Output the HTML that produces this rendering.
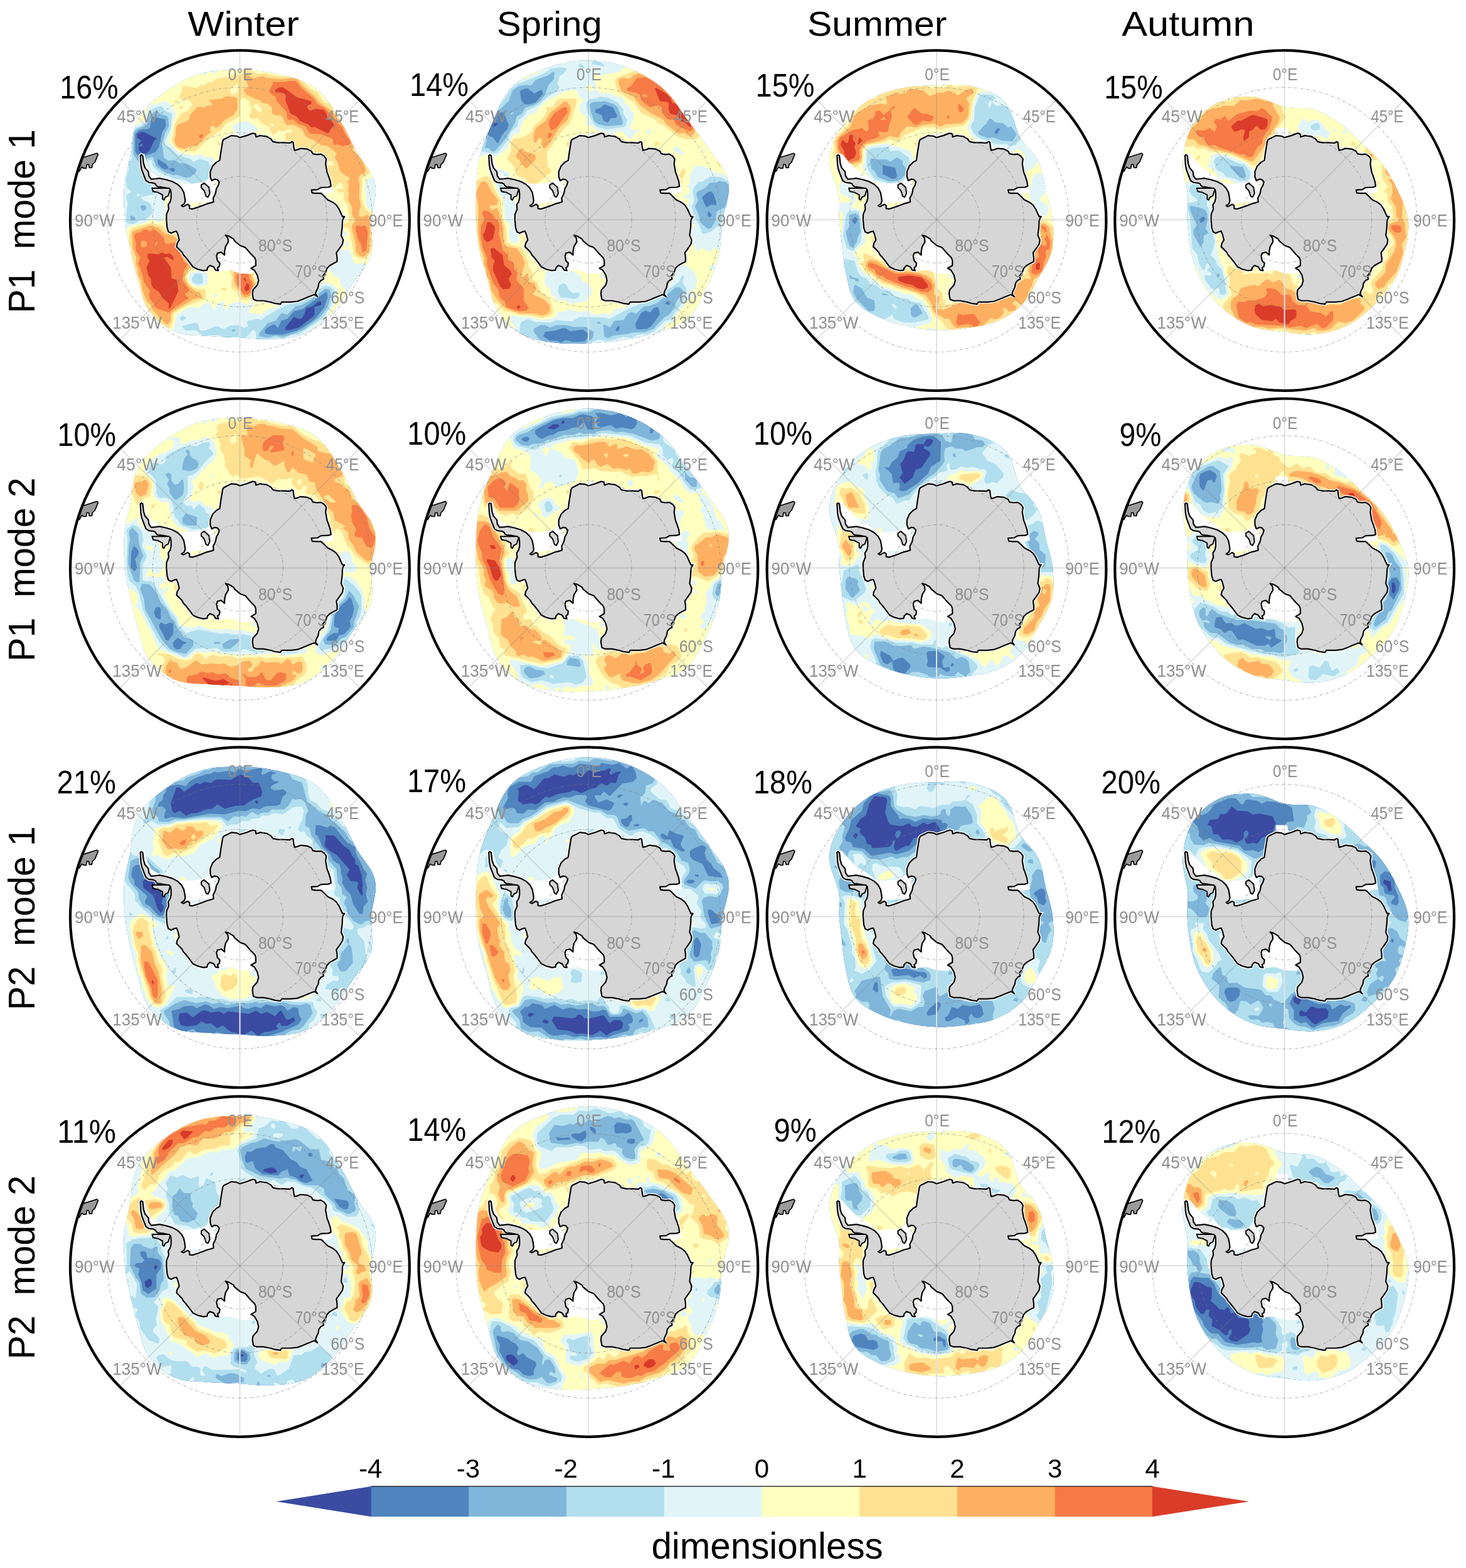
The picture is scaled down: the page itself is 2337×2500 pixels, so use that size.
<!DOCTYPE html><html><head><meta charset="utf-8"><title>Seasonal modes</title><style>html,body{margin:0;padding:0;background:#fff;}body{width:2337px;height:2500px;overflow:hidden;}svg{display:block;}text{font-family:"Liberation Sans",Arial,sans-serif;}</style></head><body>
<svg xmlns="http://www.w3.org/2000/svg" width="2337" height="2500" viewBox="0 0 2337 2500">
<rect width="2337" height="2500" fill="#fff"/>
<defs>
<path id="land" d="M-157.2,-103.5 -154.9,-102.2 -153.4,-89.4 -151.2,-82.7 -145.9,-76.6 -145.1,-69.8 -141.4,-64.6 -133.8,-65.3 -127.8,-66.1 -117.2,-63.8 -107.5,-60.8 -99.2,-56.3 -93.1,-50.3 -89.4,-43.5 -87.9,-35.9 -87.1,-29.9 -88.6,-25.4 -93.1,-22.4 -90.1,-20.9 -83.3,-24.6 -80.3,-22.4 -80.3,-17.8 -75.8,-17.1 -68.3,-19.4 -60,-22.4 -52.4,-25.4 -46.4,-26.9 -41.9,-28.4 -42.6,-34.4 -38.9,-41.9 -37.4,-49.5 -34.4,-54.8 -32.9,-60 -35.9,-63.8 -40.4,-64.6 -44.9,-62.3 -47.2,-68.3 -47.2,-76.6 -43.4,-85.7 -37.4,-91.7 -32.1,-94.7 -30.6,-106 -29.1,-115.2 -27.4,-125.6 -25.7,-128.1 -17,-132.4 -13.6,-134.2 -5,-133.3 0,-131 10.8,-134.2 20.5,-137.9 24.8,-136.9 25.8,-132 32.3,-134.2 43.1,-132.6 49.5,-128.8 52.7,-124.5 60.3,-122.9 70,-122.9 79.7,-122.3 82.9,-124.5 85,-123.4 86.1,-114.8 87.2,-110.5 91.5,-111.6 96.9,-113.7 107.6,-112.6 114.1,-109.4 116.3,-105.1 122.7,-104 129.2,-104.6 134.6,-101.3 137.8,-96.5 136.7,-89 138.9,-76 141,-70.7 144.2,-61 145.3,-53.4 141,-51.8 129.2,-51.3 123.8,-48 114.1,-47.5 115.2,-42.7 120.6,-42.1 129.2,-42.1 133.5,-38.4 139.9,-31.9 148.5,-27.6 153.9,-23.3 158.2,-16.8 161.5,-9.3 163.6,-5 166.8,-5 164.7,-1.7 163.6,1.5 163.1,12.3 161.5,24.8 164.7,32.3 163.6,38.8 159.3,45.2 153.9,52.7 155,60.3 155,66.7 150.7,68.9 143.2,73.2 138.9,77.5 136.7,84 132.4,89.3 133.5,94.7 129.2,96.9 125.9,101.2 124.9,107.6 121.6,114.1 120.6,118.4 123.8,122.7 118.4,119.5 107.6,123.8 100.1,127 91.5,130.2 80.7,131.3 66.7,131.3 64.6,134.6 56,133.5 48.4,131.3 37.7,129.2 26.9,129.2 21.5,127 20,118 20.8,112 27.6,104.5 29.8,97 27.6,88 23,80.4 17.8,77.4 25.3,72.9 25.3,65.4 23.8,60.8 17,54 8.7,44.3 0.4,41.2 -8.6,33.7 -10.1,30.7 -17.7,26.2 -22.9,24.7 -19.2,29.2 -18.4,35.2 -22.9,42.8 -24.4,50.3 -24.4,56.3 -29.7,51.8 -35.7,53.3 -37.2,57.8 -35.7,65.4 -32,69.1 -32.7,74.4 -35.7,76.7 -34.2,81.2 -38.8,80.4 -41.8,75.2 -47.8,72.9 -51.6,76.7 -52.3,80.4 -58.3,81.2 -67.4,78.9 -74.9,75.2 -81,66.9 -87,59.3 -90,56.3 -92.4,51.7 -97.7,46.3 -101,43.1 -99.9,37.7 -96.7,32.3 -98.8,23.7 -101,18.3 -105.3,19.4 -109.6,21.5 -113.9,19.4 -116,12.9 -117.1,0 -117,-8.4 -113.5,-17 -114.2,-23.9 -111.2,-28.4 -109.7,-34.4 -109.7,-42 -110.5,-48 -115.7,-50.3 -123.3,-51.8 -130.1,-52.5 -133.1,-54 -134.6,-57 -137.6,-58.5 -145.1,-59.3 -149.7,-62.3 -152.7,-69.8 -156.4,-79.6 -157.9,-87.2 -158.7,-102.2Z"/>
<path id="isl" d="M-139.9,-50.3 -112.7,-50.3 -111.2,-48 -114.2,-38.2 -118.8,-35.9 -121,-31.4 -123.3,-32.9 -123.3,-39.7 -130.8,-43.5 -138.3,-45ZM-61.5,-55.5 -57,-58.5 -49.4,-51.8 -47.9,-41.9 -50.9,-35.9 -53.9,-37.4 -57,-46.5 -61.5,-51Z"/>
<path id="shelf" d="M-152.7,-106 -147.4,-87.2 -141.4,-75.9 -132.3,-69.8 -117.2,-66.1 -102.2,-59.3 -87.1,-57 -72,-57.8 -60.7,-59.3 -53.2,-63.1 -47.9,-68.3 -46.4,-75.9 -40,-60 -40,-30 -90,-25 -140,-60 -156,-100ZM-34,82 -15,80.5 0.4,85.7 18.5,86.5 24,80 25,60 0,40 -23,25 -24,55 -37,58 -34,80ZM112,-49 125,-51 141,-53 147,-54 149,-44 135,-41 116,-42Z"/>
<clipPath id="dom0"><path d="M0,-239 4.2,-238.9 8.3,-238.8 12.5,-238.7 16.7,-238.4 20.8,-238.2 25,-237.8 29.2,-237.4 33.3,-237 37.4,-236.4 41.6,-235.8 45.7,-235.2 49.8,-234.5 53.9,-233.6 58,-232.8 62.1,-231.8 66.2,-230.8 70.3,-229.9 74.4,-228.9 78.4,-227.8 82.5,-226.7 86.6,-225.6 90.6,-224.4 94.7,-223 98.6,-221.6 102.6,-220 106.4,-218.2 110.2,-216.3 113.9,-214.3 117.5,-212 121,-209.6 124.3,-206.9 127.5,-204.1 130.6,-201 133.4,-197.8 136.2,-194.5 138.9,-191.1 141.4,-187.6 143.8,-184.1 146.1,-180.5 148.4,-176.8 150.6,-173.2 152.7,-169.6 154.9,-166.1 157,-162.5 159.1,-159.1 161.2,-155.7 163.2,-152.2 165.2,-148.7 167.1,-145.2 168.9,-141.7 170.7,-138.2 172.4,-134.7 174.2,-131.2 175.9,-127.8 177.5,-124.3 179.2,-120.9 180.9,-117.5 182.7,-114.1 184.4,-110.8 186.2,-107.5 188.1,-104.3 190.1,-101.1 192.3,-98 194.5,-94.9 196.8,-91.8 199.1,-88.7 201.4,-85.5 203.7,-82.3 205.9,-79 208,-75.7 209.9,-72.3 211.6,-68.8 213.2,-65.2 214.4,-61.5 215.4,-57.7 216,-53.9 216.4,-50 216.4,-46 216.2,-42 215.9,-38.1 215.3,-34.1 214.6,-30.2 213.8,-26.3 213,-22.4 212.1,-18.6 211.3,-14.8 210.5,-11 209.9,-7.3 209.3,-3.7 209,0 208.9,3.6 208.9,7.3 209,11 209.3,14.6 209.6,18.3 209.9,22.1 210.3,25.8 210.6,29.6 210.8,33.4 210.9,37.2 210.9,41 210.6,44.8 210.2,48.5 209.6,52.3 208.6,55.9 207.4,59.5 206,63 204.4,66.4 202.6,69.7 200.6,73 198.5,76.2 196.3,79.3 194.1,82.4 191.8,85.4 189.5,88.4 187.2,91.3 184.9,94.2 182.6,97.1 180.5,100 178.4,103 176.4,106 174.4,109 172.5,112 170.5,115 168.6,118.1 166.6,121.1 164.7,124.1 162.7,127.1 160.6,130.1 158.5,133 156.4,136 154.2,138.8 151.9,141.6 149.5,144.4 147.1,147.1 144.6,149.7 142,152.3 139.5,154.9 136.9,157.5 134.3,160 131.6,162.5 128.9,164.9 126.1,167.3 123.2,169.6 120.3,171.7 117.3,173.8 114.2,175.8 111,177.7 107.8,179.4 104.5,181 101.1,182.4 97.7,183.7 94.2,184.8 90.6,185.7 87,186.6 83.4,187.3 79.7,187.9 76.1,188.4 72.5,188.8 68.8,189.1 65.2,189.4 61.6,189.7 58.1,189.9 54.5,190.1 51,190.3 47.5,190.5 44,190.5 40.5,190.5 37,190.5 33.6,190.4 30.1,190.2 26.7,190 23.3,189.7 19.9,189.5 16.6,189.2 13.2,188.9 9.9,188.7 6.6,188.4 3.3,188.2 0,188 -3.3,187.8 -6.6,187.7 -9.8,187.6 -13.1,187.4 -16.4,187.3 -19.7,187.2 -23,187 -26.3,186.9 -29.6,186.7 -32.9,186.6 -36.2,186.4 -39.6,186.2 -42.9,186 -46.3,185.7 -49.7,185.5 -53.1,185.2 -56.6,185 -60.1,184.9 -63.6,184.8 -67.2,184.6 -70.8,184.5 -74.4,184.3 -78.1,184 -81.8,183.6 -85.4,183.1 -89,182.5 -92.6,181.8 -96.2,180.8 -99.6,179.7 -103,178.4 -106.3,176.9 -109.6,175.3 -112.7,173.6 -115.9,171.8 -118.9,169.9 -121.9,167.8 -124.9,165.7 -127.7,163.4 -130.4,161.1 -133.1,158.6 -135.7,156.1 -138.2,153.4 -140.5,150.7 -142.8,147.9 -145,145 -147,141.9 -148.8,138.8 -150.5,135.5 -152,132.1 -153.3,128.7 -154.6,125.2 -155.7,121.6 -156.7,118.1 -157.6,114.5 -158.5,111 -159.4,107.5 -160.2,104 -161,100.6 -161.9,97.3 -162.8,94 -163.8,90.8 -164.7,87.6 -165.6,84.4 -166.4,81.2 -167.3,78 -168.1,74.9 -169,71.7 -169.8,68.6 -170.5,65.5 -171.3,62.3 -172,59.2 -172.8,56.1 -173.5,53 -174.2,49.9 -174.8,46.8 -175.5,43.8 -176.1,40.7 -176.8,37.6 -177.4,34.5 -178,31.4 -178.6,28.3 -179.2,25.2 -179.8,22.1 -180.3,19 -180.9,15.8 -181.4,12.7 -181.8,9.5 -182.3,6.4 -182.6,3.2 -183,0 -183.3,-3.2 -183.6,-6.4 -183.9,-9.6 -184.2,-12.9 -184.4,-16.1 -184.6,-19.4 -184.8,-22.7 -184.9,-26 -185,-29.3 -185,-32.6 -185,-36 -185,-39.3 -184.9,-42.7 -184.7,-46.1 -184.5,-49.4 -184.2,-52.8 -183.8,-56.2 -183.3,-59.6 -182.8,-62.9 -182.2,-66.3 -181.5,-69.7 -180.9,-73.1 -180.1,-76.5 -179.4,-79.9 -178.6,-83.3 -177.9,-86.8 -177.1,-90.2 -176.4,-93.8 -175.6,-97.4 -174.9,-101 -174.3,-104.7 -173.7,-108.6 -173.2,-112.5 -172.7,-116.5 -172.2,-120.6 -171.7,-124.7 -171.1,-128.9 -170.4,-133.1 -169.6,-137.3 -168.6,-141.5 -167.5,-145.6 -166.3,-149.7 -164.8,-153.7 -163.1,-157.5 -161.2,-161.2 -159.1,-164.8 -156.9,-168.2 -154.4,-171.5 -151.9,-174.7 -149.2,-177.8 -146.4,-180.8 -143.5,-183.7 -140.5,-186.5 -137.5,-189.2 -134.3,-191.9 -131.2,-194.5 -127.9,-197 -124.6,-199.5 -121.3,-201.9 -118,-204.4 -114.6,-206.8 -111.2,-209.1 -107.7,-211.4 -104.2,-213.7 -100.6,-215.8 -97,-217.9 -93.4,-219.9 -89.6,-221.9 -85.9,-223.7 -82.1,-225.5 -78.2,-227.2 -74.3,-228.7 -70.4,-230.2 -66.4,-231.5 -62.4,-232.8 -58.3,-233.9 -54.2,-234.9 -50.1,-235.7 -46,-236.5 -41.8,-237.1 -37.6,-237.6 -33.5,-238 -29.3,-238.4 -25.1,-238.6 -20.9,-238.8 -16.7,-238.9 -12.5,-239 -8.3,-239 -4.2,-239Z"/></clipPath>
<mask id="gm0" maskUnits="userSpaceOnUse" x="-280" y="-280" width="560" height="560"><rect x="-280" y="-280" width="560" height="560" fill="#fff"/><path d="M0,-239 4.2,-238.9 8.3,-238.8 12.5,-238.7 16.7,-238.4 20.8,-238.2 25,-237.8 29.2,-237.4 33.3,-237 37.4,-236.4 41.6,-235.8 45.7,-235.2 49.8,-234.5 53.9,-233.6 58,-232.8 62.1,-231.8 66.2,-230.8 70.3,-229.9 74.4,-228.9 78.4,-227.8 82.5,-226.7 86.6,-225.6 90.6,-224.4 94.7,-223 98.6,-221.6 102.6,-220 106.4,-218.2 110.2,-216.3 113.9,-214.3 117.5,-212 121,-209.6 124.3,-206.9 127.5,-204.1 130.6,-201 133.4,-197.8 136.2,-194.5 138.9,-191.1 141.4,-187.6 143.8,-184.1 146.1,-180.5 148.4,-176.8 150.6,-173.2 152.7,-169.6 154.9,-166.1 157,-162.5 159.1,-159.1 161.2,-155.7 163.2,-152.2 165.2,-148.7 167.1,-145.2 168.9,-141.7 170.7,-138.2 172.4,-134.7 174.2,-131.2 175.9,-127.8 177.5,-124.3 179.2,-120.9 180.9,-117.5 182.7,-114.1 184.4,-110.8 186.2,-107.5 188.1,-104.3 190.1,-101.1 192.3,-98 194.5,-94.9 196.8,-91.8 199.1,-88.7 201.4,-85.5 203.7,-82.3 205.9,-79 208,-75.7 209.9,-72.3 211.6,-68.8 213.2,-65.2 214.4,-61.5 215.4,-57.7 216,-53.9 216.4,-50 216.4,-46 216.2,-42 215.9,-38.1 215.3,-34.1 214.6,-30.2 213.8,-26.3 213,-22.4 212.1,-18.6 211.3,-14.8 210.5,-11 209.9,-7.3 209.3,-3.7 209,0 208.9,3.6 208.9,7.3 209,11 209.3,14.6 209.6,18.3 209.9,22.1 210.3,25.8 210.6,29.6 210.8,33.4 210.9,37.2 210.9,41 210.6,44.8 210.2,48.5 209.6,52.3 208.6,55.9 207.4,59.5 206,63 204.4,66.4 202.6,69.7 200.6,73 198.5,76.2 196.3,79.3 194.1,82.4 191.8,85.4 189.5,88.4 187.2,91.3 184.9,94.2 182.6,97.1 180.5,100 178.4,103 176.4,106 174.4,109 172.5,112 170.5,115 168.6,118.1 166.6,121.1 164.7,124.1 162.7,127.1 160.6,130.1 158.5,133 156.4,136 154.2,138.8 151.9,141.6 149.5,144.4 147.1,147.1 144.6,149.7 142,152.3 139.5,154.9 136.9,157.5 134.3,160 131.6,162.5 128.9,164.9 126.1,167.3 123.2,169.6 120.3,171.7 117.3,173.8 114.2,175.8 111,177.7 107.8,179.4 104.5,181 101.1,182.4 97.7,183.7 94.2,184.8 90.6,185.7 87,186.6 83.4,187.3 79.7,187.9 76.1,188.4 72.5,188.8 68.8,189.1 65.2,189.4 61.6,189.7 58.1,189.9 54.5,190.1 51,190.3 47.5,190.5 44,190.5 40.5,190.5 37,190.5 33.6,190.4 30.1,190.2 26.7,190 23.3,189.7 19.9,189.5 16.6,189.2 13.2,188.9 9.9,188.7 6.6,188.4 3.3,188.2 0,188 -3.3,187.8 -6.6,187.7 -9.8,187.6 -13.1,187.4 -16.4,187.3 -19.7,187.2 -23,187 -26.3,186.9 -29.6,186.7 -32.9,186.6 -36.2,186.4 -39.6,186.2 -42.9,186 -46.3,185.7 -49.7,185.5 -53.1,185.2 -56.6,185 -60.1,184.9 -63.6,184.8 -67.2,184.6 -70.8,184.5 -74.4,184.3 -78.1,184 -81.8,183.6 -85.4,183.1 -89,182.5 -92.6,181.8 -96.2,180.8 -99.6,179.7 -103,178.4 -106.3,176.9 -109.6,175.3 -112.7,173.6 -115.9,171.8 -118.9,169.9 -121.9,167.8 -124.9,165.7 -127.7,163.4 -130.4,161.1 -133.1,158.6 -135.7,156.1 -138.2,153.4 -140.5,150.7 -142.8,147.9 -145,145 -147,141.9 -148.8,138.8 -150.5,135.5 -152,132.1 -153.3,128.7 -154.6,125.2 -155.7,121.6 -156.7,118.1 -157.6,114.5 -158.5,111 -159.4,107.5 -160.2,104 -161,100.6 -161.9,97.3 -162.8,94 -163.8,90.8 -164.7,87.6 -165.6,84.4 -166.4,81.2 -167.3,78 -168.1,74.9 -169,71.7 -169.8,68.6 -170.5,65.5 -171.3,62.3 -172,59.2 -172.8,56.1 -173.5,53 -174.2,49.9 -174.8,46.8 -175.5,43.8 -176.1,40.7 -176.8,37.6 -177.4,34.5 -178,31.4 -178.6,28.3 -179.2,25.2 -179.8,22.1 -180.3,19 -180.9,15.8 -181.4,12.7 -181.8,9.5 -182.3,6.4 -182.6,3.2 -183,0 -183.3,-3.2 -183.6,-6.4 -183.9,-9.6 -184.2,-12.9 -184.4,-16.1 -184.6,-19.4 -184.8,-22.7 -184.9,-26 -185,-29.3 -185,-32.6 -185,-36 -185,-39.3 -184.9,-42.7 -184.7,-46.1 -184.5,-49.4 -184.2,-52.8 -183.8,-56.2 -183.3,-59.6 -182.8,-62.9 -182.2,-66.3 -181.5,-69.7 -180.9,-73.1 -180.1,-76.5 -179.4,-79.9 -178.6,-83.3 -177.9,-86.8 -177.1,-90.2 -176.4,-93.8 -175.6,-97.4 -174.9,-101 -174.3,-104.7 -173.7,-108.6 -173.2,-112.5 -172.7,-116.5 -172.2,-120.6 -171.7,-124.7 -171.1,-128.9 -170.4,-133.1 -169.6,-137.3 -168.6,-141.5 -167.5,-145.6 -166.3,-149.7 -164.8,-153.7 -163.1,-157.5 -161.2,-161.2 -159.1,-164.8 -156.9,-168.2 -154.4,-171.5 -151.9,-174.7 -149.2,-177.8 -146.4,-180.8 -143.5,-183.7 -140.5,-186.5 -137.5,-189.2 -134.3,-191.9 -131.2,-194.5 -127.9,-197 -124.6,-199.5 -121.3,-201.9 -118,-204.4 -114.6,-206.8 -111.2,-209.1 -107.7,-211.4 -104.2,-213.7 -100.6,-215.8 -97,-217.9 -93.4,-219.9 -89.6,-221.9 -85.9,-223.7 -82.1,-225.5 -78.2,-227.2 -74.3,-228.7 -70.4,-230.2 -66.4,-231.5 -62.4,-232.8 -58.3,-233.9 -54.2,-234.9 -50.1,-235.7 -46,-236.5 -41.8,-237.1 -37.6,-237.6 -33.5,-238 -29.3,-238.4 -25.1,-238.6 -20.9,-238.8 -16.7,-238.9 -12.5,-239 -8.3,-239 -4.2,-239Z" fill="#000"/><use href="#land" fill="#fff"/><use href="#shelf" fill="#fff"/></mask>
<clipPath id="dom1"><path d="M0,-254 4.4,-253.9 8.9,-253.7 13.3,-253.4 17.7,-253 22.1,-252.4 26.5,-251.8 30.8,-251.1 35.2,-250.2 39.5,-249.3 43.8,-248.2 48,-247.1 52.2,-245.8 56.4,-244.5 60.6,-243 64.7,-241.5 68.8,-239.9 72.8,-238.1 76.8,-236.3 80.7,-234.4 84.6,-232.4 88.4,-230.3 92.2,-228.2 95.9,-225.9 99.5,-223.6 103.1,-221.1 106.6,-218.6 110.1,-216.1 113.5,-213.4 116.8,-210.7 120,-207.8 123.1,-204.9 126.1,-201.9 129,-198.7 131.8,-195.5 134.5,-192.1 137.1,-188.8 139.7,-185.3 142.1,-181.9 144.5,-178.4 146.8,-175 149.2,-171.6 151.4,-168.2 153.7,-164.9 156.1,-161.6 158.4,-158.4 160.8,-155.2 163.1,-152.1 165.5,-149 167.9,-145.9 170.2,-142.8 172.6,-139.8 175,-136.7 177.3,-133.6 179.6,-130.5 181.9,-127.4 184.2,-124.3 186.5,-121.1 188.7,-117.9 191,-114.7 193.1,-111.5 195.3,-108.3 197.6,-105.1 200,-101.9 202.4,-98.7 204.8,-95.5 207.1,-92.2 209.5,-88.9 211.8,-85.6 213.9,-82.1 216,-78.6 217.9,-75 219.6,-71.3 221,-67.6 222.2,-63.7 223.1,-59.8 223.7,-55.8 224,-51.7 223.9,-47.6 223.6,-43.5 223.1,-39.3 222.4,-35.2 221.5,-31.1 220.5,-27.1 219.5,-23.1 218.4,-19.1 217.4,-15.2 216.4,-11.3 215.4,-7.5 214.6,-3.7 214,0 213.5,3.7 213.1,7.4 212.7,11.1 212.4,14.9 212.2,18.6 211.9,22.3 211.6,26 211.3,29.7 211,33.4 210.7,37.1 210.3,40.9 209.8,44.6 209.2,48.3 208.5,52 207.7,55.6 206.8,59.3 205.8,62.9 204.7,66.5 203.6,70.1 202.5,73.7 201.2,77.2 199.9,80.8 198.6,84.3 197.2,87.8 195.8,91.3 194.3,94.8 192.7,98.2 191.2,101.7 189.6,105.1 187.9,108.5 186.3,111.9 184.7,115.4 183.1,118.9 181.4,122.4 179.8,125.9 178,129.4 176.3,132.8 174.4,136.2 172.4,139.6 170.3,142.9 168.1,146.1 165.7,149.2 163.2,152.2 160.5,155 157.7,157.7 154.7,160.2 151.5,162.4 148.2,164.5 144.7,166.5 141.2,168.3 137.6,169.9 133.9,171.4 130.3,172.8 126.5,174.2 122.8,175.4 119.1,176.6 115.4,177.7 111.7,178.8 108.1,179.9 104.5,181 100.9,182.1 97.4,183.1 93.8,184.1 90.2,185 86.7,185.9 83.1,186.7 79.6,187.4 76,188.1 72.5,188.8 68.9,189.4 65.4,190 61.9,190.6 58.4,191.2 55,191.7 51.5,192.2 48,192.7 44.6,193.2 41.2,193.6 37.7,194.1 34.3,194.4 30.9,194.8 27.4,195.2 24,195.5 20.6,195.8 17.2,196 13.7,196.3 10.3,196.5 6.9,196.7 3.4,196.9 0,197 -3.4,197.1 -6.9,197.3 -10.3,197.4 -13.8,197.5 -17.3,197.6 -20.8,197.6 -24.3,197.7 -27.8,197.7 -31.3,197.6 -34.8,197.5 -38.4,197.4 -41.9,197.1 -45.4,196.9 -49,196.5 -52.5,196.1 -56.1,195.6 -59.7,195.2 -63.3,194.7 -66.9,194.2 -70.5,193.6 -74.1,193 -77.7,192.3 -81.3,191.5 -84.9,190.7 -88.5,189.7 -92,188.6 -95.5,187.3 -98.9,186 -102.2,184.4 -105.5,182.7 -108.7,180.9 -111.8,178.9 -114.9,176.9 -117.8,174.7 -120.7,172.4 -123.6,170.1 -126.3,167.6 -129,165.1 -131.5,162.4 -134,159.7 -136.4,156.9 -138.7,154 -140.9,151.1 -143,148 -145,145 -146.8,141.8 -148.5,138.5 -150,135 -151.3,131.6 -152.6,128 -153.7,124.4 -154.6,120.8 -155.5,117.2 -156.4,113.6 -157.2,110 -157.9,106.5 -158.7,103 -159.4,99.6 -160.2,96.3 -161.1,93 -162,89.8 -162.9,86.6 -163.8,83.5 -164.8,80.4 -165.7,77.3 -166.7,74.2 -167.6,71.1 -168.5,68.1 -169.4,65 -170.2,62 -171,58.9 -171.8,55.8 -172.6,52.8 -173.2,49.7 -173.9,46.6 -174.4,43.5 -175,40.4 -175.4,37.3 -175.9,34.2 -176.3,31.1 -176.7,28 -177.1,24.9 -177.4,21.8 -177.7,18.7 -177.9,15.6 -178.2,12.5 -178.4,9.4 -178.6,6.2 -178.8,3.1 -179,0 -179.2,-3.1 -179.3,-6.3 -179.4,-9.4 -179.4,-12.5 -179.5,-15.7 -179.5,-18.9 -179.5,-22 -179.4,-25.2 -179.4,-28.4 -179.3,-31.6 -179.2,-34.8 -179.1,-38.1 -179,-41.3 -178.8,-44.6 -178.7,-47.9 -178.5,-51.2 -178.4,-54.5 -178.2,-57.9 -178,-61.3 -177.8,-64.7 -177.6,-68.2 -177.4,-71.7 -177.1,-75.2 -176.7,-78.7 -176.3,-82.2 -175.8,-85.8 -175.3,-89.3 -174.7,-92.9 -174,-96.4 -173.2,-100 -172.3,-103.6 -171.4,-107.1 -170.3,-110.6 -169.2,-114.1 -168,-117.7 -166.8,-121.2 -165.5,-124.7 -164.1,-128.2 -162.7,-131.8 -161.3,-135.3 -159.8,-138.9 -158.2,-142.5 -156.7,-146.1 -155.1,-149.7 -153.4,-153.4 -151.8,-157.2 -150.2,-161.1 -148.6,-165 -147,-169.1 -145.3,-173.1 -143.5,-177.2 -141.7,-181.3 -139.7,-185.4 -137.6,-189.4 -135.4,-193.4 -133.1,-197.3 -130.6,-201 -127.9,-204.7 -125,-208.1 -122,-211.3 -118.8,-214.3 -115.5,-217.2 -112,-219.9 -108.5,-222.4 -104.8,-224.7 -101,-227 -97.2,-229 -93.3,-231 -89.4,-232.9 -85.4,-234.6 -81.4,-236.3 -77.3,-237.9 -73.2,-239.5 -69.1,-241 -65,-242.4 -60.8,-243.9 -56.6,-245.2 -52.4,-246.5 -48.1,-247.6 -43.9,-248.7 -39.6,-249.7 -35.2,-250.6 -30.9,-251.4 -26.5,-252.1 -22.1,-252.7 -17.7,-253.2 -13.3,-253.6 -8.9,-253.8 -4.4,-254Z"/></clipPath>
<mask id="gm1" maskUnits="userSpaceOnUse" x="-280" y="-280" width="560" height="560"><rect x="-280" y="-280" width="560" height="560" fill="#fff"/><path d="M0,-254 4.4,-253.9 8.9,-253.7 13.3,-253.4 17.7,-253 22.1,-252.4 26.5,-251.8 30.8,-251.1 35.2,-250.2 39.5,-249.3 43.8,-248.2 48,-247.1 52.2,-245.8 56.4,-244.5 60.6,-243 64.7,-241.5 68.8,-239.9 72.8,-238.1 76.8,-236.3 80.7,-234.4 84.6,-232.4 88.4,-230.3 92.2,-228.2 95.9,-225.9 99.5,-223.6 103.1,-221.1 106.6,-218.6 110.1,-216.1 113.5,-213.4 116.8,-210.7 120,-207.8 123.1,-204.9 126.1,-201.9 129,-198.7 131.8,-195.5 134.5,-192.1 137.1,-188.8 139.7,-185.3 142.1,-181.9 144.5,-178.4 146.8,-175 149.2,-171.6 151.4,-168.2 153.7,-164.9 156.1,-161.6 158.4,-158.4 160.8,-155.2 163.1,-152.1 165.5,-149 167.9,-145.9 170.2,-142.8 172.6,-139.8 175,-136.7 177.3,-133.6 179.6,-130.5 181.9,-127.4 184.2,-124.3 186.5,-121.1 188.7,-117.9 191,-114.7 193.1,-111.5 195.3,-108.3 197.6,-105.1 200,-101.9 202.4,-98.7 204.8,-95.5 207.1,-92.2 209.5,-88.9 211.8,-85.6 213.9,-82.1 216,-78.6 217.9,-75 219.6,-71.3 221,-67.6 222.2,-63.7 223.1,-59.8 223.7,-55.8 224,-51.7 223.9,-47.6 223.6,-43.5 223.1,-39.3 222.4,-35.2 221.5,-31.1 220.5,-27.1 219.5,-23.1 218.4,-19.1 217.4,-15.2 216.4,-11.3 215.4,-7.5 214.6,-3.7 214,0 213.5,3.7 213.1,7.4 212.7,11.1 212.4,14.9 212.2,18.6 211.9,22.3 211.6,26 211.3,29.7 211,33.4 210.7,37.1 210.3,40.9 209.8,44.6 209.2,48.3 208.5,52 207.7,55.6 206.8,59.3 205.8,62.9 204.7,66.5 203.6,70.1 202.5,73.7 201.2,77.2 199.9,80.8 198.6,84.3 197.2,87.8 195.8,91.3 194.3,94.8 192.7,98.2 191.2,101.7 189.6,105.1 187.9,108.5 186.3,111.9 184.7,115.4 183.1,118.9 181.4,122.4 179.8,125.9 178,129.4 176.3,132.8 174.4,136.2 172.4,139.6 170.3,142.9 168.1,146.1 165.7,149.2 163.2,152.2 160.5,155 157.7,157.7 154.7,160.2 151.5,162.4 148.2,164.5 144.7,166.5 141.2,168.3 137.6,169.9 133.9,171.4 130.3,172.8 126.5,174.2 122.8,175.4 119.1,176.6 115.4,177.7 111.7,178.8 108.1,179.9 104.5,181 100.9,182.1 97.4,183.1 93.8,184.1 90.2,185 86.7,185.9 83.1,186.7 79.6,187.4 76,188.1 72.5,188.8 68.9,189.4 65.4,190 61.9,190.6 58.4,191.2 55,191.7 51.5,192.2 48,192.7 44.6,193.2 41.2,193.6 37.7,194.1 34.3,194.4 30.9,194.8 27.4,195.2 24,195.5 20.6,195.8 17.2,196 13.7,196.3 10.3,196.5 6.9,196.7 3.4,196.9 0,197 -3.4,197.1 -6.9,197.3 -10.3,197.4 -13.8,197.5 -17.3,197.6 -20.8,197.6 -24.3,197.7 -27.8,197.7 -31.3,197.6 -34.8,197.5 -38.4,197.4 -41.9,197.1 -45.4,196.9 -49,196.5 -52.5,196.1 -56.1,195.6 -59.7,195.2 -63.3,194.7 -66.9,194.2 -70.5,193.6 -74.1,193 -77.7,192.3 -81.3,191.5 -84.9,190.7 -88.5,189.7 -92,188.6 -95.5,187.3 -98.9,186 -102.2,184.4 -105.5,182.7 -108.7,180.9 -111.8,178.9 -114.9,176.9 -117.8,174.7 -120.7,172.4 -123.6,170.1 -126.3,167.6 -129,165.1 -131.5,162.4 -134,159.7 -136.4,156.9 -138.7,154 -140.9,151.1 -143,148 -145,145 -146.8,141.8 -148.5,138.5 -150,135 -151.3,131.6 -152.6,128 -153.7,124.4 -154.6,120.8 -155.5,117.2 -156.4,113.6 -157.2,110 -157.9,106.5 -158.7,103 -159.4,99.6 -160.2,96.3 -161.1,93 -162,89.8 -162.9,86.6 -163.8,83.5 -164.8,80.4 -165.7,77.3 -166.7,74.2 -167.6,71.1 -168.5,68.1 -169.4,65 -170.2,62 -171,58.9 -171.8,55.8 -172.6,52.8 -173.2,49.7 -173.9,46.6 -174.4,43.5 -175,40.4 -175.4,37.3 -175.9,34.2 -176.3,31.1 -176.7,28 -177.1,24.9 -177.4,21.8 -177.7,18.7 -177.9,15.6 -178.2,12.5 -178.4,9.4 -178.6,6.2 -178.8,3.1 -179,0 -179.2,-3.1 -179.3,-6.3 -179.4,-9.4 -179.4,-12.5 -179.5,-15.7 -179.5,-18.9 -179.5,-22 -179.4,-25.2 -179.4,-28.4 -179.3,-31.6 -179.2,-34.8 -179.1,-38.1 -179,-41.3 -178.8,-44.6 -178.7,-47.9 -178.5,-51.2 -178.4,-54.5 -178.2,-57.9 -178,-61.3 -177.8,-64.7 -177.6,-68.2 -177.4,-71.7 -177.1,-75.2 -176.7,-78.7 -176.3,-82.2 -175.8,-85.8 -175.3,-89.3 -174.7,-92.9 -174,-96.4 -173.2,-100 -172.3,-103.6 -171.4,-107.1 -170.3,-110.6 -169.2,-114.1 -168,-117.7 -166.8,-121.2 -165.5,-124.7 -164.1,-128.2 -162.7,-131.8 -161.3,-135.3 -159.8,-138.9 -158.2,-142.5 -156.7,-146.1 -155.1,-149.7 -153.4,-153.4 -151.8,-157.2 -150.2,-161.1 -148.6,-165 -147,-169.1 -145.3,-173.1 -143.5,-177.2 -141.7,-181.3 -139.7,-185.4 -137.6,-189.4 -135.4,-193.4 -133.1,-197.3 -130.6,-201 -127.9,-204.7 -125,-208.1 -122,-211.3 -118.8,-214.3 -115.5,-217.2 -112,-219.9 -108.5,-222.4 -104.8,-224.7 -101,-227 -97.2,-229 -93.3,-231 -89.4,-232.9 -85.4,-234.6 -81.4,-236.3 -77.3,-237.9 -73.2,-239.5 -69.1,-241 -65,-242.4 -60.8,-243.9 -56.6,-245.2 -52.4,-246.5 -48.1,-247.6 -43.9,-248.7 -39.6,-249.7 -35.2,-250.6 -30.9,-251.4 -26.5,-252.1 -22.1,-252.7 -17.7,-253.2 -13.3,-253.6 -8.9,-253.8 -4.4,-254Z" fill="#000"/><use href="#land" fill="#fff"/><use href="#shelf" fill="#fff"/></mask>
<clipPath id="dom2"><path d="M0,-214 3.7,-214.1 7.5,-214.3 11.2,-214.5 15,-214.7 18.8,-214.8 22.6,-215 26.4,-215.1 30.2,-215.2 34.1,-215.1 37.9,-215 41.8,-214.8 45.6,-214.4 49.4,-214 53.2,-213.3 56.9,-212.5 60.7,-211.6 64.4,-210.6 68.1,-209.6 71.8,-208.5 75.5,-207.4 79.1,-206.1 82.7,-204.7 86.2,-203.2 89.7,-201.5 93.1,-199.7 96.4,-197.7 99.6,-195.6 102.7,-193.2 105.7,-190.7 108.5,-187.9 111.1,-184.9 113.5,-181.6 115.6,-178 117.5,-174.2 119.2,-170.3 120.8,-166.3 122.2,-162.2 123.5,-158.1 124.7,-154 125.8,-150 127,-146.1 128.1,-142.3 129.4,-138.7 130.7,-135.4 132.2,-132.2 133.9,-129.3 135.7,-126.5 137.6,-123.9 139.6,-121.4 141.7,-118.9 143.9,-116.5 146.1,-114.2 148.3,-111.8 150.5,-109.4 152.7,-106.9 154.8,-104.4 156.8,-101.8 158.7,-99.2 160.4,-96.4 161.9,-93.5 163.3,-90.5 164.5,-87.5 165.6,-84.4 166.6,-81.2 167.4,-78.1 168.2,-74.9 168.9,-71.7 169.6,-68.5 170.2,-65.3 170.7,-62.1 171.3,-59 171.9,-55.9 172.5,-52.7 173.2,-49.7 173.9,-46.6 174.6,-43.5 175.5,-40.5 176.3,-37.5 177.2,-34.4 178,-31.4 178.9,-28.3 179.8,-25.3 180.6,-22.2 181.4,-19.1 182.2,-15.9 182.9,-12.8 183.6,-9.6 184.1,-6.4 184.6,-3.2 185,0 185.3,3.2 185.6,6.5 185.9,9.7 186.1,13 186.3,16.3 186.4,19.6 186.4,22.9 186.4,26.2 186.3,29.5 186.1,32.8 185.8,36.1 185.4,39.4 184.9,42.7 184.3,45.9 183.5,49.2 182.7,52.4 181.6,55.5 180.5,58.6 179.2,61.7 177.9,64.7 176.4,67.7 174.9,70.7 173.4,73.6 171.8,76.5 170.1,79.3 168.5,82.2 166.8,85 165.2,87.8 163.5,90.7 161.9,93.5 160.4,96.4 158.9,99.3 157.4,102.2 155.9,105.1 154.3,108.1 152.8,111 151.2,113.9 149.6,116.9 147.9,119.7 146.1,122.6 144.2,125.4 142.3,128.1 140.2,130.8 138,133.3 135.8,135.8 133.4,138.1 130.9,140.4 128.4,142.6 125.8,144.7 123.1,146.7 120.4,148.7 117.6,150.5 114.8,152.3 111.9,154 109,155.7 106.1,157.2 103.1,158.7 100.1,160.2 97,161.5 94,162.8 90.9,164 87.8,165.1 84.6,166.1 81.5,167 78.2,167.8 75,168.5 71.8,169.2 68.6,169.8 65.4,170.3 62.2,170.8 59,171.2 55.8,171.7 52.6,172.1 49.5,172.5 46.3,172.9 43.2,173.3 40.1,173.7 37,174.1 33.9,174.4 30.8,174.7 27.7,175 24.6,175.3 21.6,175.5 18.5,175.7 15.4,175.9 12.3,176 9.2,176.1 6.1,176.1 3.1,176.1 0,176 -3.1,175.9 -6.1,175.7 -9.2,175.5 -12.3,175.3 -15.3,175 -18.4,174.6 -21.4,174.3 -24.4,173.9 -27.5,173.4 -30.5,172.9 -33.5,172.4 -36.5,171.9 -39.5,171.3 -42.5,170.7 -45.6,170 -48.6,169.3 -51.6,168.6 -54.6,167.9 -57.6,167.2 -60.6,166.4 -63.6,165.6 -66.6,164.7 -69.5,163.8 -72.5,162.9 -75.5,161.9 -78.4,160.8 -81.4,159.7 -84.3,158.5 -87.1,157.2 -90,155.9 -92.8,154.5 -95.7,153.2 -98.6,151.8 -101.4,150.4 -104.3,148.9 -107.1,147.4 -109.9,145.8 -112.6,144.1 -115.3,142.4 -117.9,140.5 -120.4,138.6 -122.9,136.5 -125.2,134.2 -127.4,131.9 -129.4,129.4 -131.3,126.8 -132.9,124 -134.5,121.1 -135.8,118.1 -137,115 -138.1,111.8 -139.1,108.7 -140,105.5 -140.7,102.2 -141.4,99 -142.1,95.8 -142.7,92.7 -143.3,89.6 -144,86.5 -144.6,83.5 -145.3,80.5 -145.9,77.6 -146.4,74.6 -146.9,71.7 -147.4,68.7 -147.8,65.8 -148.2,62.9 -148.5,60 -148.9,57.1 -149.2,54.3 -149.5,51.5 -149.8,48.7 -150.1,45.9 -150.4,43.1 -150.7,40.4 -151,37.6 -151.3,34.9 -151.6,32.2 -152,29.5 -152.3,26.9 -152.6,24.2 -152.9,21.5 -153.2,18.8 -153.5,16.1 -153.8,13.5 -154.1,10.8 -154.3,8.1 -154.6,5.4 -154.8,2.7 -155,0 -155.2,-2.7 -155.2,-5.4 -155.2,-8.1 -155.2,-10.9 -155.1,-13.6 -155,-16.3 -154.9,-19 -154.9,-21.8 -154.9,-24.5 -154.9,-27.3 -155,-30.1 -155.2,-33 -155.5,-35.9 -155.9,-38.9 -156.5,-41.9 -157.2,-45.1 -158.2,-48.4 -159.3,-51.8 -160.6,-55.3 -161.9,-58.9 -163.3,-62.7 -164.7,-66.5 -166,-70.5 -167.3,-74.5 -168.4,-78.5 -169.3,-82.6 -170,-86.6 -170.5,-90.7 -170.7,-94.6 -170.6,-98.5 -170.2,-102.3 -169.7,-106 -168.9,-109.7 -168,-113.3 -166.9,-116.9 -165.7,-120.4 -164.4,-123.8 -162.9,-127.3 -161.3,-130.6 -159.6,-133.9 -157.8,-137.2 -155.9,-140.4 -154,-143.6 -152,-146.8 -149.9,-149.9 -147.8,-153 -145.5,-156.1 -143.2,-159.1 -140.8,-162 -138.4,-164.9 -135.8,-167.7 -133.2,-170.5 -130.5,-173.1 -127.7,-175.7 -124.8,-178.3 -121.9,-180.7 -118.9,-183.1 -115.8,-185.4 -112.7,-187.6 -109.5,-189.7 -106.2,-191.7 -102.9,-193.5 -99.5,-195.3 -96.1,-197 -92.6,-198.5 -89,-200 -85.5,-201.3 -81.9,-202.6 -78.2,-203.8 -74.6,-204.9 -70.9,-206 -67.2,-207 -63.6,-207.9 -59.9,-208.8 -56.2,-209.6 -52.5,-210.4 -48.7,-211 -45,-211.6 -41.2,-212.1 -37.5,-212.5 -33.7,-212.8 -29.9,-213 -26.2,-213.3 -22.4,-213.4 -18.7,-213.6 -14.9,-213.7 -11.2,-213.7 -7.5,-213.8 -3.7,-213.9Z"/></clipPath>
<mask id="gm2" maskUnits="userSpaceOnUse" x="-280" y="-280" width="560" height="560"><rect x="-280" y="-280" width="560" height="560" fill="#fff"/><path d="M0,-214 3.7,-214.1 7.5,-214.3 11.2,-214.5 15,-214.7 18.8,-214.8 22.6,-215 26.4,-215.1 30.2,-215.2 34.1,-215.1 37.9,-215 41.8,-214.8 45.6,-214.4 49.4,-214 53.2,-213.3 56.9,-212.5 60.7,-211.6 64.4,-210.6 68.1,-209.6 71.8,-208.5 75.5,-207.4 79.1,-206.1 82.7,-204.7 86.2,-203.2 89.7,-201.5 93.1,-199.7 96.4,-197.7 99.6,-195.6 102.7,-193.2 105.7,-190.7 108.5,-187.9 111.1,-184.9 113.5,-181.6 115.6,-178 117.5,-174.2 119.2,-170.3 120.8,-166.3 122.2,-162.2 123.5,-158.1 124.7,-154 125.8,-150 127,-146.1 128.1,-142.3 129.4,-138.7 130.7,-135.4 132.2,-132.2 133.9,-129.3 135.7,-126.5 137.6,-123.9 139.6,-121.4 141.7,-118.9 143.9,-116.5 146.1,-114.2 148.3,-111.8 150.5,-109.4 152.7,-106.9 154.8,-104.4 156.8,-101.8 158.7,-99.2 160.4,-96.4 161.9,-93.5 163.3,-90.5 164.5,-87.5 165.6,-84.4 166.6,-81.2 167.4,-78.1 168.2,-74.9 168.9,-71.7 169.6,-68.5 170.2,-65.3 170.7,-62.1 171.3,-59 171.9,-55.9 172.5,-52.7 173.2,-49.7 173.9,-46.6 174.6,-43.5 175.5,-40.5 176.3,-37.5 177.2,-34.4 178,-31.4 178.9,-28.3 179.8,-25.3 180.6,-22.2 181.4,-19.1 182.2,-15.9 182.9,-12.8 183.6,-9.6 184.1,-6.4 184.6,-3.2 185,0 185.3,3.2 185.6,6.5 185.9,9.7 186.1,13 186.3,16.3 186.4,19.6 186.4,22.9 186.4,26.2 186.3,29.5 186.1,32.8 185.8,36.1 185.4,39.4 184.9,42.7 184.3,45.9 183.5,49.2 182.7,52.4 181.6,55.5 180.5,58.6 179.2,61.7 177.9,64.7 176.4,67.7 174.9,70.7 173.4,73.6 171.8,76.5 170.1,79.3 168.5,82.2 166.8,85 165.2,87.8 163.5,90.7 161.9,93.5 160.4,96.4 158.9,99.3 157.4,102.2 155.9,105.1 154.3,108.1 152.8,111 151.2,113.9 149.6,116.9 147.9,119.7 146.1,122.6 144.2,125.4 142.3,128.1 140.2,130.8 138,133.3 135.8,135.8 133.4,138.1 130.9,140.4 128.4,142.6 125.8,144.7 123.1,146.7 120.4,148.7 117.6,150.5 114.8,152.3 111.9,154 109,155.7 106.1,157.2 103.1,158.7 100.1,160.2 97,161.5 94,162.8 90.9,164 87.8,165.1 84.6,166.1 81.5,167 78.2,167.8 75,168.5 71.8,169.2 68.6,169.8 65.4,170.3 62.2,170.8 59,171.2 55.8,171.7 52.6,172.1 49.5,172.5 46.3,172.9 43.2,173.3 40.1,173.7 37,174.1 33.9,174.4 30.8,174.7 27.7,175 24.6,175.3 21.6,175.5 18.5,175.7 15.4,175.9 12.3,176 9.2,176.1 6.1,176.1 3.1,176.1 0,176 -3.1,175.9 -6.1,175.7 -9.2,175.5 -12.3,175.3 -15.3,175 -18.4,174.6 -21.4,174.3 -24.4,173.9 -27.5,173.4 -30.5,172.9 -33.5,172.4 -36.5,171.9 -39.5,171.3 -42.5,170.7 -45.6,170 -48.6,169.3 -51.6,168.6 -54.6,167.9 -57.6,167.2 -60.6,166.4 -63.6,165.6 -66.6,164.7 -69.5,163.8 -72.5,162.9 -75.5,161.9 -78.4,160.8 -81.4,159.7 -84.3,158.5 -87.1,157.2 -90,155.9 -92.8,154.5 -95.7,153.2 -98.6,151.8 -101.4,150.4 -104.3,148.9 -107.1,147.4 -109.9,145.8 -112.6,144.1 -115.3,142.4 -117.9,140.5 -120.4,138.6 -122.9,136.5 -125.2,134.2 -127.4,131.9 -129.4,129.4 -131.3,126.8 -132.9,124 -134.5,121.1 -135.8,118.1 -137,115 -138.1,111.8 -139.1,108.7 -140,105.5 -140.7,102.2 -141.4,99 -142.1,95.8 -142.7,92.7 -143.3,89.6 -144,86.5 -144.6,83.5 -145.3,80.5 -145.9,77.6 -146.4,74.6 -146.9,71.7 -147.4,68.7 -147.8,65.8 -148.2,62.9 -148.5,60 -148.9,57.1 -149.2,54.3 -149.5,51.5 -149.8,48.7 -150.1,45.9 -150.4,43.1 -150.7,40.4 -151,37.6 -151.3,34.9 -151.6,32.2 -152,29.5 -152.3,26.9 -152.6,24.2 -152.9,21.5 -153.2,18.8 -153.5,16.1 -153.8,13.5 -154.1,10.8 -154.3,8.1 -154.6,5.4 -154.8,2.7 -155,0 -155.2,-2.7 -155.2,-5.4 -155.2,-8.1 -155.2,-10.9 -155.1,-13.6 -155,-16.3 -154.9,-19 -154.9,-21.8 -154.9,-24.5 -154.9,-27.3 -155,-30.1 -155.2,-33 -155.5,-35.9 -155.9,-38.9 -156.5,-41.9 -157.2,-45.1 -158.2,-48.4 -159.3,-51.8 -160.6,-55.3 -161.9,-58.9 -163.3,-62.7 -164.7,-66.5 -166,-70.5 -167.3,-74.5 -168.4,-78.5 -169.3,-82.6 -170,-86.6 -170.5,-90.7 -170.7,-94.6 -170.6,-98.5 -170.2,-102.3 -169.7,-106 -168.9,-109.7 -168,-113.3 -166.9,-116.9 -165.7,-120.4 -164.4,-123.8 -162.9,-127.3 -161.3,-130.6 -159.6,-133.9 -157.8,-137.2 -155.9,-140.4 -154,-143.6 -152,-146.8 -149.9,-149.9 -147.8,-153 -145.5,-156.1 -143.2,-159.1 -140.8,-162 -138.4,-164.9 -135.8,-167.7 -133.2,-170.5 -130.5,-173.1 -127.7,-175.7 -124.8,-178.3 -121.9,-180.7 -118.9,-183.1 -115.8,-185.4 -112.7,-187.6 -109.5,-189.7 -106.2,-191.7 -102.9,-193.5 -99.5,-195.3 -96.1,-197 -92.6,-198.5 -89,-200 -85.5,-201.3 -81.9,-202.6 -78.2,-203.8 -74.6,-204.9 -70.9,-206 -67.2,-207 -63.6,-207.9 -59.9,-208.8 -56.2,-209.6 -52.5,-210.4 -48.7,-211 -45,-211.6 -41.2,-212.1 -37.5,-212.5 -33.7,-212.8 -29.9,-213 -26.2,-213.3 -22.4,-213.4 -18.7,-213.6 -14.9,-213.7 -11.2,-213.7 -7.5,-213.8 -3.7,-213.9Z" fill="#000"/><use href="#land" fill="#fff"/><use href="#shelf" fill="#fff"/></mask>
<clipPath id="dom3"><path d="M0,-180 3.1,-179.4 6.2,-179 9.4,-178.7 12.5,-178.5 15.6,-178.4 18.7,-178.4 21.9,-178.3 25.1,-178.3 28.2,-178.3 31.4,-178.2 34.6,-178 37.8,-177.7 40.9,-177.2 44,-176.6 47.1,-175.8 50.1,-174.8 53.1,-173.7 56.1,-172.6 59,-171.3 61.8,-169.9 64.7,-168.5 67.5,-167 70.2,-165.4 72.9,-163.8 75.6,-162.1 78.2,-160.4 80.8,-158.6 83.4,-156.9 86,-155.1 88.5,-153.3 91,-151.4 93.4,-149.5 95.8,-147.6 98.2,-145.6 100.5,-143.5 102.8,-141.5 105,-139.4 107.2,-137.2 109.4,-135.1 111.6,-133 113.7,-130.8 115.9,-128.7 118,-126.5 120.2,-124.4 122.3,-122.3 124.5,-120.3 126.7,-118.2 129,-116.1 131.2,-114.1 133.5,-112 135.7,-109.9 138,-107.8 140.2,-105.7 142.4,-103.5 144.6,-101.3 146.8,-99 148.9,-96.7 151,-94.4 153,-92 155,-89.5 156.9,-87 158.8,-84.4 160.6,-81.8 162.4,-79.2 164.1,-76.5 165.8,-73.8 167.5,-71.1 169.1,-68.3 170.7,-65.5 172.3,-62.7 173.8,-59.8 175.3,-57 176.8,-54 178.2,-51.1 179.7,-48.1 181.1,-45.2 182.5,-42.1 184,-39.1 185.4,-36 186.9,-32.9 188.2,-29.8 189.6,-26.6 190.9,-23.4 192.1,-20.2 193.2,-16.9 194.2,-13.6 195.1,-10.2 195.9,-6.8 196.5,-3.4 197,0 197.3,3.4 197.5,6.9 197.6,10.4 197.5,13.8 197.3,17.3 197,20.7 196.6,24.1 196.1,27.6 195.6,31 195,34.4 194.3,37.8 193.6,41.1 192.8,44.5 192,47.9 191.3,51.2 190.4,54.6 189.6,58 188.7,61.3 187.8,64.7 186.8,68 185.8,71.3 184.7,74.6 183.5,77.9 182.3,81.1 181,84.4 179.6,87.6 178.1,90.8 176.6,93.9 174.9,97 173.2,100 171.4,103 169.5,105.9 167.5,108.8 165.4,111.6 163.3,114.3 161,117 158.8,119.7 156.5,122.2 154.1,124.8 151.7,127.3 149.3,129.8 146.8,132.2 144.3,134.6 141.8,137 139.3,139.3 136.8,141.6 134.2,143.9 131.7,146.2 129.1,148.5 126.5,150.7 123.8,152.9 121.1,155 118.4,157.1 115.6,159.2 112.8,161.1 110,163 107,164.8 104.1,166.6 101.1,168.2 98,169.7 94.9,171.2 91.7,172.5 88.5,173.8 85.3,174.9 82.1,176 78.8,177 75.5,177.9 72.2,178.8 68.9,179.5 65.6,180.2 62.3,180.8 58.9,181.4 55.6,181.8 52.3,182.2 48.9,182.6 45.6,182.8 42.2,182.9 38.9,183 35.6,182.9 32.2,182.7 28.9,182.5 25.6,182.2 22.3,181.9 19.1,181.5 15.8,181.1 12.6,180.7 9.4,180.2 6.3,179.8 3.1,179.4 0,179 -3.1,178.7 -6.2,178.3 -9.3,178 -12.4,177.7 -15.5,177.4 -18.6,177.1 -21.7,176.8 -24.8,176.4 -27.9,176 -30.9,175.5 -34,175 -37.1,174.4 -40.1,173.6 -43.1,172.8 -46.1,171.9 -49,170.9 -51.9,169.9 -54.8,168.7 -57.7,167.5 -60.5,166.3 -63.3,165 -66.1,163.6 -68.8,162.2 -71.5,160.7 -74.2,159.1 -76.8,157.5 -79.4,155.9 -82,154.2 -84.5,152.5 -87,150.7 -89.4,148.9 -91.8,147 -94.2,145 -96.5,143 -98.7,141 -100.9,138.9 -103.1,136.8 -105.2,134.7 -107.3,132.5 -109.3,130.3 -111.3,128 -113.2,125.8 -115.1,123.5 -117,121.1 -118.8,118.8 -120.6,116.4 -122.3,114 -124,111.6 -125.6,109.2 -127.2,106.7 -128.7,104.2 -130.2,101.7 -131.6,99.2 -133,96.6 -134.3,94.1 -135.6,91.5 -136.9,88.9 -138.1,86.3 -139.2,83.6 -140.3,81 -141.3,78.3 -142.3,75.7 -143.2,73 -144,70.3 -144.8,67.5 -145.6,64.8 -146.3,62.1 -146.9,59.4 -147.5,56.6 -148.1,53.9 -148.7,51.2 -149.2,48.5 -149.7,45.8 -150.2,43.1 -150.7,40.4 -151.1,37.7 -151.6,35 -152,32.3 -152.4,29.6 -152.7,26.9 -153,24.2 -153.3,21.6 -153.6,18.9 -153.9,16.2 -154.1,13.5 -154.3,10.8 -154.5,8.1 -154.7,5.4 -154.9,2.7 -155,0 -155.1,-2.7 -155.1,-5.4 -155.1,-8.1 -155,-10.8 -154.8,-13.5 -154.7,-16.3 -154.5,-19 -154.3,-21.7 -154.2,-24.4 -154.1,-27.2 -154,-29.9 -154.1,-32.7 -154.1,-35.6 -154.3,-38.5 -154.5,-41.4 -154.9,-44.4 -155.4,-47.5 -156,-50.7 -156.7,-54 -157.5,-57.3 -158.2,-60.7 -158.9,-64.2 -159.7,-67.8 -160.3,-71.4 -160.9,-75 -161.4,-78.7 -161.8,-82.4 -162,-86.1 -162.1,-89.8 -161.9,-93.5 -161.7,-97.2 -161.4,-100.8 -161,-104.6 -160.5,-108.3 -160,-112 -159.3,-115.8 -158.6,-119.5 -157.7,-123.2 -156.7,-126.9 -155.5,-130.5 -154.3,-134.1 -152.9,-137.6 -151.3,-141.1 -149.6,-144.5 -147.8,-147.8 -145.8,-151 -143.7,-154.1 -141.5,-157.2 -139.2,-160.2 -136.8,-163.1 -134.3,-165.9 -131.7,-168.6 -129,-171.2 -126.2,-173.7 -123.3,-176.1 -120.3,-178.3 -117.2,-180.5 -114.1,-182.5 -110.8,-184.4 -107.5,-186.2 -104.1,-187.8 -100.6,-189.3 -97.1,-190.6 -93.5,-191.8 -89.9,-192.8 -86.2,-193.7 -82.5,-194.4 -78.8,-195.1 -75.1,-195.5 -71.3,-195.9 -67.5,-196.2 -63.8,-196.3 -60,-196.3 -56.3,-196.2 -52.5,-196.1 -48.8,-195.7 -45.1,-195.2 -41.3,-194.4 -37.6,-193.4 -33.9,-192.3 -30.3,-191 -26.7,-189.7 -23.1,-188.3 -19.6,-186.9 -16.2,-185.5 -12.9,-184.2 -9.6,-182.9 -6.3,-181.8 -3.2,-180.8Z"/></clipPath>
<mask id="gm3" maskUnits="userSpaceOnUse" x="-280" y="-280" width="560" height="560"><rect x="-280" y="-280" width="560" height="560" fill="#fff"/><path d="M0,-180 3.1,-179.4 6.2,-179 9.4,-178.7 12.5,-178.5 15.6,-178.4 18.7,-178.4 21.9,-178.3 25.1,-178.3 28.2,-178.3 31.4,-178.2 34.6,-178 37.8,-177.7 40.9,-177.2 44,-176.6 47.1,-175.8 50.1,-174.8 53.1,-173.7 56.1,-172.6 59,-171.3 61.8,-169.9 64.7,-168.5 67.5,-167 70.2,-165.4 72.9,-163.8 75.6,-162.1 78.2,-160.4 80.8,-158.6 83.4,-156.9 86,-155.1 88.5,-153.3 91,-151.4 93.4,-149.5 95.8,-147.6 98.2,-145.6 100.5,-143.5 102.8,-141.5 105,-139.4 107.2,-137.2 109.4,-135.1 111.6,-133 113.7,-130.8 115.9,-128.7 118,-126.5 120.2,-124.4 122.3,-122.3 124.5,-120.3 126.7,-118.2 129,-116.1 131.2,-114.1 133.5,-112 135.7,-109.9 138,-107.8 140.2,-105.7 142.4,-103.5 144.6,-101.3 146.8,-99 148.9,-96.7 151,-94.4 153,-92 155,-89.5 156.9,-87 158.8,-84.4 160.6,-81.8 162.4,-79.2 164.1,-76.5 165.8,-73.8 167.5,-71.1 169.1,-68.3 170.7,-65.5 172.3,-62.7 173.8,-59.8 175.3,-57 176.8,-54 178.2,-51.1 179.7,-48.1 181.1,-45.2 182.5,-42.1 184,-39.1 185.4,-36 186.9,-32.9 188.2,-29.8 189.6,-26.6 190.9,-23.4 192.1,-20.2 193.2,-16.9 194.2,-13.6 195.1,-10.2 195.9,-6.8 196.5,-3.4 197,0 197.3,3.4 197.5,6.9 197.6,10.4 197.5,13.8 197.3,17.3 197,20.7 196.6,24.1 196.1,27.6 195.6,31 195,34.4 194.3,37.8 193.6,41.1 192.8,44.5 192,47.9 191.3,51.2 190.4,54.6 189.6,58 188.7,61.3 187.8,64.7 186.8,68 185.8,71.3 184.7,74.6 183.5,77.9 182.3,81.1 181,84.4 179.6,87.6 178.1,90.8 176.6,93.9 174.9,97 173.2,100 171.4,103 169.5,105.9 167.5,108.8 165.4,111.6 163.3,114.3 161,117 158.8,119.7 156.5,122.2 154.1,124.8 151.7,127.3 149.3,129.8 146.8,132.2 144.3,134.6 141.8,137 139.3,139.3 136.8,141.6 134.2,143.9 131.7,146.2 129.1,148.5 126.5,150.7 123.8,152.9 121.1,155 118.4,157.1 115.6,159.2 112.8,161.1 110,163 107,164.8 104.1,166.6 101.1,168.2 98,169.7 94.9,171.2 91.7,172.5 88.5,173.8 85.3,174.9 82.1,176 78.8,177 75.5,177.9 72.2,178.8 68.9,179.5 65.6,180.2 62.3,180.8 58.9,181.4 55.6,181.8 52.3,182.2 48.9,182.6 45.6,182.8 42.2,182.9 38.9,183 35.6,182.9 32.2,182.7 28.9,182.5 25.6,182.2 22.3,181.9 19.1,181.5 15.8,181.1 12.6,180.7 9.4,180.2 6.3,179.8 3.1,179.4 0,179 -3.1,178.7 -6.2,178.3 -9.3,178 -12.4,177.7 -15.5,177.4 -18.6,177.1 -21.7,176.8 -24.8,176.4 -27.9,176 -30.9,175.5 -34,175 -37.1,174.4 -40.1,173.6 -43.1,172.8 -46.1,171.9 -49,170.9 -51.9,169.9 -54.8,168.7 -57.7,167.5 -60.5,166.3 -63.3,165 -66.1,163.6 -68.8,162.2 -71.5,160.7 -74.2,159.1 -76.8,157.5 -79.4,155.9 -82,154.2 -84.5,152.5 -87,150.7 -89.4,148.9 -91.8,147 -94.2,145 -96.5,143 -98.7,141 -100.9,138.9 -103.1,136.8 -105.2,134.7 -107.3,132.5 -109.3,130.3 -111.3,128 -113.2,125.8 -115.1,123.5 -117,121.1 -118.8,118.8 -120.6,116.4 -122.3,114 -124,111.6 -125.6,109.2 -127.2,106.7 -128.7,104.2 -130.2,101.7 -131.6,99.2 -133,96.6 -134.3,94.1 -135.6,91.5 -136.9,88.9 -138.1,86.3 -139.2,83.6 -140.3,81 -141.3,78.3 -142.3,75.7 -143.2,73 -144,70.3 -144.8,67.5 -145.6,64.8 -146.3,62.1 -146.9,59.4 -147.5,56.6 -148.1,53.9 -148.7,51.2 -149.2,48.5 -149.7,45.8 -150.2,43.1 -150.7,40.4 -151.1,37.7 -151.6,35 -152,32.3 -152.4,29.6 -152.7,26.9 -153,24.2 -153.3,21.6 -153.6,18.9 -153.9,16.2 -154.1,13.5 -154.3,10.8 -154.5,8.1 -154.7,5.4 -154.9,2.7 -155,0 -155.1,-2.7 -155.1,-5.4 -155.1,-8.1 -155,-10.8 -154.8,-13.5 -154.7,-16.3 -154.5,-19 -154.3,-21.7 -154.2,-24.4 -154.1,-27.2 -154,-29.9 -154.1,-32.7 -154.1,-35.6 -154.3,-38.5 -154.5,-41.4 -154.9,-44.4 -155.4,-47.5 -156,-50.7 -156.7,-54 -157.5,-57.3 -158.2,-60.7 -158.9,-64.2 -159.7,-67.8 -160.3,-71.4 -160.9,-75 -161.4,-78.7 -161.8,-82.4 -162,-86.1 -162.1,-89.8 -161.9,-93.5 -161.7,-97.2 -161.4,-100.8 -161,-104.6 -160.5,-108.3 -160,-112 -159.3,-115.8 -158.6,-119.5 -157.7,-123.2 -156.7,-126.9 -155.5,-130.5 -154.3,-134.1 -152.9,-137.6 -151.3,-141.1 -149.6,-144.5 -147.8,-147.8 -145.8,-151 -143.7,-154.1 -141.5,-157.2 -139.2,-160.2 -136.8,-163.1 -134.3,-165.9 -131.7,-168.6 -129,-171.2 -126.2,-173.7 -123.3,-176.1 -120.3,-178.3 -117.2,-180.5 -114.1,-182.5 -110.8,-184.4 -107.5,-186.2 -104.1,-187.8 -100.6,-189.3 -97.1,-190.6 -93.5,-191.8 -89.9,-192.8 -86.2,-193.7 -82.5,-194.4 -78.8,-195.1 -75.1,-195.5 -71.3,-195.9 -67.5,-196.2 -63.8,-196.3 -60,-196.3 -56.3,-196.2 -52.5,-196.1 -48.8,-195.7 -45.1,-195.2 -41.3,-194.4 -37.6,-193.4 -33.9,-192.3 -30.3,-191 -26.7,-189.7 -23.1,-188.3 -19.6,-186.9 -16.2,-185.5 -12.9,-184.2 -9.6,-182.9 -6.3,-181.8 -3.2,-180.8Z" fill="#000"/><use href="#land" fill="#fff"/><use href="#shelf" fill="#fff"/></mask>
</defs>
<g transform="translate(382.4,350.3)">
<g clip-path="url(#dom0)">
<rect x="-276" y="-276" width="552" height="552" fill="#3a4ba1"/>
<path fill="#4f84be" d="M-276 -276l552 0 0 552-552 0zM-161 -139l-3 3 0 5 7 5-4 5 0 10 4 5 6 1 6-4 9-18 4-2-22-11zM124 131l-8 7-10 3-3 10-4 6-5 1-8-3-2 3-11 13 0 5 6 0 15-4 22-17 3-4 0-12 11-3-1-6zM-160 -119l4-2 2 2-5 3z"/>
<path fill="#80b6da" d="M-276 -276l552 0 0 552-552 0zM-139 -164l-2 4-3 15-17 2-6 7 0 27 3 5 8 4 22-8 5-8 5-23 6-10-1-11zM-111 -82l-2 1 4 4 3 1 3-3-3-4zM136 116l-37 27-13 3-10 12-10 3-5 11-2 0-1-3-4-2-10 5-4 4 0 5 6 2 23 0 22-6 11-6 17-12 15-18 6-17-1-8zM-131 -97l0 8 7 7 5 2 5-1 0-3-4-5z"/>
<path fill="#b2dfee" d="M-276 -276l552 0 0 552-552 0zM-174 -7l-1 3 1 5 7 0 0-5zM-136 -172l-7 6-6 15-16 7-4 5-1 28 1 8 10 14 5 0 5-8 8-3 3 1 4 13 13 10 15 5 7 0 13 4 7-1 8-6 2-5-1-2-16-9-10 0-8-5-10 1-7-5-3-22 5-18 6-10-1-12-2-4-12-4-3-4zM-11 175l-2 1 2 3 5-3zM136 110l-25 19-12 7-10 2-13 13-10-2-9 12-13 4-13 16 0 5 13 2 12-3 13 2 22-7 13-6 25-20 10-13 7-20-3-10zM-159 -21l3 6 2 1 4-2 1-3-2-4-5 0z"/>
<path fill="#e1f5f8" d="M-276 -276l552 0 0 552-552 0zM-134 -179l-6 3-5 5-6 17-15 8-5 7-2 35 1 8-7 3 2 12-5 17 2 13 7 7-8 5 0 3 2 10-2 17 0 13 2 2 10 1 10-6 8 0 12-12-3-13-4-4-8-3-4-5 23-5 1-3-6-7-4-15 3-10-6-15 3-5 4 2 1 8 10 10 25 11 14 1 14 7 22-4 14-13-11-19-13-4-10 5-5-5-20-6-13-13-7-2-1-6 10-22 2-23-12-5-2-5-4-2zM136 105l-37 22-33 13-25 14-7 6-5-2-16 3-2 3 2 5-2 2-5 1-10-4-12 1-8 5-5 0-5-4-5 0-15 6-7 1-3-1-3-10-4-2-20 5-1 2 6 6 15-1 12 9 25-1 15 5 8-2 20 2 12-14 5 4 0 10 5 4 28-5 10 3 12-7 13-1 37-25 10-14 8-18 3-10-1-3-5-5zM-91 153l-5 3 2 5 5-1 4-4zM-71 86l-6 8 1 5 10 5 7-3 0-10-2-5zM-164 -41l3-1 2 3-5 2z"/>
<path fill="#ffffc0" d="M-276 -276l63 0 2 3 5 2 1-5 66 0 3 3 5 0 5 5 3-8 8 0 1 6 3 0 5-6 159 0 8 5 7-5 18 0 8 3 5-3 120 0 1 5 4 2 7-4 3-3 42 0 0 68-5 2-2 2 0 3 7 5 0 38-4 2-3 5 2 5 5 4 0 107-2 1 2 2 0 280-4 6 4 4 0 18-224 0-8-4-8 4-117 0 3-5-3-4-3 4 1 5-93 0-1-2-7-3-5 5-39 0-3-2-3 2-16 0 1-2-5-3-2 1-1 4-19 0 0-59 5 1 6-4-1-3-10-5 0-57 5 3 2-3-7-5 0-92 5-1 2-2-5-8 8-10-3-2-7 2 0-150 7-7-5-8 3-5-2-5-3-1 0-40 11 1 0-2-11-6 0-59 5-2 0-3-5-1zM-251 -140l-3 4 0 3 9-3 0-3zM-246 -243l-3 4 3 4 5-6zM-229 -111l-2 2-1 8 1 3 2 1 3-2 2-7-2-5zM-221 221l-4 5 1 3 5 0 5-8-5-2zM-216 103l-3 1 0 3 5 1 5-2zM-211 -107l-4 11 1 3 4-1 4-10-3-4zM-201 -155l-4 4-1 5 6-5 1-3zM-176 -259l-1 10 3 2 8 0 3-4-2-8zM-154 -264l-4 3 4 3 2-3zM-151 -239l-5 5-5 1 10 4 4-7-2-3zM-124 -258l0 7-3 5 3 7 3-1 1-4-3-7 1-3zM-119 -189l-25 7-6 11-2 12-17 10-5 10-3 33-8 12 4 13-8 10-6 5 0 2 8 5 2 5-1 8-3 7 3 6 2 17-2 19-4 8 0 3 4 3 12-7 23-5 10-5 12 4 6-3 6-20-4-5 4-10-4-20 5-6 5-2 12 5 8-2 10 13 10-5 10 2 15-10 8-2 4-15-4-8-3-12-3-4-12 0-8-5-10 3-22-5-9-7-8-10-1-2 4-10 4-22 4-11-9-15zM-66 -250l1 9 7 10 4 1 2-6-3-8 1-6zM-46 -241l-1 2 2 5 6 1 3-6-3-2zM-31 -101l0 8 5-1 4-5-4-4zM-6 -266l-4 5 6 2 2-2zM-1 -156l-11 7 8 19 8 1 15-11 12-4-20-14-7 3zM34 -34l-2 3 2 3 7 1 3-2zM49 -79l-5 3 0 2 2 4 3 1 3-7zM66 -27l0 6 3 1 1-4-1-3zM76 -84l-5 5 3 6 4-8 0-3zM86 -57l1 3 7 4 1-1-4-7zM89 -241l2 5 9 5-1-5zM109 11l-3 3 3 6 7 1 4-2-6-8zM119 -271l-5 2 0 3 12 9 3-1 2-8-2-7zM134 99l-5 5-12 5-6 5-15 5-20 12-10 3-7 6-15 2-10 10-10-3-9 0-1-3 9-12 0-3-2-1-3 1-2 5-15-4-10 0-9 4 0 5-3 3-6-5 3-8-2-1-10 4-5 10-8-13-10 4-7 7-8-3-5 0-22 13-6 29 1 1 5-4 2 1 5 9 10-4 8-1 12 8 2 3-1 5-11 5-1 2 6 4 8-7 16 3 5-12 4-3 12 3 13-3 17 3 13-3 7 5 15 2 18-7 4 3 1 5-7 2 0 3 4 6 3 0 2-10 10-9 8-4 10 1 7-5 8-2 6-7 4 6 2-2 1-9 2-3 10-1 4-4 0-7 13-20 6-20-2-5-9-6zM149 -229l-13 5-1 3 4 3 5-5 5 0 2-6zM159 46l-3 0-2 5 0 15-9 8-3 5 7 10 10 5 2 12 10 9 14-9 9-19 2-1 8 1 2-6-7-12-13 2-4-2-8-23-8 3zM164 21l-1 3 2 2 6 0 0-4-2-3zM171 -252l-2 4 7 14 5 2-2-9 2-8-5-3zM199 -269l-3 5 3 4 6-6-1-5zM206 -66l-3 2-4 13 3 15-1 12 3 5 12 9 5 0 3-1-4-18 3-7-7-13 7-7 0-5-9-7zM219 -110l-3 4 2 2-5 5 3 2 5-9 0-3zM226 -259l0 5 16 0-1-3zM251 -219l3 6 5 2 1-5-1-4zM264 111l-4 3 1 4 3 0 1-4zM-266 231l-2 3 0 2 4 5 3-5-3-5zM-269 129l-3 2 1 6 5-1 6-5-4-3zM-271 -79l0 2 5 1 5 7 2-1 2-4-1-2zM-249 -39l-2 3 5 2 0-4zM-231 153l-2 3 2 3 6 0 3-3-7-5zM-206 -82l-2 1 0 2 4 5 3-6zM-186 175l-2 1 2 3 5-3zM-176 113l-3 3 3 9zM-174 147l-2 2 2 3 6-3zM-151 165l-3 2 0 6 4-4zM-141 211l-5 3 0 2 5 2 6-4zM-126 235l-2 4 4 0 1-3zM-84 -34l-7 2-5 5-6 3 3 12 10 0 1-12 4-3 8-2zM-66 43l-1 3 6 4-1-6zM-39 118l-4 3 0 3 8-3-1-2zM-9 -35l-1 4 1 2 6 0 3-2-4-4zM1 56l0 5 3 0 2-5-2-2zM9 -91l-2 2 4 4 3-4 0-2zM26 -14l-3 3 1 3 3-1zM119 91l-2 3 1 2 3 1 6-3 0-3-3-2zM124 55l0 5 2 1 3-2 0-3zM-66 266l0 5 3 0 3-2-1-3zM-46 233l-1 3 3 3 6-3 0-2-3-2zM-29 243l-2 6 2 5 0 7 3 2 2 0-1-19-1-3zM31 213l-1 6 4 1 1-6zM149 263l0 4 5 2 7-2 1-3-1-2-7 3zM151 -211l-4 2-1 8 5 5 4-3 0-10 0-2zM171 122l-2 2 2 2 4 0zM181 162l-2 2 1 2 4 2 2-2 0-2zM189 107l-2 2 2 2 5 2 1-2-1-4zM206 211l3 7 1-7-1-2zM171 35l-3 4 3 6 3-6zM234 -186l-4 5 4 3 3-3-1-4zM239 -169l-3 3 0 7 13 2 2-1-7-6-1-5zM256 1l0 3 3 1 2-1 0-3zM-264 48l3 15 9 1-4 7 1 3 6 2 7-2-4-19zM-249 -22l-1 3 5 8 1 10 4-10zM-201 126l-3 5 5 2 2-4-1-3zM-176 190l-4 4 1 2 8-2 2-3zM-139 247l-2 2 5 7 5 2 2-2 0-9zM-81 24l-4 10 1 3 3-1 4-7-2-5zM-64 81l-14 3-3 5 0 7 2 5 10 6 9-1 10-5-2-15-7-6zM26 34l-2 2 0 5 5 5 3-7zM171 198l-2 1-2 5 4 2 4-2 0-3zM181 243l-2 2-1 4 1 3 2 2 5-5zM229 103l-9 6-1 2 2 8-4 7 12 8 8-8-9-5-4-5 2-6 8-4 1-2zM231 36l-1 3 3 5 3 15 4-5-4-10 1-5-2-3zM241 -87l-4 3 2 5 2 0 2-5zM249 -94l-3 5 8 2 1-2-1-2zM-249 193l-2 6 5 1 7 5 8-1 2-3-5-4-10-4zM-199 247l-1 2 0 2 4 1 1-3zM229 141l-1 5 3 1 2-3-2-3zM-244 232l-2 2 1 2 4 3 1-5zM231 185l-2 3-1 8 3 3 2 0 2-10zM-55 194l6-1 1 3-6 1z"/>
<path fill="#fee292" d="M-159 -276l10 0-7 5-3-1zM34 -276l12 0-2 7 7 5 0 3-15 1-1-1 4-8-4-2zM-35 -266l4-2 2 1 0 5-2 2-3-1zM77 -266l7 0-3 3-3-1zM-95 -264l4-1 5 3 3 11-2 2-6 2-3-1zM-255 -259l3 0 0 3-2 5-2 1-2-4zM268 -256l8-2 0 7-7 1-3-4zM-25 -251l4 0-3 5-3-3zM-5 -251l4-1 2 3-2 2zM29 -251l7 0 5 5-2 2-7 0zM-139 -246l3 2 0 4-3 1zM154 -244l5 0 6 3 4 10-1 2-4 2-3-3-8-9zM7 -241l4-1 5 1 5 5 8 4 12-2 8 3 20 3 10-2 12 1 23 21 10 5 11 17 4 0 5-3 2 2 14 23 7 8 7 14 5 4 9 2 3 18 10 21 13 6 3 5-8 5-2 7-11 7-1 3-1 30 5 15 11 10 3 10-2 23 2 12-4 15-8 11-10 0-9-6-7-37-4-6-7 0-4-2 4-5 7-1 3-6-2-23-7-7 1-13-7 1-6-6 11 0 1-2-1-5-5-4-8 9-7-1-4-4-2-10-4-3-7 0-1-2 3-5-8-12-12-3-5-7-13-6-7-12-11-5-1-15 2-3 8 0 1-2-1-3-6 0-5 3-10-1-5 6-5 0-5-12-12-6-5-8-8 2-4-1-2-5 4-10-5-14-10-4-3 3-1 7 1 18-10 7-12 5-8 10-21 15-21 20-23-1-10-6-5-13 3-7 2-17 10-16 12-5 6-10-5-7-10 0-5-3-1-2 5-10 1-8 22 4 8-5 5 1 6-5 6-1 5-4 18-4 5 1 7-6 6 2 2 3 2-2zM24 -184l-3 3 1 2 9 8 3-1 1-4-3-5-3-3zM51 -154l-2 3 0 2 5 0 1-2zM144 -94l-3 1-2 4 2 3 8-1 1-2-1-2zM-6 -216l-10 10 2 5 3 2 8-5 0-10-1-2zM131 -239l3 0 3 5-4 0-3-2zM-145 -226l4-2 4 9-2 9-8-9zM215 -219l6-1 1 4-3 2zM-250 -216l5 0 4 9 5 1 2 2 5 18-5 6-7 1-1-2 4-18-5-7-7-5zM-146 -206l7-2 3 4-5 4-5-3zM-104 -191l5 0-2 5-3-1zM167 -189l5 0 1 5-4 1-3-3zM215 -184l4-1 0 1 0 5-3 4-4-1zM-207 -181l6 0 0 5-5 2-3-5zM-97 -181l7 0-1 3-5 1zM-270 -176l4-1 4 1 0 2-7 2zM-276 -166l2-2 3 2-1 12-1 3-3 0zM-236 -166l2 0 0 5-4 0-1-3zM178 -166l4 2-1 3-2 2-3-2zM192 -159l5 0-1 7-5 0-3-2 0-2zM225 -149l4-1 2 1 0 6-6-3zM245 -149l11 7 1 3-6 7-7 2-4-1 5-8zM221 -129l7 3-2 2-5 1-2-3zM-35 -124l11 3 3 2-2 3-11-2-2-3zM270 -121l4 0 1 2-4 7-3-4zM-8 -116l4-2 3 4-5 7-5-2zM-272 -111l7 0-3 2-6 0zM-244 -109l3-2 2 2-2 4zM-4 -86l3 0 6 5-1 7-5-1zM-242 -81l3-2 2 2-2 7-3-2zM85 -79l6-2 3 5-3 3-5 0-2-3zM-226 -76l5 1 2 1-1 3-4 2-4-2zM36 -74l3 2 2 6-2 1-5-4zM9 -69l5 0 1 3-6 1zM-24 -61l5 0 0 5-5-1-1-2zM238 -61l6-2 2 2 1 5-3 3-5 0zM23 -41l3 2-1 8-4 3-2-2 0-4zM-234 -39l7 0-4 5-4-2zM71 -34l3-2 5 4 0 6-3-1zM233 -31l3-2 3 1 5 8 0 10-3 2zM-4 -24l6 3-3 4-6-2-1-2zM81 -11l5-1 2 3-7 4-2-1zM272 -11l4-1 0 13-4-5zM-232 -9l6 0 3 5-3 2-4-2zM57 -9l9-1 3 1 1 5-4 4-5 2-3-3zM-212 -1l3 0 4 7-4 7-2 0-4-4zM142 -1l4-1 2 3-4 2-3-2zM-88 1l5 0 7 8-5 1-8-1-2-3zM-146 6l5-1 17 4 8 7 15 6 5 4 9 18 11 1 2 9 8 10 5 4 5-1 3 2-13 10-10 0-5 2-4 10 3 10 6 6 7 3 14 1 1 10-1 5-31 12-18 10-2 4 0 9-3 8-5 5-8-3-19-22-10-3 1-7-6-4-3-6 1-8-3-13-9-12 1-12-2-10 0-8-4-7 2-8-4-17 1-15 5-6zM246 11l3-2 3 7zM-49 24l3-2 5 4 2 8-9-3zM-238 29l7 0 2 2-9 8 1 7-4 3-7-5zM-9 29l8-2 6 7 1 4-5 0-7-3-3-4zM55 36l1-2 4 2-1 6zM272 44l4-1 0 8-5 0-4-2 1-3zM23 56l3 0 3 3 0 5-3 3-5-1-1-2zM-29 64l6 2-2 5-4 0-2-2zM-276 71l0-1 2 0 2 4-4 3zM250 74l6 2 5 8-7 5-5-8zM-11 76l7-2 13 3 5-2 7 4 2 2-1 10 8 13 3 15-2 2-22 7-5 0-6-4-2-8-10-7 1-18-3-10 1-2zM47 91l5 0-1 5-5 0zM197 96l4-2 2 2-2 7-4-2zM-269 101l5 0 5 8-7 1-5-1-2-3zM69 101l2 0 1 3-5 12-13 0 0-3zM-233 109l4 0 5 2 2 5-2 4-2 1-8-7zM-29 109l4 0 4 2-3 3-6-3zM246 114l3-2 3 2-3 3-3-1zM202 116l4-2 5 5-1 2-7 8-2 6-2-1-2-3 4-5-1-7zM-209 141l5-1 2 4-2 3-5 0zM260 154l9 1 4 4-2 2-13 0-1-5zM165 164l9 8 0 6-10-1-3-2 0-4zM-174 166l3-2 5 6 3 1-1 13-5 0-3-3 3-7zM-266 171l2-2 5 1 3 6-3 1zM190 174l5 0 1 2-1 3-4 1-2-1zM-240 186l1-2 3 1 4 4-4 2zM160 189l4-1 1 3-4 5-2 1-2-3zM-216 196l5 1-3 5-4-1zM132 196l7-1 7 9-5 3-10 0-1-3zM-272 199l3-2 5 2-5 1zM-26 206l5 0 3 3-3 7-5-4zM164 214l2-2 4 2 2 5-1 2-5 0zM-60 219l5 2-1 5-8 0-1-2zM-184 221l3-2 8 5-1 6-2 2-5-2zM-100 226l14 8 4 7-2 2-5 1-7-9-8-3 0-3zM1 226l3 2 0 6 4 5-2 3-4-3zM-249 246l0-2 3 2 0 6-3-1zM-181 246l8 0 4 3 0 2-10 5-4 0-2-5zM126 246l4 3-1 3-6-3zM258 256l3-1 1 4-3 5-3 0zM-111 261l7 5-1 5-4 3-7-2-2 4-5 0 0-7zM23 264l6 1 0 4-15 7-2-7 4-4zM-17 269l3-2 3 9-7 0zM230 269l2 0 1 7-7 0zM256 274l5-1 3 3-9 0z"/>
<path fill="#fdb062" d="M9 -231l4 0 8 6 15-4 8 3 22 2 18-2 7 1 9 11 21 19 7 9 18 12 12 15 6 5 7 15 11 10 2 8-5 10 15 12 7 20-2 5-8 3-2 7 2 8-1 20 3 15-3 7 0 8 4 2 10-4 2 3 1 6 1 18-2 30-7 10-8-1-6-7 0-10-7-30 6-10-5-8 0-12-7-15 2-5-2-10 2-7-3-5 5-5-13-8-4-5-3-12-5-8 3-5 0-2-13-11-12-2-13-9-5-1-7-5-5-10-13-7-12 0-8-15-12-1-3-4 0-8-7-6-8-1-5-5-5-1-17-8-3-9 5 0 2-5-5-12zM-23 -196l4-1 13 2 2 3 0 16-7 10-13 7-10 11-5 1-5-3-2 1-2 5 2 5-5 3-18 19-7-1-13 5-11-3-5-10 3-10 0-10 2-5 19-8 1-7 11-13 5-1 8 1 5-3 5 0 2-2-5-7 20-2zM-143 9l14 4 8 8 15 5 7 5 10 17 8 6 14 20-2 2-7-2-5 4-5 6-2 10 7 12 10 8 7 2 4 8-14 3-32 19-4 5 0 10-4 6-5-1-20-22-3-8-6-5-7-17-3-18-4-7-1-10-3-8 1-10-6-15-1-27zM-7 81l8-1 15 1 3 11 6 12 1 10-3 5-14 5-5-1-13-22-1-15z"/>
<path fill="#f67b46" d="M78 -221l11 0 10 12 18 15 7 10 10 5 15 15 5 8 10 9 4 11 8 10 0 6-12 3-8-3-5 1-2-2 0-5-2-3-16-7-17-1-4-2-5-10-11-3-10-8-5 1-3-1-2-12-15-17-2-7-8-5-2-5 7-14 12 1zM-64 -136l5 0 1 2-3 4-4-1zM197 9l4 2 3 8-2 27-1 3-5 4-3-14-5-8-4-17 2-5 8 2zM-153 16l6 0 3 3 5-3 4 0 14 12 1 8 3 3 16-3 8 23 4 8 6 4-6 10-3 15 11 15 0 3-7 5 6 5 0 2-9 5-23 17-17-6-5-3-1-5-7-8-1-7 1-6-9-14-2-10-7-20 3-8-7-12 0-13-3-10 3-4 7-2zM-134 35l-1 4 1 3 3-6zM-154 33l-4 3 0 5 2 3 7-1 1-7zM0 84l14 2 1 8 5 7 1 13-10 6-5-1-10-15-2-15z"/>
<path fill="#da3c2a" d="M63 -211l6 0 22 16 23 6 0 5-5 1-2 4 4 5 3 0 7-3 13 2 4 6 2 8 7 2 3 8-1 2-5 5-1 5-4 1-20-10-5 1-5-5-13-5-5-7-10-5-8-20 0-10-4-3-13-2 0-3zM-146 54l17 1 5-3 5 3 8-1 5 5 0 6-10-6-5 2 11 15 1 17 8 3 1 3 2 15-13 27-3 0 1-7-11-10-5-9-9-6-3-5-1-10-4-5-3-13 5-10-4-7zM6 94l0-2 3 2 1 5-1 1zM11 101l3 1 1 4 0 5-4 3-2 0-2-5z"/>
</g>
<use href="#shelf" fill="#fff"/>
<use href="#land" fill="#fff" stroke="#fff" stroke-width="5"/>
<line x1="0" y1="80" x2="0" y2="268" stroke="#fff" stroke-width="2"/>
<use href="#land" fill="#d6d6d6"/>
<!--grid-->
<use href="#land" fill="none" stroke="#000" stroke-width="2.2" stroke-linejoin="round"/>
<use href="#isl" fill="#d6d6d6" stroke="#000" stroke-width="2" stroke-linejoin="round"/>
<g fill="none" stroke="#808080"><circle r="69" stroke-width="1.2" stroke-opacity="0.55" stroke-dasharray="4 2.5 1 2.5"/><circle r="139" stroke-width="1.2" stroke-opacity="0.55" stroke-dasharray="4 2.5 1 2.5"/><circle r="211" stroke-width="1.2" stroke-opacity="0.55" stroke-dasharray="4 2.5 1 2.5"/><line x1="0" y1="0" x2="0" y2="-270" stroke-width="1.8" stroke-opacity="0.26"/><line x1="0" y1="0" x2="190.9" y2="-190.9" stroke-width="1.8" stroke-opacity="0.26"/><line x1="0" y1="0" x2="270" y2="0" stroke-width="1.8" stroke-opacity="0.26"/><line x1="0" y1="0" x2="190.9" y2="190.9" stroke-width="1.8" stroke-opacity="0.26"/><line x1="0" y1="0" x2="0" y2="270" stroke-width="1.8" stroke-opacity="0.26"/><line x1="0" y1="0" x2="-190.9" y2="190.9" stroke-width="1.8" stroke-opacity="0.26"/><line x1="0" y1="0" x2="-270" y2="0" stroke-width="1.8" stroke-opacity="0.26"/><line x1="0" y1="0" x2="-190.9" y2="-190.9" stroke-width="1.8" stroke-opacity="0.26"/></g>
<g fill="#8f8f8f"><text x="-18.8" y="-222.0" font-size="28" textLength="39.6" lengthAdjust="spacingAndGlyphs">0°E</text><text x="-196.1" y="-155.3" font-size="28" textLength="65.1" lengthAdjust="spacingAndGlyphs">45°W</text><text x="137.7" y="-155.3" font-size="28" textLength="52.0" lengthAdjust="spacingAndGlyphs">45°E</text><text x="-263.4" y="10.5" font-size="28" textLength="63.6" lengthAdjust="spacingAndGlyphs">90°W</text><text x="205.3" y="10.3" font-size="28" textLength="54.4" lengthAdjust="spacingAndGlyphs">90°E</text><text x="29.3" y="51.2" font-size="28" textLength="54.4" lengthAdjust="spacingAndGlyphs">80°S</text><text x="87.8" y="92.1" font-size="28" textLength="51.2" lengthAdjust="spacingAndGlyphs">70°S</text><text x="144.9" y="134.1" font-size="28" textLength="54.0" lengthAdjust="spacingAndGlyphs">60°S</text><text x="-203.1" y="173.6" font-size="28" textLength="78.4" lengthAdjust="spacingAndGlyphs">135°W</text><text x="130.2" y="173.9" font-size="28" textLength="68.0" lengthAdjust="spacingAndGlyphs">135°E</text></g>
<path d="M-249.4,-99.3 -227.8,-106.1 -226,-104 -231,-92 -235,-88 -236,-83 -240,-83 -241,-88 -244,-88 -245,-82 -249,-82 -252,-84 -256,-77 -258,-80 -254,-92 -251,-98Z" fill="#9a9a9a" stroke="#000" stroke-width="1.7" stroke-linejoin="round"/>
<ellipse cx="0" cy="1.3" rx="270.4" ry="271.3" fill="none" stroke="#000" stroke-width="4.2"/>
</g>
<g transform="translate(937.9,350.3)">
<g clip-path="url(#dom1)">
<rect x="-276" y="-276" width="552" height="552" fill="#3a4ba1"/>
<path fill="#4f84be" d="M-276 -276l552 0 0 552-552 0zM-149 -154l-3 3 1 3 6-3 0-3z"/>
<path fill="#80b6da" d="M-276 -276l552 0 0 552-552 0zM-139 -171l-5 2-12 15-5 15 2 5 7 3 5 7 3 2 7-14 8-8 2-7-8-20zM-101 -209l-7 3-1 2 2 13 5 7 8 0 10-3 12-14-2-5-2-1-10 6-10-8zM-41 173l-13 4-15 2-3 7 11 7 10 0 7 3 8-4 12 3 18-1 6-8-1-5-8-6-20 3-7-5zM26 -184l-7 6-7 2-1 5 10 4 3 9 7 3 5-7 8 0 2-4-7-13zM46 171l-3 5 3 2 3-2 1-5-1-2zM104 141l-5 7-8-3-7 4-9 17 1 8 5 1 13-1 7-5 13-18-2-10-3-2zM124 131l-2 3 7 2 1-2-1-4zM191 -44l-10 8 5 13 3 3 7-4 8 1 0-6-5-13-3-3zM191 -14l-1 8 4 2 2-2 0-3z"/>
<path fill="#b2dfee" d="M-276 -276l552 0 0 552-552 0zM-59 -234l-5 4-20 7-7 9-8-1-12 2-10 7-6 17-19 18-14 17-5 18 3 10-3 12 6 0 5 5 5 0 17-20 15-25 3-11 8-4 5-9 17-6 7-5 8-10 5-15 9-10 1-10-2-2zM26 -189l-20 2-4 3 2 13 6 15 6 4 13 3 25-2 1-5-8-23-6-5zM139 108l-28 24-15 6-7 0-13 12-7-3-5 2-8 11-14 1-8 11-8-5-2 1 1 18 6 3 8-4 25-3 7-2 20-1 13-5 17-18 8-5 8-10 3-10 11-15 0-3-5-5zM209 -62l-5 3-10 0-7 8-14 7-1 3 3 10-5 10 7 15 0 7 4 6 10 8 5-2 7-12 1-12 2-3 11-5 10-17-4-20-4-4zM-76 168l-11 6 0 5 9 12 17 6 17 3 8-2 30 0 11-7 3-5 0-7-12-8-20 0-12-3-15 0-10 4-8-4zM14 163l1 3 5 0-1-3zM-124 -171l5 0 0 2-5 1z"/>
<path fill="#e1f5f8" d="M-276 -276l552 0 0 552-552 0zM-61 -241l-5 5-14 7-34 13-10 8-21 32-19 22-5 15-3 25 2 5 19 4 7-2 15-19 5-13 11-10 2-10 7-5 5-9 20-10 13-12 18-11 2-5-3-5 3-13 7-4 5-8-10-2zM-14 -249l-2 3 0 2 10 3-2-5zM11 -254l-5 3 0 3 20 4-3-5zM149 89l-4 10-16 11-8 3-12 10-43 18-32 17-8-2-40-1-12 7-25-2-10 4-25-1-8-4-5 0-9 5-2 17 4 4 20 5 20 9 20 4 10-2 30 0 22-10 15 3 25-7 13 2 10-6 15 0 12-6 15-15 10-3 23-33 3-15-7-12 3-8-2-2zM194 -69l-13 9-5-1-2 2-6 8-2 7 3 13-4 10 3 15 10 17 3 10 3 2 12-4 8-7 5-1 5-15 7-7 11-28-4-17-4-5-13-7zM-136 -71l-7 15 2 10 5 5 2 0 2-3 4-15-3-12-3-2zM-39 101l-7 3-3 10 5 10 15 1 5 2 8-3 3-5-2-3-9 1-8-6-3-7zM14 -194l-13 2-5 8 3 13 10 19 7 5 13 3 30-4 3-11-6-10 0-7-10-11-15-8-12-1z"/>
<path fill="#ffffc0" d="M-276 -276l63 0 2 3 5 2 1-5 66 0 3 3 5 0 5 5 3-8 8 0 1 6 3 0 5-6 159 0 8 5 7-5 18 0 8 3 5-3 120 0 1 5 4 2 7-4 3-3 42 0 0 68-5 2-2 2 0 3 7 5 0 38-4 2-3 5 2 5 5 4 0 107-2 1 2 2 0 280-4 6 4 4 0 18-224 0-8-4-8 4-117 0 3-5-3-4-3 4 1 5-93 0-1-2-7-3-5 5-39 0-3-2-3 2-16 0 1-2-5-3-2 1-1 4-19 0 0-59 5 1 6-4-1-3-10-5 0-57 5 3 2-3-7-5 0-92 5-1 2-2-5-8 8-10-3-2-7 2 0-150 7-7-5-8 3-5-2-5-3-1 0-40 11 1 0-2-11-6 0-59 5-2 0-3-5-1zM-251 -140l-3 4 0 3 9-3 0-3zM-246 -243l-3 4 3 4 5-6zM-229 -111l-2 2-1 8 1 3 2 1 3-2 2-7-2-5zM-221 221l-4 5 1 3 5 0 5-8-5-2zM-216 103l-3 1 0 3 5 1 5-2zM-211 -107l-4 11 1 3 4-1 4-10-3-4zM-201 -155l-4 4-1 5 6-5 1-3zM-194 -66l0 3 7-1-2-2zM-176 -259l-1 10 3 2 8 0 3-4-2-8zM-154 -264l-4 3 4 3 2-3zM-151 -239l-5 5-5 1 10 4 4-7-2-3zM-124 -258l0 7-3 5 3 7 3-1 1-4-3-7 1-3zM-6 -267l-8 8-10 7-7 0-10 4-13-4-12 1-3 8-12 10-10 2-6 5-24 7-7 8-4 10-13 10-4 15-10 11-10 6-4 30-5 13 2 17 12-4 13 3 7-2 15-12 8-20 2-2 8-2 2-3 4-15 6-5 3-5 5-3 7 0 6-10 9-9 28-15 12-3 10-1 5 11 7 5-7 8 0 4 1 8 10 7 0 13 2 1 7 1 8 7 7 1 18 6 2-4 13-2 8 10 4 2 4-2 4-8 8-2-1-3-7 2-8-4 1-5 4-5 2-15-7-4 0-6-8-5-3-8-5-2-6 0-10-6-13 0-8-4 0-5-4-20 2-5 5 6 5 2 3-3 27-5 6-8-3-10-25 1-8-5-15-1zM99 -146l-7 5 2 5 2 0 2-3 2-5zM109 11l-3 3 3 6 7 1 4-2-6-8zM119 -271l-5 2 0 3 12 9 3-1 2-8-2-7zM149 -229l-13 5-1 3 4 3 5-5 5 0 2-6zM171 -252l-2 4 7 14 5 2-2-9 2-8-5-3zM184 -114l-4 3 6 1 1-1zM199 -269l-3 5 3 4 6-6-1-5zM219 -110l-3 4 2 2-5 5 3 2 5-9 0-3zM226 -259l0 5 16 0-1-3zM251 -219l3 6 5 2 1-5-1-4zM264 111l-4 3 1 4 3 0 1-4zM-266 231l-2 3 0 2 4 5 3-5-3-5zM-269 129l-3 2 1 6 5-1 6-5-4-3zM-271 -79l0 2 5 1 5 7 2-1 2-4-1-2zM-249 -39l-2 3 5 2 0-4zM-231 153l-2 3 2 3 6 0 3-3-7-5zM-206 -82l-2 1 0 2 4 5 3-6zM-176 113l-3 3 3 9zM-174 147l-2 2 2 3 6-3zM-156 -95l-3 4 2 2 7 0-1-6zM-144 -81l-2 5-2 20 4 12 9 13 2 30 8 10-2 12 3 13 2 2 6 1 5-3-1-10 5-13-3-5-6-3-1-4 1-3 7 0 1-7-6-11-4-4 0-8-5-7-1-10 3-10-4-5-2-10zM-84 -34l-7 2-5 5-7 3 4 13 10-1 1-12 4-3 8-2zM-66 43l-2 3 7 4-1-6zM-44 66l-7 8-10 2-7 8-2 15 1 5 8 7 2 8 10 10 13 0 7 5 23-3 11-12 0-10-7-8-7-3-5-9-22-15-5-9zM-31 -101l0 7 5 0 4-5-4-4zM-9 -35l-1 4 1 2 6 0 3-2-4-4zM4 -139l-6 3-2 5 8 1 7-9zM21 87l-2 3 0 3 9-2-2-3zM26 -14l-3 3 1 3 3-1zM34 -34l-2 3 2 3 7 1 3-2zM49 -79l-5 3 0 2 2 4 3 1 3-7zM66 -27l0 6 3 1 1-4-1-3zM76 -84l-5 5 3 6 4-8 0-3zM86 -57l1 3 7 4 1-1-4-7zM119 91l-2 3 1 2 3 1 6-3 1-3-2-2zM124 55l0 5 2 1 3-2 0-3zM139 -117l-4 3 1 3 10 7 6 0 1-2-11-10zM151 -211l-4 2-1 5 2 5 3 2 3-2 1-10 0-2zM169 -85l-8 14 2 10-6 7 4 5 1 5-3 4-7 1-1 3 2 2 6 0 2 3-3 10 4 10-7 5 14 15-1 5-6 5-1 5 6 7 1 10 6 10 7-6 10 6 5 0 5-7 8 5 0 8 2-2 2-6-2-15 9-8-3-7 1-5 6-8 2-7 5-5 1-23 5-12-4-10-2-10-2-4-8-2-5-5-17-5-8-6-15-3zM234 -186l-4 5 4 3 3-3-1-4zM239 -169l-3 3 0 7 13 2 2-1-7-6-1-5zM256 1l0 3 3 1 2-1 0-3zM-264 48l3 15 9 1-4 7 1 3 6 2 7-2-4-19zM-249 -22l-1 3 5 8 1 10 4-10zM-201 126l-3 5 5 2 2-4-1-3zM-186 175l-2 1 2 3 5-3zM-176 190l-4 4 1 2 8-2 2-3zM-151 165l-3 2 0 6 4-4zM-141 211l-5 3 0 2 5 2 6-4zM-126 235l-2 4 4 0 1-3zM-81 24l-7 12 2 7 4-4 5-10-2-5zM1 56l0 5 3 0 2-5-2-2zM9 -91l-2 2 4 4 3-4 0-2zM26 34l-2 2 0 5 5 5 3-7zM146 73l-8 8-1 13-8 10-33 16-20 12-10 3-7 5-15 2-10 9-8-2-12 3-10-3-5-4-13 2-17-4-10 4-7-1-3 8-10 4-13 2-20-5-17 0-10-3-2 2-1 7 6 10-1 8 8 13 7-1 8 4 5 0 5 6 7 2 10 7 8-4 17 3 8-4 27 0 23-7 30 1 15-8 5 5-1 3-6 2 0 3 4 6 3 0 2-9 13-13 5-1 10 1 15-6 7-7 3 5 3-4 0-7 4-4 10-1 3-3 0-7 25-31 2-2 5 6 4-1-4-5-7-3-1-4 1-3 7 0 1-2-1-5 3-8-5-12-3-4-12-8zM181 162l-2 2 1 2 4 2 2-2 0-2zM191 107l-1 4 4 2 1-2 0-2zM199 69l-5 6-1 4 8 2 0 4 3 1 2-2-1-3-3-2-1-7zM206 211l3 7 1-7-1-2zM229 103l-9 6-1 2 2 8-4 7 12 8 8-8-9-5-4-5 2-6 8-4 1-2zM231 36l-1 3 3 5 3 15 4-5-4-10 1-5-2-3zM241 -87l-4 3 2 5 2 0 2-5zM249 -94l-3 5 8 2 1-2-1-2zM-249 193l-2 6 5 1 7 5 8-1 2-3-5-4-10-4zM-199 247l-1 2 0 2 4 1 1-3zM-139 247l-2 2 5 7 5 2 2-2 0-9zM-66 266l0 5 3 0 3-2-1-3zM-46 233l-1 3 3 3 6-3 0-2-3-2zM-29 243l-2 6 2 5 0 7 3 2 2 0-1-19-1-3zM31 213l-1 6 4 1 1-6zM149 263l0 4 5 2 7-2 1-3-1-2-7 3zM171 198l-2 1-2 5 4 2 4-2 0-3zM181 243l-2 2-1 4 1 3 2 2 5-5zM229 141l-1 5 3 1 2-3-2-3zM-244 232l-2 2 1 2 4 3 1-5zM231 185l-2 3-1 8 3 3 2 0 2-10zM-1 -214l5-1 4 4 1 5-8 2-3-5z"/>
<path fill="#fee292" d="M-159 -276l10 0-7 5-3-1zM34 -276l12 0-2 7 7 5 0 3-15 0 3-8-4-2zM-35 -266l4-2 3 4-3 4-3-1zM77 -266l7 0-3 3-3-1zM-95 -264l4-1 5 3 3 11-2 2-6 2-3-1zM-255 -259l3 0 0 3-2 5-2 1-2-4zM268 -256l8-2 0 7-7 1-3-4zM-139 -246l3 2 0 4-3 1zM154 -244l5 0 6 3 4 10-1 2-4 2-3-3-8-9zM79 -239l35 13 6 7 9 5 5 9 20 16 5 10 14 20 4 25-3 4-5 2-13 0-15-5-22-18-5-1-10-9-20-9-10-16-27-18-5-17 2-5zM131 -239l3 0 3 5-4 0-3-2zM-145 -226l4-2 4 9-2 8-8-8zM215 -219l6-1 1 4-3 2zM-250 -216l5 0 4 9 5 1 2 2 5 18-5 6-7 1-1-2 4-18-5-7-7-5zM-146 -206l7-2 1 4-2 3-4 0-2-3zM-50 -191l6-2 23 0 2 1 1 3-11 35-11 10-26 37 1 23 4 2 2 6-21 17-11 4-6-4-4-7-14-5-4-15-10-10 0-3 6-10-1-13 5-7 13-2 15-8 5-12 7-4 10-12 3-7-2-5 2-1 5 1 5-1zM167 -189l5 0 1 5-4 1-3-3zM215 -184l4-1 0 1 0 5-3 4-4-1zM-207 -181l6 0 0 5-5 2-3-5zM-270 -176l4-1 4 1 0 2-7 2zM-276 -166l2-2 3 2-1 12-1 3-3 0zM-236 -166l2 0 0 5-4 0-1-3zM178 -166l3 1 1 4-6 2-1-2zM192 -159l5 0-1 7-5 0-3-2 0-2zM225 -149l4-1 2 1 0 6-6-3zM245 -149l11 7 1 3-6 7-7 2-4-1 5-8zM221 -129l7 3-2 2-5 1-2-3zM-35 -124l11 3 3 2-2 3-11-2-2-3zM108 -124l4 0 2 3-2 2-6 1-1-3zM270 -121l4 0 1 2-4 7-3-4zM-8 -116l4-2 3 4-5 7-5-2zM-272 -111l7 0-3 2-6 0zM-244 -109l3-2 2 2-2 4zM136 -101l4 2-6 4-1-4zM113 -99l6-1 2 1-5 4-3-1zM205 -91l1-2 5 1 5 3 1 3-3 2-5 0zM-186 -86l2-1 4 3-1 5-7-2zM-4 -86l3 0 6 5-1 7-5-1zM-242 -81l3-2 2 2-2 7-3-2zM151 -81l3 0 1 5-6 12-5-7zM85 -79l6-2 3 5-3 3-5 0-2-3zM-226 -76l5 1 2 1-1 3-4 2-4-2zM36 -74l3 2 2 6-2 1-5-4zM-166 -69l5 0 5 3 6 17 11 18 0 20 8 25 1 22 6 4 17 4 11 22 1 10 6 8 0 10 7 5 7 17 9 5 8 13 2 15-6 5-12 3-17-4-20-1-13-5-10-1-10-12-12-3-1-2 2-5-6-19-8-7-1-4 0-8-3-7 2-13-4-7 2-8-6-15 1-10-5-30 1-5-2-4-6-3 1-5-5-5 3-2 5 4 3-12-2-10 2-8 7-10zM9 -69l5 0 1 3-6 1zM-25 -61l6 0 0 5-5-1-1-2zM148 -61l1-3 2 3-4 5-3 0zM238 -61l6-2 2 2 1 5-6 3-3-3zM23 -41l3 2-1 8-4 3-2-2 0-4zM-234 -39l7 0-4 5-4-2zM71 -34l3-2 5 4 0 6-3-1zM237 -29l2-1 2 2 3 7 0 7-3 1zM-4 -24l6 3-3 4-6-2-1-2zM81 -11l5-1 2 3-7 4-2-1zM272 -11l4-1 0 13-4-5zM-232 -9l6 0 3 5-3 2-4-2zM57 -9l9-1 3 1 1 5-4 4-5 2-3-3zM-212 -1l3 0 4 7-4 7-2 0-4-4zM142 -1l4-1 2 3-4 2-3-2zM-88 1l5 0 7 8-5 1-8-1-2-3zM246 11l3-2 3 7zM-49 24l3-2 5 4 2 8-9-3zM-238 29l7 0 2 2-9 8 1 7-4 3-7-5zM-104 29l3-2 4 4 2 5-1 6-7-3zM-9 29l8-2 6 7 1 4-5 0-7-3-3-4zM55 36l1-2 4 2-1 6zM272 44l4-1 0 8-5 0-4-2 1-3zM23 56l3 0 3 3 0 5-3 3-5-1-1-2zM-29 64l6 2 0 3-2 2-6-2zM-276 71l0-1 2 0 2 4-4 3zM250 74l6 2 5 8-7 5-5-8zM47 91l5 0-1 5-5 0zM197 96l4-2 2 2-2 7-4-2zM-269 101l5 0 5 8-7 1-5-1-2-3zM69 101l2 0 1 3-5 12-13 0 0-3zM-233 109l4 0 5 2 2 5-2 4-2 1-8-7zM24 109l2-2 3 1 4 11-2 1-10-3-1-3zM246 114l3-2 3 2-3 3-3-1zM202 116l4-2 5 5-1 2-7 8-2 6-2-1-2-3 4-5-1-7zM-209 141l5-1 2 4-2 3-5 0zM260 154l9 1 4 4-2 2-13 0-1-5zM165 164l9 8 0 6-10-1-3-2 0-4zM-174 166l3-2 5 6 3 1-1 13-5 0-3-3 3-7zM-266 171l2-2 5 1 3 6-3 1zM190 174l5 0 1 2-1 3-4 1-2-1zM-240 186l1-2 3 1 4 4-4 2zM160 189l4-1 1 3-4 5-2 1-2-3zM-216 196l5 1-3 5-4-1zM132 196l7-1 7 9-5 3-10 0-1-3zM-272 199l3-2 5 2-5 1zM-26 211l5-1 1 4-4 1zM164 214l2-2 4 2 2 5-1 2-5 0zM-60 219l5 2-1 5-8 0-1-2zM-184 221l3-2 8 5-1 6-2 2-5-2zM-100 226l14 8 4 7-2 2-5 1-7-9-8-3 0-3zM1 226l3 2 0 6 4 5-2 3-4-3zM-249 246l0-2 3 2 0 6-3-1zM-181 246l8 0 4 3 0 2-10 5-4 0-2-5zM126 246l4 3-1 3-6-3zM258 256l3-1 1 4-3 5-3 0zM-111 261l7 5-1 5-4 3-7-2-2 4-5 0 0-7zM23 264l6 1 0 4-15 7-2-7 4-4zM-17 269l3-2 3 9-7 0zM230 269l2 0 1 7-7 0zM256 274l5-1 3 3-9 0z"/>
<path fill="#fdb062" d="M73 -231l6-2 12 2 15 7 20 14 7 9 13 11 23 34 2 12-3 8-7 3-9-6-6 2-4-2-16-12-7-9-18-9-17-12-12-15-20-10-4-13 1-5 5-2 12 1zM-41 -186l2-2 5 0 6 9 0 5-5 15-13 12-11 18-9 13-5 3-4-8 1-9-5 0-5 8-3-2-1-7 4-15 15-11 9-14zM-107 -114l3 0 0 4 20 7 0 7-15 15-8-8-2-5-7-7 5-10zM-169 -61l5 0 2 2 7 13 11 15-2 8-10 0-2 2 4 6 8-4 2 3 9 30-1 10 2 15 5 4 15 3 7 10 6 13-6 22 4 0 4-5 3 0 1 10 1 3 8 2 3 8-1 4-5 6 18 8 9 9 1 9-5 6-8 2-10-3-27-1-20-7-13-13-10-15-4-18-5-7 0-10-4-8 1-10-6-17-4-25 1-38-4-25 7-15z"/>
<path fill="#f67b46" d="M77 -226l14-1 18 8 17 14 20 19 10 15 11 17 1 8-2 4-5 1-17-8-4-2-4-8-10-1-2-3-7-8 0-8-3-2-5-1-10 3-14-10-3-10-3-2-17-5-1-3 8-5zM89 -200l-3 1 1 3 4 1 3-1-1-3zM-40 -179l4-1 2 2 1 7-18 25-8 4-4-9 1-8 9-12zM-62 -139l3 0 1 5-6 5-1-5zM-168 -14l7 0 8 5 4 7 5 3 3 10-2 10 7 28 8 7 0 8 7 3 2 3 1 9 5 5-2 12 12 13 0 20 8 12-4 4-12 1-20-7-2-8-8-7-3-13-8-10-10-30 1-10-7-15-4-22 1-15 5-10-3-8z"/>
<path fill="#da3c2a" d="M106 -209l3-1 15 9 7 7 3 8 10 2 10 14 4 11 5 5 1 6-3 0-7-7-8-2-3-9-13-3-2-7 0-10-4-2-10-1zM-161 4l5 0 7 7 0 5-3 15-9 5-5-4-2-8 3-5zM-156 46l5-1 14 11 3 17 8 6 4 7-5 8 4 10-3 6-10 1-5-5-11-25 0-7 3-8-5-5zM-111 136l3 3-1 2-2 1-3-1 0-2z"/>
</g>
<use href="#shelf" fill="#fff"/>
<use href="#land" fill="#fff" stroke="#fff" stroke-width="5"/>
<line x1="0" y1="80" x2="0" y2="268" stroke="#fff" stroke-width="2"/>
<use href="#land" fill="#d6d6d6"/>
<!--grid-->
<use href="#land" fill="none" stroke="#000" stroke-width="2.2" stroke-linejoin="round"/>
<use href="#isl" fill="#d6d6d6" stroke="#000" stroke-width="2" stroke-linejoin="round"/>
<g fill="none" stroke="#808080"><circle r="69" stroke-width="1.2" stroke-opacity="0.55" stroke-dasharray="4 2.5 1 2.5"/><circle r="139" stroke-width="1.2" stroke-opacity="0.55" stroke-dasharray="4 2.5 1 2.5"/><circle r="211" stroke-width="1.2" stroke-opacity="0.55" stroke-dasharray="4 2.5 1 2.5"/><line x1="0" y1="0" x2="0" y2="-270" stroke-width="1.8" stroke-opacity="0.26"/><line x1="0" y1="0" x2="190.9" y2="-190.9" stroke-width="1.8" stroke-opacity="0.26"/><line x1="0" y1="0" x2="270" y2="0" stroke-width="1.8" stroke-opacity="0.26"/><line x1="0" y1="0" x2="190.9" y2="190.9" stroke-width="1.8" stroke-opacity="0.26"/><line x1="0" y1="0" x2="0" y2="270" stroke-width="1.8" stroke-opacity="0.26"/><line x1="0" y1="0" x2="-190.9" y2="190.9" stroke-width="1.8" stroke-opacity="0.26"/><line x1="0" y1="0" x2="-270" y2="0" stroke-width="1.8" stroke-opacity="0.26"/><line x1="0" y1="0" x2="-190.9" y2="-190.9" stroke-width="1.8" stroke-opacity="0.26"/></g>
<g fill="#8f8f8f"><text x="-18.8" y="-222.0" font-size="28" textLength="39.6" lengthAdjust="spacingAndGlyphs">0°E</text><text x="-196.1" y="-155.3" font-size="28" textLength="65.1" lengthAdjust="spacingAndGlyphs">45°W</text><text x="137.7" y="-155.3" font-size="28" textLength="52.0" lengthAdjust="spacingAndGlyphs">45°E</text><text x="-263.4" y="10.5" font-size="28" textLength="63.6" lengthAdjust="spacingAndGlyphs">90°W</text><text x="205.3" y="10.3" font-size="28" textLength="54.4" lengthAdjust="spacingAndGlyphs">90°E</text><text x="29.3" y="51.2" font-size="28" textLength="54.4" lengthAdjust="spacingAndGlyphs">80°S</text><text x="87.8" y="92.1" font-size="28" textLength="51.2" lengthAdjust="spacingAndGlyphs">70°S</text><text x="144.9" y="134.1" font-size="28" textLength="54.0" lengthAdjust="spacingAndGlyphs">60°S</text><text x="-203.1" y="173.6" font-size="28" textLength="78.4" lengthAdjust="spacingAndGlyphs">135°W</text><text x="130.2" y="173.9" font-size="28" textLength="68.0" lengthAdjust="spacingAndGlyphs">135°E</text></g>
<path d="M-249.4,-99.3 -227.8,-106.1 -226,-104 -231,-92 -235,-88 -236,-83 -240,-83 -241,-88 -244,-88 -245,-82 -249,-82 -252,-84 -256,-77 -258,-80 -254,-92 -251,-98Z" fill="#9a9a9a" stroke="#000" stroke-width="1.7" stroke-linejoin="round"/>
<ellipse cx="0" cy="1.3" rx="270.4" ry="271.3" fill="none" stroke="#000" stroke-width="4.2"/>
</g>
<g transform="translate(1493,350.3)">
<g clip-path="url(#dom2)">
<rect x="-276" y="-276" width="552" height="552" fill="#3a4ba1"/>
<path fill="#4f84be" d="M-276 -276l552 0 0 552-552 0z"/>
<path fill="#80b6da" d="M-276 -276l552 0 0 552-552 0zM-131 -4l-4 5 4 6 2-1 3-7-3-3zM-86 -87l0 14 15 8 6-1 2-3-3-14zM96 -145l-4 6 4 3 5-8-2-2z"/>
<path fill="#b2dfee" d="M-276 -276l552 0 0 552-552 0zM-136 -9l-3 3 0 17-5 7 0 6 5 17 5 4 7-9 1-7 5-10-3-25-5-4zM-104 -98l-2 4 2 13 5 3 5 10 18 7 7 0 12-3 9-10 1-5-7-10 0-5-7-4-3-1-10 7-5-4-17 0zM-36 136l-5 5 0 10 2 4 5 1 12-7-7-11-2-2zM84 -161l-4 7-14 14 1 4 14 6 10-1 13 5 17 1 7-11-9-13-5 2-8-7-12-1-7-6zM-139 87l1 7 7 1 2 3 4 1 1-3-1-2-9-2zM-86 117l-2 2 2 1 9 1-2-2zM-131 105l-2 11 7 12 18 18 8 0 2-5-1-12-12-5-8-14-10-6z"/>
<path fill="#e1f5f8" d="M-276 -276l552 0 0 552-552 0zM-136 -14l-5 2-3 3-5 35 6 20 9 4 13-14 3-25-6-23-5-3zM-79 -116l-24 2-7 3-2 20 3 12 10 14 23 7 22-1 16-15-5-12-1-13-17-12-13 2-1-5zM69 -199l-8 20-1 20-6 10 5 11 7 7 20 8 13 3 12-1 5 4 10-2 9-10 0-5-21-45-8-4-10 2-6-5-1-3 5-5-5-5-15-1zM-146 62l-3 7 11 47 7 13 9 7 6 10 22 10 10 2 5-1 8-6 4 8 15 5 18 0 21-5 0-5-13-21-15-3-5-4-15-2-7-3-6-7-15-3-7-7-10-1-5-9-8-3-5-5-7-20zM85 -189l3 0 0 3-4 9-2-7zM-72 136l3-2 6 5-3 3z"/>
<path fill="#ffffc0" d="M-276 -276l63 0 2 3 5 2 1-5 66 0 3 3 5 0 5 5 3-8 8 0 1 6 3 0 5-6 159 0 8 5 7-5 18 0 8 3 5-3 120 0 1 5 4 2 7-4 3-3 42 0 0 68-5 2-2 2 0 3 7 5 0 38-4 2-3 5 2 5 5 4 0 107-2 1 2 2 0 280-4 6 4 4 0 18-224 0-8-4-8 4-117 0 3-5-3-4-3 4 1 5-93 0-1-2-7-3-5 5-39 0-3-2-3 2-16 0 1-2-5-3-2 1-1 4-19 0 0-59 5 1 6-4-1-3-10-5 0-57 5 3 2-3-7-5 0-92 5-1 2-2-5-8 8-10-3-2-7 2 0-150 7-7-5-8 3-5-2-5-3-1 0-40 11 1 0-2-11-6 0-59 5-2 0-3-5-1zM-251 -140l-3 4 0 3 9-3 0-3zM-246 -243l-3 4 3 4 5-6zM-229 -111l-2 2-1 8 1 3 2 1 3-2 2-7-2-5zM-221 221l-4 5 1 3 5 0 5-8-5-2zM-216 103l-3 1 0 3 5 1 5-2zM-211 -107l-4 11 1 3 4-1 4-10-3-4zM-201 -155l-4 4-1 5 6-5 1-3zM-194 -66l-1 2 4 2 8-2-6-3zM-176 -259l-1 10 3 2 8 0 3-4-2-8zM-154 -264l-4 3 4 3 2-3zM-151 -239l-5 5-5 1 10 4 4-7-2-3zM-134 -75l-1 1 1 4 3 0 2-4zM-124 -258l0 7-3 5 3 7 3-1 1-4-3-7 1-3zM-101 -209l-16 3 8 1 8 4 4-5zM-79 -122l-32 6-3 5-1 20-4 7 15 23 13 2 10 10 10-5 10 5 10-6 15-13 2-8-2-8 1-7-6-18-18-7-10-1zM-66 -250l1 9 9 12 2-1 2-6-3-8 1-6zM-46 -241l-1 2 2 5 6 1 3-6-3-2zM-31 -102l-2 6 2 3 8-3 1-3-2-2-5-2zM-6 -266l-4 5 6 2 2-2zM-1 -137l-3 6 5 1 5-1 3-5-5-2zM21 87l-2 3 0 3 9-2-2-3zM26 -14l-3 3 1 3 3-1zM34 -34l-2 3 2 3 7 1 3-2zM49 -79l-5 3 0 2 2 4 3 1 3-7zM66 -231l-2 2 1 3 6 0 0-5-2-2zM89 -241l0 3 7 10 3 2 2-2 2-3-2-3zM119 -271l-5 2 0 3 12 9 3-1 2-8-2-7zM149 -229l-13 5-1 3 4 3 5-5 5 0 2-6zM171 -252l-2 4 7 14 5 2-2-9 2-8-5-3zM184 -114l-4 3 6 1 1-1zM191 -12l-1 6 4 2 2-1 0-4zM194 -38l-1 4 3 2 0-6zM199 -269l-3 5 3 4 6-6-1-5zM206 211l3 7 1-7-1-2zM219 -110l-3 4 2 2-5 5 3 2 5-9 0-3zM226 -259l0 5 16 0-1-3zM251 -219l3 6 5 2 1-5-1-4zM264 111l-4 3 1 4 3 0 1-4zM-266 231l-2 3 0 2 4 5 3-5-3-5zM-269 129l-3 2 1 6 5-1 6-5-4-3zM-271 -79l0 2 5 1 5 7 2-1 2-4-1-2zM-249 -39l-2 3 5 2 0-4zM-231 153l-2 3 2 3 6 0 3-3-7-5zM-206 -82l-2 1 0 2 4 5 3-6zM-184 6l-6 8 4 3 7-6-2-6zM-176 -8l-2 2 1 7 8 5 3-2 0-7zM-151 -154l-4 3 1 2 7-2 0-3zM-84 -34l-7 2-5 5-6 3 3 12 10 0 1-12 4-3 8-2zM-66 43l-2 3 7 4-1-6zM-9 -35l-1 4 1 2 6 0 3-2-4-4zM1 56l0 5 3 0 2-5-2-2zM9 -91l-2 2 4 4 3-4 0-2zM26 34l-2 2 0 5 5 5 3-7zM69 -204l-5 5-6 18-2 20-7 12 1 5 7 13 9 6 13 3 5 5 20 4 10 7 5-1 7-5 5 0 8 6 3 7-7 13 2 7 7 3 5-5 7-3 3-5 7-5-1-2-7-3-3-7-9-7-6-8 3-8-7-16 0-14-9-5-7-17-10-5-9-13-12-6zM99 -222l-1 6 3 3 3-6-3-4zM151 -211l-4 2-1 8 5 5 4-3 0-10 0-2zM174 -152l0 10 5 0 1-2-1-5zM181 162l-2 2 1 2 4 2 2-2 0-2zM191 107l-1 4 4 2 1-2 0-2zM199 69l-5 6-1 4 8 2 0 4 3 1 2-2-1-3-3-2-1-7zM211 -67l-2 1 0 2 5 3 5 7 2-2 2-3-2-2zM234 -186l-4 5 4 3 3-3-1-4zM239 -169l-3 3 0 7 13 2 2-1-7-6-1-5zM256 1l0 3 3 1 2-1 0-3zM-264 48l3 15 9 1-4 7 1 3 6 2 7-2-4-19zM-249 -22l-1 3 5 8 1 10 4-10zM-201 126l-3 5 5 2 2-4-1-3zM-186 175l-2 1 2 3 5-3zM-149 -64l-6 8 1 12 3 4 14 6 1 3-3 4-10-1-10 4 1 8 8 5 1 5-2 7 0 17-7 21 2 5 6 2 1 5-5 5-1 10 6 20 2 25 13 20 9 8-2 7 1 3 22 7 10 7 10 0 13 5 10-2 15 3 7 5 28-9 4-4 0-5-9-19-7-8-9-3-7-7-10 0-27-10-10-2-8-7-8-4-4-6-9-4-9-12-2-13-6-5 8-11 11-9-1-17 3-8-5-7-5-19-15-6 8-10-3-8 1-15 2-7-6-5-5 4zM-81 24l-7 12 2 7 4-4 5-10-2-5zM29 185l-2 6 1 3 3 0 2-3-2-5zM66 -27l0 6 3 1 1-4-1-3zM76 -84l-5 5 3 6 4-8 0-3zM86 -57l1 3 7 4 1-1-4-7zM109 11l-3 3 3 6 7 1 4-2-6-8zM124 55l0 5 2 1 3-2 0-3zM159 -74l-7 8 0 7-5 15 3 13 6 4 0 6 9 10 1 5 5 2 4-2 4-10-3-8-11-7 2-5 6-5 0-8 4-17-13-9zM181 243l-2 2-1 4 1 3 2 2 5-5zM211 23l0 4 6-1-3-4zM219 -20l-3 6 3 4 3-1-1-7zM229 103l-9 6-1 2 2 8-4 7 12 8 8-8-9-5-4-5 2-6 8-4 1-2zM231 36l-1 3 3 5 3 15 4-5-4-10 1-5-2-3zM241 -87l-4 3 2 5 2 0 2-5zM249 -94l-3 5 8 2 1-2-1-2zM-249 193l-2 6 5 1 7 5 8-1 2-3-5-4-10-4zM-199 247l-1 2 0 2 4 1 1-3zM-176 113l-3 3 3 9zM-174 147l-2 2 2 3 6-3zM-151 165l-3 2 0 6 4-4zM-141 211l-5 3 0 2 5 2 6-4zM-126 235l-2 4 4 0 1-3zM-59 196l-5 4-10 4-1 2 6 4 8-7 15 4 2-2 2-6-2-3-7 3zM-29 243l-2 6 2 5 0 7 3 2 2 0-1-19-1-3zM-14 173l0 3 3 4 10-4 0 8 7 2 0-8-12-5zM31 213l-1 6 4 1 1-6zM59 201l-2 3 2 3 2 3 3 0 1-9zM119 91l-2 3 2 1 5-1 1-3zM131 155l-2 6 3 3 4-1 2-4zM149 263l0 4 5 2 7-2 1-3-1-2-7 3zM171 122l-1 2 1 2 4 0zM229 141l-1 5 3 1 2-3-2-3zM-244 232l-2 2 1 2 4 3 1-5zM-176 190l-4 4 1 2 8-2 2-3zM-139 247l-2 2 5 7 5 2 2-2 0-9zM-66 266l0 5 3 0 3-2-1-3zM-46 233l-1 3 3 3 6-3 0-2-3-2zM171 198l-2 1-2 5 4 2 4-2 0-3zM231 185l-2 3-1 8 3 3 2 0 2-10z"/>
<path fill="#fee292" d="M-159 -276l10 0-7 5-3-1zM34 -276l12 0-2 7 7 5 0 3-15 1-1-1 4-8-4-2zM-35 -266l4-2 2 1 0 5-2 2-3-1zM77 -266l7 0-3 3-3-1zM-95 -264l4-1 5 3 3 11-2 2-6 2-3-1zM-255 -259l3 0 0 3-2 5-2 1-2-4zM268 -256l8-2 0 7-7 1-3-4zM-25 -251l4 0-3 5-3-3zM-5 -251l4-1 2 3-2 2zM29 -251l7 0 5 5-3 2-6 0zM-139 -246l3 2 0 4-3 1zM154 -244l5 0 6 3 4 10-1 2-4 2-3-3-8-9zM8 -241l6 0 2 2-5 4zM131 -239l3 0 3 5-4 0-3-2zM-145 -226l4-2 4 9-2 9-8-9zM51 -219l3-1 13 9-9 20-4 28-10 13-28 4-10 3-5-1-5-3-17 0-30 12-8 9-5 2-10-4-12 5-25 4-6 8-1 20-13 9-15-3-8-10-10-4-1-5 2-10-1-12 2-5 20-18 7-17 16-18 8-6 15-4 4-10-2-10 3-3 20 7 10-2 5 1 7-5 20-1 5 4 8-1 10 6 7-4 10 3 10-8 8 7 7-3 8 1 4-2zM215 -219l6-1 1 4-3 2zM-250 -216l5 0 4 9 5 1 2 2 5 18-5 6-7 1-1-2 4-18-5-7-7-5zM-146 -206l7-2 3 4-5 4-5-3zM167 -189l5 0 1 5-4 1-3-3zM143 -186l1-2 4 4 6 14 0 4-11-13zM215 -184l4-1 0 1 0 5-3 4-4-1zM-207 -181l6 0 0 5-5 2-3-5zM-270 -176l4-1 4 1 0 2-7 2zM-276 -166l2-2 3 2-1 12-1 3-3 0zM-236 -166l2 0 0 5-4 0-1-3zM178 -166l4 2-1 3-2 2-3-2zM192 -159l5 0-1 7-5 0-3-2 0-2zM225 -149l4-1 2 1 0 6-6-3zM245 -149l11 7 1 3-6 7-7 2-4-1 5-8zM-180 -144l4-1 3 1-3 4-5-1zM221 -129l7 3-2 2-5 1-2-3zM-35 -124l11 3 3 2-2 3-11-2-2-3zM270 -121l4 0 1 2-4 7-3-4zM-8 -116l4-2 3 4-5 7-5-2zM-272 -111l7 0-3 2-6 0zM-244 -109l3-2 2 2-2 4zM113 -99l6-1 2 1-1 3-4 1-3-1zM205 -91l1-2 5 1 5 3 1 3-3 2-5 1zM-186 -86l2-1 4 3-1 5-7-2zM-4 -86l3 0 6 5-1 7-5-1zM-242 -81l3-2 2 2-2 7-3-2zM85 -79l6-2 3 5-3 3-5 0-2-3zM-226 -76l5 1 2 1-1 3-4 2-4-2zM36 -74l3 2 2 6-2 1-5-4zM9 -69l5 0 1 3-6 1zM-25 -61l6 0 0 5-5-1-1-2zM238 -61l6-2 2 2 1 5-3 3-5 0zM23 -41l3 2-1 8-4 3-2-2 0-4zM-234 -39l7 0-4 5-4-2zM71 -34l3-2 5 4 0 6-3-1zM233 -31l3-2 3 1 5 8 0 10-3 2zM-4 -24l6 3-3 4-6-2-1-2zM81 -11l5-1 2 3-7 4-2-1zM272 -11l4-1 0 13-4-5zM-232 -9l6 0 3 5-3 2-4-2zM57 -9l9-1 3 1 1 5-4 4-5 2-3-3zM-212 -1l3 0 4 7-4 7-2 0-4-4zM142 -1l4-1 2 3-4 2-3-2zM-88 1l5 0 7 8-5 1-8-1-2-3zM165 1l9 1 12 9 2 13 5 5-4 10 0 15-4 10 1 5-6 10 1 5-20 15-2 11-5 4-5 17-6 8-27 15-5 5-12 5-15 1-13 14-15 1-10-5-10 4-15-2-9-8-1-5-17-13-6-15-9-12-15-8-23-5-17-7-10-2-18-15-8-3-7-13 4-7-3-8 4-3 38 19 5-3 5 1 7 8 20 1 15 2 8-2 5 0 5 5 9 27 6 5 3 18 2 1 7 0 40-13 1-3-8-3-1-2 16-13 2 0 1 3-4 10 11 5 20-9 12-2 31-22 1-7-2-13 8-11 5-14-5-7 0-3 7 0 5-7-4-15 2-5zM246 11l3-2 3 7zM-49 24l3-2 5 4 2 8-9-3zM-238 29l7 0 2 2-9 8 1 7-4 3-7-5zM-105 29l1-2 3 0 4 4 2 5-1 6-6-3zM-9 29l8-2 6 7 1 4-5 0-7-3-3-4zM55 36l1-2 4 2-1 6zM272 44l4-1 0 8-5 0-4-2 1-3zM23 56l3 0 3 3 0 5-3 3-5-1-1-2zM-29 64l6 2 0 3-3 3-5-3zM-59 69l3-2 3 2-3 3-3-1zM-276 71l0-1 2 0 2 4-4 3zM250 74l6 2 5 8-7 5-5-8zM47 91l5 0-1 5-5 0zM197 96l4-2 2 2-2 7-4-2zM-269 101l5 0 5 8-7 1-5-1-2-3zM-233 109l4 0 5 2 2 5-2 4-2 1-8-7zM24 109l2-2 3 1 4 11-2 1-10-2-1-4zM246 114l3-2 3 2-3 3-3-1zM202 116l4-2 5 5-1 2-7 8-2 6-2-1-2-3 4-5-1-7zM-209 141l5-1 2 4-2 3-5 0zM260 154l9 1 4 4-2 2-13 0-1-5zM-117 161l8 1-1 7-4 3-5-3 0-5zM165 164l9 8 0 6-10-1-3-2 0-4zM-174 166l3-2 5 6 3 1-1 13-5 0-3-3 3-7zM-266 171l2-2 5 1 3 6-3 1zM190 174l5 0 1 2-1 3-4 1-2-1zM-78 179l4-2 0 7-5 1-1-1zM-240 186l1-2 3 1 4 4-4 2zM54 189l5-2 1 4-4 1zM160 189l4-1 1 3-4 5-2 1-2-3zM-216 196l5 1-3 5-4-1zM132 196l7-1 7 9-5 3-10 0-1-3zM-272 199l3-2 5 2-5 1zM-26 206l5 0 3 3-3 7-5-4zM164 214l2-2 4 2 2 5-1 2-5 0zM-60 219l5 2-1 5-8 0-1-2zM-184 221l3-2 8 5-1 6-2 2-5-2zM-100 226l14 8 4 7-2 2-5 1-7-9-8-3 0-3zM1 226l3 2 0 6 4 5-2 3-4-3zM-249 246l0-2 3 2 0 6-3-1zM-181 246l8 0 4 3 0 2-10 5-4 0-2-5zM126 246l4 3-1 3-6-3zM258 256l3-1 1 4-3 5-3 0zM-111 261l7 5-1 5-4 3-7-2-2 4-5 0 0-7zM23 264l6 1 0 4-15 7-2-7 4-4zM-17 269l3-2 3 9-7 0zM230 269l2 0 1 7-7 0zM256 274l5-1 3 3-9 0z"/>
<path fill="#fdb062" d="M-42 -209l21 3 10 9 15-6 7 1 8-4 10 4 5 4 11-8 9-3 3 0 2 3-1 5-10 7 0 3 4 5-1 17-2 7-8 8-27 2-8 4-10-5-17 2-13 4-12-2-9 8-6 10-15-2-10 6-28 7-6 9 1 12-2 7-15 4-10-1-12-15-2-22 3-5 20-18 4-12 5-8 22-13 17-3 8 2 2-3-1-8 1-3 8-2 5-4 7 3 10-3zM163 6l8 0 8 5 6 23-1 20-5 10-7 20-18 12-2 10-4 5-3 10-6 12-5 2-8-6-3 2-2 3 7 5-2 5-10 3-6-6-4 0 1 8-6 7-7 3-8-2-12 12-10 6-5 0-10-4-18 2-7-7-3-8-7 0-16-9-4-6-2-9-9-13-67-23-12-7-8-9-5-1-4-7 2-7 5-3 10 2 17 11 10 0 8 5 27 1 18 6 7 5 6 10-1 15 9 5-4 17 10 3 18-8 12-4 20-2 38-10 10-6 10-3 7-7 15-10 10 1-4-11 1-18 7-15 5-17 8-10-7-13z"/>
<path fill="#f67b46" d="M34 -184l3 0 5 5 1 5-2 2-2 1-3-1zM-69 -181l3 0 0 2-7 5 2 10-5 15-1 8-7 2-7-2-2 2 2 5-3 3-17 6-8 6-4 8 1 12-2 4-15 4-7-2-6-8-5-15 1-10 2-5 20-12 15-3 8 6 3-6-2-13 9-2 5-13 5 0 7 7 9-7zM-84 -164l-6 5 10 0zM-38 -176l4-2 10 9 8 0 10 4 1 1-1 5-5 3-10-2-10 7-5-1-11-12zM18 -166l3 0-2 6-3-2zM166 11l3-1 5 2 2 7-2 1zM176 24l5 10 0 8-2 6-3 0-2 3 1 8-4 8-2 14-6 5-7 2-5-4 2-18 3-4 6-1 2-2-3-10 5-10 5 3 4-1 0-5-3-5zM-107 69l8 1 33 16 25 0 17 3 14 10 3 7-1 5-6 5-10-1-17-7-10-2-30-12-5-4-8-2-2-2-3-7-10-4 0-4zM34 151l2-1 5 2 18-2 11 14-4 5-5 2-10-5-17 3-3-5z"/>
<path fill="#da3c2a" d="M-139 -134l3-2 3 2-1 5 5 8-2 5 3 10-3 7-10 5-5-7-2-10-5-8 2-7 2-1 5 5 3-1zM-124 -129l0-2 3 1 3 4-6 6-2-1zM161 69l3 0 1 2-1 8-3 1-2 0-1-4 1-5zM-61 91l17-2 18 3 4 2 8 10 0 4-7 3-10-2-8-5-10-2-10-4-3-4z"/>
</g>
<use href="#shelf" fill="#fff"/>
<path fill="#fff" d="M-158,-106 -150,-104 -140,-92 -128,-80 -112,-70 -100,-62 -118,-63 -140,-66 -150,-78 -155,-92Z"/>
<use href="#land" fill="#fff" stroke="#fff" stroke-width="5"/>
<line x1="0" y1="80" x2="0" y2="268" stroke="#fff" stroke-width="2"/>
<use href="#land" fill="#d6d6d6"/>
<!--grid-->
<use href="#land" fill="none" stroke="#000" stroke-width="2.2" stroke-linejoin="round"/>
<use href="#isl" fill="#d6d6d6" stroke="#000" stroke-width="2" stroke-linejoin="round"/>
<g fill="none" stroke="#808080"><circle r="69" stroke-width="1.2" stroke-opacity="0.55" stroke-dasharray="4 2.5 1 2.5"/><circle r="139" stroke-width="1.2" stroke-opacity="0.55" stroke-dasharray="4 2.5 1 2.5"/><circle r="211" stroke-width="1.2" stroke-opacity="0.55" stroke-dasharray="4 2.5 1 2.5"/><line x1="0" y1="0" x2="0" y2="-270" stroke-width="1.8" stroke-opacity="0.26"/><line x1="0" y1="0" x2="190.9" y2="-190.9" stroke-width="1.8" stroke-opacity="0.26"/><line x1="0" y1="0" x2="270" y2="0" stroke-width="1.8" stroke-opacity="0.26"/><line x1="0" y1="0" x2="190.9" y2="190.9" stroke-width="1.8" stroke-opacity="0.26"/><line x1="0" y1="0" x2="0" y2="270" stroke-width="1.8" stroke-opacity="0.26"/><line x1="0" y1="0" x2="-190.9" y2="190.9" stroke-width="1.8" stroke-opacity="0.26"/><line x1="0" y1="0" x2="-270" y2="0" stroke-width="1.8" stroke-opacity="0.26"/><line x1="0" y1="0" x2="-190.9" y2="-190.9" stroke-width="1.8" stroke-opacity="0.26"/></g>
<g fill="#8f8f8f"><text x="-18.8" y="-222.0" font-size="28" textLength="39.6" lengthAdjust="spacingAndGlyphs">0°E</text><text x="-196.1" y="-155.3" font-size="28" textLength="65.1" lengthAdjust="spacingAndGlyphs">45°W</text><text x="137.7" y="-155.3" font-size="28" textLength="52.0" lengthAdjust="spacingAndGlyphs">45°E</text><text x="-263.4" y="10.5" font-size="28" textLength="63.6" lengthAdjust="spacingAndGlyphs">90°W</text><text x="205.3" y="10.3" font-size="28" textLength="54.4" lengthAdjust="spacingAndGlyphs">90°E</text><text x="29.3" y="51.2" font-size="28" textLength="54.4" lengthAdjust="spacingAndGlyphs">80°S</text><text x="87.8" y="92.1" font-size="28" textLength="51.2" lengthAdjust="spacingAndGlyphs">70°S</text><text x="144.9" y="134.1" font-size="28" textLength="54.0" lengthAdjust="spacingAndGlyphs">60°S</text><text x="-203.1" y="173.6" font-size="28" textLength="78.4" lengthAdjust="spacingAndGlyphs">135°W</text><text x="130.2" y="173.9" font-size="28" textLength="68.0" lengthAdjust="spacingAndGlyphs">135°E</text></g>
<path d="M-249.4,-99.3 -227.8,-106.1 -226,-104 -231,-92 -235,-88 -236,-83 -240,-83 -241,-88 -244,-88 -245,-82 -249,-82 -252,-84 -256,-77 -258,-80 -254,-92 -251,-98Z" fill="#9a9a9a" stroke="#000" stroke-width="1.7" stroke-linejoin="round"/>
<ellipse cx="0" cy="1.3" rx="270.4" ry="271.3" fill="none" stroke="#000" stroke-width="4.2"/>
</g>
<g transform="translate(2047.7,350.3)">
<g clip-path="url(#dom3)">
<rect x="-276" y="-276" width="552" height="552" fill="#3a4ba1"/>
<path fill="#4f84be" d="M-276 -276l552 0 0 552-552 0z"/>
<path fill="#80b6da" d="M-276 -276l552 0 0 552-552 0zM-131 -4l-5 3 2 6 5-2 3-4-3-4z"/>
<path fill="#b2dfee" d="M-276 -276l552 0 0 552-552 0zM-149 -22l-2 1 0 5 11 25-5 7 0 8 11 20 5-8 0-10 8-5-5-7 3-13 0-10-3-6-5-3zM-106 86l-2 5 2 1 3-3-1-3zM-86 -86l0 3 15 16 5 1 5-3-5-15z"/>
<path fill="#e1f5f8" d="M-276 -276l552 0 0 552-552 0zM-146 -59l-5 7-1 6 3 6 11 9-3 2-10 2-4 3-1 5 5 13 4 52 8 10 3 15 5 8 2 1 3-1 0-5 2-4 4 1 0 5-4 5 8 5-3 4-7-2-2 3 1 5 11 14 4 1 6-3 2 3 1 8 7 1 3-4-2-17-5-20-8-8-2-7-8-8 4-7 3-15-4-13 1-10-5-7-1-18-4-10 1-7-12-25zM-109 -99l-4 5 4 13 3 3 7 3 5 6 13 3 10 5 12-2 4-3 1-10-10-12-10-2-17-8-13-3zM49 -154l-8 5 1 3 4 4 11-2-1-7-2-3z"/>
<path fill="#ffffc0" d="M-276 -276l63 0 2 3 5 2 1-5 66 0 3 3 5 0 5 5 3-8 8 0 1 6 3 0 5-6 159 0 8 5 7-5 18 0 8 3 5-3 120 0 1 5 4 2 7-4 3-3 42 0 0 68-5 2-2 2 0 3 7 5 0 38-4 2-3 5 2 5 5 4 0 107-2 1 2 2 0 280-4 6 4 4 0 18-224 0-8-4-8 4-117 0 3-5-3-4-3 4 1 5-93 0-1-2-7-3-5 5-39 0-3-2-3 2-16 0 1-2-5-3-2 1-1 4-19 0 0-59 5 1 6-4-1-3-10-5 0-57 5 3 2-3-7-5 0-92 5-1 2-2-5-8 8-10-3-2-7 2 0-150 7-7-5-8 3-5-2-5-3-1 0-40 11 1 0-2-11-6 0-59 5-2 0-3-5-1zM-251 -140l-3 4 0 3 9-3 0-3zM-246 -243l-3 4 3 4 5-6zM-229 -111l-2 2-1 8 1 3 2 1 3-2 2-7-2-5zM-221 221l-4 5 1 3 5 0 5-8-5-2zM-216 103l-3 1 0 3 5 1 5-2zM-211 -107l-4 11 1 3 4-1 4-10-3-4zM-201 -155l-4 4-1 5 6-5 1-3zM-194 -66l-1 2 4 2 8-2-6-3zM-176 -259l-1 10 3 2 8 0 3-4-2-8zM-154 -264l-4 3 4 3 2-3zM-151 -239l-5 5-5 1 10 4 4-7-2-3zM-134 -76l-1 2 1 5 3 0 2-5zM-124 -258l0 7-3 5 3 7 3-1 1-4-3-7 1-3zM-104 -209l-13 3 8 1 5 6 5 1 4-8-4-4zM-66 -250l1 9 9 12 2-1 2-6-3-8 1-6zM-46 -241l-1 2 2 5 6 1 3-6-3-2zM-29 -102l-2 6 2 3 7-6-2-2zM-6 -266l-4 5 6 2 2-2zM-1 -137l-3 6 5 1 5-1 3-5-3-3zM4 -222l-3 1 2 2 8 9 0-8zM26 -182l0 3 3 3 2-1 0-4-2-2zM49 -194l-2 3 2 2 5-5zM59 -182l-4 3 6 3 3-5zM66 -231l-2 2 1 3 6 0 0-5-2-2zM79 -144l-4 3 6 1 1-4zM89 -241l0 3 7 10 3 2 2-2 2-3-2-3zM109 -181l0 5 5 2 2-1 0-5zM119 -271l-5 2 0 3 12 9 3-1 2-8-2-7zM149 -229l-13 5-1 3 4 3 5-5 5 0 2-6zM171 -252l-2 4 7 14 5 2-2-9 2-8-5-3zM184 -114l-4 3 6 1 1-1zM191 107l-1 4 4 2 1-2 0-2zM199 -269l-3 5 3 4 6-6-1-5zM206 211l3 7 1-7-1-2zM219 -110l-3 4 2 2-5 5 3 2 5-9 0-3zM226 -259l0 5 16 0-1-3zM251 -219l3 6 5 2 1-5-1-4zM264 111l-4 3 1 4 3 0 1-4zM-266 231l-2 3 0 2 4 5 3-5-3-5zM-269 129l-3 2 1 6 5-1 6-5-4-3zM-271 -79l0 2 5 1 5 7 2-1 2-4-1-2zM-249 -39l-2 3 5 2 0-4zM-231 153l-2 3 2 3 6 0 3-3-7-5zM-206 -82l-2 1 0 2 4 5 3-6zM-184 6l-6 8 4 3 7-6-2-6zM-176 -8l-2 2 1 7 9 5 3-5-1-4zM-156 -94l-2 3 1 2 7 0-1-5zM-134 -69l-5 5-10 0-9 8 0 10 4 12-8 8 6 17 1 20 2 5-5 25 7 8 4 10-2 7 8 8 8 20 12 20 15 12 5 2 7-4 6-5-3-10 1-13-6-10-1-10-5-7-3-10-5-35 2-13-7-10 3-10-5-22-7-15-2-15zM-114 -104l-3 3-2 12-4 3 2 3 7 2 10 16 15 1 13 8 20-2 5-3 3-8 0-7-3-5-10-9-28-12-17-3zM-29 243l-2 6 2 5 0 7 3 2 2 0-1-19-1-3zM-6 -216l-10 10 1 5 4 3 8-6 0-10zM1 56l0 5 3 0 2-5-2-2zM9 -91l-2 2 4 4 3-4 0-2zM29 -162l-8 16 8 12 12 3 5 0 5-4 15 6 4-2 3-8-7-5-8-12-9-4-13 4zM76 -84l-5 5 3 6 4-8 0-3zM86 -57l1 3 7 4 1-1-4-7zM99 -222l-1 6 3 3 3-6-3-4zM109 11l-3 3 3 6 7 1 4-2-6-8zM124 55l0 5 2 1 3-2 0-3zM151 -211l-4 2-1 8 5 5 4-3 0-10 0-2zM171 122l-1 2 1 2 4 0zM174 -152l0 10 5 0 1-2-1-5zM181 162l-2 2 1 2 4 2 2-2 0-2zM196 71l-2 8 7 2 0 4 3 1 2-2-4-5-1-7-2-3zM211 -67l-2 1 0 2 5 3 5 7 2-2 2-3-2-2zM234 -186l-4 5 4 3 3-3-1-4zM239 -169l-3 3 0 7 13 2 2-1-7-6-1-5zM256 1l0 3 3 1 2-1 0-3zM-264 48l3 15 9 1-4 7 1 3 6 2 7-2-4-19zM-249 -22l-1 3 5 8 1 10 4-10zM-201 126l-3 5 5 2 2-4-1-3zM-186 175l-2 1 2 3 5-3zM-151 165l-3 2 0 6 4-4zM-141 211l-5 3 0 2 5 2 6-4zM-126 235l-2 4 4 0 1-3zM-96 155l0 4 2 1 4-1-1-4zM-84 -34l-7 2-5 5-6 3 3 12 10 0 1-12 4-3 8-2zM-66 43l-2 3 7 4-1-6zM-59 196l-5 4-10 4-1 2 6 4 8-7 15 4 2-2 2-6-2-3-7 3zM-9 -35l-1 4 1 2 6 0 3-2-4-4zM21 87l-2 5 2 2 7-3-2-3zM26 -14l-3 3 1 3 3-1zM34 -34l-2 3 2 3 7 1 3-2zM49 -79l-5 3 0 2 2 4 3 1 3-7zM66 -27l0 6 3 1 1-4-1-3zM99 -146l-7 5 2 5 2 0 2-3 2-5zM119 91l-2 3 1 2 3 1 5-3 1-3-3-2zM131 156l-2 5 3 3 4-1 2-4zM171 198l-2 1-2 5 4 2 4-2 0-3zM181 243l-2 2-1 4 1 3 2 2 5-5zM211 23l0 4 6-1-3-4zM219 -20l-3 6 3 4 3-1-1-7zM229 103l-9 6-1 2 2 8-4 7 12 8 8-8-9-5-4-5 2-6 8-4 1-2zM231 36l-1 3 3 5 3 15 4-5-4-10 1-5-2-3zM241 -87l-4 3 2 5 2 0 2-5zM249 -94l-3 5 8 2 1-2-1-2zM-249 193l-2 6 5 1 7 5 8-1 2-3-5-4-10-4zM-199 247l-1 2 0 2 4 1 1-3zM-176 113l-3 3 3 9zM-174 147l-2 2 2 3 6-3zM-139 247l-2 2 5 7 5 2 2-2 0-9zM-81 24l-7 12 2 7 4-4 5-10-2-5zM-66 266l0 5 3 0 3-2-1-3zM-46 233l-1 3 3 3 6-3 0-2-3-2zM26 34l-2 2 0 5 5 5 3-7zM59 201l-2 3 2 3 2 3 3 0 1-9zM229 141l-1 5 3 1 2-3-2-3zM-244 232l-2 2 1 2 4 3 1-5zM-176 190l-4 4 1 2 8-2 2-3zM29 186l-2 5 1 3 3 0 2-3zM149 263l0 4 5 2 7-2 1-3-1-2-7 3zM231 185l-2 3-1 8 3 3 2 0 2-10zM31 213l-1 6 4 1 1-6z"/>
<path fill="#fee292" d="M-159 -276l10 0-7 5-3-1zM34 -276l12 0-2 7 7 5 0 3-15 1-1-1 4-8-4-2zM-35 -266l4-2 2 1 0 5-2 2-3-1zM77 -266l7 0-3 3-3-1zM-95 -264l4-1 5 3 3 11-2 2-6 2-3-1zM-255 -259l3 0 0 3-2 5-2 1-2-4zM268 -256l8-2 0 7-7 1-3-4zM-25 -251l4 0-3 5-3-3zM-5 -251l4-1 2 3-2 2zM29 -251l7 0 5 5-3 2-6 0zM-139 -246l3 2 0 4-3 1zM154 -244l5 0 6 3 4 10-1 2-4 2-3-3-8-9zM8 -241l6 0 2 2-5 4zM131 -239l3 0 3 5-4 0-3-2zM-145 -226l4-2 4 9-2 9-8-9zM215 -219l6-1 1 4-3 2zM-250 -216l5 0 4 9 5 1 2 2 5 18-5 6-7 1-1-2 4-18-5-7-7-5zM54 -211l12-1 3 1 1 5-9 4-7 0-5-4zM-146 -206l7-2 3 4-5 4-5-3zM-67 -199l8 3 18-3 12 3 8-2 15 6 3 21 5 7-11 15-4 10-10 10 2 13-10 5-12 25-8 0-10-7-28-12-30-4-10-5-10 1-7-5-10 2-3-1-3-12 6-15 17-17 12-15 3-11 38-2 10-7zM167 -189l5 0 1 5-4 1-3-3zM83 -186l3-2 1 2-3 9zM143 -186l1-2 4 4 6 14 0 4-11-13zM215 -184l4-1 0 1 0 5-3 4-4-1zM-207 -181l6 0 0 5-5 2-3-5zM-270 -176l4-1 4 1 0 2-7 2zM-276 -166l2-2 3 2-1 12-1 3-3 0zM-236 -166l2 0 0 5-4 0-1-3zM178 -166l4 2-1 3-2 2-3-2zM192 -159l5 0-1 7-5 0-3-2 0-2zM225 -149l4-1 2 1 0 6-6-3zM245 -149l11 7 1 3-6 7-7 2-4-1 5-8zM-180 -144l4-1 3 1-3 4-5-1zM221 -129l7 3-2 2-5 1-2-3zM108 -124l4 0 2 3-2 2-6 1-1-3zM270 -121l4 0 1 2-4 7-3-4zM-8 -116l4-2 3 4-5 7-5-2zM129 -114l5-1 5 4 20 6 7 9 16 12 4 13 0 7 4 8 1 20 5 17-2 13 7 12 2 13-3 5 0 10-7 7 0 8 3 7-5 7-2 8-3 5-1 10-7 5-7 10-5 3-5 12-16 8 1 10-2 5-15 10-18 17-20 6-9 14-16-4-12 1-8-4-7 4-13-2-7 4-11-6-19-4-15 4-10-4-18 3-12-2-5-7-8-6-5-10-12-8-3-4 2-7 13-15-4-13 1-15-5-7 1-8 2-2 5 0 5 5 3 0 5-8 5-1 2 4-2 12 2 2 10-3 18 1 7-2 8 3 2-1 1-7 9-1 18 10 4 13 8 5 5-2 15 20 18 4 7-2 33-2 30-10 7 5 5-2 0-6-4-7 2-7 17-18 2-10 7-10-1-10 10-10 0-5-5-10-11-13 1-5 13-7 1-5-2-15-7-8 0-12-6-5 6-5 0-3-6-7-3-10 0-20-6-5-17 2-5-15zM-272 -111l7 0-3 2-6 0zM-244 -109l3-2 2 2-2 4zM-164 -104l3-2 3 2-1 3-5 1zM-137 -104l3 3-1 2-6 5-1-2zM113 -99l6-1 2 1-5 4-3-1zM205 -91l1-2 5 1 5 3 1 3-3 2-5 1zM-186 -86l2-1 4 3-1 5-7-2zM-4 -86l3 0 6 5-1 7-5-1zM-242 -81l3-2 2 2-2 7-3-2zM85 -79l6-2 3 5-3 3-5 0-2-3zM-226 -76l5 1 2 1-1 3-4 2-4-2zM36 -74l3 2 2 6-2 1-5-4zM9 -69l5 0 1 3-6 1zM-25 -61l6 0 0 5-5-1-1-2zM149 -61l3 0-1 2-7 3zM238 -61l6-2 2 2 1 5-3 3-5 0zM23 -41l3 2-1 8-4 3-2-2 0-4zM-234 -39l7 0-4 5-4-2zM71 -34l3-2 5 4 0 6-3-1zM233 -31l3-2 3 1 5 8 0 10-3 2zM-4 -24l6 3-3 4-6-2-1-2zM81 -11l5-1 2 3-7 4-2-1zM272 -11l4-1 0 13-4-5zM-232 -9l6 0 3 5-3 2-4-2zM57 -9l9-1 3 1 1 5-4 4-5 2-3-3zM-212 -1l3 0 4 7-4 7-2 0-4-4zM142 -1l4-1 2 3-4 2-3-2zM-88 1l5 0 7 8-5 1-8-1-2-3zM246 11l3-2 3 7zM-49 24l3-2 5 4 2 8-9-3zM-238 29l7 0 2 2-9 8 1 7-4 3-7-5zM-102 29l3 0 3 3 1 7-1 3-6-6zM-9 29l8-2 6 7 1 4-5 0-7-3-3-4zM55 36l1-2 4 2-1 6zM272 44l4-1 0 8-5 0-4-2 1-3zM23 56l3 0 3 3 0 5-3 3-5-1-1-2zM-29 64l6 2 0 3-3 3-5-3zM-276 71l0-1 2 0 2 4-4 3zM250 74l6 2 5 8-7 5-5-8zM47 91l5 0-1 5-5 0zM197 96l4-2 2 2-2 7-4-2zM-269 101l5 0 5 8-7 1-5-1-2-3zM69 101l2 0 1 3-5 12-13 0 0-3zM-233 109l4 0 5 2 2 5-2 4-2 1-8-7zM246 114l3-2 3 2-3 3-3-1zM202 116l4-2 5 5-1 2-7 8-2 6-2-1-2-3 4-5-1-7zM-112 136l3 1 2 4-4 4-4-4zM-209 141l5-1 2 4-2 3-5 0zM260 154l9 1 4 4-2 2-13 0-1-5zM-117 161l6-2 3 2-2 8-4 3-5-3 0-5zM165 164l9 8 0 6-10-1-3-2 0-4zM-174 166l3-2 5 6 3 1-1 13-5 0-3-3 3-7zM-266 171l2-2 5 1 3 6-3 1zM190 174l5 0 1 2-1 3-4 1-2-1zM-74 176l2 3-1 5-6 1 0-4zM-240 186l1-2 3 1 4 4-4 2zM54 186l5-1 2 4-1 2-5 0zM160 189l4-1 1 3-4 5-2 1-2-3zM-216 196l5 1-3 5-4-1zM132 196l7-1 7 9-5 3-10 0-1-3zM-272 199l3-2 5 2-5 1zM-26 206l5 0 3 3-3 7-5-4zM164 214l2-2 4 2 2 5-1 2-5 0zM-60 219l5 2-1 5-8 0-1-2zM-184 221l3-2 8 5-1 6-2 2-5-2zM-100 226l14 8 4 7-2 2-5 1-7-9-8-3 0-3zM1 226l3 2 0 6 4 5-2 3-4-3zM-249 246l0-2 3 2 0 6-3-1zM-181 246l8 0 4 3 0 2-10 5-4 0-2-5zM126 246l4 3-1 3-6-3zM258 256l3-1 1 4-3 5-3 0zM-111 261l7 5-1 5-4 3-7-2-2 4-5 0 0-7zM23 264l6 1 0 4-15 7-2-7 4-4zM-17 269l3-2 3 9-7 0zM230 269l2 0 1 7-7 0zM256 274l5-1 3 3-9 0z"/>
<path fill="#fdb062" d="M-70 -191l9 1 17-3 15 4 10-1 1 9 10 17-1 8-18 25-4 12-18 25-5 1-27-12-38-9-10-5-7 0-8-9-10-1-1-2 5-13 13-12 13-18 30-8 13 1zM135 -104l4-2 3 5-4 2zM161 -89l3 0 4 3 8 10 0 2-2 5-3 1-5-2-5-4zM165 -64l6-1 10 6 5 5 3 25-2 25 5 10 2 23-7 10 2 15-11 30-14 15-5 8-10 4-4-5-1-5 17-17 1-13 13-20 3-12-2-10-12-15-1-5 19-8 0-2-4-5 0-13-9-15 3-7 0-15zM-30 96l4-1 7 5 10-4 3 1 10 14 7 0 5 5 8-3 2 1 3 5 2 10 25 3 10 5 8-2 15 1 11-7 19-4 3 4-1 5 7 5-1 5-18 17-13 4-10-3-12 12-10 3-8 0-10-4-12 4-43-5-15 2-12-3-25 0-16-12-9-18 1-12 4-5 6-3 5-12 21-5 8 2z"/>
<path fill="#f67b46" d="M-39 -176l3-2 5 3 11 11 0 5-5 15-8 10-3 13-7 5-8 16-8 0-5-4-7 0-13-5-20-6-7-4-10 1-3-3-5-11-7 0-6-7 3-4 10 1 10-4 8 6 3-9-5-7 4-5 8 1 5-5 2 0 3 6 2 1 13-10 22-6 10 1zM173 9l6-1 7 3 0 8-5 2-5-1-6-6 0-3zM-30 111l4-2 12 2 10 9 13 0 5 11 5 4 5 2 10-1 7 10 18 3 7 6 8-9 4 0-1 15-10 10-6 3-10-8-17 7-8-4-17 3-13-3-42-2-8-4-7 1-12-8-4-20 3-5 12 0 3-2 10 0 17-5 5-8z"/>
<path fill="#da3c2a" d="M-54 -166l5-1 20 6 2 2 0 8-4 7-5 1-3-1-5-6-2 1-5 6-5 2-1 10-7 6-2-6 3-10-1-2-5-1-10 4-4-4-2-5 11-9 5 0zM-46 136l5-2 7 4 13-2 15 3 5 5 17-1 3 3 0 8-3 4-6 3-4 6-14-3-6-6-5 4-17-2-10-9-2-7z"/>
</g>
<use href="#shelf" fill="#fff"/>
<path fill="#fff" d="M-158,-106 -150,-104 -140,-92 -128,-80 -112,-70 -100,-62 -118,-63 -140,-66 -150,-78 -155,-92Z"/>
<path fill="#fff" d="M-14,-146 4,-146 8,-131 -14,-131Z"/>
<use href="#land" fill="#fff" stroke="#fff" stroke-width="5"/>
<line x1="0" y1="80" x2="0" y2="268" stroke="#fff" stroke-width="2"/>
<use href="#land" fill="#d6d6d6"/>
<!--grid-->
<use href="#land" fill="none" stroke="#000" stroke-width="2.2" stroke-linejoin="round"/>
<use href="#isl" fill="#d6d6d6" stroke="#000" stroke-width="2" stroke-linejoin="round"/>
<g fill="none" stroke="#808080"><circle r="69" stroke-width="1.2" stroke-opacity="0.55" stroke-dasharray="4 2.5 1 2.5"/><circle r="139" stroke-width="1.2" stroke-opacity="0.55" stroke-dasharray="4 2.5 1 2.5"/><circle r="211" stroke-width="1.2" stroke-opacity="0.55" stroke-dasharray="4 2.5 1 2.5"/><line x1="0" y1="0" x2="0" y2="-270" stroke-width="1.8" stroke-opacity="0.26"/><line x1="0" y1="0" x2="190.9" y2="-190.9" stroke-width="1.8" stroke-opacity="0.26"/><line x1="0" y1="0" x2="270" y2="0" stroke-width="1.8" stroke-opacity="0.26"/><line x1="0" y1="0" x2="190.9" y2="190.9" stroke-width="1.8" stroke-opacity="0.26"/><line x1="0" y1="0" x2="0" y2="270" stroke-width="1.8" stroke-opacity="0.26"/><line x1="0" y1="0" x2="-190.9" y2="190.9" stroke-width="1.8" stroke-opacity="0.26"/><line x1="0" y1="0" x2="-270" y2="0" stroke-width="1.8" stroke-opacity="0.26"/><line x1="0" y1="0" x2="-190.9" y2="-190.9" stroke-width="1.8" stroke-opacity="0.26"/></g>
<g fill="#8f8f8f"><text x="-18.8" y="-222.0" font-size="28" textLength="39.6" lengthAdjust="spacingAndGlyphs">0°E</text><text x="-196.1" y="-155.3" font-size="28" textLength="65.1" lengthAdjust="spacingAndGlyphs">45°W</text><text x="137.7" y="-155.3" font-size="28" textLength="52.0" lengthAdjust="spacingAndGlyphs">45°E</text><text x="-263.4" y="10.5" font-size="28" textLength="63.6" lengthAdjust="spacingAndGlyphs">90°W</text><text x="205.3" y="10.3" font-size="28" textLength="54.4" lengthAdjust="spacingAndGlyphs">90°E</text><text x="29.3" y="51.2" font-size="28" textLength="54.4" lengthAdjust="spacingAndGlyphs">80°S</text><text x="87.8" y="92.1" font-size="28" textLength="51.2" lengthAdjust="spacingAndGlyphs">70°S</text><text x="144.9" y="134.1" font-size="28" textLength="54.0" lengthAdjust="spacingAndGlyphs">60°S</text><text x="-203.1" y="173.6" font-size="28" textLength="78.4" lengthAdjust="spacingAndGlyphs">135°W</text><text x="130.2" y="173.9" font-size="28" textLength="68.0" lengthAdjust="spacingAndGlyphs">135°E</text></g>
<path d="M-249.4,-99.3 -227.8,-106.1 -226,-104 -231,-92 -235,-88 -236,-83 -240,-83 -241,-88 -244,-88 -245,-82 -249,-82 -252,-84 -256,-77 -258,-80 -254,-92 -251,-98Z" fill="#9a9a9a" stroke="#000" stroke-width="1.7" stroke-linejoin="round"/>
<ellipse cx="0" cy="1.3" rx="270.4" ry="271.3" fill="none" stroke="#000" stroke-width="4.2"/>
</g>
<g transform="translate(382.4,905.5)">
<g clip-path="url(#dom0)">
<rect x="-276" y="-276" width="552" height="552" fill="#3a4ba1"/>
<path fill="#4f84be" d="M-276 -276l552 0 0 552-552 0z"/>
<path fill="#80b6da" d="M-276 -276l552 0 0 552-552 0zM-169 -39l0 5-4 8-1 20 0 5 5 6 3-1 2-5-3-13 5-7 1-5-3-5-4-3zM-134 63l-3 8 3 8 5 3 3-1 0-16-3-3zM-99 111l-8 8 1 7 5 4 6-1 4-6 7-4-7-2zM174 47l-5 7-8 6-10 16-1 15 1 3 7 2-2 8-7 0-8 5-3 5 1 2 14 0 6-9 7-1 11-12-2-10 4-6 3-14-4-15zM-126 87l-3 4 1 5 5 8 4 10 5 2 8-12 0-15-5-2-8 3z"/>
<path fill="#b2dfee" d="M-276 -276l552 0 0 552-552 0zM-171 -64l-4 3-2 5 2 10-2 10-1 30 9 25 3 3 5 1 1-2 1-30 5-10-7-20-1-15zM-114 -152l-5 3 6 8-3 7 4 8 0 7 8 10 3 0 10-7 2-10-1-13-1-2-3 1-4 6-6 1-5-6 0-10zM-84 -189l-3 3 4 5-6 7-3 15 1 3 12 2 11-5 2-7-2-5-9-5-3-5 0-5zM-39 117l-3 4 11 0 0-2zM-16 114l-12 7 2 8 11 0 15-13-1-3zM174 36l-6 13-9 9-10 16-4 25-9 11-3 6 3 6 13 1 5-2 7-8 9-4 12-15 0-8 4-10 4-15-9-17zM-156 25l-3 9 6 15 2 17 26 48 13 15 11 5 15 3 12-13 0-9-15-5-11-14-4-11-6-6-6-13-11-12-6-15-8-10-5-3zM-86 -87l-6 8 1 8 7 3 13 1 2-2 1-12z"/>
<path fill="#e1f5f8" d="M-276 -276l552 0 0 552-552 0zM-171 -69l-10 8 2 17-2 35 2 20 3 10 10 8 5 10 6 27 14 29 12 22 13 13 27 12 5-2 13-11 12-1 8 1 15-1 7 5 8 1 22-1 5-4 18 6 27-4 25 5 15-1 9-9 1-3-2-3-20-6-23 4-10-8-10 0-3 1 0 8-4 1-8-2-2-9-13-3-20 0-7-2-10 1-35-7-20 6-12-13-4-10-18-25-17-32-4-3-10 0-4-2 0-25 6-10 0-5-7-13 2-12-3-13-6-7zM-61 -199l-8 5-12-1-15 4-21 12-2 3 1 5-3 4-5 2-8-3-5 1-4 3-3 8 1 5 6 5 5 7 1 20 2 5 5 3 7-1 8 3 4 8 3 19 5 5 3 6 5 4 17 6 23-3 11-12-6-8-8-4-2-6-8-7-2 0-8 8-3-6-9 0-5-7 8-13 0-27 7-2 10-7 12-16 12-10-2-5-6-5 3-5-2-5zM169 18l-3 1-2 5 4 7-2 15-10 10-10 18-5 25-15 22 3 11 25-6 15-9 18-23-1-8 6-10 2-12 0-18-3-7-10-12z"/>
<path fill="#ffffc0" d="M-276 -276l63 0 2 3 5 2 1-5 66 0 3 3 5 0 5 5 3-8 8 0 1 6 3 0 5-6 159 0 8 5 7-5 18 0 8 3 5-3 120 0 1 5 4 2 7-4 3-3 42 0 0 68-5 2-2 2 0 3 7 5 0 38-4 2-3 5 2 5 5 4 0 107-2 1 2 2 0 280-4 6 4 4 0 18-224 0-8-4-8 4-117 0 3-5-3-4-3 4 1 5-93 0-1-2-7-3-5 5-39 0-3-2-3 2-16 0 1-2-5-3-2 1-1 4-19 0 0-59 5 1 6-4-1-3-10-5 0-57 5 3 2-3-7-5 0-92 5-1 2-2-5-8 8-10-3-2-7 2 0-150 7-7-5-8 3-5-2-5-3-1 0-40 11 1 0-2-11-6 0-59 5-2 0-3-5-1zM-251 -140l-3 4 0 3 9-3 0-3zM-246 -243l-3 4 3 4 5-6zM-229 -111l-2 2-1 8 1 3 2 1 3-2 2-7-2-5zM-221 221l-4 5 1 3 5 0 5-8-5-2zM-216 103l-3 1 0 3 5 1 5-2zM-211 -107l-4 11 1 3 4-1 4-10-3-4zM-201 -155l-4 4-1 5 6-5 1-3zM-176 -259l-1 10 3 2 8 0 3-4-2-8zM-154 -264l-4 3 4 3 2-3zM-151 -239l-5 5-5 1 10 4 4-7-2-3zM-124 -258l0 7-3 5 3 7 3-1 1-4-3-7 1-3zM-104 -209l-13 3 8 1 3 3 1 3-2 8-14 8-8 2-15 10-9 17 11 10 5 8-1 15 2 8 10 8 10 0 2 1 5 25 8 12 15 6 7 6 10-2 18 1 11-5 6-13 0-5-9-17-11-3-10-9-10 3-6-4 7-20-4-10 8-5 9-12 18-15 4-10-1-15-5-8-12-5-10 6-8-1-17 7-4-2-1-9zM-66 -250l1 9 9 12 2-1 2-6-3-8 1-6zM-46 -241l-1 5 3 3 3 0 4-3 1-3-3-2zM-31 -101l0 7 5 0 4-5-4-4zM-6 -266l-4 5 6 2 2-2zM1 -137l-4 3 0 3 7 1 3-6zM9 -91l-2 2 4 4 3-4 0-2zM21 87l-3 4 1 3 9-3-2-3zM26 -14l-3 3 1 3 3-1zM34 -34l-2 3 2 3 7 1 3-2zM49 -79l-5 3 0 2 2 4 3 1 3-7zM66 -27l0 6 3 1 1-4-1-3zM76 -84l-5 5 3 6 4-8 0-3zM86 -57l1 3 7 4 1-1-4-7zM89 -241l0 3 7 9 5 1 2-3-2-3zM109 11l-3 3 3 6 7 1 4-2-6-8zM119 -271l-5 2 0 3 12 9 3-1 2-8-2-7zM149 -229l-13 5-1 3 4 3 5-5 5 0 2-6zM166 -27l-7 6 5 10-9 5 6 7 10 7 13-2 3-5-1-5-7-4 0-8-5-10zM171 -252l-2 4 7 14 5 2-2-9 2-8-5-3zM199 -269l-3 5 3 4 6-6-1-5zM206 211l3 7 1-7-1-2zM219 -110l-3 4 2 2-5 5 3 2 5-9 0-3zM226 -259l0 5 16 0-1-3zM251 -219l3 6 5 2 1-5-1-4zM264 111l-4 3 1 4 3 0 1-4zM-266 231l-2 3 0 2 4 5 3-5-3-5zM-269 129l-3 2 1 6 5-1 6-5-4-3zM-271 -79l0 2 5 1 5 7 2-1 2-4-1-2zM-249 -39l-2 3 5 2 0-4zM-231 153l-2 3 2 3 6 0 3-3-7-5zM-206 -82l-2 1 0 2 4 5 3-6zM-166 -79l-13 9-15 4-1 2 9 5 2 5 0 53-6 15 5 5 4 10 17 12 2 13-6 7 9 8 20 39 3 8 7 13 40 16 8-2 8-9 4-1 18 2 10-2 10 3 35 3 7-2 13 2 32-3 13 4 36-4 3-12-2-6-27-11-18 3-5-9-10 3-10-2-10 3-25-7-12 2-5-4-10 3-10-2-10 1-20-7-5 3-10 1-13-4-3-5-1-7-8-8-15-27 0-4 6-4 1-5-2-2-5 8-7-8 2-4 6-1 0-8-4-2-10 1-7-3-8 3-1-1 6-15 5 8 5 3 5-2 6-7 1-12-6-10 2-10-4-8-2-15 3-7-2-3-8 3-7-3-8 1-9-11 2-5zM-156 -94l-2 3 1 2 7 0-1-5zM-134 -76l0 5 3 1 2-4zM-84 -34l-7 2-5 5-6 3 3 12 10 0 1-12 4-3 8-2zM-66 43l-2 3 7 4-1-6zM-44 -150l-3 4 1 2 4-2zM-9 -35l-1 4 1 2 6 0 3-2-4-4zM1 56l0 5 3 0 2-5-2-2zM26 34l-2 2 0 5 5 5 3-7zM119 91l-2 3 1 2 3 1 6-3 0-3-3-2zM124 55l0 5 2 1 3-2 0-3zM151 -211l-4 2-1 8 5 5 4-3 0-10 0-2zM169 13l-11 8 6 16-3 8-9 9-12 22-1 19-17 21-2 18 11 6 8-4 17-5 8-5 10 2 2-2-2-7 10-13 7-12 3-9 5-3 5 5 2-3-8-25 1-8-3-12-10-18-15-9zM176 -151l-1 7 4 2 1-4zM211 23l0 4 6-1-3-4zM234 -186l-4 5 4 3 3-3-1-4zM239 -169l-3 3 0 7 13 2 2-1-7-6-1-5zM256 1l0 3 3 1 2-1 0-3zM-264 48l3 15 9 1-4 7 1 3 6 2 7-2-4-19zM-249 -22l-1 3 5 8 1 10 4-10zM-201 126l-3 5 5 2 2-4-1-3zM-186 175l-2 1 2 3 5-3zM-151 165l-3 2 0 6 4-4zM-141 211l-5 3 0 2 5 2 6-4zM-126 235l-2 4 4 0 1-3zM-71 203l-4 3 6 4 6-6-3-2zM-56 201l-2 3 12 2 0-3zM-29 243l-2 6 2 5 0 7 3 2 2 0-1-19-1-3zM31 213l-1 6 4 1 1-6zM61 201l-4 3 4 6 3 0 1-9zM-81 24l-7 12 2 7 4-4 5-10-2-5zM131 154l-2 7 3 3 4-1 2-4zM149 263l0 4 5 2 7-2 1-3-1-2-7 3zM171 198l-2 1-2 5 4 2 4-2 0-3zM181 162l-2 2 1 2 4 2 2-2 0-2zM189 109l2 3 4-1-1-4zM211 46l-2 11 2-2zM229 103l-9 6-1 2 2 8-4 7 12 8 8-8-9-5-4-5 2-6 8-4 1-2zM231 36l-1 3 3 5 3 15 4-5-4-10 1-5-2-3zM241 -87l-4 3 2 5 2 0 2-5zM249 -94l-3 5 8 2 1-2-1-2zM-249 193l-2 6 5 1 7 5 8-1 2-3-5-4-10-4zM-199 247l-1 2 0 2 4 1 1-3zM-176 113l-3 3 3 9zM-174 147l-2 2 2 3 6-3zM-139 247l-2 2 5 7 5 2 2-2 0-9zM-66 266l0 5 3 0 3-2-1-3zM-46 233l-1 3 3 3 6-3 0-2-3-2zM181 243l-2 2-1 4 1 3 2 2 5-5zM229 141l-1 5 3 1 2-3-2-3zM-244 232l-2 2 1 2 4 3 1-5zM-176 190l-4 4 1 2 8-2 2-3zM231 185l-2 3-1 8 3 3 2 0 2-10zM-149 -36l10 2 1 5-3 1-8-2-2-4z"/>
<path fill="#fee292" d="M-159 -276l10 0-7 5-3-1zM34 -276l12 0-2 7 7 5 0 3-15 1-1-1 4-8-4-2zM-35 -266l4-2 2 1 0 5-2 2-3-1zM77 -266l7 0-3 3-3-1zM-95 -264l4-1 5 3 3 11-2 2-6 2-3-1zM-255 -259l3 0 0 3-2 5-2 1-2-4zM268 -256l8-2 0 7-7 1-3-4zM-25 -251l4 0-3 5-3-3zM-5 -251l4-1 2 3-2 2zM29 -251l7 0 5 5-2 3-7-1zM-139 -246l3 2 0 4-3 1zM154 -244l5 0 6 3 4 10-1 2-4 2-3-3-8-9zM7 -241l9 0 15 7 10-2 8 5 20 4 7-1 10 2 13 12 17 9 10 3 23 16 18 30 0 20 4 4 13 7 2 14 13 7 6 8 12 7-4 10 5 13 1 6 10 11-4 13 1 10-15 18-7 3-20-14-8-12-5-3-8-22-7-7-12 7 4-8-4-6 0-9-3-9-10-5-2-10-10-14-10 0-4-2-1-2 4-8-2-1-6-1-1 5-2 2-6-1-9-11 2-5-3-3-7 3-13-1-10 8-20-12-27 4-4-2-4-5-7 3-5-3-3-7-5-5 1-8-3-5 1-5-6-10 0-7-3-10-5-5 4-8-3-5 4-5 23-6 12 4zM94 -142l-3 6 5 4 2-2 0-7zM-6 -214l-10 8 2 7 5 1 3-3 1-8zM131 -239l3 0 3 5-4 0-3-2zM-145 -226l4-2 4 9-2 9-8-9zM215 -219l6-1 1 4-3 2zM-250 -216l5 0 4 9 5 1 2 2 5 18-5 6-7 1-1-2 4-18-5-7-7-5zM-146 -206l7-2 3 4-5 4-5-3zM167 -189l5 0 1 5-4 1-3-3zM215 -184l4-1 0 1 0 5-3 4-4-1zM-207 -181l6 0 0 5-5 2-3-5zM-270 -176l4-1 4 1 0 2-7 2zM-276 -166l2-2 3 2-1 12-1 3-3 0zM-236 -166l2 0 0 5-4 0-1-3zM178 -166l4 2-1 3-2 2-3-2zM192 -159l5 0-1 7-5 0-3-2 0-2zM225 -149l4-1 2 1 0 6-6-3zM245 -149l11 7 1 3-6 7-7 2-4-1 5-8zM-177 -146l6-2 17 1 8 4 5 7 1 5-4 17-13 5-1 8-3 1-4-1-9-23-5-7 0-5-3-5zM-64 -136l5-1 2 3-2 6-5 3-2-6zM221 -129l7 3-2 2-5 1-2-3zM-35 -124l11 3 3 2-2 3-11-2-2-3zM270 -121l4 0 1 2-4 7-3-4zM-8 -116l4-2 3 4-5 7-5-2zM-272 -111l7 0-3 2-6 0zM-244 -109l3-2 2 2-2 4zM-139 -101l3-2 1 4-6 5-1-2zM113 -99l6-1 3 1-6 4-3-1zM-186 -86l2-1 4 3-1 5-7-2zM-4 -86l3 0 6 5-1 7-5-1zM-242 -81l3-2 2 2-2 7-3-2zM85 -79l6-2 3 5-3 3-5 0-2-3zM-226 -76l5 1 2 1-1 3-4 2-4-2zM36 -74l3 2 2 6-2 1-5-4zM9 -69l5 0 1 3-6 1zM-25 -61l6 0 0 5-5-1-1-2zM238 -61l6-2 2 2 1 5-3 3-5 0zM23 -41l3 2-1 8-4 3-2-2 0-4zM-234 -39l7 0-4 5-4-2zM71 -34l3-2 5 4 0 6-3-1zM233 -31l3-2 3 1 5 8 0 10-3 2zM-4 -24l6 3-3 4-6-2-1-2zM81 -11l5-1 2 3-7 4-2-1zM272 -11l4-1 0 13-4-5zM-232 -9l6 0 3 5-3 2-4-2zM57 -9l9-1 3 1 1 5-4 4-5 2-3-3zM-212 -1l3 0 4 7-4 7-2 0-4-4zM142 -1l4-1 2 3-4 2-3-2zM-88 1l5 0 7 8-5 1-8-1-2-3zM246 11l3-2 3 7zM-49 24l3-2 5 4 2 8-9-3zM-238 29l7 0 2 2-9 8 1 7-4 3-7-5zM-105 29l1-2 3 0 4 4 2 5-1 6-6-3zM-9 29l8-2 6 7 1 4-5 0-7-3-3-4zM55 36l1-2 4 2-1 6zM272 44l4-1 0 8-5 0-4-2 1-3zM23 56l3 0 3 3 0 5-3 3-5-1-1-2zM-29 64l6 2-2 5-4 0-2-2zM-276 71l0-1 2 0 2 4-4 3zM-70 71l4 0 1 3-4 5-3-3zM250 74l6 2 5 8-7 5-5-8zM47 91l5 0-1 5-4 0-1-2zM197 96l4-2 2 2-2 7-4-2zM-269 101l5 0 5 8-7 1-5-1-2-3zM-233 109l4 0 5 2 2 5-2 4-2 1-8-7zM246 114l3-2 3 2-3 3-3-1zM202 116l4-2 5 5-1 2-7 8-2 6-2-1-2-3 4-5-1-7zM-132 136l21 2 7 5 18 5 8-2 9-10 8 2 5 6 2 0 10-6 13 4 10-2 20 4 15-2 10 1 7-2 13 4 10-3 12 2 13-2 7 1 10-2 3 0 5 8 3 12-3 8-13 10-7 9-15 2-10 6-28 0-9 3-3 6-25-6-10 4-5 0-2 1 4 4 1 3-3 5-5-4-1-8-9-1-5-5-20-3-13 1-15-2-5-4-10 0-15-14-5-2-1-18 4-5 1-5-4-6-7-1zM-209 141l5-1 2 4-2 3-5 0zM260 154l9 1 4 4-2 2-13 0-1-5zM165 164l9 8 0 6-10-1-3-2 0-4zM-174 166l3-2 5 6 3 1-1 13-5 0-3-3 3-7zM-266 171l2-2 5 1 3 6-3 1zM190 174l5 0 1 2-1 3-4 1-2-1zM-240 186l1-2 3 1 4 4-4 2zM160 189l4-1 1 3-4 5-2 1-2-3zM-216 196l5 1-3 5-4-1zM132 196l7-1 7 9-5 3-10 0-1-3zM-272 199l3-2 5 2-5 1zM164 214l2-2 4 2 2 5-1 2-5 0zM-60 219l5 2-1 5-8 0-1-2zM-184 221l3-2 8 5-1 6-2 2-5-2zM-100 226l14 8 4 7-2 2-5 1-7-9-8-3 0-3zM1 226l3 2 0 6 4 5-2 3-4-3zM-249 246l0-2 3 2 0 6-3-1zM-181 246l8 0 4 3 0 2-10 5-4 0-2-5zM126 246l4 3-1 3-6-3zM258 256l3-1 1 4-3 5-3 0zM-111 261l7 5-1 5-4 3-7-2-2 4-5 0 0-7zM23 264l6 1 0 4-15 7-2-7 4-4zM-17 269l3-2 3 9-7 0zM230 269l2 0 1 7-7 0zM256 274l5-1 3 3-9 0z"/>
<path fill="#fdb062" d="M11 -229l10 4 7-4 11-1 5 3 10 1 12 4 18 1 15 13 23 14 2 3 0 5 20 4 5 4 6 9 3 10 6 8-1 5-12 4 0 4 10 4 4 5 9 5 5 15 14 8 12 15 7 22 8 15-1 20-11 18-6 0-16-14-5-11-8-10 0-10-9-8 5-2-18-10-2-13-14-10-2-10-12-17-1-10-9-2-5-11-12-2-10-10-4 7-4 2-5-12 0-7-12 7-5 1-8-8-7-2-10-9-3 1-5 19-2 3-3-2 0-5 2-5-11-8 1-7-6-23 2-4 5 3 3-1zM104 -191l-3 2 0 14 3 3 12 4 5-13zM139 -117l-5 3 0 3 12 7 6 0 1-2-11-10zM-155 -139l4-2 2 1 4 6-4 16-10 5-7-7-2-14 2-3 7 1zM-111 144l2 5 9 2 3 8 3 2 10-3 8-7 7-4 8 7 17-2 10 2 8-2 12 6 10-3 8-6 10-1 3 1 3 5-1 4-6 3 0 3 3 2 5-2 2-5 6-3 5-8 7 3 18-1 7 3 10-8 5 3 3 6 10-5 5 1 1 9-1 7-3 2-5 0-5-5-2 2 0 4 6 2-2 5-4 4-25 12-28-2-17 5-8-1-22 4-20-1-25-6-23-2-10-6-7 0-5-6-8-2-3-4-2-7 1-8 6-7z"/>
<path fill="#f67b46" d="M52 -211l2-1 15 1 2 5-3 7 3 8-2 4-19 3-2-2 7-8-4-1-3 1-4 7-5 1-3-3 1-10 4-5zM83 -186l1-1 2 2-2 8-2-4zM181 -101l8 2 5 5 9 15 3 15 10 15-3 13-4 4-7-2-8-15-8 0-3-2 0-5 3-5-6-10-3-13 2-7-1-8zM-113 164l2-3 2 3-2 4-3-2zM-63 166l2-1 10 3 7-2 8 4 12-2 6 3 4 5 12 3 2 2 0 8-14 5-7-1-15 1-15-2-13-6-13 0-7-2-1-5 1-5 3-2 12-2zM34 166l2 1 4 9 4 3 5 0 10-11 5-2 9 3 1 7-3 5-15 7-17-1-10-4-10 7-5 0-5-4 1-10-6-5 2-2 6 5 12 0 5-1z"/>
<path fill="#da3c2a" d="M-60 176l4-1 17 5 13-3 15 10-3 1-2-4-18 6-13-1z"/>
</g>
<use href="#shelf" fill="#fff"/>
<use href="#land" fill="#fff" stroke="#fff" stroke-width="5"/>
<line x1="0" y1="80" x2="0" y2="268" stroke="#fff" stroke-width="2"/>
<use href="#land" fill="#d6d6d6"/>
<!--grid-->
<use href="#land" fill="none" stroke="#000" stroke-width="2.2" stroke-linejoin="round"/>
<use href="#isl" fill="#d6d6d6" stroke="#000" stroke-width="2" stroke-linejoin="round"/>
<g fill="none" stroke="#808080"><circle r="69" stroke-width="1.2" stroke-opacity="0.55" stroke-dasharray="4 2.5 1 2.5"/><circle r="139" stroke-width="1.2" stroke-opacity="0.55" stroke-dasharray="4 2.5 1 2.5"/><circle r="211" stroke-width="1.2" stroke-opacity="0.55" stroke-dasharray="4 2.5 1 2.5"/><line x1="0" y1="0" x2="0" y2="-270" stroke-width="1.8" stroke-opacity="0.26"/><line x1="0" y1="0" x2="190.9" y2="-190.9" stroke-width="1.8" stroke-opacity="0.26"/><line x1="0" y1="0" x2="270" y2="0" stroke-width="1.8" stroke-opacity="0.26"/><line x1="0" y1="0" x2="190.9" y2="190.9" stroke-width="1.8" stroke-opacity="0.26"/><line x1="0" y1="0" x2="0" y2="270" stroke-width="1.8" stroke-opacity="0.26"/><line x1="0" y1="0" x2="-190.9" y2="190.9" stroke-width="1.8" stroke-opacity="0.26"/><line x1="0" y1="0" x2="-270" y2="0" stroke-width="1.8" stroke-opacity="0.26"/><line x1="0" y1="0" x2="-190.9" y2="-190.9" stroke-width="1.8" stroke-opacity="0.26"/></g>
<g fill="#8f8f8f"><text x="-18.8" y="-222.0" font-size="28" textLength="39.6" lengthAdjust="spacingAndGlyphs">0°E</text><text x="-196.1" y="-155.3" font-size="28" textLength="65.1" lengthAdjust="spacingAndGlyphs">45°W</text><text x="137.7" y="-155.3" font-size="28" textLength="52.0" lengthAdjust="spacingAndGlyphs">45°E</text><text x="-263.4" y="10.5" font-size="28" textLength="63.6" lengthAdjust="spacingAndGlyphs">90°W</text><text x="205.3" y="10.3" font-size="28" textLength="54.4" lengthAdjust="spacingAndGlyphs">90°E</text><text x="29.3" y="51.2" font-size="28" textLength="54.4" lengthAdjust="spacingAndGlyphs">80°S</text><text x="87.8" y="92.1" font-size="28" textLength="51.2" lengthAdjust="spacingAndGlyphs">70°S</text><text x="144.9" y="134.1" font-size="28" textLength="54.0" lengthAdjust="spacingAndGlyphs">60°S</text><text x="-203.1" y="173.6" font-size="28" textLength="78.4" lengthAdjust="spacingAndGlyphs">135°W</text><text x="130.2" y="173.9" font-size="28" textLength="68.0" lengthAdjust="spacingAndGlyphs">135°E</text></g>
<path d="M-249.4,-99.3 -227.8,-106.1 -226,-104 -231,-92 -235,-88 -236,-83 -240,-83 -241,-88 -244,-88 -245,-82 -249,-82 -252,-84 -256,-77 -258,-80 -254,-92 -251,-98Z" fill="#9a9a9a" stroke="#000" stroke-width="1.7" stroke-linejoin="round"/>
<ellipse cx="0" cy="1.3" rx="270.4" ry="271.3" fill="none" stroke="#000" stroke-width="4.2"/>
</g>
<g transform="translate(937.9,905.5)">
<g clip-path="url(#dom1)">
<rect x="-276" y="-276" width="552" height="552" fill="#3a4ba1"/>
<path fill="#4f84be" d="M-276 -276l552 0 0 552-552 0zM-56 -229l-8 5 0 2 10 1 8-5-2-3zM-41 -235l-3 6 6-2-1-4z"/>
<path fill="#80b6da" d="M-276 -276l552 0 0 552-552 0zM-101 -209l-5 3 0 2 5 3 5-1 2-4-2-3zM-14 -244l-10 5-17 0-15 4-27 14-2 2 0 5 6 6 5 2 13-6 5 0 7-5 15-3 10-4 8 0 7-7 3 0 5 10 10 1 1-16-4-6-15-3zM11 -247l5 8-4 5 3 8 5 2 16-4 8 6 10-2 15 3 5-3 4-7-4-10-5-3-5 0-3 4-10-7-15 4-15-4zM94 -234l5 7 1-4-2-3zM99 -222l-1 6 3 2 3-5-3-4z"/>
<path fill="#b2dfee" d="M-276 -276l552 0 0 552-552 0zM9 -252l-8 4-15 0-10 4-32 6-30 14-10 7-15 5-4 3-1 5 9 8 11 2 7-4 8 0 10-2 5-4 7 0 20-8 15 0 10-4 8 3 7-2 8 1 7-4 8-1 12 0 8 3 10-1 17 3 30 11 10-2 3-2 1-14-6-10-18-11-40-10-17 2-20-3zM154 -153l0 12 12 12 5 0 2-2 0-10-2-2-10-2zM206 25l-4 14 2 5 2 1 3-1 3-18-3-2zM-99 158l-3 3-1 5 9 10 13-1 12-6-2-5-13-2-10-5zM-29 143l-5 6 0 6 20 3 2-4-3-8z"/>
<path fill="#e1f5f8" d="M-276 -276l552 0 0 552-552 0zM6 -254l-7 3-13 0-10 4-35 6-20 11-35 15-5 6-1 5 4 7 5 3 25 6 20-11 35-9 25-1 7-3 10 1 10-4 45 4 25 11 23 3 4 6 1 12 7 7 8-4 2 5-3 7 1 5 10 7 7 13 10 13 8 2 10-4 0-13-5-9-10-4-5-9-8-2-10-14-4-10-16-11-2-6 2-15-12-15-18-9-35-9-42-2zM206 21l-6 5-3 15 3 8 9 4 4-4 1-15 2-8-5-7zM-66 -107l-4 6 2 10 4 3 5-3 3-5-5-10zM-44 -150l-3 4 1 2 4-2zM-31 140l-10 12-23 8-12-1-20-5-13 1 1 14 4 6 13 7 17-3 18 6 25-3 12 4 10-3 6-9-5-25-8-9zM-61 171l2-1 4 4 0 2-6-1z"/>
<path fill="#ffffc0" d="M-276 -276l63 0 2 3 5 2 1-5 66 0 3 3 5 0 5 5 3-8 8 0 1 6 3 0 5-6 159 0 8 5 7-5 18 0 8 3 5-3 120 0 1 5 4 2 7-4 3-3 42 0 0 68-5 2-2 2 0 3 7 5 0 38-4 2-3 5 2 5 5 4 0 107-2 1 2 2 0 280-4 6 4 4 0 18-224 0-8-4-8 4-117 0 3-5-3-4-3 4 1 5-93 0-1-2-7-3-5 5-39 0-3-2-3 2-16 0 1-2-5-3-2 1-1 4-19 0 0-59 5 1 6-4-1-3-10-5 0-57 5 3 2-3-7-5 0-92 5-1 2-2-5-8 8-10-3-2-7 2 0-150 7-7-5-8 3-5-2-5-3-1 0-40 11 1 0-2-11-6 0-59 5-2 0-3-5-1zM-251 -140l-3 4 0 3 9-3 0-3zM-246 -243l-3 4 3 4 5-6zM-229 -111l-2 2-1 8 1 3 2 1 3-2 2-7-2-5zM-221 221l-4 5 1 3 5 0 5-8-5-2zM-216 103l-3 1 0 3 5 1 5-2zM-211 -107l-4 11 1 3 4-1 4-10-3-4zM-201 -155l-4 4-1 5 6-5 1-3zM-184 7l-6 7 4 3 5-6 0-3zM-176 -259l-1 10 3 2 8 0 3-4-2-8zM-154 -264l-4 3 4 3 2-3zM-151 -239l-5 5-5 1 10 4 4-7-2-3zM-129 -15l-2 4 0 7 2 8 4 5-1 12 5 5 5 0 6-15-10-7 0-18-4-2zM-124 -258l0 7-3 5 3 7 3-1 1-4-3-7 1-3zM-6 -267l-4 3-1 6-13 8-17 3-13-4-12 1-3 9-12 9-10 2-5 4-23 7-5 10-1 5 6 12 15 5 12 8-1 23 10 5 7 10 1 5-4 7 2 3 3-1 4-7 9-4 5 2 5 7 21-5 9-5 4-7 1-10-5-15-5-3-9 0-9-11-14-4-1-2 4-5 26-8 8-1 10 1 15-5 7 1 10-3 43 3 27 13 20 5 1 4-4 5 2 5 16 13 5 9 16 15 4 10 10 9 17 1-2 10 6 10-4 8 7 7-2 5 4 8 0 7 4 3 26 0-3-9-11-11-3-15-9-15-10-8 3-25-3-7-9-8-11-14-15-10-12-17-8-4-3-7 5-13-14-13-15-10-30-7-10-6-8 2-20 0-7-2-20 2zM119 -271l-5 2 0 3 12 9 3-1 2-8-2-7zM149 -229l-13 5-1 3 4 3 5-5 5 0 2-6zM171 -252l-2 4 7 14 5 2-2-9 2-8-5-3zM199 -269l-3 5 3 4 6-6-1-5zM219 -110l-3 4 1 2-4 5 3 3 5-10 0-3zM226 -259l0 5 16 0-1-3zM251 -219l3 6 5 2 1-5-1-4zM264 111l-4 3 1 4 3 0 1-4zM-266 231l-2 3 0 2 4 5 3-5-3-5zM-269 129l-3 2 1 6 5-1 6-5-4-3zM-271 -79l0 2 5 1 5 7 2-1 2-4-1-2zM-249 -39l-2 3 5 2 0-4zM-231 153l-2 3 2 3 6 0 3-3-7-5zM-206 -82l-2 1 0 2 4 5 3-6zM-186 175l-2 1 2 3 5-3zM-151 165l-3 2 0 6 4-4zM-141 211l-5 3 0 2 5 2 6-4zM-126 235l-2 4 4 0 1-3zM-84 -86l-2 0 0 2 2 2 5-2zM-66 -112l-12 6-2 5 1 5 5 5 0 7 5 5 10-6 15-11-7-5-8-11zM-36 81l-4 3 3 10-3 12 1 3 8-2 10 4-3 4-12-1-3 3 1 4 9 1 1 7-1 5-12 15-33 8-47-11-3 0-2 3 12 19 5 16 8-1 7 6 15-5 15 7 2 3-1 5-11 5-1 2 6 4 8-7 16 3 3-7-1-5 6-5 16 3 10-4 17-1 2-8-6-8-1-12-8-20 3-1 5 3 6-2 1-8-3-5 1-4 3-1 3 8 4 2 5 0 1-2-5-8 0-12-3-12-7-1-6-6-7 0-18-9zM-31 -101l0 7 5 0 4-5-4-4zM-9 -35l-1 4 1 2 6 0 3-2-4-4zM-1 -137l-3 6 5 1 5-1 3-5-3-3zM21 87l-4 7 2 1 9-4-2-3zM26 -14l-3 3 1 3 3-1zM34 -34l-2 3 2 3 7 1 3-2zM49 -79l-5 3 0 2 2 4 3 1 3-7zM64 -140l-2 4 1 5 6 1 2-4 0-5zM76 -84l-5 5 3 6 4-8 0-3zM86 -57l1 3 7 4 1-1-4-7zM109 11l-3 3 3 6 7 1 4-2-6-8zM124 55l0 5 2 1 3-2 0-3zM139 -117l-4 3 1 3 10 7 6 0 1-2-11-10zM164 21l-1 3 2 2 6 2 1-4-1-3-2-2zM209 15l-12 9-3 7-7 8 2 17-4 8 1 5-5 5-2 5 6 7-6 5-1 3 3 3 8-1 5-11 11 1 1-5-3-10 1-7 8-5 7-15 5-5-5-4 4-9-9-12zM151 -211l-4 2-2 8 1 3 5 2 4-3 0-10 0-2zM234 -186l-4 5 4 3 3-3-1-4zM239 -169l-3 3 0 7 13 2 2-1-7-6-1-5zM256 1l0 3 3 1 2-1 0-3zM-264 48l3 15 9 1-4 7 1 3 6 2 7-2-4-19zM-249 -22l-1 3 5 8 1 10 4-10zM-201 126l-3 5 5 2 2-4-1-3zM-176 113l-3 3 3 9zM-174 147l-2 2 2 3 6-3zM-139 247l-2 2 5 7 5 2 2-2 0-9zM-84 -34l-7 2-5 5-6 3 3 12 10 0 1-12 4-3 8-2zM-66 43l-2 3 7 4-1-6zM-66 266l0 5 3 0 3-2-1-3zM-46 233l-1 3 3 3 6-3 0-2-3-2zM-29 243l-2 6 2 5 0 7 3 2 2 0-1-19-1-3zM1 56l0 5 3 0 2-5-2-2zM9 -91l-2 2 4 4 3-4 0-2zM26 34l-2 2 0 5 5 5 3-7zM59 201l-2 3 2 3 2 3 3 0 1-9zM66 -27l0 6 3 1 1-4-1-3zM119 91l-2 3 1 2 3 1 5-3 1-3-3-2zM139 -92l-8 8-1 5 4 10-8 8 1 2 7 13 10 12-1 5-7 5 0 3 1 2 7 2 16-4-2-8 2-10-4-7 7-8-7-6-10 5-3-1 4-8-3-7 9-18-4-3zM171 34l-2 5 5 2 0-5zM181 162l-2 2 1 2 4 2 2-2 0-2zM191 107l-1 4 4 2 1-2 0-2zM206 211l3 7 1-7-1-2zM229 103l-9 6-1 2 2 8-4 7 12 8 8-8-9-5-4-5 2-6 8-4 1-2zM231 36l-2 3 4 5 3 15 4-5-4-10 1-5-2-3zM241 -87l-4 3 2 5 2 0 2-5zM249 -94l-3 5 8 2 1-2-1-2zM-249 193l-2 6 5 1 7 5 8-1 2-3-5-4-10-4zM-199 247l-1 2 0 2 4 1 1-3zM-176 190l-4 4 1 2 8-2 2-3zM-81 24l-7 12 2 7 4-4 5-10-2-5zM29 185l-2 6 1 3 3 0 2-3zM149 73l-4 6 9 2 2-2-1-5zM171 122l-1 2 1 2 4 0zM181 243l-2 2-1 4 1 3 2 2 5-5zM229 141l-1 5 3 1 2-3-2-3zM-244 232l-2 2 1 2 4 3 1-5zM31 213l-1 6 4 1 1-6zM149 263l0 4 5 2 7-2 1-3-1-2-7 3zM171 198l-2 1-2 5 4 2 4-2 0-3zM231 185l-2 3-1 8 3 3 2 0 2-10zM-72 -191l6-2 4 2-4 12-5-2-2-8zM191 -96l3 0 0 5-4 0zM-51 191l4 0 2 3-4 3-5 1-1-4z"/>
<path fill="#fee292" d="M-159 -276l10 0-7 5-3-1zM34 -276l12 0-2 7 6 5-4 2-7-2 0-5-4-2zM-35 -266l4-2 2 1 0 5-5 1zM77 -266l7 0-3 3-3-1zM-95 -264l4-1 5 3 3 11-2 2-6 2-3-1zM-255 -259l3 0 0 3-2 5-2 1-2-4zM268 -256l8-2 0 7-7 1-3-4zM-139 -246l3 2 0 4-3 1zM154 -244l5 0 6 3 4 10-1 2-4 2-3-3-8-9zM131 -239l3 0 3 5-4 0-3-2zM-145 -226l4-2 4 9-2 9-8-9zM215 -219l6-1 1 4-3 2zM-250 -216l5 0 4 9 5 1 2 2 5 18-5 6-7 1-1-2 4-18-5-7-7-5zM-146 -206l7-2 3 4-5 4-5-3zM15 -206l6-1 15 2 20-1 42 17 13 20-1 10 4 20-3 0 0-10-2-1-18 4-7-1-15 2-18-9-12 1-20-2-10-4-18 2-6-14-17-20 8-10 13 2 15-6zM167 -189l5 0 1 5-4 1-3-3zM215 -184l4-1 0 1 0 5-3 4-4-1zM-207 -181l6 0 0 5-5 2-3-5zM-270 -176l4-1 4 1 0 2-7 2zM-125 -171l5 0-4 7 2 5 13 10 5-2 5 3 7 22 5 5 0 10-7 14-12 10-8 4-7-4-10 4-13-5-10-8-12-2-7-26-9-17 8-9 10-2 6-4 0-8 2-2 2 1 6 6 7 2 14-9zM-276 -166l2-2 3 2-1 12-1 3-3 0zM-236 -166l2 0 0 5-4 0-1-3zM178 -166l4 2-1 3-2 1-2-4zM192 -159l5 0-1 7-5 0-3-2 0-2zM225 -149l4-1 2 1 0 6-6-3zM245 -149l11 7 1 3-6 7-7 2-4-1 5-8zM221 -129l7 3-2 2-5 1-2-3zM-34 -124l10 3 3 2-2 3-11-2-2-3zM108 -124l4 0 2 3-2 2-6 1-1-3zM270 -121l4 0 1 2-4 7-3-4zM-8 -116l4-2 3 4-5 7-5-2zM-272 -111l7 0-3 2-6 0zM-244 -109l3-2 2 2-2 4zM113 -99l6-1 2 1-5 4-3-1zM210 -91l4 0 2 5-5 1-2-4zM-187 -86l3-1 8 2 7 0 8 4 7 1 5 9 8 5 0 7 4 8 1 7 4 5 2 10 5 5-8 8-2 5 5 32 6 10 16 10 2 10 9 18-7 7 0 6 13 0 4 9 6 2 7 8 15 9 13 14 10 4 1 3-8 15-31 7-60-14 0-5 2-3-9-5-1-12-10-13 0-12-4-8 4-10 4-5-5-5-6-15-2-2-4 0-7-20-3-25-9-14-5-1 0-5-5-5 3-2 5 4 2-12-3-18 4-7 0-5-2-8-5-7zM-4 -86l3 0 6 5-1 7-5-1zM-242 -81l3-2 2 2-2 7-3-2zM85 -79l6-2 3 5-3 3-5 0-2-3zM-226 -76l5 1 2 1-1 3-4 2-4-2zM36 -74l3 2 2 6-2 1-5-4zM9 -69l5 0 1 3-6 1zM-94 -64l5 1 3 2-1 2-4 3-3-1-1-4zM-25 -61l6 0 0 5-5-1-1-2zM238 -61l6-2 2 2 1 5-3 3-5 1-2-4zM184 -56l10 0 10-2 31 7-2 10 12 20-1 7-3 2-5-11-5-1-9 13-3 10-15 15-13 8-20-9-7 1-4-3 1-3 6-4 2-8 0-3-5-4 4-10-4-8 1-7 10-13zM23 -41l3 2-1 8-4 3-2-2 0-4zM-234 -39l7 0-4 5-4-2zM71 -34l3-2 5 4 0 6-3-1zM-4 -24l6 3-3 4-6-2-1-2zM81 -11l5-1 2 3-7 4-2-1zM272 -11l4-1 0 13-4-5zM-232 -9l6 0 3 5-3 2-4-2zM57 -9l9-1 3 1 1 5-4 4-5 2-3-3zM-212 -1l3 0 4 7-4 7-2 0-4-4zM142 -1l4-1 2 3-4 2-3-2zM-88 1l5 0 7 8-5 1-8-1-2-3zM246 11l3-2 3 7zM-49 24l3-2 5 4 2 8-9-3zM-238 29l7 0 2 2-9 8 1 7-4 3-7-5zM-105 29l1-2 3 0 4 4 2 5-1 6-7-3zM-9 29l8-2 6 7 1 4-5 0-7-3-3-4zM55 36l1-2 4 2-1 6zM272 44l4-1 0 8-5 0-4-2 1-3zM23 56l3 0 3 3 0 5-3 3-5-1-1-2zM-29 64l6 2-2 5-4 0-2-2zM-276 71l0-1 2 0 2 4-4 3zM-70 71l4 0 1 3-4 5-3-3zM250 74l6 2 5 8-7 5-5-8zM47 91l5 0-1 5-5 0zM153 96l5 0-2 6-4-1zM197 96l4-2 2 2-2 7-4-2zM-269 101l5 0 5 8-7 1-5-1-2-3zM69 101l2 0 1 3-5 12-13 0 0-3zM-233 109l4 0 5 2 2 5-2 4-2 1-8-7zM26 109l3 0 3 7-1 4-5 0-4-4zM246 114l3-2 3 2-3 3-3-1zM202 116l4-2 5 5-1 2-7 8-2 6-2-1-2-3 4-5-1-7zM107 121l12-1 22 4 6 10 2 7-1 3-8 7-9 4-5 12-25 17-10 0-10 5-15-1-5 4-5 1-7-6-10-3-12-8-6-7-9-18 0-5 4-4 13-6 22-6 13 1 10-4 25-3zM-209 141l5-1 2 4-2 3-5 0zM260 154l9 1 4 4-2 2-13 0-1-5zM165 164l9 8 0 6-10-1-3-2 0-4zM-174 166l3-2 5 6 3 1-1 13-5 0-3-3 3-7zM-266 171l2-2 5 1 3 6-3 1zM190 174l5 0 1 2-1 3-4 1-2-1zM-240 186l1-2 3 1 4 4-4 2zM160 189l4-1 1 3-4 5-2 1-2-3zM-216 196l5 1-3 5-4-1zM132 196l7-1 7 9-5 3-10 0-1-3zM-272 199l3-2 5 2-5 1zM-26 206l5 0 3 3-3 7-5-4zM164 214l2-2 4 2 2 5-1 2-5 0zM-60 219l5 2-1 5-8 0-1-2zM-184 221l3-2 8 5-1 6-2 2-5-2zM-100 226l14 8 4 7-2 2-5 1-7-9-8-3 0-3zM1 226l3 2 0 6 4 5-2 3-4-3zM-249 246l0-2 3 2 0 6-3-1zM-181 246l8 0 4 3 0 2-10 5-4 0-2-5zM126 246l4 3-1 3-6-3zM258 256l3-1 1 4-3 5-3 0zM-111 261l7 5-1 5-4 3-7-2-2 4-5 0 0-7zM23 264l6 1 0 4-15 7-2-7 4-4zM-17 269l3-2 3 9-7 0zM230 269l2 0 1 7-7 0zM256 274l5-1 3 3-9 0z"/>
<path fill="#fdb062" d="M16 -201l11 0 7 8 10-5 2 2 0 7 15-5 13 5 12 0 10 7 10 13-3 13-7 4-10-2-10 4-6-1-4-8-5 3-12-3-10 1-8-8-12 5-4-3-6-9-5 2-3 5-2-2-11-8-3-5-6-3-3-5 2-5 3-2 8 1zM26 -182l0 4 3 2 2-1 0-4-2-2zM59 -182l-4 3 6 3 4-5zM-142 -151l8-2 5 1 5 6 8 2 5 5 7-1 5 6 0 10 3 8 0 10-18 15-27 0-8-6-11-4-4-3-5-37 5-5 15-2zM-178 -74l14-1 10 6 18 33 3 12-6 13 6 32 5 13 14 12 5 13-2 3-8 0-12-7-8 2-5-1-7-9 0-6-3-5-11-7 1-10-3-8 0-10-8-15-6-30zM205 -54l21 7-2 11 3 7-11 10-2 11-11 17-4 3-13 2-11-8-1-27-5-8 0-5 19-15 8 0zM194 -39l-1 5 3 2 0-6zM-122 69l3 2 1 8 7 2 1 3 1 9 10-1 5 5 10 2 9 10 1 5-2 2-10 0-2 3 12 4 2-7 5-2 27 20-2 9-27 6-18-8-7 1-8-4-7 3-3-2-1-5-9-10-5-10-8-5-3-5 2-23 9-3zM110 126l6 0 3 3 1 5 9 3 7-5 4 7-28 32-13 8-18 5-12-1-15-4-3-5 0-6-12 6-5 0-8-10-1-3 4-7-4-8 4-6 5-1 10 5 10-8 5 0 7 4 8-3 17-2 8-6z"/>
<path fill="#f67b46" d="M-149 -141l8-2 5 2 5 5-3 7 3 5 2 1 3-11 2-2 13 10 1 17-3 8-6 5-22 0-9-15-9-2-2-16zM-166 -69l2-1 6 4 7 17 13 18-4 20 5 20 3 22 0 10-3 3-7-3-12-20-8-25-4-7-2-15-3-5-4-13 4-15zM180 -11l4 0 1 2-1 5-3 1-2-3zM-107 109l3 2-5 6zM-72 134l16 1 3 4-13 5-4-3zM75 149l1-2 1 7 9 7-3 5 1 3 5-3-2-7 4-5 8-3 3 13-2 5-16 10-18-6-6 1 1-5 5-3 9-12z"/>
<path fill="#da3c2a" d="M-158 -36l8 0 3 5-7 1zM-161 -14l12 2 7 11 3 12-5 9-5 0-3-4-5-17-5-10z"/>
</g>
<use href="#shelf" fill="#fff"/>
<use href="#land" fill="#fff" stroke="#fff" stroke-width="5"/>
<line x1="0" y1="80" x2="0" y2="268" stroke="#fff" stroke-width="2"/>
<use href="#land" fill="#d6d6d6"/>
<!--grid-->
<use href="#land" fill="none" stroke="#000" stroke-width="2.2" stroke-linejoin="round"/>
<use href="#isl" fill="#d6d6d6" stroke="#000" stroke-width="2" stroke-linejoin="round"/>
<g fill="none" stroke="#808080"><circle r="69" stroke-width="1.2" stroke-opacity="0.55" stroke-dasharray="4 2.5 1 2.5"/><circle r="139" stroke-width="1.2" stroke-opacity="0.55" stroke-dasharray="4 2.5 1 2.5"/><circle r="211" stroke-width="1.2" stroke-opacity="0.55" stroke-dasharray="4 2.5 1 2.5"/><line x1="0" y1="0" x2="0" y2="-270" stroke-width="1.8" stroke-opacity="0.26"/><line x1="0" y1="0" x2="190.9" y2="-190.9" stroke-width="1.8" stroke-opacity="0.26"/><line x1="0" y1="0" x2="270" y2="0" stroke-width="1.8" stroke-opacity="0.26"/><line x1="0" y1="0" x2="190.9" y2="190.9" stroke-width="1.8" stroke-opacity="0.26"/><line x1="0" y1="0" x2="0" y2="270" stroke-width="1.8" stroke-opacity="0.26"/><line x1="0" y1="0" x2="-190.9" y2="190.9" stroke-width="1.8" stroke-opacity="0.26"/><line x1="0" y1="0" x2="-270" y2="0" stroke-width="1.8" stroke-opacity="0.26"/><line x1="0" y1="0" x2="-190.9" y2="-190.9" stroke-width="1.8" stroke-opacity="0.26"/></g>
<g fill="#8f8f8f"><text x="-18.8" y="-222.0" font-size="28" textLength="39.6" lengthAdjust="spacingAndGlyphs">0°E</text><text x="-196.1" y="-155.3" font-size="28" textLength="65.1" lengthAdjust="spacingAndGlyphs">45°W</text><text x="137.7" y="-155.3" font-size="28" textLength="52.0" lengthAdjust="spacingAndGlyphs">45°E</text><text x="-263.4" y="10.5" font-size="28" textLength="63.6" lengthAdjust="spacingAndGlyphs">90°W</text><text x="205.3" y="10.3" font-size="28" textLength="54.4" lengthAdjust="spacingAndGlyphs">90°E</text><text x="29.3" y="51.2" font-size="28" textLength="54.4" lengthAdjust="spacingAndGlyphs">80°S</text><text x="87.8" y="92.1" font-size="28" textLength="51.2" lengthAdjust="spacingAndGlyphs">70°S</text><text x="144.9" y="134.1" font-size="28" textLength="54.0" lengthAdjust="spacingAndGlyphs">60°S</text><text x="-203.1" y="173.6" font-size="28" textLength="78.4" lengthAdjust="spacingAndGlyphs">135°W</text><text x="130.2" y="173.9" font-size="28" textLength="68.0" lengthAdjust="spacingAndGlyphs">135°E</text></g>
<path d="M-249.4,-99.3 -227.8,-106.1 -226,-104 -231,-92 -235,-88 -236,-83 -240,-83 -241,-88 -244,-88 -245,-82 -249,-82 -252,-84 -256,-77 -258,-80 -254,-92 -251,-98Z" fill="#9a9a9a" stroke="#000" stroke-width="1.7" stroke-linejoin="round"/>
<ellipse cx="0" cy="1.3" rx="270.4" ry="271.3" fill="none" stroke="#000" stroke-width="4.2"/>
</g>
<g transform="translate(1493,905.5)">
<g clip-path="url(#dom2)">
<rect x="-276" y="-276" width="552" height="552" fill="#3a4ba1"/>
<path fill="#4f84be" d="M-276 -276l552 0 0 552-552 0zM-16 -205l-5 8-8-1-4 2-3 11-8-1-4 2-5 13-5 5 4 15-5 7 8 10 13-10 4-12 10-4 13-19 1-2-1-4-10-6 2-4 5 2 5-3 3-5 0-3-5-2z"/>
<path fill="#80b6da" d="M-276 -276l552 0 0 552-552 0zM-89 132l-1 7 5 12 6 3 8-5 2 12 5 5 13 3 9-10 0-5-12-11-7 1-8 4-5-8zM-9 -211l-15 2-13 5-9 8-1 5-12 5-3 10-9 7-5 9-8-1 12 10 3 16 8-1 2 2 0 10 3 2 7-1 18-11 18-17 4-10 15-10 1-30-11-9zM24 152l-2 4 4 1 2-3-2-2zM-14 133l-2 3 2 13-2 5 2 4 20 1 10 7 5-2 0-6-10 1-2-10 4-8-2-2-10-7z"/>
<path fill="#b2dfee" d="M-276 -276l552 0 0 552-552 0zM-141 14l-4 5 0 15 8 12 3 2 12-12-4-10 2-5-5-4zM-99 118l-1 11 10 25 6 4 8 2 10 10 15 3 12-7 10 0 13 4 5 4 7 0 5 0 5-5 8 3 12 1 4-2 4-5 12 7 8-7-3-17-5-5-7-2-8 3-10-10-20-6-22-4-15 4-5-6-20 2-8-1-7-5-8-2zM41 -216l-15 3-2 12-3 1-7-3-5-9-15-3-20 2-18 5-15 1-15 12-10 4-5 7-4 28 3 7-1 8 11 17 4 3 7 0 8 10 17-6 8-8 7-5 15-14 10-6 13-14 4-7-1-10 2-10 10-3 7 4 10 0 5 4 18-6 10-1 2-3 0-4-2-3-13-2-3-6-12-5zM156 -59l-7 4-4 6 0 5 4 13 9 17-1 8 4 5 8 1 4-4 1-17-10-8 0-10-7-7 6-8-2-3zM26 -182l0 3 3 3 2-1-2-6z"/>
<path fill="#e1f5f8" d="M-276 -276l63 0 2 3 5 2 1-5 66 0 3 3 5 0 5 5 3-8 8 0 1 6 3 0 5-6 159 0 8 5 7-5 18 0 8 3 5-3 120 0 1 5 4 2 7-4 3-3 42 0 0 68-5 2-2 2 0 3 7 5 0 38-4 2-3 5 2 5 5 4 0 107-2 1 2 2 0 280-4 6 4 4 0 18-224 0-8-4-8 4-117 0 3-5-3-4-3 4 1 5-93 0-1-2-7-3-5 5-39 0-3-2-3 2-16 0 1-2-5-3-2 1-1 4-19 0 0-59 5 1 6-4-1-3-10-5 0-57 5 3 2-3-7-5 0-92 5-1 2-2-5-8 8-10-3-2-7 2 0-150 7-7-5-8 3-5-2-5-3-1 0-40 11 1 0-2-11-6 0-59 5-2 0-3-5-1zM-251 -140l-3 4 0 3 9-3 0-3zM-246 -243l-3 4 3 4 5-6zM-229 -111l-2 2-1 8 1 3 2 1 3-2 2-7-2-5zM-221 221l-4 5 1 3 5 0 5-8-5-2zM-216 103l-3 1 0 3 5 1 5-2zM-211 -107l-4 11 1 3 4-1 4-10-3-4zM-201 -155l-4 4-1 5 6-5 1-3zM-194 -66l-1 2 4 2 8-2-6-3zM-176 -259l-1 10 3 2 8 0 3-4-2-8zM-154 -264l-4 3 4 3 2-3zM-151 -239l-5 5-5 1 10 4 4-7-2-3zM-141 -169l-3 3 0 7-10 5-1 3 1 3 7-1 8-12 0-6zM-129 -4l-19 8-2 15-8 20 2 5 22 9 5-2 13-10 4-7-7-20-4-8-1-10-2-2zM-124 -258l0 7-3 5 3 7 3-1 1-4-3-7 1-3zM-104 -209l-13 3 8 1 8 5 5-2 1-4-1-2zM-66 -250l1 9 9 12 2-1 2-6-3-8 1-6zM-46 -241l-1 2 2 5 6 1 3-6-3-2zM-6 -266l-4 5 6 2 2-2zM66 -231l-3 2 0 5-4 3-5 1-10-3-18 4-7 7-10-10-8-3-4 4-11 4-22-1-13 5-7-1-8 3-3 0-2-5-1 7-24 23-1 20-2 12 1 15 4 10 12 13 9 3 7 11 15-6 5 1 10-15 14-7 6-10 10-5 8-8 11-2 2-2-1-8 3-3 2 1 0 7 3 3 7-1 8-5 7 2 13-1 10 4 7-1 4 4-4 13 1 5 4 2 8-3 7 2 10-10 1-6-14-15-12-5-7-10-1-3 11-13 8-2-6-4-6-11-8-7-1-10-2-2zM89 -241l0 3 7 10 3 2 2-2 2-3-2-3zM109 -181l-2 2 2 3 5 2 2-1 0-5zM119 -271l-5 2 0 3 12 9 3-1 2-8-2-7zM149 -229l-13 5-1 3 4 3 5-5 5 0 2-6zM171 -252l-2 4 7 14 5 2-2-9 2-8-5-3zM184 -114l-4 3 6 1 1-1zM199 -269l-3 5 3 4 6-6-1-5zM206 211l3 7 1-7-1-2zM219 -110l-3 4 2 2-5 5 3 2 5-9 0-3zM226 -259l0 5 16 0-1-3zM251 -219l3 6 5 2 1-5-1-4zM264 111l-4 3 1 4 3 0 1-4zM-266 231l-2 3 0 2 4 5 3-5-3-5zM-269 129l-3 2 1 6 5-1 6-5-4-3zM-271 -79l0 2 5 1 5 7 2-1 2-4-1-2zM-249 -39l-2 3 5 2 0-4zM-231 153l-2 3 2 3 6 0 3-3-7-5zM-206 -82l-2 1 0 2 4 5 3-6zM-184 6l-6 8 4 3 7-6-2-6zM-176 -8l-2 2 1 7 8 5 3-2 0-7zM-156 -94l-2 3 1 2 5 0 1-3zM-151 165l-3 2 0 6 4-4zM-141 211l-5 3 0 2 5 2 6-4zM-126 235l-2 4 4 0 1-3zM-116 -149l-2 0 1 3 6 6 2-4 0-5-2-2zM-66 43l-2 3 7 4-1-6zM-31 -101l0 7 5 0 4-5-4-4zM-9 -35l-1 4 1 2 6 0 3-2-4-4zM-1 -137l-3 6 5 1 5-1 3-5-3-2zM21 87l-2 3 0 3 9-2-2-3zM26 -14l-3 3 1 3 3-1zM34 -34l-2 3 2 3 7 1 3-2zM49 -79l-5 3 0 2 2 4 3 1 3-7zM66 -27l0 6 3 1 1-4-1-3zM76 -84l-5 5 3 6 4-8 0-3zM86 -57l1 3 7 4 1-1-4-7zM99 -222l-1 6 3 3 3-6-3-4zM119 -125l-11 11 2 8 11 3 8 6 7-5 3 1 1 2-5 8-1 7 5 7 5 1 11-8 6-10-6-5 0-7-14-13-10-1zM151 -211l-4 2-1 8 5 5 4-3 0-10 0-2zM174 -152l0 10 5 0 1-2-1-5zM199 69l-5 6-1 4 8 2 0 4 3 1 2-2-1-3-3-2-1-7zM211 -67l-2 1 0 2 5 3 5 7 2-2 2-3-2-2zM234 -186l-4 5 4 3 3-3-1-4zM239 -169l-3 3 0 7 13 2 2-1-7-6-1-5zM256 1l0 3 3 1 2-1 0-3zM-264 48l3 15 9 1-4 7 1 3 6 2 7-2-4-19zM-249 -22l-1 3 5 8 1 10 4-10zM-201 126l-3 5 5 2 2-4-1-3zM-186 175l-2 1 2 3 5-3zM-139 247l-2 2 5 7 5 2 2-2 0-9zM-84 -34l-7 2-5 5-6 3 3 12 10 0 1-12 4-3 8-2zM1 56l0 5 3 0 2-5-2-2zM9 -91l-2 2 4 4 3-4 0-2zM26 34l-2 2 0 5 5 5 3-7zM109 11l-3 3 3 6 7 1 4-2-6-8zM124 55l0 5 2 1 3-2 0-3zM159 -75l-5 4-25 9-1 3 7 5 9 19 6 19 0 10 6 9 13 4 19-1 8-10 1-5-17-22-6-15 1-10-3-13-8-6zM211 23l0 4 6-1-3-4zM219 -20l-3 6 3 4 3-1-1-7zM229 103l-9 6-1 2 2 8-4 7 12 8 8-8-9-5-4-5 2-6 8-4 1-2zM231 36l-1 3 3 5 3 15 4-5-4-10 1-5-2-3zM241 -87l-4 3 2 5 2 0 2-5zM249 -94l-3 5 8 2 1-2-1-2zM-249 193l-2 6 5 1 7 5 8-1 2-3-5-4-10-4zM-199 247l-1 2 0 2 4 1 1-3zM-176 113l-3 3 3 9zM-174 147l-2 2 2 3 6-3zM-99 112l-5 4-2 10 9 20 0 13 3 2 12 3 16 11 15 2 25-4 12 7 20 7 4-6 6-3 20-1 8 2 5 0 17-20-2-5-8-8-10-6-14-4-6-7-10-4-7 3-9-4-1-9-3 1-2 6-20 0-13-3-27 0-10-4zM-81 24l-7 12 2 7 4-4 5-10-2-5zM119 91l-2 3 1 2 3 0 5-5-2-1zM131 154l-2 7 3 3 4-1 2-4zM149 263l0 4 5 2 7-2 1-3-1-2-7 3zM171 122l-1 2 1 2 4 0zM181 162l-2 2 1 2 4 2 2-2 0-2zM191 107l-1 4 4 2 1-2 0-2zM229 141l-1 5 3 1 2-3-2-3zM-244 232l-2 2 1 2 4 3 1-5zM-176 190l-4 4 1 2 8-2 2-3zM-59 196l-5 4-10 4-1 2 6 4 8-7 15 4 2-2 2-6-2-3-7 3zM-29 243l-2 6 2 5 0 7 3 2 2 0-1-19-1-3zM29 182l-2 9 1 3 3 0 2 0-2-10zM59 201l-2 3 2 3 2 3 3 0 1-9zM171 198l-2 1-2 5 4 2 4-2 0-3zM181 243l-2 2-1 4 1 3 2 2 5-5zM231 185l-2 3-1 8 3 3 2 0 2-10zM-66 266l0 5 3 0 3-2-1-3zM-46 233l-1 3 3 3 6-3 0-2-3-2zM31 213l-1 6 4 1 1-6z"/>
<path fill="#ffffc0" d="M-159 -276l10 0-7 5-3-1zM34 -276l12 0-2 7 7 5 0 3-15 1-1-1 4-8-4-2zM-35 -266l4-2 2 1 0 5-2 2-3-1zM77 -266l7 0-3 3-3-1zM-95 -264l4-1 5 3 3 11-2 2-6 2-3-1zM-255 -259l3 0 0 3-2 5-2 1-2-4zM268 -256l8-2 0 7-7 1-3-4zM-25 -251l4 0-3 5-3-3zM-5 -251l4-1 2 3-2 2zM29 -251l7 0 5 5-3 2-6 0zM-139 -246l3 2 0 4-3 1zM154 -244l5 0 6 3 4 10-1 2-4 2-3-3-8-9zM8 -241l6 0 2 2-5 4zM131 -239l3 0 3 5-4 0-3-2zM-145 -226l4-2 4 9-2 9-8-9zM215 -219l6-1 1 4-3 2zM-250 -216l5 0 4 9 5 1 2 2 5 18-5 6-7 1-1-2 4-18-5-7-7-5zM-146 -206l7-2 3 4-5 4-5-3zM-107 -191l6 2 2 13-2 9-3-2-3 0 4 8-1 4-2 1-5-3-3-5-11-2-1-3 2-4 10-8 3-8zM167 -189l5 0 1 5-4 1-3-3zM143 -186l1-2 4 4 6 14 0 4-11-13zM215 -184l4-1 0 1 0 5-3 4-4-1zM-207 -181l6 0 0 5-5 2-3-5zM-270 -176l4-1 4 1 0 2-7 2zM-276 -166l2-2 3 2-1 12-1 3-3 0zM-236 -166l2 0 0 5-4 0-1-3zM178 -166l4 2-1 3-2 2-3-2zM192 -159l5 0-1 7-5 0-3-2 0-2zM37 -154l4-2 10 3 10-2 10 2 4 4-4 7-17 11-15-3-15 1-5-3-3-5 3-5zM225 -149l4-1 2 1 0 6-6-3zM245 -149l11 7 1 3-6 7-7 2-4-1 5-8zM-180 -144l4-1 3 1-3 4-5-1zM-149 -136l13-2 8 9 7 1 6 4 0 8 6 15 2 12-4 12-3 1-7-3-12-2-18-17-14-3 4-10 0-18zM221 -129l7 3-2 2-5 1-2-3zM270 -121l4 0 1 2-4 7-3-4zM-8 -116l4-2 3 4-5 7-5-2zM-272 -111l7 0-3 2-6 0zM-244 -109l3-2 2 2-2 4zM205 -91l1-2 5 1 5 3 1 3-3 2-5 1zM-186 -86l2-1 4 3-1 5-7-2zM-4 -86l3 0 6 5-1 7-5-1zM-242 -81l3-2 2 2-2 7-3-2zM85 -79l6-2 3 5-3 3-5 0-2-3zM179 -79l2-1 6 6 6 18 0 12-4 8-3 0-5-13 0-15-4-10zM-226 -76l5 1 2 1-1 3-4 2-4-2zM36 -74l3 2 2 6-2 1-5-4zM-149 -69l8-1 5 4 14 27-5 8 1 4 4 3-1 3-10 15-11 3-9-3 2-14-14-19 1-5 5-5 1-17zM9 -69l5 0 1 3-6 1zM-94 -64l5 1 3 2-1 2-4 3-3-1-1-4zM-25 -61l6 0 0 5-5-1-1-2zM238 -61l6-2 2 2 1 5-3 3-5 0zM23 -41l3 2-1 8-4 3-2-2 0-4zM-234 -39l7 0-4 5-4-2zM71 -34l3-2 5 4 0 6-3-1zM233 -31l3-2 3 1 5 8 0 10-3 2zM-4 -24l6 3-3 4-6-2-1-2zM81 -11l5-1 2 3-7 4-2-1zM272 -11l4-1 0 13-4-5zM-232 -9l6 0 3 5-3 2-4-2zM57 -9l9-1 3 1 1 5-4 4-5 2-3-3zM-212 -1l3 0 4 7-4 7-2 0-4-4zM142 -1l4 0 1 2-3 2-3-2zM-88 1l5 0 7 8-5 1-8-1-2-3zM160 11l26 2 12 18-7 8 0 17-4 8 0 5-5 7 0 8-12 7-11 18-8 4-7 9-5-6-8 0-4-2-3-10 18-28-1-10 10-15-4-17 1-5zM246 11l3-2 3 7zM-49 24l3-2 5 4 2 8-9-3zM-238 29l7 0 2 2-9 8 1 7-4 3-7-5zM-105 29l1-2 3 0 4 4 2 5-1 6-6-3zM-9 29l8-2 6 7 1 4-5 0-7-3-3-4zM55 36l1-2 4 2-1 6zM272 44l4-1 0 8-5 0-4-2 1-3zM-116 54l8 2 3 8 7 5-6 5-4 17 4 0 5-7 5-2 10 4 13-3 7 4 38 3 17 11 1 5-1 5-5 4-12 4-13-3-25-1-22-4-10-6-13 8-7-4-22-3-1-5 1-7-4-8-2-10 2-10-3-10 9 0 10 6 4-6zM-116 60l-2 1 1 5 3 3 4 0 2-3-1-2zM23 56l3 0 3 3 0 5-3 3-5-1-1-2zM-29 64l6 2-2 5-4 0-2-2zM-276 71l0-1 2 0 2 4-4 3zM-70 71l4 0 1 3-4 6-2-1zM250 74l6 2 5 8-7 5-5-8zM47 91l5 0-1 5-5 0zM197 96l4-2 2 2-2 7-4-2zM-269 101l5 0 5 8-7 1-5-1-2-3zM69 101l2 0 1 3-3 7 10 6 20-6 17 2 5 6-4 17 7 5 0 3-5 1-5-5-8 0-4 11-6 5-4-2-1-6-5-1-10 12-10-13-27-12-3-10-16-8 1-4 5-5 8 10 7 5 5 0 6-8zM-233 109l4 0 5 2 2 5-2 4-2 1-8-7zM246 114l3-2 3 2-3 3-3-1zM202 116l4-2 5 5-1 2-7 8-2 6-2-1-2-3 4-5-1-7zM-111 136l3 5-3 4-4-4zM-209 141l5-1 2 4-2 3-5 0zM260 154l9 1 4 4-2 2-13 0-1-5zM-117 161l6-2 3 2-2 8-4 3-5-3 0-5zM165 164l9 8 0 6-10-1-3-2 0-4zM-174 166l3-2 5 6 3 1-1 13-5 0-3-3 3-7zM-266 171l2-2 5 1 3 6-3 1zM190 174l5 0 1 2-1 3-4 1-2-1zM-77 179l3-1 1 3-3 4-4-1zM-240 186l1-2 3 1 4 4-4 2zM54 189l5-2 1 4-4 1zM160 189l4-1 1 3-4 5-2 1-2-3zM-216 196l5 1-3 5-4-1zM132 196l7-1 7 9-5 3-10 0-1-3zM-272 199l3-2 5 2-5 1zM-26 206l5 0 3 3-3 7-5-4zM164 214l2-2 4 2 2 5-1 2-5 0zM-60 219l5 2-1 5-8 0-1-2zM-184 221l3-2 8 5-1 6-2 2-5-2zM-100 226l14 8 4 7-2 2-5 1-7-9-8-3 0-3zM1 226l3 2 0 6 4 5-2 3-4-3zM-249 246l0-2 3 2 0 6-3-1zM-181 246l8 0 4 3 0 2-10 5-4 0-2-5zM126 246l4 3-1 3-6-3zM258 256l3-1 1 4-3 5-3 0zM-111 261l7 5-1 5-4 3-7-2-2 4-5 0 0-7zM23 264l6 1 0 4-15 7-2-7 4-4zM-17 269l3-2 3 9-7 0zM230 269l2 0 1 7-7 0zM256 274l5-1 3 3-9 0z"/>
<path fill="#fee292" d="M62 -151l7 1 1 4-16 10-18-5-1-3 6-5zM-153 -126l2-2 7 2 8-2 13 9 9 18 1 12-2 3-14-2-15-7-5-9-1-7-5-5zM-144 -61l3-2 5 7 1 12 3 8 1 15-3 7-5 3-5 0-2-3-2-7-7-13 4-24zM175 16l8 3 4 10-2 27-12 25-7 6-10 17-10 7-12-2-3-5 6-13 11-15 2-12 6-10 1-10-2-10 6-11 8-1zM-125 71l4 0 1 3-4 6-2-4zM-126 84l2-2 8 4-3 3-2 0zM-80 91l4-1 10 3 22-1 18 2 11 12 0 3-5 5-6 1-15-3-23 0-12-5-10 0-4-3-1-5z"/>
<path fill="#fdb062" d="M-141 -119l5-2 2 2 11 23-16 0-2-2-4-16 0-2zM-146 -44l2 0 8 10 0 11-3 4-2 0-10-15zM174 26l5-1 3 6-1 21-10 15-5 12-6 5-4 15-10 6-5 0-3-1 1-8 17-17-1-13 9-5 0-2-3-10 0-16 3-3 7 0zM171 33l-3 6 6 3 1-6zM-55 99l11-2 3 7-8 3-7 0-2-3zM-36 106l2-2 6 5-5 0z"/>
</g>
<use href="#shelf" fill="#fff"/>
<path fill="#fff" d="M-158,-106 -150,-104 -140,-92 -128,-80 -112,-70 -100,-62 -118,-63 -140,-66 -150,-78 -155,-92Z"/>
<use href="#land" fill="#fff" stroke="#fff" stroke-width="5"/>
<line x1="0" y1="80" x2="0" y2="268" stroke="#fff" stroke-width="2"/>
<use href="#land" fill="#d6d6d6"/>
<!--grid-->
<use href="#land" fill="none" stroke="#000" stroke-width="2.2" stroke-linejoin="round"/>
<use href="#isl" fill="#d6d6d6" stroke="#000" stroke-width="2" stroke-linejoin="round"/>
<g fill="none" stroke="#808080"><circle r="69" stroke-width="1.2" stroke-opacity="0.55" stroke-dasharray="4 2.5 1 2.5"/><circle r="139" stroke-width="1.2" stroke-opacity="0.55" stroke-dasharray="4 2.5 1 2.5"/><circle r="211" stroke-width="1.2" stroke-opacity="0.55" stroke-dasharray="4 2.5 1 2.5"/><line x1="0" y1="0" x2="0" y2="-270" stroke-width="1.8" stroke-opacity="0.26"/><line x1="0" y1="0" x2="190.9" y2="-190.9" stroke-width="1.8" stroke-opacity="0.26"/><line x1="0" y1="0" x2="270" y2="0" stroke-width="1.8" stroke-opacity="0.26"/><line x1="0" y1="0" x2="190.9" y2="190.9" stroke-width="1.8" stroke-opacity="0.26"/><line x1="0" y1="0" x2="0" y2="270" stroke-width="1.8" stroke-opacity="0.26"/><line x1="0" y1="0" x2="-190.9" y2="190.9" stroke-width="1.8" stroke-opacity="0.26"/><line x1="0" y1="0" x2="-270" y2="0" stroke-width="1.8" stroke-opacity="0.26"/><line x1="0" y1="0" x2="-190.9" y2="-190.9" stroke-width="1.8" stroke-opacity="0.26"/></g>
<g fill="#8f8f8f"><text x="-18.8" y="-222.0" font-size="28" textLength="39.6" lengthAdjust="spacingAndGlyphs">0°E</text><text x="-196.1" y="-155.3" font-size="28" textLength="65.1" lengthAdjust="spacingAndGlyphs">45°W</text><text x="137.7" y="-155.3" font-size="28" textLength="52.0" lengthAdjust="spacingAndGlyphs">45°E</text><text x="-263.4" y="10.5" font-size="28" textLength="63.6" lengthAdjust="spacingAndGlyphs">90°W</text><text x="205.3" y="10.3" font-size="28" textLength="54.4" lengthAdjust="spacingAndGlyphs">90°E</text><text x="29.3" y="51.2" font-size="28" textLength="54.4" lengthAdjust="spacingAndGlyphs">80°S</text><text x="87.8" y="92.1" font-size="28" textLength="51.2" lengthAdjust="spacingAndGlyphs">70°S</text><text x="144.9" y="134.1" font-size="28" textLength="54.0" lengthAdjust="spacingAndGlyphs">60°S</text><text x="-203.1" y="173.6" font-size="28" textLength="78.4" lengthAdjust="spacingAndGlyphs">135°W</text><text x="130.2" y="173.9" font-size="28" textLength="68.0" lengthAdjust="spacingAndGlyphs">135°E</text></g>
<path d="M-249.4,-99.3 -227.8,-106.1 -226,-104 -231,-92 -235,-88 -236,-83 -240,-83 -241,-88 -244,-88 -245,-82 -249,-82 -252,-84 -256,-77 -258,-80 -254,-92 -251,-98Z" fill="#9a9a9a" stroke="#000" stroke-width="1.7" stroke-linejoin="round"/>
<ellipse cx="0" cy="1.3" rx="270.4" ry="271.3" fill="none" stroke="#000" stroke-width="4.2"/>
</g>
<g transform="translate(2047.7,905.5)">
<g clip-path="url(#dom3)">
<rect x="-276" y="-276" width="552" height="552" fill="#3a4ba1"/>
<path fill="#4f84be" d="M-276 -276l552 0 0 552-552 0zM171 23l0 16 3 2 3-5 0-7-2-5z"/>
<path fill="#80b6da" d="M-276 -276l552 0 0 552-552 0zM-126 -154l-8 4-2 6 1 15 6 6 6-16 7-2 2 5 3-1 3-9-2-5-9-5zM171 16l-5 8 1 15 1 5 6 7 8-15 2-12-5-9zM174 -1l0 4 4 1zM-109 79l-3 12 1 4 10 3 5 6 7-4 5 0 10 15 8-1 22 10 12 0 6-3 5 6 17-11-10-5-2-14-10 3-10-4-10 1-18-9-10 4-5 0-5-4-10 0-7-10zM-30 109l6 0 4 2-4 4-6-4z"/>
<path fill="#b2dfee" d="M-276 -276l552 0 0 552-552 0zM-121 -162l-18 11-9 20 0 5 4 8 15 12 5 2 8-1 10 3 4-7-1-7 3-8-3-30-11-9zM161 -25l0 4 5 10-1 7 4 15-5 13-1 25-6 7-1 10-7 8-5 10-2 7 4 3 16-13 3-10 6-4 16-33-3-35-7-8-6-13-5-3zM-131 63l-5 6 0 8 5 7 7-1 5 3-2 3-5-3-3 1 0 4 2 5 8 7 13 2 18 14 12 4 10-1 15 7 15 1 5 4 15 0 7 2 10-2-2-8 5-10 0-7-4-5-1-5-5-2-8-8-47-7-15 1-30-10-10-8-8 13-2-4 0-10z"/>
<path fill="#e1f5f8" d="M-276 -276l552 0 0 552-552 0zM-106 -172l-34 13-7 8-6 15 2 10 8 20 8 5 6 10 8 4 15-3 6-9 4-25-2-25 8-12-1-3zM64 148l-8 11-12-4-5 3-1 16 3 4 9 1 11-10 18 4 9-7-4-7-8 5-7-15zM154 -38l-2 4 14 45-5 10 0 15-9 28-11 15-4 12 0 5 7 4 20-14 26-45 0-25-3-20-12-20-14-12zM-141 -50l-6 6 3 7 5 3 1 5-11 6-2 6 10 8 15 1 2-6-3-7 2-10-6-15-3-3zM-134 55l-10 11 3 18 3 7 22 20 10 0 12 9 18 6 42 11 13 1 20 5 22-6 3-3-8-18 1-22-11 1-7-6-23-8-25-3-22 1-8-5-5 1-7-5-10-1-13-8zM16 161l-2 3 2 2 6-2-1-5z"/>
<path fill="#ffffc0" d="M-276 -276l63 0 2 3 5 2 1-5 66 0 3 3 5 0 5 5 3-8 8 0 1 6 3 0 5-6 159 0 8 5 7-5 18 0 8 3 5-3 120 0 1 5 4 2 7-4 3-3 42 0 0 68-5 2-2 2 0 3 7 5 0 38-4 2-3 5 2 5 5 4 0 107-2 1 2 2 0 280-4 6 4 4 0 18-224 0-8-4-8 4-117 0 3-5-3-4-3 4 1 5-93 0-1-2-7-3-5 5-39 0-3-2-3 2-16 0 1-2-5-3-2 1-1 4-19 0 0-59 5 1 6-4-1-3-10-5 0-57 5 3 2-3-7-5 0-92 5-1 2-2-5-8 8-10-3-2-7 2 0-150 7-7-5-8 3-5-2-5-3-1 0-40 11 1 0-2-11-6 0-59 5-2 0-3-5-1zM-251 -140l-3 4 0 3 9-3 0-3zM-246 -243l-3 4 3 4 5-6zM-229 -111l-2 2-1 8 1 3 2 1 3-2 2-7-2-5zM-221 221l-4 5 1 3 5 0 5-8-5-2zM-216 103l-3 1 0 3 5 1 5-2zM-211 -107l-4 11 1 3 4-1 4-10-3-4zM-201 -155l-4 4-1 5 6-5 1-3zM-194 -66l-1 2 4 2 8-2-6-3zM-176 -259l-1 10 3 2 8 0 3-4-2-8zM-154 -264l-4 3 4 3 2-3zM-151 -239l-5 5-5 1 10 4 4-7-2-3zM-124 -258l0 7-3 5 3 7 3-1 1-4-3-7 1-3zM-104 -209l-13 3 8 1 10 11 3 9 10 0 5 3 2-4-2-5-10 0-6-3-1-5 3-7-4-4zM-66 -250l1 9 9 12 2-1 2-6-3-8 1-6zM-46 -241l-1 2 2 5 6 1 3-6-3-2zM-29 -103l-3 7 3 3 7-6zM-6 -266l-4 5 6 2 2-2zM-1 -136l-2 5 4 1 4-1 0-5zM4 -222l-3 1 2 2 8 9 0-8zM26 -182l0 3 3 3 2-1 0-4-2-2zM34 -34l-2 3 2 3 7 1 3-2zM49 -194l-2 3 2 2 5-5zM59 -182l-4 3 6 3 3-5zM66 -231l-2 2 1 3 6 0 0-5-2-2zM76 -84l-5 5 3 6 4-8 0-3zM81 -161l-2 10 2 4 10 1 5 4 4-2 2-2-8-6-5-9-3-2zM89 -241l0 3 7 10 3 2 2-2 2-3-2-3zM109 -181l0 5 5 2 2-1 0-5zM119 -271l-5 2 0 3 12 9 3-1 2-8-2-7zM149 -229l-13 5-1 3 4 3 5-5 5 0 2-6zM171 -252l-2 4 7 14 5 2-2-9 2-8-5-3zM184 -114l-4 3 6 1 1-1zM199 -269l-3 5 3 4 6-6-1-5zM206 211l3 7 1-7-1-2zM219 -110l-3 4 2 2-5 5 3 2 5-9 0-3zM226 -259l0 5 16 0-1-3zM251 -219l3 6 5 2 1-5-1-4zM264 111l-4 3 1 4 3 0 1-4zM-266 231l-2 3 0 2 4 5 3-5-3-5zM-269 129l-3 2 1 6 5-1 6-5-4-3zM-271 -79l0 2 5 1 5 7 2-1 2-4-1-2zM-249 -39l-2 3 5 2 0-4zM-231 153l-2 3 2 3 6 0 3-3-7-5zM-206 -82l-2 1 0 2 4 5 3-6zM-184 6l-6 8 4 3 7-6-2-6zM-176 -8l-2 2 1 7 8 5 3-2 0-7zM-106 -177l-23 10-10-3-5 1-3 10-9 8-1 7-5 8 12 17 4 19 5 4 5 9 15 7 7-2 8 3 9-12 2-10 2-48 8-10 2-5 1-10-2-3-7 3zM-66 43l-2 3 7 4-1-6zM-6 -216l-10 10 0 5 5 3 8-6 0-10zM1 56l0 5 3 0 2-5-2-2zM9 -91l-2 2 4 4 3-4 0-2zM26 -14l-3 3 1 3 3-1zM49 -79l-5 3 0 2 2 4 3 1 3-7zM69 -169l-4 10 6 4 1-4zM86 -57l1 3 7 4 1-1-4-7zM99 -222l-1 6 3 3 3-6-3-4zM109 11l-3 3 3 6 7 1 4-2-6-8zM124 55l0 5 2 1 3-2 0-3zM151 -211l-4 2-1 8 5 5 4-3 0-10 0-2zM174 -152l0 10 5 0 1-2-1-5zM199 69l-5 6-1 4 8 2 0 4 3 1 2-2-1-3-3-2-1-7zM211 -67l-2 1 0 2 5 3 5 7 2-2 2-3-2-2zM234 -186l-4 5 4 3 3-3-1-4zM239 -169l-3 3 0 7 13 2 2-1-7-6-1-5zM256 1l0 3 3 1 2-1 0-3zM-264 48l3 15 9 1-4 7 1 3 6 2 7-2-4-19zM-249 -22l-1 3 5 8 1 10 4-10zM-201 126l-3 5 5 2 2-4-1-3zM-186 175l-2 1 2 3 5-3zM-154 -94l-4 3 2 2 6 0 1-2zM-134 -76l-1 2 4 4 2-4zM-84 -34l-7 2-5 5-6 3 3 12 10 0 1-12 4-3 8-2zM-9 -35l-1 4 1 2 6 0 3-2-4-4zM26 34l-2 2 0 5 5 5 3-7zM66 -27l0 6 3 1 1-4-1-3zM151 -42l-3 6 6 22-2 8 10 17-6 10 2 15-9 18-3 12-12 18-3 2-12 5-2 3 2 2 10 0 10 10 0 7 16-17 13-7 19-35 7-5 0-3-1-17 3-15-3-10 4-13-34-30zM211 23l0 4 6-1-3-4zM219 -20l-3 6 3 4 3-1-1-7zM229 103l-9 6-1 2 2 8-4 7 12 8 8-8-9-5-4-5 2-6 8-4 1-2zM231 36l-1 3 3 5 3 15 4-5-4-10 1-5-2-3zM241 -87l-4 3 2 5 2 0 2-5zM249 -94l-3 5 8 2 1-2-1-2zM-249 193l-2 6 5 1 7 5 8-1 2-3-5-4-10-4zM-199 247l-1 2 0 2 4 1 1-3zM-176 113l-3 3 3 9zM-174 147l-2 2 2 3 6-3zM-131 -62l-5 6-8-1-10 7-1 6 5 8 1 5-10 10 3 7 7 7 23 7 3-4 5-15-10-40zM-81 24l-7 12 2 7 4-4 5-10-2-5zM131 154l-2 7 3 3 4-1 2-4zM149 263l0 4 5 2 7-2 1-3-1-2-7 3zM171 122l-1 2 1 2 4 0zM181 162l-2 2 1 2 4 2 2-2 0-2zM191 107l-1 4 4 2 1-2 0-2zM229 141l-1 5 3 1 2-3-2-3zM-244 232l-2 2 1 2 4 3 1-5zM-176 190l-4 4 1 2 8-2 2-3zM-156 35l-2 6 2 3 7 2 4 8-6 12 8 25 9 8 13 15 5 2 7 0 13 9 25 5 20 8 7 0 13 3 10 0 17 6 13 0 2 2-5 10 1 5 7 11 12 4 0 12 3 3 4 0 0-5 4-5 29-2 20-7 8 0 7-11 15-10 3-13 5-4 5 0 2-3-2-5-5-6-13 6-7-2-5-6-23 8-17-3-5 3 0 2 5 5-3 3-2-1-7-4-3-8-15 0-8-6 1-19 7-10-5-5-15 1-13-6-27-5-8-5-2-6-11 9-17 2-20-13-20-4-10-6-7-2-8-7-7 1-5-2-5-8zM171 198l-2 1-2 5 4 2 4-2 0-3zM181 243l-2 2-1 4 1 3 2 2 5-5zM231 185l-2 3-1 8 3 3 2 0 2-10zM-151 165l-3 2 0 6 4-4zM-141 211l-5 3 0 2 5 2 6-4zM-126 235l-2 4 4 0 1-3zM-59 196l-5 4-10 4-1 2 6 4 8-7 15 4 2-2 2-6-2-3-7 3zM-29 243l-2 6 2 5 0 7 3 2 2 0-1-19-1-3zM1 178l-2 6 7 2 3-7-3-2zM31 213l-1 6 4 1 1-6zM59 201l-2 3 2 3 2 3 3 0 1-9zM-139 247l-2 2 5 7 5 2 2-2 0-9zM-66 266l0 5 3 0 3-2-1-3zM-46 233l-1 3 3 3 6-3 0-2-3-2z"/>
<path fill="#fee292" d="M-159 -276l10 0-7 5-3-1zM34 -276l12 0-2 7 7 5 0 3-15 1-1-1 4-8-4-2zM-35 -266l4-2 2 1 0 5-2 2-3-1zM77 -266l7 0-3 3-3-1zM-95 -264l4-1 5 3 3 11-2 2-6 2-3-1zM-255 -259l3 0 0 3-2 5-2 1-2-4zM268 -256l8-2 0 7-7 1-3-4zM-25 -251l4 0-3 5-3-3zM-5 -251l4-1 2 3-2 2zM29 -251l7 0 5 5-3 2-6 0zM-139 -246l3 2 0 4-3 1zM154 -244l5 0 6 3 4 10-1 2-4 2-3-3-8-9zM8 -241l6 0 2 2-5 4zM131 -239l3 0 3 5-4 0-3-2zM-145 -226l4-2 4 9-2 9-8-9zM215 -219l6-1 1 4-3 2zM-250 -216l5 0 4 9 5 1 2 2 5 18-5 6-7 1-1-2 4-18-5-7-7-5zM54 -211l12-1 3 1 1 5-9 4-7 0-5-4zM-146 -206l7-2 3 4-5 4-5-3zM-50 -191l6-1 10 2 5 4 10-7 3 1 1 3-3 3 0 5 10 5 1 5 13 11 5-1 8-6 10 8 10-3 12 10 15 1 10 8 13 3 7 4 8-1 5 1 5-7 0 12 2 2 8 2 10 5 2 9 24 24 4 8 8 7 7 13 8 5 1 5-3 12-11 5-10-8-22-7-4-5-2-11-7-6 2-3-1-5-9-10-10-5-5-6-15-7-10-9-17-5-23-11-20-3-17-7-3-4-2-10-8 7-5 12-5 1-8 7 6 10-3 3-7 0-5 5-6 25-17 11-2 0-5-8-15-5-8-8-2-23 4-20-2-7 3-6 8-4 3-8 4-3 1-4-2-8 3-4 13 4 12-5-2-3-5-2zM-44 -150l-3 4 1 2 4-2zM167 -189l5 0 1 5-4 1-3-3zM83 -186l3-2 1 2-3 9zM143 -186l1-2 4 4 6 14 0 4-11-13zM215 -184l4-1 0 1 0 5-3 4-4-1zM-207 -181l6 0 0 5-5 2-3-5zM-270 -176l4-1 4 1 0 2-7 2zM-276 -166l2-2 3 2-1 12-1 3-3 0zM-236 -166l2 0 0 5-4 0-1-3zM178 -166l4 2-1 3-2 2-3-2zM192 -159l5 0-1 7-5 0-3-2 0-2zM225 -149l4-1 2 1 0 6-6-3zM245 -149l11 7 1 3-6 7-7 2-4-1 5-8zM-180 -144l4-1 3 1-3 4-5-1zM221 -129l7 3-2 2-5 1-2-3zM-162 -121l1-2 5 1 5 6 0 15-3 3-7 1-5-3 0-6zM270 -121l4 0 1 2-4 7-3-4zM-8 -116l4-2 3 4-5 7-5-2zM-272 -111l7 0-3 2-6 0zM-244 -109l3-2 2 2-2 4zM205 -91l1-2 5 1 5 3 1 3-3 2-5 1zM-186 -86l2-1 4 3-1 5-7-2zM-4 -86l3 0 6 5-1 7-5-1zM-242 -81l3-2 2 2-2 7-3-2zM85 -79l6-2 3 5-3 3-5 0-2-3zM-226 -76l5 1 2 1-1 3-4 2-4-2zM36 -74l3 2 2 6-2 1-5-4zM9 -69l5 0 1 3-6 1zM-94 -64l5 1 3 2-1 2-4 3-3-1-1-4zM-25 -61l6 0 0 5-5-1-1-2zM238 -61l6-2 2 2 1 5-3 3-5 0zM23 -41l3 2-1 8-4 3-2-2 0-4zM-234 -39l7 0-4 5-4-2zM71 -34l3-2 5 4 0 6-3-1zM233 -31l3-2 3 1 5 8 0 10-3 2zM-4 -24l6 3-3 4-6-2-1-2zM81 -11l5-1 2 3-7 4-2-1zM272 -11l4-1 0 13-4-5zM-232 -9l6 0 3 5-3 2-4-2zM57 -9l9-1 3 1 1 5-4 4-5 2-3-3zM-212 -1l3 0 4 7-4 7-2 0-4-4zM-150 -1l9-2 18 9 4 23-5 8-15-4-14-14-2-15zM142 -1l4-1 2 3-4 2-3-2zM-88 1l5 0 7 8-5 1-8-1-2-3zM246 11l3-2 3 7zM-49 24l3-2 5 4 2 8-9-3zM-238 29l7 0 2 2-9 8 1 7-4 3-7-5zM-105 29l1-2 3 0 4 4 2 5-1 6-6-3zM-9 29l8-2 6 7 1 4-5 0-7-3-3-4zM55 36l1-2 4 2-1 6zM272 44l4-1 0 8-5 0-4-2 1-3zM23 56l3 0 3 3 0 5-3 3-5-1-1-2zM-29 64l6 2 0 3-3 2-5-2zM-276 71l0-1 2 0 2 4-4 3zM250 74l6 2 5 8-7 5-5-8zM47 91l5 0-1 5-5 0zM197 96l4-2 2 2-2 7-4-2zM-269 101l5 0 5 8-7 1-5-1-2-3zM69 101l2 0 1 3-6 12-11 0-1-3zM-233 109l4 0 5 2 2 5-2 4-2 1-8-7zM26 111l3-1 3 9-6-1zM246 114l3-2 3 2-3 3-3-1zM202 116l4-2 5 5-1 2-7 8-2 6-2-1-2-3 4-5-1-7zM-112 136l3 1 2 4-4 4-4-4zM-86 136l15-2 7 2 10 7 10-1 15 5 15 2 10 12 1 5-21 16-10 1-2-2-33-3-5 6-5 1-1-4 7-12-10-5-1-10-14-10 2-7zM-209 141l5-1 2 4-2 3-5 0zM260 154l9 1 4 4-2 2-13 0-1-5zM-117 161l6-2 3 2-2 8-4 3-5-3 0-5zM165 164l9 8 0 6-10-1-3-2 0-4zM-174 166l3-2 5 6 3 1-1 13-5 0-3-3 3-7zM-266 171l2-2 5 1 3 6-3 1zM190 174l5 0 1 2-1 3-4 1-2-1zM-240 186l1-2 3 1 4 4-4 2zM160 189l4-1 1 3-4 5-2 1-2-3zM-216 196l5 1-3 5-4-1zM132 196l7-1 7 9-5 3-10 0-1-3zM-272 199l3-2 5 2-5 1zM-26 206l5 0 3 3-3 7-5-4zM164 214l2-2 4 2 2 5-1 2-5 0zM-60 219l5 2-1 5-8 0-1-2zM-184 221l3-2 8 5-1 6-2 2-5-2zM-100 226l14 8 4 7-2 2-5 1-7-9-8-3 0-3zM1 226l3 2 0 6 4 5-2 3-4-3zM-249 246l0-2 3 2 0 6-3-1zM-181 246l8 0 4 3 0 2-10 5-4 0-2-5zM126 246l4 3-1 3-6-3zM258 256l3-1 1 4-3 5-3 0zM-111 261l7 5-1 5-4 3-7-2-2 4-5 0 0-7zM23 264l6 1 0 4-15 7-2-7 4-4zM-17 269l3-2 3 9-7 0zM230 269l2 0 1 7-7 0zM256 274l5-1 3 3-9 0z"/>
<path fill="#fdb062" d="M16 -154l3-1 22 2 23 8 7 5 15 3 25 10 15 9 20 19 4 10 21 28 1 5 8 5 0 7-6 3-8-7-5-1 0-5-10 3-7-2-8-26-12-13-8-4-7-8-46-25-12-2-25-13-19-2 1-5zM-64 -136l3-2 3 2 2 10 12-1 4 3-4 8-2 15-3 7 0 5-7 4-5-1-3-4-10-1-2-3-1-12 11-20zM-159 -116l3-2 1 4 0 10-4 3-2-3zM-145 1l5 0 13 10 3 18-2 2-8-2-14-15-1-8zM-69 144l3 0 7 7 18-3 5 5 11 1 8 10-4 8-8 4-7-5-13 3-12-1-6-12-7-2-1-3 1-7z"/>
<path fill="#f67b46" d="M39 -146l15 3 4 4 0 3-4 1-5-1-10-7zM86 -131l25 7 28 21 15 27 1 5-4 10-7-9-6-14-12-10-8-5-5-7-12-5-7-7-11-6-2-2z"/>
<path fill="#da3c2a" d="M101 -119l8-1 3 4-1 2-6 0zM128 -101l3-2 5 2 3 2 0 5-5 3-4-5z"/>
</g>
<use href="#shelf" fill="#fff"/>
<path fill="#fff" d="M-158,-106 -150,-104 -140,-92 -128,-80 -112,-70 -100,-62 -118,-63 -140,-66 -150,-78 -155,-92Z"/>
<path fill="#fff" d="M-14,-146 4,-146 8,-131 -14,-131Z"/>
<use href="#land" fill="#fff" stroke="#fff" stroke-width="5"/>
<line x1="0" y1="80" x2="0" y2="268" stroke="#fff" stroke-width="2"/>
<use href="#land" fill="#d6d6d6"/>
<!--grid-->
<use href="#land" fill="none" stroke="#000" stroke-width="2.2" stroke-linejoin="round"/>
<use href="#isl" fill="#d6d6d6" stroke="#000" stroke-width="2" stroke-linejoin="round"/>
<g fill="none" stroke="#808080"><circle r="69" stroke-width="1.2" stroke-opacity="0.55" stroke-dasharray="4 2.5 1 2.5"/><circle r="139" stroke-width="1.2" stroke-opacity="0.55" stroke-dasharray="4 2.5 1 2.5"/><circle r="211" stroke-width="1.2" stroke-opacity="0.55" stroke-dasharray="4 2.5 1 2.5"/><line x1="0" y1="0" x2="0" y2="-270" stroke-width="1.8" stroke-opacity="0.26"/><line x1="0" y1="0" x2="190.9" y2="-190.9" stroke-width="1.8" stroke-opacity="0.26"/><line x1="0" y1="0" x2="270" y2="0" stroke-width="1.8" stroke-opacity="0.26"/><line x1="0" y1="0" x2="190.9" y2="190.9" stroke-width="1.8" stroke-opacity="0.26"/><line x1="0" y1="0" x2="0" y2="270" stroke-width="1.8" stroke-opacity="0.26"/><line x1="0" y1="0" x2="-190.9" y2="190.9" stroke-width="1.8" stroke-opacity="0.26"/><line x1="0" y1="0" x2="-270" y2="0" stroke-width="1.8" stroke-opacity="0.26"/><line x1="0" y1="0" x2="-190.9" y2="-190.9" stroke-width="1.8" stroke-opacity="0.26"/></g>
<g fill="#8f8f8f"><text x="-18.8" y="-222.0" font-size="28" textLength="39.6" lengthAdjust="spacingAndGlyphs">0°E</text><text x="-196.1" y="-155.3" font-size="28" textLength="65.1" lengthAdjust="spacingAndGlyphs">45°W</text><text x="137.7" y="-155.3" font-size="28" textLength="52.0" lengthAdjust="spacingAndGlyphs">45°E</text><text x="-263.4" y="10.5" font-size="28" textLength="63.6" lengthAdjust="spacingAndGlyphs">90°W</text><text x="205.3" y="10.3" font-size="28" textLength="54.4" lengthAdjust="spacingAndGlyphs">90°E</text><text x="29.3" y="51.2" font-size="28" textLength="54.4" lengthAdjust="spacingAndGlyphs">80°S</text><text x="87.8" y="92.1" font-size="28" textLength="51.2" lengthAdjust="spacingAndGlyphs">70°S</text><text x="144.9" y="134.1" font-size="28" textLength="54.0" lengthAdjust="spacingAndGlyphs">60°S</text><text x="-203.1" y="173.6" font-size="28" textLength="78.4" lengthAdjust="spacingAndGlyphs">135°W</text><text x="130.2" y="173.9" font-size="28" textLength="68.0" lengthAdjust="spacingAndGlyphs">135°E</text></g>
<path d="M-249.4,-99.3 -227.8,-106.1 -226,-104 -231,-92 -235,-88 -236,-83 -240,-83 -241,-88 -244,-88 -245,-82 -249,-82 -252,-84 -256,-77 -258,-80 -254,-92 -251,-98Z" fill="#9a9a9a" stroke="#000" stroke-width="1.7" stroke-linejoin="round"/>
<ellipse cx="0" cy="1.3" rx="270.4" ry="271.3" fill="none" stroke="#000" stroke-width="4.2"/>
</g>
<g transform="translate(382.4,1461.4)">
<g clip-path="url(#dom0)">
<rect x="-276" y="-276" width="552" height="552" fill="#3a4ba1"/>
<path fill="#4f84be" d="M-276 -276l552 0 0 552-552 0zM-149 -62l-6 6 1 10 16 12 6 20 6 8 3-3 2-7-4-5 2-10-7-18-6-7zM1 -227l-15 9-21-1-6 2-5 4-10-2-8 4-5-2-20 14-7-7-5 0-9 25 2 12 4 4 8-4 10 8 10-4 7 0 15-6 10-1 8-7 12 7 18-5 12 0 13-9 15-6 2-7-5-13-2-2-8 1-7-8zM136 -130l1 6-2 8 1 5 10 8 8 4 20 23 1 2-4 5 0 3 5 9 10 1 3 2-2 8 7 13 2-3-1-8 1-5-2-17-5-15-5-3 0-7-5-6-4-9-11-8-13-15zM-61 150l-13 10-2 0-8-7-12 1-2 10 4 9 10 2 15-2 8-6 7 4 8-1 10 8 7-4 3 0 10 9 22 5 13-6 10 8 10-6 10-1 12-4-3-5 3-4 3-1 2 5 10 0 12-8-2-5-2 0-5 3-5 0-8-14-2 0-8 9-12-7-10 3-8-5-12 5-33-4-7 4-7-4-13 2-10-4zM26 -186l-2 2 2 4 3 0 0-4z"/>
<path fill="#80b6da" d="M-276 -276l552 0 0 552-552 0zM-166 -82l-5 4-2 12 2 5 3 2 0 8 19 17 1 3-3 6 0 4 7 4 15 16 5 0 8-10 1-8-11-40-8-8-8 1-2-3 0-8-2-1-8 1-7-6zM1 -236l-5 1-2 5-3 0-7-3-18 3-7-1-5 3-8 1-17 6-10 6-5 7-13-3-12 3-6 4-1 5-4 5-1 8-6 4-2 7 7-1 6 5-3 12 2 3 10-3 20 2 40-7 25 1 23-6 10 1 12-5 10 2 10-5 18-1 5-2 4-12 6-5 0-3-5-4-13 2-6-3-1-2 2-3 10-5 1-2-8 0-4-5 1-5 7-3-9-3-13 6-2-2 2-6-2-3-18 3-5 4zM121 -146l-1 15 4 2 8 18 12 12 5 10 10 6 2 7 0 7 3 8-1 7 6 11 7 7 5 17 10 15 5-1 1-11 7-8-3-12 2-10-3-13 3-10-6-7-3-8-5-8-4-9-1-10-13-7-20-25-7-2-5 3-8-3zM-56 140l-13 6-7-4-13 1-7 4-13 3 4 26 14 8 17-5 8 7 7 3 23-5 15 6 10-2 17 4 13-1 12 4 35-11 25-11 3-2 4-7-4-8-1-10-7-2-10 6-5-6-5-3-10 2-15-3-7 6-10-3-10 4-8-1-5-4-20 4-12-2-10 3-10-6z"/>
<path fill="#b2dfee" d="M-276 -276l552 0 0 552-552 0zM-159 -95l-15 6-4 25 2 8 14 17 1 10 7 13 8 4 14 13 11 2 11-9 1-20-11-25-1-10-5-5-3-8-8-5-14-15zM-11 -244l-18 6-12-1-8 5-7 0-8 5-20 7-7 5-23 4-10 7-10 13-1 9-5 13 1 7 8 5 2 7 5 1 10 0 10-4 15 0 30-4 28 0 12 7 10-8 6 1 7-2 5 2 10-8 10 5 7-4 9 0 6-5 20 0 8-8 5-9 5 2 7-2 7 4 6 15-4 8-1 16 7 4 3 12 17 23 8 6 3 11 12 13 2 22 6 8 1 10 8 5-4 5-1 5 4 7 1 8 10 13 10 5 3 0 7-5 8-1 12-21-2-14 2-7-2-13 2-10-7-13-10-9-15-32-15-11-5-10-15-14-9-6-4-8-13-4-21-18-8-30-15-5-4-7-9-9-12-1-10-7-10 1-18-3-10 5zM-89 133l-15 6-17 11 0 4 8 12 2 13 2 4 8 1 7 5 13-1 22 7 8-2 7 2 8-4 12 3 13-1 47 5 22-9 11 0 15-8 10-1 8-6 14-20-4-13-6-3-10 3-15-1-15-5-10 3-12-2-13 2-7-2-8 3-15-2-22 4-10-4-13 2-10-4-15 3zM171 35l-1 4 3 5-1 2-11 13-1 10-5 7 4 10 5 2 5-1 11-13 0-10-2-15-4-5 0-9z"/>
<path fill="#e1f5f8" d="M-276 -276l63 0 2 3 5 2 1-5 66 0 3 3 5 0 5 5 3-8 8 0 1 6 3 0 5-6 159 0 8 5 7-5 18 0 8 3 5-3 120 0 1 5 4 2 7-4 3-3 42 0 0 68-5 2-2 2 0 3 7 5 0 38-4 2-3 5 2 5 5 4 0 107-2 1 2 2 0 280-4 6 4 4 0 18-224 0-8-4-8 4-117 0 3-5-3-4-3 4 1 5-93 0-1-2-7-3-5 5-39 0-3-2-3 2-16 0 1-2-5-3-2 1-1 4-19 0 0-59 5 1 6-4-1-3-10-5 0-57 5 3 2-3-7-5 0-92 5-1 2-2-5-8 8-10-3-2-7 2 0-150 7-7-5-8 3-5-2-5-3-1 0-40 11 1 0-2-11-6 0-59 5-2 0-3-5-1zM-251 -140l-3 4 0 3 9-3 0-3zM-246 -243l-3 4 3 4 5-6zM-229 -111l-2 2-1 8 1 3 2 1 3-2 2-7-2-5zM-221 221l-4 5 1 3 5 0 5-8-5-2zM-216 103l-3 1 0 3 5 1 5-2zM-211 -107l-4 11 1 3 4-1 4-10-3-4zM-201 -155l-4 4-1 5 6-5 1-3zM-176 -259l-1 10 3 2 8 0 3-4-2-8zM-154 -264l-4 3 4 3 2-3zM-151 -239l-5 5-5 1 10 4 4-7-2-3zM-124 -258l0 7-3 5 3 7 3-1 1-4-3-7 1-3zM-6 -266l-4 5 6 2 2-2zM11 -254l-12 8-13-2-12 4-25 2-3-2 0-6-12 0 2 14-2 2-20 7-8 5-24 3-27 28 1 10-3 12 1 10-8 5 0 5 5 1 8-5 10 6 5 0 15-1 10-4 42-4 25 0 6 2 7 10 7-3 10 0 8-6 10 1 5-4 12-1 5-4 10 0 8-4 15 2 15-11 12-2 3 1 3 6-2 13-8 17 4 4 7-1 3 7 8 5 3 8-3 7 10 4 5 6 5 1 2 14 13 9 4 29-3 7 1 5 8 4 0 9 6 10 1 7 10 11 6 9-3 5-13-3-6 6 4 10-1 12-7 8-1 12-9 8-2 5 4 5-1 7 2 4 7-1 2 5-2 4-7-1-10 6-3 6 1 2 7 0 7 5 5-2 5-7 3 1 7 13 3 1 1-1-1-2-5-5 13-18 8-7-1-8 10-3 5 4 2-3-3-8-5-37-9-10-2-8 2-2 7-1 8-5 7 1 11-10-1-8 8-5-4-17 2-13-2-10 4-10-8-12 0-5 5 1 3-4-3-1-5 4-12-8-12-25-6-8-9-7-6-10 0-5 5-5-3-7-4-1-5 8-5 0-20-23-13-4-10-11-9-4-3-10-1-15-6-15 1-5-4-5-11-5 1 5 5 7-3 3-3-5-10-5-9-10-8 5-6-5-4-6-7 4-8 1zM119 -271l-5 2 0 3 12 9 3-1 2-8-2-7zM149 -229l-13 5-1 3 4 3 5-5 5 0 2-6zM171 -252l-2 4 7 14 5 2-2-9 2-8-5-3zM199 -269l-3 5 3 4 6-6-1-5zM219 -110l-3 4 1 2-4 5 3 3 5-10 0-3zM226 -259l0 5 16 0-1-3zM251 -219l3 6 5 2 1-5-1-4zM264 111l-4 3 1 4 3 0 1-4zM-266 231l-2 3 0 2 4 5 3-5-3-5zM-269 129l-3 2 1 6 5-1 6-5-4-3zM-271 -79l0 2 5 1 5 7 2-1 2-4-1-2zM-249 -39l-2 3 5 2 0-4zM-231 153l-2 3 2 3 6 0 3-3-7-5zM-206 -82l-2 1 0 2 4 5 3-6zM-176 -103l-7 9 3 10-1 8-5 8-8 1-1 3 11 4 4 9 6 5 7 12 0 8 11 13 22 18 18 8 5 0 4-4 0-8 4-10 14-3 1-12 4-3 8-2-8-5-7 2-5 5-5-2-12-22-3-3 1-10-7-5-3-7-8-5-3-5-15-12-15 1-5-2-3-4zM-66 43l-2 3 7 4-1-6zM-31 -101l0 7 5 0 4-5-4-4zM-9 -35l-1 4 1 2 6 0 3-2-4-4zM-1 -137l-3 6 5 1 5-1 3-5-3-3zM26 -14l-3 3 1 3 3-1zM34 -34l-2 3 2 3 7 1 3-2zM49 -79l-5 3 0 2 2 4 3 1 3-7zM64 -140l-2 1 0 5 2 3 5 1 3-9zM79 -144l-3 3 3 1 3-1 0-3zM109 11l-3 3 3 6 7 1 4-2-6-8zM124 55l0 5 2 1 3-2 0-3zM149 263l0 4 5 2 7-2 1-3-1-2-7 3zM171 198l-2 1-2 5 4 2 4-2 0-3zM181 162l-2 2 1 2 4 2 2-2 0-2zM191 107l-2 2 1 2 4 2 1-2 0-2zM206 38l-2 3 5 8-5 7 5 3 2-2 2-8zM211 23l0 4 6-1-3-4zM229 103l-9 6-1 2 2 8-4 7 12 8 8-8-9-5-4-5 2-6 8-4 1-2zM151 -211l-4 2-1 8 5 5 4-3 0-10 0-2zM234 -186l-4 5 4 3 3-3-1-4zM239 -169l-3 3 0 7 13 2 2-1-7-6-1-5zM256 1l0 3 3 1 2-1 0-3zM-264 48l3 15 9 1-4 7 1 3 6 2 7-2-4-19zM-249 -22l-1 3 5 8 1 10 4-10zM-201 126l-3 5 5 2 2-4-1-3zM-184 6l-6 8 4 3 5-6 0-5zM-176 -8l-1 4 4 3 2-3zM-151 165l-3 2 0 6 4-4zM-141 211l-5 3 0 2 5 2 6-4zM-116 30l-2 6 2 1 2-3 0-3zM-104 81l-4 8 0 2 2 1 4-3 0-8zM-101 128l-13 13-13 8 1 12 7 10 0 10 8 8 10 0 5 4 10 3 13 0 3 3-5 7 6 4 8-6 15 3 10-9 12 1 8-1 7 3 23-3 22 5 18-2 7 9 3 0 2-9 12-12 6-3 10 2 15-9 1-8 7-5 6-10 0-5-5-7-1-8-33 0-23-7-10 2-20-2-17 5-30 1-13-4-12 0-8-3-17 0-5 2-5-2zM-81 24l-7 12 2 7 4-4 5-10-2-5zM1 56l0 5 3 0 2-5-2-2zM9 -91l-2 2 4 4 3-4 0-2zM26 34l-2 2 0 5 5 5 3-7zM66 -27l0 6 3 1 1-4-1-3zM76 -84l-5 5 3 6 4-8 0-3zM86 -57l1 3 7 4 1-1-4-7zM119 91l-2 3 1 2 3 1 5-3 1-3-3-2zM131 154l-3 2 1 5 3 3 4-1 2-4zM181 243l-2 2-1 4 1 3 2 2 5-5zM206 211l3 7 1-7-1-2zM229 141l-1 5 3 1 2-3-2-3zM231 36l-1 3 3 5 3 15 4-5-4-10 1-5-2-3zM241 -87l-4 3 2 5 2 0 2-5zM249 -94l-3 5 8 2 1-2-1-2zM-249 193l-2 6 5 1 7 5 8-1 2-3-5-4-10-4zM-199 247l-1 2 0 2 4 1 1-3zM-186 175l-2 1 2 3 5-3zM-176 113l-3 3 3 9zM-174 147l-2 2 2 3 6-3zM-139 247l-2 2 5 7 5 2 2-2 0-9zM-126 235l-2 4 4 0 1-3zM-66 266l0 5 3 0 3-2-1-3zM-46 233l-1 3 3 3 6-3 0-2-3-2zM-29 243l-2 6 2 5 0 7 3 2 2 0-1-19-1-3zM31 213l-1 6 4 1 1-6zM-86 116l-2 3 2 2 10 3 1-5-1-3zM124 130l-3 4 8 2 1-2-1-4zM231 185l-2 3-1 8 3 3 2 0 2-10zM-244 232l-2 2 1 2 4 3 1-5zM-176 190l-4 4 1 2 8-2 2-3z"/>
<path fill="#ffffc0" d="M-159 -276l10 0-7 5-3-1zM34 -276l12 0-2 7 7 5 0 3-10 2-6-2 4-8-4-2zM-35 -266l4-2 2 1 0 5-2 2-3-1zM77 -266l7 0-3 3-3-1zM-95 -264l4-1 5 3 3 11-2 2-6 2-3-1zM-255 -259l3 0 0 3-2 5-2 1-2-4zM268 -256l8-2 0 7-7 1-3-4zM-139 -246l3 2 0 4-3 1zM154 -244l5 0 6 3 4 10-1 2-4 2-3-3-8-9zM131 -239l3 0 3 5-4 0-3-2zM-145 -226l4-2 4 9-2 8-2 0-6-8zM215 -219l6-1 1 4-3 2zM-250 -216l5 0 4 9 5 1 2 2 5 18-5 6-7 1-1-2 4-18-5-7-7-5zM-146 -206l5-2 2 4-5 2-2-2zM167 -189l5 0 1 5-4 1-3-3zM143 -186l1-2 4 4 6 16-11-11zM215 -184l4-1 0 1 0 5-3 4-4-1zM-207 -181l6 0 0 5-5 2-3-5zM-270 -176l4-1 4 1 0 2-7 2zM-276 -166l2-2 3 2-1 12-1 3-3 0zM-236 -166l2 0 0 5-4 0-1-3zM178 -166l4 2-1 3-2 2-3-2zM192 -159l5 0-1 7-5 0-3-2 0-2zM-60 -154l26 2 5 3 1 5-8 14-8 6-20 10-10 13-20 6-10-1-12 5-9-3-6-5-9 3 3-13-2-7 2-13 0-12 26-4 10-5zM225 -149l4-1 2 1 0 6-6-3zM245 -149l11 7 1 3-6 7-7 2-4-1 5-8zM-180 -144l4-1 3 1-3 4-5-1zM221 -129l7 3-2 2-5 1-2-3zM-36 -124l2-1 13 6-3 3-5-2-5 0zM270 -121l4 0 1 2-4 7-3-4zM-8 -116l4-2 3 4-5 7-5-2zM-272 -111l7 0-3 2-6 0zM-244 -109l3-2 2 2-2 4zM113 -99l8 0-1 3-4 1-3-1zM-4 -86l3 0 6 5-1 7-5-1zM-242 -81l3-2 2 2-2 7-3-2zM85 -79l6-2 3 5-3 3-5 0-2-3zM-226 -76l5 1 2 1-1 3-4 2-4-2zM36 -74l3 2 2 6-2 1-5-4zM9 -69l5 0 1 3-6 1zM-94 -64l5 1 3 2-1 2-4 3-3-1-1-4zM-25 -61l6 0 0 5-5-1-1-2zM238 -61l6-2 2 2 1 5-3 3-5 0zM23 -41l3 2-1 8-4 3-2-2 0-4zM-234 -39l7 0-4 5-4-2zM71 -34l3-2 5 4 0 6-3-1zM234 -31l2-2 3 1 5 8 0 10-3 2zM-4 -24l6 3-3 4-6-2-1-2zM81 -11l5-1 2 3-7 4-2-1zM272 -11l4-1 0 13-4-5zM-232 -9l6 0 3 5-3 2-4-2zM57 -9l9-1 3 1 1 5-4 4-5 2-3-3zM-160 -4l4-1 12 6 13 13-9 5 6 30 5 5 1 10 9 7 0 8 4 7-3 10 4 15 3 0 5-3 2 3-14 28-6 4-7 2-8-2-11-14 0-8-6-7 1-5-4-15-2-3-5 4-3-1 1-3 4-1 2-6-4-13 2-10-7-15-4-30 1-9zM-212 -1l3 0 4 7-4 7-2 0-4-4zM142 -1l4-1 2 3-4 2-3-2zM-88 1l5 0 7 8-5 1-8-1-2-3zM161 9l5-2 2 4-4 2-4-2zM246 11l3-2 3 7zM-49 24l3-2 5 4 2 8-9-3zM-238 29l7 0 2 2-9 8 1 7-4 3-7-5zM-105 29l1-2 3 0 4 4 2 5-1 6-6-3zM-9 29l8-2 6 7 1 4-5 0-7-3-3-4zM55 36l1-2 4 2-1 6zM272 44l4-1 0 8-5 0-4-2 1-3zM-115 54l4 0 5 4 0 6-12-8zM23 56l3 0 3 3 0 5-3 3-5-1-1-2zM-29 64l6 2 0 3-3 3-5-3zM-276 71l0-1 2 0 2 4-4 3zM-70 71l4 0 1 3-4 5-3-3zM250 74l6 2 5 8-7 5-5-8zM-18 79l9-2 15 6 10 0 1 11 9 2 5 5 4 15-1 5-18 4-7 6-25 0-15-7-2-5-5-5-2-10-5-8 0-2 9-4 5-5 10 0zM47 91l5 0-1 5-5 0zM197 96l4-2 2 2-2 7-4-2zM-269 101l5 0 5 8-7 1-5-1-2-3zM69 101l2 0 1 3-4 7 0 5-14 0 0-3zM-233 109l4 0 5 2 2 5-2 4-2 1-8-7zM246 114l3-2 3 2-3 3-3-1zM88 116l16 4 9 6-1 3-11 3-23-3-3-3 1-5zM202 116l4-2 5 5-1 2-7 8-2 6-2-1-2-3 4-5-1-7zM-209 141l5-1 2 4-2 3-5 0zM260 154l9 1 4 4-2 2-13 0-1-5zM165 164l9 8 0 6-10-1-3-2 0-4zM-174 166l3-2 5 6 3 1-1 13-5 0-3-3 3-7zM-266 171l2-2 5 1 3 6-3 1zM190 174l5 0 1 2-1 3-4 1-2-1zM-240 186l1-2 3 1 4 4-4 2zM160 189l4-1 1 3-4 5-2 1-2-3zM-216 196l5 1-3 5-4-1zM132 196l7-1 7 9-5 3-10 0-1-3zM-272 199l3-2 5 2-5 1zM-25 206l6 3-2 7-3-1-3-4zM164 214l2-2 4 2 2 5-1 2-5 0zM-60 219l5 2-1 5-8 0-1-2zM-184 221l3-2 8 5-1 6-2 2-5-2zM-100 226l14 8 4 7-2 2-5 1-7-9-8-3 0-3zM1 226l3 2 0 6 4 5-2 3-4-3zM-249 246l0-2 3 2 0 6-3-1zM-181 246l8 0 4 3 0 2-10 5-4 0-2-5zM126 246l4 3-1 3-6-3zM258 256l3-1 1 4-3 5-3 0zM-111 261l7 5-1 5-4 3-7-2-2 4-5 0 0-7zM23 264l6 1 0 4-15 7-2-7 4-4zM-17 269l3-2 3 9-7 0zM230 269l2 0 1 7-7 0zM256 274l5-1 3 3-9 0z"/>
<path fill="#fee292" d="M-85 -149l21 0 8-2 6 2 3 5 11-3 1 3-6 8-10 6-15 13-18 12-12 4-8-1-12 5-5-1-9-23 2-5-2-10 2-3 7-3 10 0 10-5 10 0zM-162 4l6-2 10 7 0 12 6 18 0 7 6 10 3 15 4 5 4 10-2 8 7 30-3 12-5 5-10-1-8-11-18-58 1-10-6-15-4-22 2-10zM-29 94l5-2 8 3 7-4 3 1 3 12-2 5-6 6-10 4-4 0-6-8zM26 109l3 7-5 2-3-1 0-3z"/>
<path fill="#fdb062" d="M-85 -144l10 0 6 8 10-1 1 6-12 10-6 1-11 11-9 2-8-2-10 2-2-2-8-12 2-15 3-1 5 3 3 0 10-8 10 5 4-2zM-76 -131l-2 5 4 4 4-4 0-3-2-2zM-165 24l9 0 2 7-7 5-5-7zM-158 46l7-1 11 11 4 18 6 12 6 35-2 8 1 7-4 3-5-1-7-9-4-18-6-13-7-27z"/>
<path fill="#f67b46" d="M-92 -121l6-2-1 7-4 2-6-2zM-152 71l3 0 4 3 14 27 0 25-3 5-5-5-2-12-8-18-4-17z"/>
<path fill="#da3c2a" d="M-141 104l2-3 2 3-1 5z"/>
</g>
<use href="#shelf" fill="#fff"/>
<use href="#land" fill="#fff" stroke="#fff" stroke-width="5"/>
<line x1="0" y1="80" x2="0" y2="268" stroke="#fff" stroke-width="2"/>
<use href="#land" fill="#d6d6d6"/>
<!--grid-->
<use href="#land" fill="none" stroke="#000" stroke-width="2.2" stroke-linejoin="round"/>
<use href="#isl" fill="#d6d6d6" stroke="#000" stroke-width="2" stroke-linejoin="round"/>
<g fill="none" stroke="#808080"><circle r="69" stroke-width="1.2" stroke-opacity="0.55" stroke-dasharray="4 2.5 1 2.5"/><circle r="139" stroke-width="1.2" stroke-opacity="0.55" stroke-dasharray="4 2.5 1 2.5"/><circle r="211" stroke-width="1.2" stroke-opacity="0.55" stroke-dasharray="4 2.5 1 2.5"/><line x1="0" y1="0" x2="0" y2="-270" stroke-width="1.8" stroke-opacity="0.26"/><line x1="0" y1="0" x2="190.9" y2="-190.9" stroke-width="1.8" stroke-opacity="0.26"/><line x1="0" y1="0" x2="270" y2="0" stroke-width="1.8" stroke-opacity="0.26"/><line x1="0" y1="0" x2="190.9" y2="190.9" stroke-width="1.8" stroke-opacity="0.26"/><line x1="0" y1="0" x2="0" y2="270" stroke-width="1.8" stroke-opacity="0.26"/><line x1="0" y1="0" x2="-190.9" y2="190.9" stroke-width="1.8" stroke-opacity="0.26"/><line x1="0" y1="0" x2="-270" y2="0" stroke-width="1.8" stroke-opacity="0.26"/><line x1="0" y1="0" x2="-190.9" y2="-190.9" stroke-width="1.8" stroke-opacity="0.26"/></g>
<g fill="#8f8f8f"><text x="-18.8" y="-222.0" font-size="28" textLength="39.6" lengthAdjust="spacingAndGlyphs">0°E</text><text x="-196.1" y="-155.3" font-size="28" textLength="65.1" lengthAdjust="spacingAndGlyphs">45°W</text><text x="137.7" y="-155.3" font-size="28" textLength="52.0" lengthAdjust="spacingAndGlyphs">45°E</text><text x="-263.4" y="10.5" font-size="28" textLength="63.6" lengthAdjust="spacingAndGlyphs">90°W</text><text x="205.3" y="10.3" font-size="28" textLength="54.4" lengthAdjust="spacingAndGlyphs">90°E</text><text x="29.3" y="51.2" font-size="28" textLength="54.4" lengthAdjust="spacingAndGlyphs">80°S</text><text x="87.8" y="92.1" font-size="28" textLength="51.2" lengthAdjust="spacingAndGlyphs">70°S</text><text x="144.9" y="134.1" font-size="28" textLength="54.0" lengthAdjust="spacingAndGlyphs">60°S</text><text x="-203.1" y="173.6" font-size="28" textLength="78.4" lengthAdjust="spacingAndGlyphs">135°W</text><text x="130.2" y="173.9" font-size="28" textLength="68.0" lengthAdjust="spacingAndGlyphs">135°E</text></g>
<path d="M-249.4,-99.3 -227.8,-106.1 -226,-104 -231,-92 -235,-88 -236,-83 -240,-83 -241,-88 -244,-88 -245,-82 -249,-82 -252,-84 -256,-77 -258,-80 -254,-92 -251,-98Z" fill="#9a9a9a" stroke="#000" stroke-width="1.7" stroke-linejoin="round"/>
<ellipse cx="0" cy="1.3" rx="270.4" ry="271.3" fill="none" stroke="#000" stroke-width="4.2"/>
</g>
<g transform="translate(937.9,1461.4)">
<g clip-path="url(#dom1)">
<rect x="-276" y="-276" width="552" height="552" fill="#3a4ba1"/>
<path fill="#4f84be" d="M-276 -276l552 0 0 552-552 0zM31 -236l-5 3-10 1-5 3-10-5-10 9-7-5-8 5-5-2-10 4-15-4-9 6-8 1-15 17-10-6-5-1-12 6 2 5-1 15 8 5 13-2 7 2 5-2 10-10 8 1 10-5 22-4 5-3 13 5 15-7 7-1 10-8 8 5 7-6 8 1 4-13 5-5-8 0-9 5-3-3 3-5-1-2zM-94 154l-3 2 3 4 8-4-2-2zM-69 164l-4 2 1 3 6 2 2-2 0-3zM-16 156l-5 5-5 1-28-3-2 2-2 5 9 14 18 2 12 5 8-1 17 3 13-7 10 7 10-6 10-2 5-3 1-9-4-4-10 0-7 5-10-13-20 5-10 0-5-5z"/>
<path fill="#80b6da" d="M-276 -276l552 0 0 552-552 0zM-14 -244l-10 6-7 0-10-3-8 3-7 0-8 6-22 8-5 9-20 0-13 7-3 4-2 8 1 7-8 15 2 3 13-3 5 3 2 6 10 1 8-7 12 1 15-12 13-1 15-7 12 0 10-4 13 0 4 3-3 7 4 6 32 9 5-2 6-10-13-6-13 5-6-9 1-3 8 1 5-6 2 0 8 7 20-20 17-3 6-6-2-10-6-10-8 5-12-9-10 3-18-3-5 5-5 1-7-3zM84 163l-3 3 0 3 7-3-2-3zM129 -138l-3 10-7-5-4 2 1 5 5 3 10 0 5 12 12 7 5 0 1-2-5-5-2-5 5-13-13-4zM159 -59l-3 3 3 3 7 0 4-3-3-3zM181 -114l-15 6-4 4 0 8 4 5 16 7 9 19 23 3-3-7-12-9-3-6-7-6-4-11 3-8-2-3zM-89 138l-7 6-5 0-8 7 4 8 1 9 11 8 19 1 9 9 9 4 20-2 15 4 10-2 17 3 10-2 15 2 8-4 25-7 2-6-3-5 6-1 2-4-1-7-6-6-8 6-20 1-3-1-4-9-5-2-8 3-10 0-10-4-10 1-15-3-12 3-13-7-15 6-5-6zM49 -195l-3 4 3 2 6-5zM59 -182l-4 3 6 3 3-5zM66 -162l-5 5-7 1-2 2 1 5 6 6 5-1 3-7 3-3-1-8zM74 -147l-2 1 1 2 6 0 3-2-3-2zM171 -67l-2 1 5 3 2-1 0-3zM191 -11l0 7 5 16 13-2 3-9-1-4-7-1-8-7zM171 34l-3 5 0 20 2 5 4 1 3-4 3-17-4-8-2-3z"/>
<path fill="#b2dfee" d="M-276 -276l552 0 0 552-552 0zM-156 -94l0 4 6-1-1-3zM9 -252l-8 5-15-2-10 5-37 1-20 13-8 0-7 6-20 3-14 7-6 13-8 10 0 22 3 7 7 4 4 7 4 2 15 0 5-6 16-6 24-17 32-8 40 15 15 2 8 6 12 1 5 3 5 14 13 8 25-4 7 5 8 0 12 16 12 6 14 13 7 12 10 3 3 10-2 7-7 10-1 5 2 3 17 6 11-11 4-2 10 2 10-1 8 6 1 5-6 13-5 2-10-2-10 3-3 4 4 25 9 19 2 1 15-4 9-11 0-8 4-7 0-18 3-7-4-13 1-10-5-10 0-9-13-8-15-28-15-12-6-13-9-4-7-10-8-3-5-8-12-4-11-13-12-5-3 0-7 5-7-4-5 8-1-14 7-5 2-13 9-3 4-4 0-5-4-10-7-8-5-3-10 0-10-6-10 0-8-6-15 6-22-4zM-131 -30l-3 4-3 15 5 10 6 3 3-3 0-10-5-10 0-8zM-89 131l-12 2-8 11-11 5-2 2 12 13 3 15 13 5 15-1 18 11 10 1 5 3 10-3 12 1 10-2 15 3 13-2 17 2 28-9 10 3 6-10 11-5 8 1 2-3-2-13-8-10-10 3-20-8-3 8-4 2-10 1-5-3-5-8-5-4-8 1-12-5-25 4-10-3-13 1-10-4-12 2zM166 23l-1 3 0 23-4 10 1 5 7 8 19-3 3 2 0 5 3-2 2-8-1-7 3-8-1-12-11-13-7 0-10-5zM161 80l-5 6 0 3 3 2 2 0 3-4z"/>
<path fill="#e1f5f8" d="M-276 -276l63 0 2 3 5 2 1-5 66 0 3 3 5 0 5 5 3-8 8 0 1 6 3 0 5-6 159 0 8 5 7-5 18 0 8 3 5-3 120 0 1 5 4 2 7-4 3-3 42 0 0 68-5 2-2 2 0 3 7 5 0 38-4 2-3 5 2 5 5 4 0 107-2 1 2 2 0 280-4 6 4 4 0 18-224 0-8-4-8 4-117 0 3-5-3-4-3 4 1 5-93 0-1-2-7-3-5 5-39 0-3-2-3 2-16 0 1-2-5-3-2 1-1 4-19 0 0-59 5 1 6-4-1-3-10-5 0-57 5 3 2-3-7-5 0-92 5-1 2-2-5-8 8-10-3-2-7 2 0-150 7-7-5-8 3-5-2-5-3-1 0-40 11 1 0-2-11-6 0-59 5-2 0-3-5-1zM-251 -140l-3 4 0 3 9-3 0-3zM-246 -243l-3 4 3 4 5-6zM-229 -111l-2 2-1 8 1 3 2 1 3-2 2-7-2-5zM-221 221l-4 5 1 3 5 0 5-8-5-2zM-216 103l-3 1 0 3 5 1 5-2zM-211 -107l-4 11 1 3 4-1 4-10-3-4zM-201 -155l-4 4-1 5 6-5 1-3zM-176 -259l-1 10 3 2 8 0 3-4-2-8zM-154 -264l-4 3 4 3 2-3zM-151 -239l-5 5-5 1 10 4 4-7-2-3zM-124 -258l0 7-3 5 3 7 3-1 1-4-3-7 1-3zM-6 -266l-4 2 0 5 7 5-11-1-10 6-17 2-13-5-12 1-4 7-7 3-7 6-10-1-10 6-7-4-5 8-15 6-19 29 3 32-15 8-7 10-2 12-4 13 1 7-2 9 5-1 5-5 5-1 3 6-6 7-1 15 5 0 6-5 8 6 5 1 5-12-7-5 0-2 4-10 9-8 3-15-2-3-7-2-8-7 3-9 2 0 8 9 20-2 7-8 15-7 23-16 30-9 7 3 13 7 25 7 10 0 10 9 10 0 9 16 16 11 5 1 7-5 10-2 13 5 12 10 3 12 10-1 15 11 0 10 13 8 4 7-7 13 0 13 5 4 9 0 12 10 0 5-2 8 7 12-1 10 7 9 2 6-2 2-7 1-13-2-7 4-1 5 2 10-4 18 2 15-11 5-3 5 4 5-1 7 7 8 3 7 12 6 2-1-3-27 1-5 2-2 5-2 5 1 10 10 8-2 5 3 2-3-3-8 0-12 8-7 2-8-4-12-8-3-1-3 4-7 7 4 7-2-3-7 10-13 2-7 4-6-1-22 3-12-5-8 3-10-3-10 2-10-4-3-12-4-3-5 8-4 2-14-4 0-3 6-5 1-5-2-10-16-14-14-1-5 2-5-3-7-4-1-5 4-5 0-8-11-12-10-13-4-6-13-11-1-11-9-4-5 1-3 9-7 2-10-4-10-12-13-29-9-7-6-28 3-10-2-20 2-3-8zM119 -271l-5 2 0 3 12 9 3-1 2-8-2-7zM149 -229l-13 5-1 3 4 3 5-5 5 0 2-6zM171 -252l-2 4 7 14 5 2-2-9 2-8-5-3zM199 -269l-3 5 3 4 6-6-1-5zM226 -259l0 5 16 0-1-3zM251 -219l3 6 5 2 1-5-1-4zM264 111l-4 3 1 4 3 0 1-4zM-266 231l-2 3 0 2 4 5 3-5-3-5zM-269 129l-3 2 1 6 5-1 6-5-4-3zM-271 -79l0 2 5 1 5 7 2-1 2-4-1-2zM-249 -39l-2 3 5 2 0-4zM-231 153l-2 3 2 3 6 0 3-3-7-5zM-206 -82l-2 1 0 2 4 5 3-6zM-186 175l-2 1 2 3 5-3zM-176 113l-3 3 3 9zM-174 147l-2 2 2 3 6-3zM-151 165l-3 2 0 6 4-4zM-141 211l-5 3 0 2 5 2 6-4zM-134 -76l-1 2 4 4 2-4zM-104 81l-3 8 1 3 4-3 0-8zM-66 43l-2 3 7 4-1-6zM-31 -101l0 7 5 0 4-5-4-4zM-9 -35l-1 4 1 2 6 0 3-2-4-4zM-1 -137l-3 6 5 1 5-1 3-5-3-3zM21 87l-2 3 0 3 9-2-2-3zM26 -14l-3 3 1 3 3-1zM34 -34l-2 3 2 3 7 1 3-2zM49 -79l-5 3 0 2 2 4 3 1 3-7zM66 -27l0 6 3 1 1-4-1-3zM76 -84l-5 5 3 6 4-8 0-3zM86 -57l1 3 7 4 1-1-4-7zM109 11l-3 3 3 6 7 1 4-2-6-8zM124 55l0 5 2 1 3-2 0-3zM149 263l0 4 5 2 7-2 1-3-1-2-7 3zM171 122l-2 2 2 2 4 0zM181 162l-2 2 1 2 4 2 2-2 0-2zM191 108l-1 3 4 2 1-2 0-2zM206 211l3 7 1-7-1-2zM229 103l-9 6-1 2 2 8-4 7 12 8 8-8-9-5-4-5 2-6 8-4 1-2zM231 36l-1 3 3 5 3 15 4-5-4-10 1-5-2-3zM151 -211l-4 2-1 8 5 5 4-3 0-10 0-2zM234 -186l-4 5 4 3 3-3-1-4zM239 -169l-3 3 0 7 13 2 2-1-7-6-1-5zM256 1l0 3 3 1 2-1 0-3zM-264 48l3 15 9 1-4 7 1 3 6 2 7-2-4-19zM-249 -22l-1 3 5 8 1 10 4-10zM-201 126l-3 5 5 2 2-4-1-3zM-176 190l-4 4 1 2 8-2 2-3zM-139 247l-2 2 5 7 5 2 2-2 0-9zM-134 -39l-6 15-1 13 7 13 10 5 3-1 2-5 0-17-4-15zM-84 -34l-7 2-5 5-6 3 3 12 10 0 1-12 4-3 8-2zM-24 83l-5 6 3 7-2 5 1 3 6 2 10-2 1-13-4-4zM1 56l0 5 3 0 2-5-2-2zM9 -91l-2 2 4 4 3-4 0-2zM26 34l-2 2 0 5 5 5 3-7zM119 91l-2 3 1 2 3 1 5-3 1-3-3-2zM131 154l-2 7 3 3 4-1 2-4zM171 198l-2 1-2 5 4 2 4-2 0-3zM181 243l-2 2-1 4 1 3 2 2 5-5zM229 141l-1 5 3 1 2-3-2-3zM241 -87l-4 3 2 5 2 0 2-5zM249 -94l-3 5 8 2 1-2-1-2zM-249 193l-2 6 5 1 7 5 8-1 2-3-5-4-10-4zM-199 247l-1 2 0 2 4 1 1-3zM-101 126l-4 3-6 14-13 3-3 3 2 10 10 10 0 10 4 6 2 2 8 0 7 4 13-1 10 5 3 4-7 7 6 4 8-6 15 3 10-7 12 0 8-2 7 4 23-3 27 2 10-1 10 10 3 0 3-9 13-15 4-2 10 3 7-7 6-1-9-20-7-10-5-1-10 2-15-8-7-1-5 3 1 5-3 5-8 0-4-3-2-7-7-8-1-5-6-4-5 8-13-2-17 2-10-4-15 3-10-4-20 1-8-3zM-81 24l-7 12 2 7 4-4 5-10-2-5zM124 130l-2 4 7 2 1-2-1-4-3-1zM231 185l-2 3-1 8 3 3 2 0 2-10zM-244 232l-2 2 1 2 4 3 1-5zM-126 235l-2 4 4 0 1-3zM-66 266l0 5 3 0 3-2-1-3zM-46 233l-1 3 3 3 6-3 0-2-3-2zM-29 243l-2 6 2 5 0 7 3 2 2 0-1-19-1-3zM31 213l-1 6 4 1 1-6zM184 -51l5-2 7 2 10-1 4 6-2 7-4 4-8-2-10 0-4-7z"/>
<path fill="#ffffc0" d="M-159 -276l10 0-7 5-3-1zM34 -276l12 0-2 7 6 5-1 2-5 1-6-3 1-5-4-2zM-35 -266l4-2 2 1 0 5-5 1zM77 -266l7 0-3 3-3-1zM-95 -264l4-1 5 3 3 11-2 2-6 2-3-1zM-255 -259l3 0 0 3-2 5-2 1-2-4zM268 -256l8-2 0 7-7 1-3-4zM-139 -246l3 2 0 4-3 1zM154 -244l5 0 6 3 4 10-1 2-4 2-3-3-8-9zM131 -239l3 0 3 5-4 0-3-2zM-145 -226l4-2 1 2 1 7-2 3-5-3zM215 -219l6-1 1 4-3 2zM-250 -216l5 0 4 9 5 1 2 2 5 18-5 6-7 1-1-2 4-18-5-7-7-5zM167 -189l5 0 1 5-4 1-3-3zM143 -186l1-2 4 4 3 13-8-8zM215 -184l4-1 0 1 0 5-3 4-4-1zM-207 -181l6 0 0 5-5 2-3-5zM-40 -179l9 0 8 8 0 7-8 13-15 5-8 8-5 10-7 4 0 5-3 4-1-4 4-5-1-2-3-3-5 0-11 13-8 1-10 5-15 15-5-1 0-28 3-5 10-6 10-14 19-10 18-13zM-270 -176l4-1 4 1 0 2-7 2zM-276 -166l2-2 3 2-1 12-1 3-3 0zM-236 -166l2 0 0 5-4 0-1-3zM178 -166l4 2-1 3-2 2-3-2zM192 -159l5 0-1 7-5 0-3-2 0-2zM225 -149l4-1 2 1 0 6-6-3zM245 -149l11 7 1 3-6 7-7 2-4-1 5-8zM221 -129l7 3-2 2-5 1-2-3zM-35 -124l11 3 3 2-2 3-11-2-2-3zM270 -121l4 0 1 2-4 7-3-4zM-8 -116l4-2 3 4-5 7-5-2zM-272 -111l7 0-3 2-6 0zM-244 -109l3-2 2 2-2 4zM113 -99l6-1 2 1-1 3-4 1-3-1zM-186 -86l2-1 4 3-1 5-7-2zM-4 -86l3 0 6 5-1 7-5-1zM-242 -81l3-2 2 2-2 7-3-2zM85 -79l6-2 3 5-3 3-5 0-2-3zM-226 -76l5 1 2 1-1 3-4 2-4-2zM36 -74l3 2 2 6-2 1-5-4zM-167 -71l6-1 8 6 1 7 11 25-3 13 1 12 7 13 9 7 0 10 4 8-1 7 6 13 12 10 0 5-8-4-2 1-2 3 3 15 3 5-2 12 10 13 1 5-8 25-3 2-17 5-6-2-4-10-6-5-2-8-7-7 1-8-6-17-1-10-4-8 0-10-11-27-7-43-2-3-5-2 0-7-4-5 8-13 1-17 9-10zM9 -69l5 0 1 3-6 1zM-94 -64l5 1 3 2-1 2-4 3-3-1-1-4zM-25 -61l6 0 0 5-5-1-1-2zM238 -61l6-2 2 2 1 5-3 3-5 0zM190 -46l11 1 1 4-13-3zM23 -41l3 2-1 8-4 3-2-2 0-4zM-234 -39l7 0-4 5-4-2zM71 -34l3-2 5 4 0 6-3-1zM236 -31l3-1 5 8 0 10-3 2zM-4 -24l6 3-3 4-6-2-1-2zM81 -11l5-1 2 3-7 4-2-1zM272 -11l4-1 0 13-4-5zM-232 -9l6 0 3 5-3 2-4-2zM57 -9l9-1 3 1 1 5-4 4-5 2-3-3zM-212 -1l3 0 4 7-4 7-2 0-4-4zM142 -1l4-1 2 3-4 2-3-2zM-88 1l5 0 7 8-5 1-8-1-2-3zM160 9l4-3 6 3-1 2-5 2-4-2zM246 11l3-2 3 7zM-49 24l3-2 5 4 2 8-9-3zM-238 29l7 0 2 2-9 8 1 7-4 3-7-5zM-105 29l1-2 3 0 4 4 2 5-1 6-6-3zM-9 29l8-2 6 7 1 4-5 0-7-3-3-4zM55 36l1-2 4 2-1 6zM272 44l4-1 0 8-5 0-4-2 1-3zM23 56l3 0 3 3 0 5-3 3-5-1-1-2zM-29 64l6 2-2 5-4 0-2-2zM-276 71l0-1 2 0 2 4-4 3zM-70 71l4 0 1 3-4 5-3-3zM250 74l6 2 5 8-7 5-5-8zM172 81l7-1 4 4-1 5-5 5 1 7-2 0-1-2-3-13zM47 91l5 0-1 5-5 0zM-85 96l4 0 17 7 8-6 12-1 4 18-9 8-10 3-10-1-5-8-17 0-3-2 1-13zM197 96l4-2 2 2-2 7-4-2zM-269 101l5 0 5 8-7 1-5-1-2-3zM69 101l2 0 1 3-4 10 8 6 33 1 5 3 1 2 0 5-11 19-5 0-10-5-15 2-13-11-1-2 4-15-10-3-1-2zM-233 109l4 0 5 2 2 5-2 4-2 1-8-7zM24 109l2-2 3 1 4 11-2 1-10-2-1-4zM246 114l3-2 3 2-3 3-3-1zM202 116l4-2 5 5-1 2-7 8-2 6-2-1-2-3 4-5-1-7zM-209 141l5-1 2 4-2 3-5 0zM260 154l9 1 4 4-2 2-13 0-1-5zM165 164l9 8 0 6-10-1-3-2 0-4zM-174 166l3-2 5 6 3 1-1 13-5 0-3-3 3-7zM-266 171l2-2 5 1 3 6-3 1zM190 174l5 0 1 2-1 3-4 1-2-1zM-240 186l1-2 3 1 4 4-4 2zM160 189l4-1 1 3-4 5-2 1-2-3zM-216 196l5 1-3 5-4-1zM132 196l7-1 7 9-5 3-10 0-1-3zM-272 199l3-2 5 2-5 1zM-27 209l3-3 5 3 0 5-5 1zM164 214l2-2 4 2 2 5-1 2-5 0zM-60 219l5 2-1 5-8 0-1-2zM-184 221l3-2 8 5-1 6-2 2-5-2zM-100 226l14 8 4 7-2 2-5 1-7-9-8-3 0-3zM1 226l3 2 0 6 4 5-2 3-4-3zM-249 246l0-2 3 2 0 6-3-1zM-181 246l8 0 4 3 0 2-10 5-4 0-2-5zM126 246l4 3-1 3-6-3zM258 256l3-1 1 4-3 5-3 0zM-111 261l7 5-1 5-4 3-7-2-2 4-5 0 0-7zM23 264l6 1 0 4-15 7-2-7 4-4zM-17 269l3-2 3 9-7 0zM230 269l2 0 1 7-7 0zM256 274l5-1 3 3-9 0z"/>
<path fill="#fee292" d="M-40 -176l9-1 4 6-2 7-5 7-10 5-12 10-5 8-15 2-13 8-7-1-7 9-11 7-2 1-3-2-2-6 0-6 15-12 8-12 36-23zM-168 -64l4-1 2 1 7 18 10 12-1 6-7 9 21 33-1 7 2 8-3 9 10 16-2 7 6 10 3 15-3 10 6 25 0 10-2 6-10 4-5 0-4-2-16-38-11-32 0-8-8-17-7-28 0-22-4-18 0-20 7-15zM70 129l6-2 25 0 5 1 2 3-8 13-11-4-10 3-5-2-4-5-1-5z"/>
<path fill="#fdb062" d="M-37 -174l3 0 3 3-2 5-19 17-14 6-10 7-8 0-3-8 1-5 17-6 15-12 10-2zM-166 -41l2-2 3 1 10 8-3 4-7-2-2 6 4 10 18 25 1 2-4 5-1 5 2 13 3 5-2 7 8 10 1 15 7 5 2 10-4 8 4 15-2 6-8 3-5-3-10-17-24-74-1-18 7-7-6-13-2-17 1-5z"/>
<path fill="#f67b46" d="M-169 11l5 0 8 13 0 7-5 13-3-2-5-16zM-158 46l4-1 3 2 8 9-3 5-5 3-3-2zM-138 101l2-2 3 2-3 5z"/>
</g>
<use href="#shelf" fill="#fff"/>
<use href="#land" fill="#fff" stroke="#fff" stroke-width="5"/>
<line x1="0" y1="80" x2="0" y2="268" stroke="#fff" stroke-width="2"/>
<use href="#land" fill="#d6d6d6"/>
<!--grid-->
<use href="#land" fill="none" stroke="#000" stroke-width="2.2" stroke-linejoin="round"/>
<use href="#isl" fill="#d6d6d6" stroke="#000" stroke-width="2" stroke-linejoin="round"/>
<g fill="none" stroke="#808080"><circle r="69" stroke-width="1.2" stroke-opacity="0.55" stroke-dasharray="4 2.5 1 2.5"/><circle r="139" stroke-width="1.2" stroke-opacity="0.55" stroke-dasharray="4 2.5 1 2.5"/><circle r="211" stroke-width="1.2" stroke-opacity="0.55" stroke-dasharray="4 2.5 1 2.5"/><line x1="0" y1="0" x2="0" y2="-270" stroke-width="1.8" stroke-opacity="0.26"/><line x1="0" y1="0" x2="190.9" y2="-190.9" stroke-width="1.8" stroke-opacity="0.26"/><line x1="0" y1="0" x2="270" y2="0" stroke-width="1.8" stroke-opacity="0.26"/><line x1="0" y1="0" x2="190.9" y2="190.9" stroke-width="1.8" stroke-opacity="0.26"/><line x1="0" y1="0" x2="0" y2="270" stroke-width="1.8" stroke-opacity="0.26"/><line x1="0" y1="0" x2="-190.9" y2="190.9" stroke-width="1.8" stroke-opacity="0.26"/><line x1="0" y1="0" x2="-270" y2="0" stroke-width="1.8" stroke-opacity="0.26"/><line x1="0" y1="0" x2="-190.9" y2="-190.9" stroke-width="1.8" stroke-opacity="0.26"/></g>
<g fill="#8f8f8f"><text x="-18.8" y="-222.0" font-size="28" textLength="39.6" lengthAdjust="spacingAndGlyphs">0°E</text><text x="-196.1" y="-155.3" font-size="28" textLength="65.1" lengthAdjust="spacingAndGlyphs">45°W</text><text x="137.7" y="-155.3" font-size="28" textLength="52.0" lengthAdjust="spacingAndGlyphs">45°E</text><text x="-263.4" y="10.5" font-size="28" textLength="63.6" lengthAdjust="spacingAndGlyphs">90°W</text><text x="205.3" y="10.3" font-size="28" textLength="54.4" lengthAdjust="spacingAndGlyphs">90°E</text><text x="29.3" y="51.2" font-size="28" textLength="54.4" lengthAdjust="spacingAndGlyphs">80°S</text><text x="87.8" y="92.1" font-size="28" textLength="51.2" lengthAdjust="spacingAndGlyphs">70°S</text><text x="144.9" y="134.1" font-size="28" textLength="54.0" lengthAdjust="spacingAndGlyphs">60°S</text><text x="-203.1" y="173.6" font-size="28" textLength="78.4" lengthAdjust="spacingAndGlyphs">135°W</text><text x="130.2" y="173.9" font-size="28" textLength="68.0" lengthAdjust="spacingAndGlyphs">135°E</text></g>
<path d="M-249.4,-99.3 -227.8,-106.1 -226,-104 -231,-92 -235,-88 -236,-83 -240,-83 -241,-88 -244,-88 -245,-82 -249,-82 -252,-84 -256,-77 -258,-80 -254,-92 -251,-98Z" fill="#9a9a9a" stroke="#000" stroke-width="1.7" stroke-linejoin="round"/>
<ellipse cx="0" cy="1.3" rx="270.4" ry="271.3" fill="none" stroke="#000" stroke-width="4.2"/>
</g>
<g transform="translate(1493,1461.4)">
<g clip-path="url(#dom2)">
<rect x="-276" y="-276" width="552" height="552" fill="#3a4ba1"/>
<path fill="#4f84be" d="M-276 -276l552 0 0 552-552 0zM-131 -132l-2 3 4 5 4-7-4-2zM-99 -192l-8 11-6 20-8 5-8 12 8 4-2 6 9 8 3 10 7 2 0 3 3 2 25-2 4-3 3-7 3-1-2 11 2 5 2 1 15-8 5 0 7-11 3-2 15-1 8-6 10 0 6-3 1-3-7-11-3-1-10 4-7-3-10 7-8-1-5-5-12 5-18-3-3-4-5-15 3-18-1-5-4-2zM-64 -136l5-2 2 4-2 6-5 3-2-6z"/>
<path fill="#80b6da" d="M-276 -276l552 0 0 552-552 0zM-101 -197l-15 16-3 12-17 15-3 13-7 15 2 6 8 2 3 7 17 3 12 11 30-5 10 3 20-6 18-16 10-1 6-4 15-5 9-8 4-7-4-4-5 1-1-5-9-2-10 1-10-2-13 6-10-5-10-1-5 2-2-6-12-15 0-13-3-4-20-4zM41 141l-7 6-10-3-5 13-6 4 1 5 5 1 15-7 11 6 1 5 3 0 4-5-2-5 3-5 2-1 3 5 5 2 5-1 6-5-3-12-3-4-15 3zM166 -45l-10 6-1 3 5 5 3 10 8 3 4-6-2-7 1-8-3-5zM-99 105l-3 11 6 5 3-2-1-13-2-2zM-61 81l-10 3-1 2 3 8 3 1 22-2 8 5 10-4 7 5 4-3-1-5-5-3-8 0-14-4zM-1 138l-10 8-5 8 2 4 13-2 2-2 6-13-3-5z"/>
<path fill="#b2dfee" d="M-276 -276l63 0 2 3 5 2 1-5 66 0 3 3 5 0 5 5 3-8 8 0 1 6 3 0 5-6 159 0 8 5 7-5 18 0 8 3 5-3 120 0 1 5 4 2 7-4 3-3 42 0 0 68-5 2-2 2 0 3 7 5 0 38-4 2-3 5 2 5 5 4 0 107-2 1 2 2 0 280-4 6 4 4 0 18-224 0-8-4-8 4-117 0 3-5-3-4-3 4 1 5-93 0-1-2-7-3-5 5-39 0-3-2-3 2-16 0 1-2-5-3-2 1-1 4-19 0 0-59 5 1 6-4-1-3-10-5 0-57 5 3 2-3-7-5 0-92 5-1 2-2-5-8 8-10-3-2-7 2 0-150 7-7-5-8 3-5-2-5-3-1 0-40 11 1 0-2-11-6 0-59 5-2 0-3-5-1zM-251 -140l-3 4 0 3 9-3 0-3zM-246 -243l-3 4 3 4 5-6zM-229 -111l-2 2-1 8 1 3 2 1 3-2 2-7-2-5zM-221 221l-4 5 1 3 5 0 5-8-5-2zM-216 103l-3 1 0 3 5 1 5-2zM-211 -107l-4 11 1 3 4-1 4-10-3-4zM-201 -155l-4 4-1 5 6-5 1-3zM-194 -66l-1 2 4 2 8-2-6-3zM-176 -259l-1 10 3 2 8 0 3-4-2-8zM-154 -264l-4 3 4 3 2-3zM-151 -239l-5 5-5 1 10 4 4-7-2-3zM-124 -258l0 7-3 5 3 7 3-1 1-4-3-7 1-3zM-104 -209l-13 3 8 3 1 4-3 5-10 11-23 14-2 11-9 7 1 3 8 4-4 15 0 10-5 8 2 10-7 10 1 7 6 3-1 2-2 0-3-4-6 4 6 3 7 10-4 10 2 12 10 5 10 0 3-5-2-10 5-5-2-7 1-8-7-7-2-8-5-5 4-11 5-1 15 2 10 10 5 2 15 1 18-5 7 4 10-3 8 0 10-8 3 2 2 7 2 1 7-6-5-7 6-10 5 1 10-8 10-1 7-6 5-1 5-6 13-1 5-7 17-3 2-3-2-11-10-14-5 1-12-1-7 5 0 7-3 4-4-4 0-7-4-1-4 3-1 5-5 3-10 1-12-2-13 3-15-3-15-9-4-5-1-15-5-11-15 3-7-10zM-66 -250l1 9 9 12 2-1 2-6-3-8 1-6zM-46 -241l-1 2 2 5 6 1 3-6-3-2zM-6 -266l-4 5 6 2 2-2zM64 -139l-2 5 4 4 3-4-3-5zM66 -231l-2 2 1 3 6 0 0-5-2-2zM76 -84l-5 5 3 6 4-8 0-3zM86 -57l1 3 7 4 1-1-4-7zM89 -241l0 3 7 10 3 2 2-2 2-3-2-3zM109 11l-3 3 3 6 7 1 4-2-6-8zM119 -271l-5 2 0 3 12 9 3-1 2-8-2-7zM149 -229l-13 5-1 3 4 3 5-5 5 0 2-6zM159 -75l-7 9 1 7-5 15 2 13 9 17-6 8 6 9 12 6-1 2-8 5-3 5 1 5 6 6 3 8 5 2 4-13 5-8-5-10 9-5 3-7 7-5-6-9-7-6-2-15-6-10 3-20-13-9-5-1zM171 -252l-2 4 7 14 5 2-2-9 2-8-5-3zM184 -114l-4 3 6 1 1-1zM194 -39l-1 5 3 2 0-6zM199 -269l-3 5 3 4 6-6-1-5zM206 211l3 7 1-7-1-2zM219 -110l-3 4 2 2-5 5 3 2 5-9 0-3zM226 -259l0 5 16 0-1-3zM251 -219l3 6 5 2 1-5-1-4zM264 111l-4 3 1 4 3 0 1-4zM-266 231l-2 3 0 2 4 5 3-5-3-5zM-269 129l-3 2 1 6 5-1 6-5-4-3zM-271 -79l0 2 5 1 5 7 2-1 2-4-1-2zM-249 -39l-2 3 5 2 0-4zM-231 153l-2 3 2 3 6 0 3-3-7-5zM-206 -82l-2 1 0 2 4 5 3-6zM-184 6l-6 8 4 3 7-6-2-6zM-176 -8l-2 2 1 7 8 5 3-2 0-7zM-159 -21l3 6 5-1 0-6-5-1zM-141 211l-5 3 0 2 5 2 6-4zM-84 -34l-7 2-5 5-6 3 3 12 10 0 1-12 4-3 8-2zM-66 43l-2 3 7 4-1-6zM-9 -35l-1 4 1 2 6 0 3-2-4-4zM1 56l0 5 3 0 2-5-2-2zM9 -91l-2 2 4 4 3-4 0-2zM21 87l-2 3 0 3 9-2-2-3zM26 -14l-3 3 1 3 3-1zM34 -34l-2 3 2 3 7 1 3-2zM49 -79l-5 3 0 2 2 4 3 1 3-7zM66 -27l0 6 3 1 1-4-1-3zM99 -222l-1 6 3 3 3-6-3-4zM119 91l-2 3 1 2 5 0 3-2 0-4-2-1zM124 55l0 5 2 1 3-2 0-3zM139 -117l-3 3 0 3 10 7 6 0 1-2-11-10zM151 -211l-4 2-1 8 5 5 4-3 0-10 0-2zM149 263l0 4 5 2 7-2 1-3-1-2-7 3zM171 122l-1 2 1 2 4 0zM181 162l-2 2 1 2 4 2 2-2 0-2zM174 -152l0 10 5 0 1-2-1-5zM199 69l-5 6-1 4 8 2 0 4 3 1 2-2-1-3-3-2-1-7zM211 -67l-2 1 0 2 5 3 5 7 2-2 2-3-2-2zM234 -186l-4 5 4 3 3-3-1-4zM239 -169l-3 3 0 7 13 2 2-1-7-6-1-5zM256 1l0 3 3 1 2-1 0-3zM-264 48l3 15 9 1-4 7 1 3 6 2 7-2-4-19zM-249 -22l-1 3 5 8 1 10 4-10zM-201 126l-3 5 5 2 2-4-1-3zM-186 175l-2 1 2 3 5-3zM-154 34l-4 5 2 5 12 3-5-11zM-139 247l-2 2 5 7 5 2 2-2 0-9zM-96 96l-23 6-12 17 3 5-1 5 3 2 7 5 10 0 2 5-1 8 12 13 12 1 13 6 10-5 7 5 8 0 6 7 4 1 5-4 5 0 12 8 20 6 5-7 5-3 18-2 7 4 8 1 12-11 20 3 8-3 1-3 0-10 3-10-4-11-28-5-3 1 0 5-4 1-13-3-2-6-23-7-10 6-4-3 0-10-3-2-18 7-3 7 3 10-2 8-8 0-12 7-18-4-5 1-5 3-5 9-1-1 2-10-13-23-4-30zM-81 24l-7 12 2 7 4-4 5-10-2-5zM26 34l-2 2 0 5 5 5 3-7zM124 130l-2 4 7 2 1-2-1-4zM131 154l-2 7 3 3 4-1 2-4zM149 -92l-4 3 1 3 8 2 0-6zM171 198l-2 1-2 5 4 2 4-2 0-3zM181 243l-2 2-1 4 1 3 2 2 5-5zM191 107l-1 4 4 2 1-2 0-2zM211 23l0 4 6-1-3-4zM219 -20l-3 6 3 4 3-1-1-7zM229 103l-9 6-1 2 2 8-4 7 12 8 8-8-9-5-4-5 2-6 8-4 1-2zM231 36l-1 3 3 5 3 15 4-5-4-10 1-5-2-3zM241 -87l-4 3 2 5 2 0 2-5zM249 -94l-3 5 8 2 1-2-1-2zM-249 193l-2 6 5 1 7 5 8-1 2-3-5-4-10-4zM-199 247l-1 2 0 2 4 1 1-3zM-176 113l-3 3 3 9zM-174 147l-2 2 2 3 6-3zM-151 165l-3 2 0 6 4-4zM-126 235l-2 4 4 0 1-3zM-124 145l-2 1 1 3 5 0 0-3zM-59 196l-5 4-10 4-1 2 6 4 8-7 15 4 2-2 2-6-2-3-7 3zM-29 243l-2 6 2 5 0 7 3 2 2 0-1-19-1-3zM29 182l-2 9 1 3 3 0 2 0-1-10zM59 201l-2 3 2 3 2 3 3 0 1-9zM-79 72l-3 7-1 5 6 7 1 8 10 2 17-1 28 5 11-4 1-7-2-5-13-9-17-3-5-3-23 5zM229 141l-1 5 3 1 2-3-2-3zM-244 232l-2 2 1 2 4 3 1-5zM-176 190l-4 4 1 2 8-2 2-3zM-66 266l0 5 3 0 3-2-1-3zM-46 233l-1 3 3 3 6-3 0-2-3-2zM31 213l-1 6 4 1 1-6zM231 185l-2 3-1 8 3 3 2 0 2-10z"/>
<path fill="#e1f5f8" d="M-159 -276l10 0-7 5-3-1zM34 -276l12 0-2 7 7 5 0 3-15 1-1-1 4-8-4-2zM-35 -266l4-2 2 1 0 5-2 2-3-1zM77 -266l7 0-3 3-3-1zM-95 -264l4-1 5 3 3 11-2 2-6 2-3-1zM-255 -259l3 0 0 3-2 5-2 1-2-4zM268 -256l8-2 0 7-7 1-3-4zM-25 -251l4 0-3 5-3-3zM-5 -251l4-1 2 3-2 2zM29 -251l7 0 5 5-3 2-6 0zM-139 -246l3 2 0 4-3 1zM154 -244l5 0 6 3 4 10-1 2-4 2-3-3-8-9zM8 -241l6 0 2 2-5 4zM131 -239l3 0 3 5-4 0-3-2zM-145 -226l4-2 4 9-2 9-8-9zM-17 -219l3-1 2 1-4 15 5 6 6-3 6-12 10 4 5-10 3-1 8 1 4 5 5-2 8 5 10-8 5 4 12 2 11 7 9 10 10 5 7 15 18 18 5 9 0 10 4 15-1 3-10 11-13 5-10 0-10-4-14-12 0-8-4-10-9-10 1-12-7-18-11-7 7-8-5 0-4 8-6 2-13 0-5 5-15 1-10 5-22-4-8 6-10-4-10 0-10-3 2-18-5-8 3-6 8 1 7-6 20-1 5 5zM215 -219l6-1 1 4-3 2zM-250 -216l5 0 4 9 5 1 2 2 5 18-5 6-7 1-1-2 4-18-5-7-7-5zM-146 -206l7-2 3 4-5 4-5-3zM167 -189l5 0 1 5-4 1-3-3zM143 -186l1-2 4 4 6 14 0 4-11-13zM215 -184l4-1 0 1 0 5-3 4-4-1zM-207 -181l6 0 0 5-5 2-3-5zM-270 -176l4-1 4 1 0 2-7 2zM-276 -166l2-2 3 2-1 12-1 3-3 0zM-236 -166l2 0 0 5-4 0-1-3zM178 -166l4 2-1 3-2 2-3-2zM192 -159l5 0-1 7-5 0-3-2 0-2zM225 -149l4-1 2 1 0 6-6-3zM245 -149l11 7 1 3-6 7-7 2-4-1 5-8zM-180 -144l4-1 3 1-3 4-5-1zM221 -129l7 3-2 2-5 1-2-3zM270 -121l4 0 1 2-4 7-3-4zM-7 -116l4 0 1 5-2 3-5 1-2-4zM-272 -111l7 0-3 2-6 0zM-244 -109l3-2 2 2-2 4zM114 -101l6 0 2 2-2 3-4 1-4-1zM136 -101l3 2-5 4-1-4zM-133 -99l7-2 7 2 7 10-2 9-7-6-5 6-4-1zM205 -91l1-2 5 1 5 3 1 3-3 2-5 1zM-186 -86l2-1 4 3-1 5-7-2zM-4 -86l3 0 6 5-1 7-5-1zM-102 -84l6-1 12 5 25 1 6 8 0 5-7 7-9 5-22 0-7-5-2-10-3-5zM-242 -81l3-2 2 2-2 7-3-2zM85 -79l6-2 3 5-3 3-5 0-2-3zM-226 -76l5 1 2 1-1 3-4 2-4-2zM36 -74l3 2 2 6-2 1-5-4zM9 -69l5 0 1 3-6 1zM-25 -61l6 0 0 5-5-1-1-2zM238 -61l6-2 2 2 1 5-3 3-5 0zM23 -41l3 2-1 8-4 3-2-2 0-4zM-234 -39l7 0-4 5-4-2zM-144 -34l8 0 17 5 4 20 6 10-4 8 1 5 3 7 10 8 4 7-1 6-5-1-2 3 7 27-10 13-13 7-12-5 2-5-1-15-5-7 0-13-8-27-5-8 2-32-3-8-3-2zM71 -34l3-2 5 4 0 6-3-1zM233 -31l3-2 3 1 5 8 0 10-3 2zM-4 -24l6 3-3 4-6-2-1-2zM81 -11l5-1 2 3-7 4-2-1zM272 -11l4-1 0 13-4-5zM-232 -9l6 0 3 5-3 2-4-2zM57 -9l9-1 3 1 1 5-4 4-5 2-3-3zM-212 -1l3 0 4 7-4 7-2 0-4-4zM142 -1l4-1 1 3-3 2-3-2zM-88 1l5 0 7 8-5 1-8-1-2-3zM246 11l3-2 3 7zM-49 24l3-2 5 4 2 8-9-3zM-238 29l7 0 2 2-9 8 1 7-4 3-7-5zM-9 29l8-2 6 7 1 4-5 0-7-3-3-4zM55 36l1-2 4 2-1 6zM272 44l4-1 0 8-5 0-4-2 1-3zM182 51l2-1 1 4-1 3-3-1zM23 56l3 0 3 3 0 5-3 3-5-1-1-2zM-29 64l6 2-2 5-4 0-2-2zM136 64l18 0 10 4 1 3-4 13 3 10-3 20-15-1-11-7 0-22-2-8zM-276 71l0-1 2 0 2 4-4 3zM250 74l6 2 5 8-7 5-5-8zM47 91l5 0-1 5-5 0zM197 96l4-2 2 2-2 7-4-2zM-137 99l3-1 2 3-4 4-3-1zM-269 101l5 0 5 8-7 1-5-1-2-3zM69 101l2 0 1 3-5 12-13 0 0-3zM-59 104l10-1 23 6 2 2-2 26-15 10-15-4-10 1-5-3-10-15-2-15 12-6zM-233 109l4 0 5 2 2 5-2 4-2 1-8-7zM24 109l2-2 3 1 3 11-6 0-5-2 0-3zM246 114l3-2 3 2-3 3-3-1zM202 116l4-2 5 5-1 2-7 8-2 6-2-1-2-3 4-5-1-7zM-209 141l5-1 2 4-2 3-5 0zM260 154l9 1 4 4-2 2-13 0-1-5zM-117 161l8 0-1 8-4 3-5-3 0-5zM165 164l9 8 0 6-10-1-3-2 0-4zM-174 166l3-2 5 6 3 1-1 13-5 0-3-3 3-7zM-266 171l2-2 5 1 3 6-3 1zM190 174l5 0 1 2-1 3-4 1-2-1zM-78 179l5 0-1 5-5 1-1-1zM-240 186l1-2 3 1 4 4-4 2zM54 189l5-2 1 4-4 1zM160 189l4-1 1 3-4 5-2 1-2-3zM-216 196l5 1-3 5-4-1zM132 196l7-1 7 9-5 3-10 0-1-3zM-272 199l3-2 5 2-5 1zM-26 206l5 0 3 3-3 7-5-4zM164 214l2-2 4 2 2 5-1 2-5 0zM-60 219l5 2-1 5-8 0-1-2zM-184 221l3-2 8 5-1 6-2 2-5-2zM-100 226l14 8 4 7-2 2-5 1-7-9-8-3 0-3zM1 226l3 2 0 6 4 5-2 3-4-3zM-249 246l0-2 3 2 0 6-3-1zM-181 246l8 0 4 3 0 2-10 5-4 0-2-5zM126 246l4 3-1 3-6-3zM258 256l3-1 1 4-3 5-3 0zM-111 261l7 5-1 5-4 3-7-2-2 4-5 0 0-7zM23 264l6 1 0 4-15 7-2-7 4-4zM-17 269l3-2 3 9-7 0zM230 269l2 0 1 7-7 0zM256 274l5-1 3 3-9 0z"/>
<path fill="#ffffc0" d="M51 -206l5-2 10 2-2 2-8 3-5-3zM81 -189l3-2 12 3 7 12 7 7 4 10 9 10 5 23-9 11-15 4-15-8-5-5-7-17-7-8 2-22-5-3 0-2zM-83 -71l4-2 8 1 3 6-3 4-8 3-12 0-2-2 1-5zM-142 -29l6-1 13 6 1 13 6 12-1 10 3 20 5 10 7 28-2 7-7 7-5 0-8-5-6-22-3-20-10-27zM148 81l5 3 6 10-1 10-4 3-9-1-5-5 1-12zM-68 109l17-3 15 6 2 2-4 7 7 3-1 10-9 8-13-3-15 0-4-5-1-8 0-10z"/>
<path fill="#fee292" d="M86 -141l3-2 4 7 3 0 5-4 8 0 5-4 0 5-8 10 5 2 3 3-2 5-6 1-16-6-5-10zM-137 -24l6 0 3 3-2 7 1 13 8 6-1 16 3 15 7 8 5 15 0 12-4 6-11-3-6-20-1-20-9-23 2-10-2-20zM-63 114l7-2 5 1 2 4 0 4-10 6-7-3-2-3z"/>
<path fill="#fdb062" d="M-125 44l4-2 3 2 8 12-1 8-5 4-3 0-6-12z"/>
<path fill="#f67b46" d="M-119 54l3 0 2 5-5 0z"/>
</g>
<use href="#shelf" fill="#fff"/>
<path fill="#fff" d="M-158,-106 -150,-104 -140,-92 -128,-80 -112,-70 -100,-62 -118,-63 -140,-66 -150,-78 -155,-92Z"/>
<use href="#land" fill="#fff" stroke="#fff" stroke-width="5"/>
<line x1="0" y1="80" x2="0" y2="268" stroke="#fff" stroke-width="2"/>
<use href="#land" fill="#d6d6d6"/>
<!--grid-->
<use href="#land" fill="none" stroke="#000" stroke-width="2.2" stroke-linejoin="round"/>
<use href="#isl" fill="#d6d6d6" stroke="#000" stroke-width="2" stroke-linejoin="round"/>
<g fill="none" stroke="#808080"><circle r="69" stroke-width="1.2" stroke-opacity="0.55" stroke-dasharray="4 2.5 1 2.5"/><circle r="139" stroke-width="1.2" stroke-opacity="0.55" stroke-dasharray="4 2.5 1 2.5"/><circle r="211" stroke-width="1.2" stroke-opacity="0.55" stroke-dasharray="4 2.5 1 2.5"/><line x1="0" y1="0" x2="0" y2="-270" stroke-width="1.8" stroke-opacity="0.26"/><line x1="0" y1="0" x2="190.9" y2="-190.9" stroke-width="1.8" stroke-opacity="0.26"/><line x1="0" y1="0" x2="270" y2="0" stroke-width="1.8" stroke-opacity="0.26"/><line x1="0" y1="0" x2="190.9" y2="190.9" stroke-width="1.8" stroke-opacity="0.26"/><line x1="0" y1="0" x2="0" y2="270" stroke-width="1.8" stroke-opacity="0.26"/><line x1="0" y1="0" x2="-190.9" y2="190.9" stroke-width="1.8" stroke-opacity="0.26"/><line x1="0" y1="0" x2="-270" y2="0" stroke-width="1.8" stroke-opacity="0.26"/><line x1="0" y1="0" x2="-190.9" y2="-190.9" stroke-width="1.8" stroke-opacity="0.26"/></g>
<g fill="#8f8f8f"><text x="-18.8" y="-222.0" font-size="28" textLength="39.6" lengthAdjust="spacingAndGlyphs">0°E</text><text x="-196.1" y="-155.3" font-size="28" textLength="65.1" lengthAdjust="spacingAndGlyphs">45°W</text><text x="137.7" y="-155.3" font-size="28" textLength="52.0" lengthAdjust="spacingAndGlyphs">45°E</text><text x="-263.4" y="10.5" font-size="28" textLength="63.6" lengthAdjust="spacingAndGlyphs">90°W</text><text x="205.3" y="10.3" font-size="28" textLength="54.4" lengthAdjust="spacingAndGlyphs">90°E</text><text x="29.3" y="51.2" font-size="28" textLength="54.4" lengthAdjust="spacingAndGlyphs">80°S</text><text x="87.8" y="92.1" font-size="28" textLength="51.2" lengthAdjust="spacingAndGlyphs">70°S</text><text x="144.9" y="134.1" font-size="28" textLength="54.0" lengthAdjust="spacingAndGlyphs">60°S</text><text x="-203.1" y="173.6" font-size="28" textLength="78.4" lengthAdjust="spacingAndGlyphs">135°W</text><text x="130.2" y="173.9" font-size="28" textLength="68.0" lengthAdjust="spacingAndGlyphs">135°E</text></g>
<path d="M-249.4,-99.3 -227.8,-106.1 -226,-104 -231,-92 -235,-88 -236,-83 -240,-83 -241,-88 -244,-88 -245,-82 -249,-82 -252,-84 -256,-77 -258,-80 -254,-92 -251,-98Z" fill="#9a9a9a" stroke="#000" stroke-width="1.7" stroke-linejoin="round"/>
<ellipse cx="0" cy="1.3" rx="270.4" ry="271.3" fill="none" stroke="#000" stroke-width="4.2"/>
</g>
<g transform="translate(2047.7,1461.4)">
<g clip-path="url(#dom3)">
<rect x="-276" y="-276" width="552" height="552" fill="#3a4ba1"/>
<path fill="#4f84be" d="M-276 -276l552 0 0 552-552 0zM-84 -176l-7 10-5 3-6-1-4 8-13 2-4 8 4 1 3 2 2 11 8 1 7 8 13 0 10 5 10-6 1-2 0-8 4-4 4 4-2 6-5 4 3 7 2 1 10-2 5 2 8-10 11-3 6-6 5-14-5-11-20-4-12 1-8-5-17-1zM16 128l-2 3 1 5 6 4 3-1 3-8-6-3zM44 143l-3 1-7 9-8-4-3 5 1 4 5 1 5-1 10 11 5 3 20-11 1-10-4-5-15 0zM159 -59l-2 5 6 5 3 8 5 0-2-15z"/>
<path fill="#80b6da" d="M-276 -276l552 0 0 552-552 0zM-89 -189l-23 10-7 10-5 4-7 3-8-2-2 3-5 10 7 7 3 8-1 7 6 6 2 2 10-5 8 6 40 7 7 8 13-1 10 3 10-7 0-6 5-5 10 0 5-6 15-7 1-2-5-8 4-7 10-1 1-2-3-20-11-6-7 0-8-3-15-1-7 4-8-5-15-2-3 1-4 7-3 0-9-10zM141 -90l-2 1-1 8 6 4 2-9-1-3zM159 -72l-7 6 1 15 5 5 1 7 2 3 13 2 2 3-6 7 0 3 9 4 3-7-1-10-5-12-1-13-6-10-5-3zM-91 113l-4 3-1 5 5 12 5 3 7-2 7-8 1-10-5-3zM14 125l-6 14 7 10 0 15 11 6 8-2 7 7 5 2 15-7 25-4 7-12 13-10-2-3-5 2-10-3-13 8-3-7-4-2-15 0-14-5-4-5-15-4zM171 35l-2 4 2 2 3 0 0-5z"/>
<path fill="#b2dfee" d="M-276 -276l63 0 2 3 5 2 1-5 66 0 3 3 5 0 5 5 3-8 8 0 1 6 3 0 5-6 159 0 8 5 7-5 18 0 8 3 5-3 120 0 1 5 4 2 7-4 3-3 42 0 0 68-5 2-2 2 0 3 7 5 0 38-4 2-3 5 2 5 5 4 0 107-2 1 2 2 0 280-4 6 4 4 0 18-224 0-8-4-8 4-117 0 3-5-3-4-3 4 1 5-93 0-1-2-7-3-5 5-39 0-3-2-3 2-16 0 1-2-5-3-2 1-1 4-19 0 0-59 5 1 6-4-1-3-10-5 0-57 5 3 2-3-7-5 0-92 5-1 2-2-5-8 8-10-3-2-7 2 0-150 7-7-5-8 3-5-2-5-3-1 0-40 11 1 0-2-11-6 0-59 5-2 0-3-5-1zM-251 -140l-3 4 0 3 9-3 0-3zM-246 -243l-3 4 3 4 5-6zM-229 -111l-2 2-1 8 1 3 2 1 3-2 2-7-2-5zM-221 221l-4 5 1 3 5 0 5-8-5-2zM-216 103l-3 1 0 3 5 1 5-2zM-211 -107l-4 11 1 3 4-1 4-10-3-4zM-201 -155l-4 4-1 5 6-5 1-3zM-194 -66l-1 2 4 2 8-2-6-3zM-176 -259l-1 10 3 2 8 0 3-4-2-8zM-154 -264l-4 3 4 3 2-3zM-151 -239l-5 5-5 1 10 4 4-7-2-3zM-124 -258l0 7-3 5 3 7 3-1 1-4-3-7 1-3zM-104 -209l-13 3 8 1 3 3 4 8-2 5-25 9-15 10-5 10-7 6 0 10-4 5 0 3 9 4 1 8 6 9 15 1 8-4 17 3 30 6 10 8 15 8 5 0 8-4 5 4 2 0 8-6 0-10 15-13 10-2 10-10 3-7 4-2 10 1 5-12 0-7 7-5-6-13-8-6-10 5-15-11-10 5-15-2-8-3-17 0-5 0-8-8-10 5-12-2-10 3-6-6 2-5-1-4zM-66 -250l1 9 9 12 2-1 2-6-3-8 1-6zM-46 -241l-1 2 2 5 6 1 3-6-3-2zM-6 -266l-4 5 6 2 2-2zM4 -222l-3 1 2 2 8 9 0-8zM49 -194l-2 3 2 2 5-5zM59 -182l-2 1 2 3 5-3zM66 -231l-2 2 1 3 6 0 0-5-2-2zM76 -84l-5 5 3 6 4-8 0-3zM86 -57l1 3 7 4 1-1-4-7zM89 -241l0 3 7 10 3 2 2-2 2-3-2-3zM109 -181l0 5 5 2 2-1 0-5zM119 -271l-5 2 0 3 12 9 3-1 2-8-2-7zM149 -229l-13 5-1 3 4 3 5-5 5 0 2-6zM171 -252l-2 4 7 14 5 2-2-9 2-8-5-3zM184 -114l-4 3 6 1 1-1zM199 -269l-3 5 3 4 6-6-1-5zM206 211l3 7 1-7-1-2zM219 -110l-3 4 2 2-5 5 3 2 5-9 0-3zM226 -259l0 5 16 0-1-3zM251 -219l3 6 5 2 1-5-1-4zM264 111l-4 3 1 4 3 0 1-4zM-266 231l-2 3 0 2 4 5 3-5-3-5zM-269 129l-3 2 1 6 5-1 6-5-4-3zM-271 -79l0 2 5 1 5 7 2-1 2-4-1-2zM-249 -39l-2 3 5 2 0-4zM-231 153l-2 3 2 3 6 0 3-3-7-5zM-206 -82l-2 1 0 2 4 5 3-6zM-184 6l-6 8 4 3 7-6-2-6zM-176 -8l-2 2 1 7 8 5 3-2 0-7zM-156 -94l-2 3 1 2 7 0-1-5zM-141 -52l-4 3-1 5 2 5 5 5 1 5-6 4-12 1-3 5 5 5 5 1 13 14 10 0 3-2 3-10-1-5-5-5 3-10-6-17zM-104 81l-10 10-2 8 12 10-1 20 11 10 4 7 0 5-7 5 3 4 13-3 7-9 3-12 2-2 8 1 7 5 13-7 7 11-1 5-6 9-15-1-2 2 1 2 3 3 13 0 5 5 10-1 7 2 5 9 11 0 2 5 7 2 1-7-6-3-4-7 5-10-2-10 2-3 4 2 1 13 9 10 5 3 13 2 12 5 15-5 18-2 12-5 5-8 13-7 4-5-1-10-6-3-15-4-10 3-7 0-23-7-7-5-13 1-15-4-5 3-12 14-5 1-3-3-7-2-5-7-10-1-4-6-4-3-25-3-12-8-13 1-3-10-7-3-2-12zM-84 -34l-7 2-5 5-6 3 3 12 10 0 1-12 4-3 8-2zM-66 43l-2 3 7 4-1-6zM-9 -35l-1 4 1 2 6 0 3-2-4-4zM1 56l0 5 3 0 2-5-2-2zM9 -91l-2 2 4 4 3-4 0-2zM21 87l-2 3 0 3 9-2-2-3zM26 -14l-3 3 1 3 3-1zM34 -34l-2 3 2 3 7 1 3-2zM-6 -216l-10 10 0 5 5 4 8-7 0-10zM49 -79l-5 3 0 2 2 4 3 1 3-7zM66 -27l0 6 3 1 1-4-1-3zM99 -222l-1 6 3 3 3-6-3-4zM136 -116l-7 5-10-5-12 2-4 8 1 5 2 2 15 0 0 3-7 12 12 1 8 8 4 9 9 7 4 25 8 2 3 3 1 8 6 7 1 8 11 11 12 4 8-13-1-12 3-8-4-5-2-10-13-7-3-5 0-13-2-4-20-17-4-9-7-5 6-5 0-2-13-11zM151 -211l-4 2-1 8 5 5 4-3 0-10 0-2zM174 -152l0 10 5 0 1-2-1-5zM211 -67l-2 1 0 2 5 3 5 7 2-2 2-3-2-2zM234 -186l-4 5 4 3 3-3-1-4zM239 -169l-3 3 0 7 13 2 2-1-7-6-1-5zM256 1l0 3 3 1 2-1 0-3zM-264 48l3 15 9 1-4 7 1 3 6 2 7-2-4-19zM-249 -22l-1 3 5 8 1 10 4-10zM-201 126l-3 5 5 2 2-4-1-3zM-186 175l-2 1 2 3 5-3zM-156 36l-2 3 2 4 3-2-1-4zM-151 165l-3 2 0 6 4-4zM-141 211l-5 3 0 2 5 2 6-4zM-126 235l-2 4 4 0 1-3zM-59 196l-5 4-10 4-1 2 6 4 8-7 15 4 2-2 2-6-2-3-7 3zM-29 243l-2 6 2 5 0 7 3 2 2 0-1-19-1-3zM29 183l-2 8 1 3 3 0 2 0-1-8zM59 201l-2 3 2 3 2 3 3 0 1-9zM-81 24l-7 12 2 7 4-4 5-10-2-5zM26 34l-2 2 0 5 5 5 3-7zM109 11l-3 3 3 6 7 1 4-2-6-8zM124 55l0 5 2 1 3-2 0-3zM164 19l-9 2-1 3 6 12-3 8 3 5-3 5-1 5 6 12-11 0-4 3-3 5 5 5-3 7 3 7 7-4 2 2 0 3-2 4-2 0-5-4-13 9-5 13 3 6 17-5 10-11 8 5 2-1 3-6 0-8 13-7-8-4-3-4 0-2 5-5 8-3 1 3 11 2 1 5 4-2-7-16-3 0-7 8-7-5 2-4 5-3-1-3-7-2 0-9 3-4 9 3 0-8-9-7-4-10-9-6zM211 23l0 4 6-1-3-4zM219 -20l-3 6 3 4 3-1-1-7zM229 103l-9 6-1 2 2 8-4 7 12 8 8-8-9-5-4-5 2-6 8-4 1-2zM231 36l-1 3 3 5 3 15 4-5-4-10 1-5-2-3zM241 -87l-4 3 2 5 2 0 2-5zM249 -94l-3 5 8 2 1-2-1-2zM-249 193l-2 6 5 1 7 5 8-1 2-3-5-4-10-4zM-199 247l-1 2 0 2 4 1 1-3zM-176 113l-3 3 3 9zM-174 147l-2 2 2 3 6-3zM-139 247l-2 2 5 7 5 2 2-2 0-9zM-66 266l0 5 3 0 3-2-1-3zM-46 233l-1 3 3 3 6-3 0-2-3-2zM31 213l-1 6 4 1 1-6zM119 91l-2 3 1 2 3 1 5-3 1-3-3-2zM149 263l0 4 5 2 7-2 1-3-1-2-7 3zM171 122l-2 2 5 3 1-1zM181 162l-2 2 1 2 4 2 2-2 0-2zM191 107l-1 4 4 2 1-2 0-2zM229 141l-1 5 3 1 2-3-2-3zM-244 232l-2 2 1 2 4 3 1-5zM-176 190l-4 4 1 2 8-2 2-3zM126 127l-4 7 7 2 2-2 1-5zM171 198l-2 1-2 5 4 2 4-2 0-3zM181 243l-2 2-1 4 1 3 2 2 5-5zM231 185l-2 3-1 8 3 3 2 0 2-10zM131 154l-2 7 3 3 4-1 2-4zM135 -101l4-2 2 4-7 3zM-25 139l4-1 2 5-5 0z"/>
<path fill="#e1f5f8" d="M-159 -276l10 0-7 5-3-1zM34 -276l12 0-2 7 7 5 0 3-15 1-1-1 4-8-4-2zM-35 -266l4-2 2 1 0 5-2 2-3-1zM77 -266l7 0-3 3-3-1zM-95 -264l4-1 5 3 3 11-2 2-6 2-3-1zM-255 -259l3 0 0 3-2 5-2 1-2-4zM268 -256l8-2 0 7-7 1-3-4zM-25 -251l4 0-3 5-3-3zM-5 -251l4-1 2 3-2 2zM29 -251l7 0 5 5-3 2-6 0zM-139 -246l3 2 0 4-3 1zM154 -244l5 0 6 3 4 10-1 2-4 2-3-3-8-9zM8 -241l6 0 2 2-5 4zM131 -239l3 0 3 5-4 0-3-2zM-145 -226l4-2 4 9-2 9-8-9zM215 -219l6-1 1 4-3 2zM-250 -216l5 0 4 9 5 1 2 2 5 18-5 6-7 1-1-2 4-18-5-7-7-5zM54 -211l12-1 3 1 1 5-9 4-7 0-5-4zM-146 -206l7-2 3 4-5 4-5-3zM167 -189l5 0 1 5-4 1-3-3zM83 -186l3-2 1 2-3 10 4 5-3 7 12 8-2 15 4 12-4 5-11 0-6 3-14-10-13-3-4-7 3-10-3-10 2-9 2-3 20 4 8-2 4-5zM143 -186l1-2 4 4 6 14 0 4-11-13zM215 -184l4-1 0 1 0 5-3 4-4-1zM-207 -181l6 0 0 5-5 2-3-5zM-270 -176l4-1 4 1 0 2-7 2zM-276 -166l2-2 3 2-1 12-1 3-3 0zM-236 -166l2 0 0 5-4 0-1-3zM178 -166l4 2-1 3-2 2-3-2zM192 -159l5 0-1 7-5 0-3-2 0-2zM225 -149l4-1 2 1 0 6-6-3zM245 -149l11 7 1 3-6 7-7 2-4-1 5-8zM-180 -144l4-1 3 1-3 4-5-1zM221 -129l7 3-2 2-5 1-2-3zM270 -121l4 0 1 2-4 7-3-4zM-8 -114l4-2 2 2-2 5-2 2-4-2zM-272 -111l7 0-3 2-6 0zM-125 -111l16-2 33 7 24 17-2 20-5 10-10 5-12 1-10 3-8-4-15-4-2-4-8-4-4-10-6-5-3-8-6-5 5-12 4-4zM-244 -109l3-2 2 2-2 4zM-164 -104l3-2 3 2-1 3-5 1zM205 -91l1-2 5 1 5 3 1 3-3 2-5 1zM-186 -86l2-1 4 3-1 5-7-2zM-4 -86l3 0 6 5-1 7-5-1zM-242 -81l3-2 2 2-2 7-3-2zM85 -79l6-2 3 5-3 3-5 0-2-3zM-226 -76l5 1 2 1-1 3-4 2-4-2zM36 -74l3 2 2 6-2 1-5-4zM9 -69l5 0 1 3-6 1zM-25 -61l6 0 0 5-5-1-1-2zM238 -61l6-2 2 2 1 5-3 3-5 0zM-164 -41l3 0 1 2-1 2-3 0zM23 -41l3 2-1 8-4 3-2-2 0-4zM-234 -39l7 0-4 5-4-2zM71 -34l3-2 5 4 0 6-3-1zM233 -31l3-2 3 1 5 8 0 10-3 2zM-4 -24l6 3-3 4-6-2-1-2zM81 -11l5-1 2 3-7 4-2-1zM272 -11l4-1 0 13-4-5zM-232 -9l6 0 3 5-3 2-4-2zM57 -9l9-1 3 1 1 5-4 4-5 2-3-3zM-212 -1l3 0 4 7-4 7-2 0-4-4zM142 -1l4-1 2 3-4 2-3-2zM-88 1l5 0 7 8-5 1-8-1-2-3zM-144 9l16 2-2 8 7 10 2 8 15 19 6 13-6 3-8 11-7 6-10-1-2-2-8-20-6-10 1-10-4-20 1-5 9-5zM160 9l4-3 6 3-1 2-5 2-4-2zM246 11l3-2 3 7zM-49 24l3-2 5 4 2 8-9-3zM-238 29l7 0 2 2-9 8 1 7-4 3-7-5zM-105 29l1-2 3 0 4 4 2 5-1 6-6-3zM-9 29l8-2 6 7 1 4-5 0-7-3-3-4zM55 36l1-2 4 2-1 6zM272 44l4-1 0 8-5 0-4-2 1-3zM23 56l3 0 3 3 0 5-3 3-5-1-1-2zM-29 64l6 2-2 5-4 0-2-2zM-276 71l0-1 2 0 2 4-4 3zM-70 71l4 0 1 3-4 5-3-3zM250 74l6 2 5 8-7 5-5-8zM-8 89l2-1 1 3 2 13-4 10-4 6-15 0-9-9 1-17 5-4 15 1zM47 91l5 0-1 5-5 0zM197 96l4-2 2 2-2 7-4-2zM-137 99l3-2 3 4-5 6-3-3zM-269 101l5 0 5 8-7 1-5-1-2-3zM69 101l2 0 1 3-5 12-13 0 0-3zM-233 109l4 0 5 2 2 5-2 4-2 1-8-7zM24 109l2-2 3 1 2 9-2 1-8-2 0-2zM246 114l3-2 3 2-3 3-3-1zM202 116l4-2 5 5-1 2-7 8-2 6-2-1-2-3 4-5-1-7zM-111 136l4 5-4 4-4-4zM-209 141l5-1 2 4-2 3-5 0zM-47 146l3-2 4 2-1 3-5 1-2-1zM260 154l9 1 4 4-2 2-13 0-1-5zM-117 161l6-2 3 2-2 8-4 3-5-3 0-5zM165 164l9 8 0 6-10-1-3-2 0-4zM-174 166l3-2 5 6 3 1-1 13-5 0-3-3 3-7zM-266 171l2-2 5 1 3 6-3 1zM-61 171l3 0 2 3 0 1-5 0zM190 174l5 0 1 2-1 3-4 1-2-1zM-78 179l4-2 0 7-5 1-1-1zM-240 186l1-2 3 1 4 4-4 2zM54 189l5-2 1 4-4 1zM160 189l4-1 1 3-4 5-2 1-2-3zM-216 196l5 1-3 5-4-1zM132 196l7-1 7 9-5 3-10 0-1-3zM-272 199l3-2 5 2-5 1zM-26 206l5 0 3 3-3 7-5-4zM164 214l2-2 4 2 2 5-1 2-5 0zM-60 219l5 2-1 5-8 0-1-2zM-184 221l3-2 8 5-1 6-2 2-5-2zM-100 226l14 8 4 7-2 2-5 1-7-9-8-3 0-3zM1 226l3 2 0 6 4 5-2 3-4-3zM-249 246l0-2 3 2 0 6-3-1zM-181 246l8 0 4 3 0 2-10 5-4 0-2-5zM126 246l4 3-1 3-6-3zM258 256l3-1 1 4-3 5-3 0zM-111 261l7 5-1 5-4 3-7-2-2 4-5 0 0-7zM23 264l6 1 0 4-15 7-2-7 4-4zM-17 269l3-2 3 9-7 0zM230 269l2 0 1 7-7 0zM256 274l5-1 3 3-9 0z"/>
<path fill="#ffffc0" d="M52 -166l4-2 10 4 8-1 5 2 6 7 5 10 1 16-17-2-18-11 0-8-4-10zM-119 -109l8 0 25 3 12 5 14 15 1 12-8 10-22 9-5-1-10-7-15-6-15-30 3-6zM-141 24l5-1 5 3 17 30 0 18-7 7-5-1-3-2-4-9-9-13-3-27zM-28 96l4-1 13 4 1 7-1 6-10 4-6-2-3-5z"/>
<path fill="#fee292" d="M71 -156l5-2 5 4-2 8-5 4-8-2-3-5 1-5zM-117 -104l6 0 7 3 18-1 12 6 5 7 0 18-14 10-11 2-7-10-13-8-2-11-8-8 0-3zM-139 31l3 0 10 10 7 13 2 17-4 6-5-2-3-9-9-10-3-17z"/>
<path fill="#fdb062" d="M-129 49l3 0 2 5-2 3-5-3z"/>
</g>
<use href="#shelf" fill="#fff"/>
<path fill="#fff" d="M-158,-106 -150,-104 -140,-92 -128,-80 -112,-70 -100,-62 -118,-63 -140,-66 -150,-78 -155,-92Z"/>
<path fill="#fff" d="M-14,-146 4,-146 8,-131 -14,-131Z"/>
<use href="#land" fill="#fff" stroke="#fff" stroke-width="5"/>
<line x1="0" y1="80" x2="0" y2="268" stroke="#fff" stroke-width="2"/>
<use href="#land" fill="#d6d6d6"/>
<!--grid-->
<use href="#land" fill="none" stroke="#000" stroke-width="2.2" stroke-linejoin="round"/>
<use href="#isl" fill="#d6d6d6" stroke="#000" stroke-width="2" stroke-linejoin="round"/>
<g fill="none" stroke="#808080"><circle r="69" stroke-width="1.2" stroke-opacity="0.55" stroke-dasharray="4 2.5 1 2.5"/><circle r="139" stroke-width="1.2" stroke-opacity="0.55" stroke-dasharray="4 2.5 1 2.5"/><circle r="211" stroke-width="1.2" stroke-opacity="0.55" stroke-dasharray="4 2.5 1 2.5"/><line x1="0" y1="0" x2="0" y2="-270" stroke-width="1.8" stroke-opacity="0.26"/><line x1="0" y1="0" x2="190.9" y2="-190.9" stroke-width="1.8" stroke-opacity="0.26"/><line x1="0" y1="0" x2="270" y2="0" stroke-width="1.8" stroke-opacity="0.26"/><line x1="0" y1="0" x2="190.9" y2="190.9" stroke-width="1.8" stroke-opacity="0.26"/><line x1="0" y1="0" x2="0" y2="270" stroke-width="1.8" stroke-opacity="0.26"/><line x1="0" y1="0" x2="-190.9" y2="190.9" stroke-width="1.8" stroke-opacity="0.26"/><line x1="0" y1="0" x2="-270" y2="0" stroke-width="1.8" stroke-opacity="0.26"/><line x1="0" y1="0" x2="-190.9" y2="-190.9" stroke-width="1.8" stroke-opacity="0.26"/></g>
<g fill="#8f8f8f"><text x="-18.8" y="-222.0" font-size="28" textLength="39.6" lengthAdjust="spacingAndGlyphs">0°E</text><text x="-196.1" y="-155.3" font-size="28" textLength="65.1" lengthAdjust="spacingAndGlyphs">45°W</text><text x="137.7" y="-155.3" font-size="28" textLength="52.0" lengthAdjust="spacingAndGlyphs">45°E</text><text x="-263.4" y="10.5" font-size="28" textLength="63.6" lengthAdjust="spacingAndGlyphs">90°W</text><text x="205.3" y="10.3" font-size="28" textLength="54.4" lengthAdjust="spacingAndGlyphs">90°E</text><text x="29.3" y="51.2" font-size="28" textLength="54.4" lengthAdjust="spacingAndGlyphs">80°S</text><text x="87.8" y="92.1" font-size="28" textLength="51.2" lengthAdjust="spacingAndGlyphs">70°S</text><text x="144.9" y="134.1" font-size="28" textLength="54.0" lengthAdjust="spacingAndGlyphs">60°S</text><text x="-203.1" y="173.6" font-size="28" textLength="78.4" lengthAdjust="spacingAndGlyphs">135°W</text><text x="130.2" y="173.9" font-size="28" textLength="68.0" lengthAdjust="spacingAndGlyphs">135°E</text></g>
<path d="M-249.4,-99.3 -227.8,-106.1 -226,-104 -231,-92 -235,-88 -236,-83 -240,-83 -241,-88 -244,-88 -245,-82 -249,-82 -252,-84 -256,-77 -258,-80 -254,-92 -251,-98Z" fill="#9a9a9a" stroke="#000" stroke-width="1.7" stroke-linejoin="round"/>
<ellipse cx="0" cy="1.3" rx="270.4" ry="271.3" fill="none" stroke="#000" stroke-width="4.2"/>
</g>
<g transform="translate(382.4,2018.2)">
<g clip-path="url(#dom0)">
<rect x="-276" y="-276" width="552" height="552" fill="#3a4ba1"/>
<path fill="#4f84be" d="M-276 -276l552 0 0 552-552 0zM-146 21l-6 5 2 8 4 1 5-4 1-5-2-5zM-136 -2l-1 6 3 2 3-6zM1 141l-1 3 1 1 5-1-1-3zM46 -156l-8 2-1 3 12 4 10-2 0-2-3-4-5-2zM99 -146l-4 2 1 4 3 0 3-4 0-2z"/>
<path fill="#80b6da" d="M-276 -276l552 0 0 552-552 0zM-159 -22l1 6 6 7-4 4-9 1-3 3 2 3 6 2-2 10 5 12 2 13 9 6 13-9 0-22 7-10 1-8-4-6-12-3-5 1-2-2-1-7-2-2-5 0zM1 135l-5 4-1 10 4 3 10 1 3-4 0-8-6-5zM49 -194l-8 5-15 2-7 5-8 0-3 8 1 7 2 3 8-3 2 1 3 10 12 10 25 2 5-6 10-4 3 10 10 3 7 6 10 3 10-4-10-18-10-4-5-7-10-5-12-14-12-5-3-5zM109 -180l0 4 2 2 3 0 2-2-2-4zM151 -107l-1 1 9 12 7 4 6-1 2-8-3-5z"/>
<path fill="#b2dfee" d="M-276 -276l552 0 0 552-552 0zM-169 -35l-5 7-1 27 9 20 6 7 2 18 9 7 13-1 8-11 2-10 5-8-3-34-7-8 0-9-3-1-7 4-13-4-5-4zM-96 -124l-5 8-6 5-1 17 4 13 5 1 5 9 10 2 13-5 4-10-9-10 1-5-3-7-1-10-10 0zM-16 171l-13 5-7-4-3 3 1 4 17 11 10-4 17 0 1-7-13-7zM-4 133l-5 6 0 12 8 6 12 0 6-8-2-10-9-6zM34 -201l-8 4-7 1-16 7-2 5 2 13 6 16 25 12 30 4 10-2 15 4 15 8 22 1 8 5 1 9 16 15 3 8 17 8 5 0 8-5 1-3-3-10 2-8-1-5-12-7-5-18-7-7-5-10-8-3-2-7-14-3-4-17-14 0-16-13-7-3-28 4-22-5zM29 184l-2 5 2 3 2-1 0-5zM44 174l0 3 5-1-1-2zM131 154l-2 7 5 2 3-4zM96 -191l3 2-3 7-7-5-3 5-2 0 0-7 2-1 5 1z"/>
<path fill="#e1f5f8" d="M-276 -276l63 0 2 3 5 2 1-5 66 0 3 3 5 0 5 5 3-8 8 0 1 6 3 0 5-6 159 0 8 5 7-5 18 0 8 3 5-3 120 0 1 5 4 2 7-4 3-3 42 0 0 68-5 2-2 2 0 3 7 5 0 38-4 2-3 5 2 5 5 4 0 107-2 1 2 2 0 280-4 6 4 4 0 18-224 0-8-4-8 4-117 0 3-5-3-4-3 4 1 5-93 0-1-2-7-3-5 5-39 0-3-2-3 2-16 0 1-2-5-3-2 1-1 4-19 0 0-59 5 1 6-4-1-3-10-5 0-57 5 3 2-3-7-5 0-92 5-1 2-2-5-8 8-10-3-2-7 2 0-150 7-7-5-8 3-5-2-5-3-1 0-40 11 1 0-2-11-6 0-59 5-2 0-3-5-1zM-251 -140l-3 4 0 3 9-3 0-3zM-246 -243l-3 4 3 4 5-6zM-229 -111l-2 2-1 8 1 3 2 1 3-2 2-7-2-5zM-221 221l-4 5 1 3 5 0 5-8-5-2zM-216 103l-3 1 0 3 5 1 5-2zM-211 -107l-4 11 1 3 4-1 4-10-3-4zM-201 -155l-4 4-1 5 6-5 1-3zM-194 -66l0 3 3 1 4-2-3-2zM-176 -259l-1 10 3 2 8 0 3-4-2-8zM-154 -264l-4 3 4 3 2-3zM-151 -239l-5 5-5 1 10 4 4-7-2-3zM-124 -258l0 7-3 5 3 7 3-1 1-4-3-7 1-3zM-111 -144l-8 13 4 7-3 13 5 10 0 17 10 18 19 2 10 5 18-5 10-9 9-1 0-2-5-5 1-5 5-5 10-3 4-5-15-17-2-18-15-6-4 11-6 4-2-6 1-10-1-2-13 4-12-6-10 4-8-3zM-46 -149l-2 5 2 1 4-3-2-4zM-6 -266l-3 1-1 4 6 2 2-2-1-3zM89 -241l0 3 9 12-7 7-9 0-13-14-8 3-10-2-12 10-9 3-4 16-25 10-5 9 6 20-1 8 13 10 25 13 15-4 12 8 10-6 13 2 15 7 10 1 27 22 6 7 1 7 3 2 8 2 12 7 15-1 4-7-2-15 2-10-12-15-2-8 9-10-4-10-7-5-2-10-11-16-10-1-1 2 4 16-3-1-8-10-1-10-3-6-5-6-10-1-15-13-9-11 3-5-2-3zM119 -271l-5 2 0 3 12 9 3-1 2-8-2-7zM149 -229l-13 5-1 3 4 3 5-5 5 0 2-6zM171 -252l-2 4 7 14 5 2-2-9 2-8-5-3zM191 107l-1 4 4 2 1-2 0-2zM199 -269l-3 5 3 4 6-6-1-5zM206 211l3 7 1-7-1-2zM219 -110l-3 4 2 2-5 5 3 2 5-9 0-3zM226 -259l0 5 16 0-1-3zM251 -219l3 6 5 2 1-5-1-4zM264 111l-4 3 1 4 3 0 1-4zM-266 231l-2 3 0 2 4 5 3-5-3-5zM-269 129l-3 2 1 6 5-1 6-5-4-3zM-271 -79l0 2 5 1 5 7 2-1 2-4-1-2zM-249 -39l-2 3 5 2 0-4zM-231 153l-2 3 2 3 6 0 3-3-7-5zM-206 -82l-2 1 0 2 4 5 3-6zM-159 -44l-12 2-10 6 1 37-10 13 6 2 8-8 12 21-2 22-8-3-4 3 6 5 2 10 7 3 0 2-3 4-1 4 7 10 1 11 13 18 15 6 2-1 1-7-11-12 2-5 5-5-2-8 4-20-1-3-6-4 13-18 10-6-2-16 3-8-5-7-1-18-6-10 0-7-8-13-3-1zM-84 -34l-7 2-5 5-6 3 3 12 10 0 1-12 4-3 8-2zM-66 43l-2 3 7 4-1-6zM-9 -35l-1 4 1 2 6 0 3-2-4-4zM6 -139l-7 2-3 6 5 1 5-1 3-5zM21 87l-2 3 0 3 9-2-2-3zM26 -14l-3 3 1 3 3-1zM34 -34l-2 3 2 3 7 1 3-2zM49 -79l-5 3 0 2 2 4 3 1 3-7zM66 -27l0 6 3 1 1-4-1-3zM76 -84l-5 5 3 6 4-8 0-3zM86 -57l1 3 7 4 1-1-4-7zM109 11l-3 3 3 6 7 1 4-2-6-8zM124 55l0 5 2 1 3-2 0-3zM149 73l-4 6 9 2 1-2-1-5zM164 21l-1 3 2 2 4 1 2-1 0-5-2-2zM181 162l-2 2 1 2 4 2 2-2 0-2zM151 -211l-4 2-2 10 4 7 6-4 0-15zM211 -67l-2 1 0 2 5 3 5 7 2-2 2-3-2-2zM234 -186l-4 5 4 3 3-3-1-4zM239 -169l-3 3 0 7 13 2 2-1-7-6-1-5zM256 1l0 3 3 1 2-1 0-3zM-264 48l3 15 9 1-4 7 1 3 6 2 7-2-4-19zM-249 -22l-1 3 5 8 1 10 4-10zM-201 126l-3 5 5 2 2-4-1-3zM-186 175l-2 1 2 3 5-3zM-181 22l-1 4 5 0-2-4zM-176 113l-3 3 3 9zM-174 147l-2 2 2 3 6-3zM-151 165l-3 2 0 6 4-4zM-141 211l-5 3 0 2 5 2 6-4zM-81 24l-7 12 2 7 4-4 5-10-2-5zM1 56l0 5 3 0 2-5-2-2zM9 -91l-2 2 4 4 3-4 0-2zM26 34l-2 2 0 5 5 5 3-7zM119 91l-2 3 1 2 3 1 5-3 1-3-3-2zM149 263l0 4 5 2 7-2 1-3-1-2-7 3zM181 243l-2 2-1 4 1 3 2 2 5-5zM219 -20l-2 6 2 3 2 0 0-7zM229 103l-9 6-1 2 2 8-4 7 12 8 8-8-9-5-4-5 2-6 8-4 1-2zM231 36l-1 3 3 5 3 15 4-5-4-10 1-5-2-3zM241 -87l-4 3 2 5 2 0 2-5zM249 -94l-3 5 8 2 1-2-1-2zM-249 193l-2 6 5 1 7 5 8-1 2-3-5-4-10-4zM-199 247l-1 2 0 2 4 1 1-3zM-176 190l-4 4 1 2 8-2 2-3zM-139 247l-2 2 5 7 5 2 2-2 0-9zM-1 129l-8 3-5 7-1 17 4 4 20 6 2 3-2 1-5-1-5-4-43 1-10-6-3 1-4 5 6 8-4 2-4-2 0-10-3-3-10 0-8-9-20 0-10-4-7-7-8 1-4 4 5 13 3 2 16-2-1 12-7 8 6 9 10-1 7 5 10-3 6-10 4-2 1 7-6 5 1 2 9 5 0 3-6 7 6 4 8-6 17 4 8-9 12 0 10-6 3 1 2 7 23-5 10 3 20 1 12-14 7 3 1 8-8 4 4 8 4 1 2-9 7-7 3-11 8-2 7 8 10-3 10 2 8-3 10-11 7-3 7-7 0-10 3-8-1-5-9-4-5-6-5-3-12 8-10 1-5 5-8 0-5 1-8 21-14 10-5 1-3-9-5-2-7 1-10 7-10-8 0-4 4-6-4-9-2-9 2-5-2-2-6-2-5 3zM171 122l-1 2 1 2 4 0zM229 141l-1 5 3 1 2-3-2-3zM-244 232l-2 2 1 2 4 3 1-5zM-126 235l-2 4 4 0 1-3zM-66 266l0 5 3 0 3-2-1-3zM-46 233l-1 3 3 3 6-3 0-2-3-2zM-29 243l-2 6 2 5 0 7 3 2 2 0-1-19-1-3zM31 213l-1 6 4 1 1-6zM109 189l-3 5 3 4 2-1 1-3zM171 198l-2 1-2 5 4 2 4-2 0-3zM231 185l-2 3-1 8 3 3 2 0 2-10zM49 -226l5-1 2 3 1 3-3 3-4-3zM60 -211l8 0 1 4-8 3-9-2 2-5z"/>
<path fill="#ffffc0" d="M-159 -276l10 0-7 5-3-1zM34 -276l12 0-2 7 7 5 0 3-15 1-1-1 4-8-4-2zM-35 -266l4-2 2 1 0 5-2 2-3-1zM77 -266l7 0-3 3-3-1zM-95 -264l4-1 5 3 3 11-2 2-6 2-3-1zM-255 -259l3 0 0 3-2 5-2 1-2-4zM268 -256l8-2 0 7-7 1-3-4zM-24 -254l10 2 15-1 8 4 10 2 4 3 2 10-9 13-10 2 0 4 5 3 8-4 2 5-1 5-19 10-10 9-12 2-8-1-7 6-10-3-18 9-20 3-20 19-8 1-8 12-10 10-4 8-8 5 5 5 16 5 4 7-2 10-15 13-3 22-9 6-8-1-20 3-2-3-3-15-5-8-6-7-2-5 6-22 5-3 10-1 9-6-1-13 3-7 0-8 4-7-3-13 8-7 0-9 7-2 9-14-1-4-8-1-2-5 7-2 5 3 3-1 7-8 9-5 11-9 13-3 7-7 25-3 13-5 7-6 8 0zM29 -251l7 0 5 5-2 2-7 0-3-2zM-139 -246l3 2 0 4-3 1zM154 -244l5 0 6 3 4 10-1 2-4 2-3-3-8-9zM131 -239l3 0 3 5-4 0-3-2zM-145 -226l4-2 4 9-2 9-8-9zM215 -219l6-1 1 4-3 2zM-250 -216l5 0 4 9 5 1 2 2 5 18-5 6-7 1-1-2 4-18-5-7-7-5zM215 -184l4-1 0 1 0 5-3 4-4-1zM-207 -181l6 0 0 5-5 2-3-5zM-270 -176l4-1 4 1 0 2-7 2zM-276 -166l2-2 3 2-1 12-1 3-3 0zM-236 -166l2 0 0 5-4 0-1-3zM192 -159l5 0-1 7-7-2-1-2zM225 -149l4-1 2 1 0 6-6-3zM245 -149l11 7 1 3-6 7-7 2-4-1 5-8zM-180 -144l4-1 3 1-3 4-5-1zM221 -129l7 3-2 2-5 1-2-3zM270 -121l4 0 1 2-4 7-3-4zM-8 -116l4-2 3 4-5 7-5-2zM-272 -111l7 0-3 2-6 0zM-244 -109l3-2 2 2-2 4zM113 -99l6-1 2 1-5 4-3-1zM205 -91l1-2 5 1 5 3 1 3-3 2-5 1zM-4 -86l3 0 6 5-1 7-5-1zM-242 -81l3-2 2 2-2 7-3-2zM85 -79l6-2 3 5-3 3-5 0-2-3zM148 -79l8 0 7 8 18 6 10 7 13 19 1 15 6 13 1 35 5 10-2 12-6 15 3 10-9 3-10 15-12 4-5-1-5-3-12-20 5-9 2-10 8 1 2-3 1-24-6-12-7 1-4-2 4-5 7 1 3-6-5-7-6-5 1-8-6-10 0-10-7-12-8-5 2-8-1-7zM-226 -76l5 1 2 1-1 3-4 2-4-2zM36 -74l3 2 2 6-2 1-5-4zM9 -69l5 0 1 3-6 1zM-25 -61l6 0 0 5-5-1-1-2zM238 -61l6-2 2 2 1 5-3 3-5 0zM23 -41l3 2-1 8-4 3-2-2 0-4zM-234 -39l7 0-4 5-4-2zM71 -34l3-2 5 4 0 6-3-1zM233 -31l3-2 3 1 5 8 0 10-3 2zM-4 -24l6 3-3 4-6-2-1-2zM81 -11l5-1 2 3-7 4-2-1zM272 -11l4-1 0 13-4-5zM-232 -9l6 0 3 5-3 2-4-2zM57 -9l9-1 3 1 1 5-4 4-5 2-3-3zM-212 -1l3 0 4 7-4 7-2 0-4-4zM142 -1l4-1 2 3-4 2-3-2zM-88 1l5 0 7 8-5 1-8-1-2-3zM246 11l3-2 3 7zM-49 24l3-2 5 4 2 8-9-3zM-238 29l7 0 2 2-9 8 1 7-4 3-7-5zM-105 29l1-2 3 0 4 4 2 5-1 6-6-3zM-9 29l8-2 6 7 1 4-5 0-7-3-3-4zM55 36l1-2 4 2-1 6zM272 44l4-1 0 8-5 0-4-2 1-3zM-123 51l9-1 10 6 25 24 5 3 8 11 20 8 5 4 12 0 10 4 3 8 7 8-11 18-11-1-10 4-10-6-5-1-13 6-5-6-25-17-10-2-18-37 0-10zM23 56l3 0 3 3 0 5-3 3-5-1-1-2zM220 56l4-1 0 4-3 1zM-29 64l6 2-2 5-4 0-2-2zM-276 71l0-1 2 0 2 4-4 3zM-70 71l4 0 1 3-4 5-2 0zM250 74l6 2 5 8-7 5-5-8zM47 91l5 0-1 5-5 0zM153 96l5 0-2 6-4-1zM196 96l3-2 4 2-2 7-4-2zM-269 101l5 0 5 8-7 1-5-1-2-3zM69 101l2 0 1 3-5 12-13 0 0-3zM-233 109l4 0 5 2 2 5-2 4-2 1-8-7zM24 109l2-2 3 1 4 11-2 1-10-2-1-4zM246 114l3-2 3 2-3 3-3-1zM202 116l4-2 5 5-1 2-7 8-2 6-2-1-2-3 4-5-1-7zM50 129l26-2 5 2 4 7-6 14-5 4-10-2-8 6-15-6-5 0-6-8 0-5 9-7zM-113 139l2-3 2 2 1 3-3 1zM-209 141l5-1 2 4-2 3-5 0zM260 154l9 1 4 4-2 2-13 0-1-5zM165 164l9 8 0 6-10-1-3-2 0-4zM-174 166l3-2 5 6 3 1-1 13-5 0-3-3 3-7zM-266 171l2-2 5 1 3 6-3 1zM190 174l5 0 1 2-1 3-4 1-2-1zM-240 186l1-2 3 1 4 4-4 2zM160 189l4-1 1 3-4 5-2 1-2-3zM-216 196l5 1-3 5-4-1zM132 196l7-1 7 9-5 3-10 0-1-3zM-272 199l3-2 5 2-5 1zM-27 209l3-2 5 2 0 5-5 1zM164 214l2-2 4 2 2 5-1 2-5 0zM-60 219l5 2-1 5-8 0-1-2zM-184 221l3-2 8 5-1 6-2 2-5-2zM-100 226l14 8 4 7-2 2-5 1-7-9-8-3 0-3zM1 226l3 2 0 6 4 5-2 3-4-3zM-249 246l0-2 3 2 0 6-3-1zM-181 246l8 0 4 3 0 2-10 5-4 0-2-5zM126 246l4 3-1 3-6-3zM258 256l3-1 1 4-3 5-3 0zM-111 261l7 5-1 5-4 3-7-2-2 4-5 0 0-7zM23 264l6 1 0 4-15 7-2-7 4-4zM-17 269l3-2 3 9-7 0zM230 269l2 0 1 7-7 0zM256 274l5-1 3 3-9 0z"/>
<path fill="#fee292" d="M-30 -246l9-2 35 3 5 4 2 5-6 10-14 4-16 16-1 14-13 0-10 5-20 2-10 7-7-1-5-5-13 16-5 3-5-1-3 7-12 5-10 10-2 8-5 6-8 1-7 8-3-1-3-7 7-20-1-12 6-5 6-18 19-27 39-22 37-7zM-1 -211l2-1 5 3-1 5-6 1zM-167 -106l6-3 10 4 17-1 10 3 4 4-1 7-20 13 2 15-7 11-15 1-8-2-2-2-1-10-13-15 1-7 5-4 4-7zM-156 -94l-2 3 2 2 5 0 0-5zM157 -64l4-2 5 1 23 10 5 11 1 10 12 23-1 22 6 23-2 15-6 17-16 20-6 3-7-3-5-12-4-5 3-10 8-5 5-10 2-20-4-13 1-10-9-12-2-10-6-8-2-10-4-7 1-8-5-7zM-116 56l7 2 10 8 6 8 18 15 9 12 17 6 15 8 10 3 4 11-1 2-20 9-13-5-15 2-16-11-1-2 3-5-11-2-12-4-4-9-2-10-7-3-3-5-2-14zM49 134l25 0 3 5 0 7-3 3-25-2-5-8 0-3z"/>
<path fill="#fdb062" d="M-25 -244l21 4 15-2 4 1 1 5-4 7-11 1-15 14-10 1-7 6-10 4-18 0-10 11-12-2-15 5-6 10-39 35-1-7 3-10 3-20 10-18 10-11 22-13 15-6 15-5 23-2zM-142 -101l8-1 8 2 3 4-3 3-15 3-3-1-2-5zM-172 -89l6 2 16 18 0 5-4 5-10 0-2-2-3-15-5-8zM178 -54l6 1 2 3 8 26 0 5-4 5-1 8 1 2 9 4 2 6-1 3-6 1-5 4-4-3 3-12-10-8-3-12-8-13 0-15 2-3zM199 21l2-1 3 1 4 10 0 18-6 12-8 10-8 3-5-3 0-2 3-8 0-6 7-6-2-20 2-4zM-96 81l7 2 18 21 16 7 7 8-1 5-10 3-10-3-5-10-15-3-10-20 0-7zM52 139l7-2 3 4-8 1z"/>
<path fill="#f67b46" d="M-28 -239l14 1 8 4 0 5-5 4-5-1-10 6-8-1-7 2-6 5-9-1-10 9-8 1-15 9-10 1-16 16-5 10-11 7-2-7 4-7-1-5 1-8 7-10 10-10 21-11 30-6 7 1 5-6 10-1zM197 29l7 2 2 15-5 11-5 4-3-5 3-7-2-18z"/>
<path fill="#da3c2a" d="M-91 -216l16 2-9 10-5 2-7-9zM-113 -201l6 0-1 7-4 5-9 5-3-2 1-3z"/>
</g>
<use href="#shelf" fill="#fff"/>
<use href="#land" fill="#fff" stroke="#fff" stroke-width="5"/>
<line x1="0" y1="80" x2="0" y2="268" stroke="#fff" stroke-width="2"/>
<use href="#land" fill="#d6d6d6"/>
<!--grid-->
<use href="#land" fill="none" stroke="#000" stroke-width="2.2" stroke-linejoin="round"/>
<use href="#isl" fill="#d6d6d6" stroke="#000" stroke-width="2" stroke-linejoin="round"/>
<g fill="none" stroke="#808080"><circle r="69" stroke-width="1.2" stroke-opacity="0.55" stroke-dasharray="4 2.5 1 2.5"/><circle r="139" stroke-width="1.2" stroke-opacity="0.55" stroke-dasharray="4 2.5 1 2.5"/><circle r="211" stroke-width="1.2" stroke-opacity="0.55" stroke-dasharray="4 2.5 1 2.5"/><line x1="0" y1="0" x2="0" y2="-270" stroke-width="1.8" stroke-opacity="0.26"/><line x1="0" y1="0" x2="190.9" y2="-190.9" stroke-width="1.8" stroke-opacity="0.26"/><line x1="0" y1="0" x2="270" y2="0" stroke-width="1.8" stroke-opacity="0.26"/><line x1="0" y1="0" x2="190.9" y2="190.9" stroke-width="1.8" stroke-opacity="0.26"/><line x1="0" y1="0" x2="0" y2="270" stroke-width="1.8" stroke-opacity="0.26"/><line x1="0" y1="0" x2="-190.9" y2="190.9" stroke-width="1.8" stroke-opacity="0.26"/><line x1="0" y1="0" x2="-270" y2="0" stroke-width="1.8" stroke-opacity="0.26"/><line x1="0" y1="0" x2="-190.9" y2="-190.9" stroke-width="1.8" stroke-opacity="0.26"/></g>
<g fill="#8f8f8f"><text x="-18.8" y="-222.0" font-size="28" textLength="39.6" lengthAdjust="spacingAndGlyphs">0°E</text><text x="-196.1" y="-155.3" font-size="28" textLength="65.1" lengthAdjust="spacingAndGlyphs">45°W</text><text x="137.7" y="-155.3" font-size="28" textLength="52.0" lengthAdjust="spacingAndGlyphs">45°E</text><text x="-263.4" y="10.5" font-size="28" textLength="63.6" lengthAdjust="spacingAndGlyphs">90°W</text><text x="205.3" y="10.3" font-size="28" textLength="54.4" lengthAdjust="spacingAndGlyphs">90°E</text><text x="29.3" y="51.2" font-size="28" textLength="54.4" lengthAdjust="spacingAndGlyphs">80°S</text><text x="87.8" y="92.1" font-size="28" textLength="51.2" lengthAdjust="spacingAndGlyphs">70°S</text><text x="144.9" y="134.1" font-size="28" textLength="54.0" lengthAdjust="spacingAndGlyphs">60°S</text><text x="-203.1" y="173.6" font-size="28" textLength="78.4" lengthAdjust="spacingAndGlyphs">135°W</text><text x="130.2" y="173.9" font-size="28" textLength="68.0" lengthAdjust="spacingAndGlyphs">135°E</text></g>
<path d="M-249.4,-99.3 -227.8,-106.1 -226,-104 -231,-92 -235,-88 -236,-83 -240,-83 -241,-88 -244,-88 -245,-82 -249,-82 -252,-84 -256,-77 -258,-80 -254,-92 -251,-98Z" fill="#9a9a9a" stroke="#000" stroke-width="1.7" stroke-linejoin="round"/>
<ellipse cx="0" cy="1.3" rx="270.4" ry="271.3" fill="none" stroke="#000" stroke-width="4.2"/>
</g>
<g transform="translate(937.9,2018.2)">
<g clip-path="url(#dom1)">
<rect x="-276" y="-276" width="552" height="552" fill="#3a4ba1"/>
<path fill="#4f84be" d="M-276 -276l552 0 0 552-552 0zM-131 143l0 6 7 7 5 3 5-3 2-5-7-8-5-2z"/>
<path fill="#80b6da" d="M-276 -276l552 0 0 552-552 0zM-146 111l0 5 5 10-1 10 11 20 9 8 11 2 7 7 10 3 7-2 0-8 4-7-1-6-15-8-5-6-7 4-3-4 3-8-5-7-5-2-8-6zM-49 -205l-2 1 2 4 20-1 0-3-5-1-7 1zM-9 -214l-5 3-10 0-3 2 0 3 11 7 6 0 6-5 1-5-1-7zM4 -222l-2 1 2 5 7 6 1-4-1-5zM46 -229l-5 5 1 10 2 3 10-1 7 1 8-3 0-7-4-5zM111 -114l0 3 5 5 10 3 3-1-2-5-6-5-5-2zM64 -202l-3 3 2 3 6 2 5-2 0-6-5-1z"/>
<path fill="#b2dfee" d="M-276 -276l552 0 0 552-552 0zM-146 95l-5 6-1 5 6 31 8 14 9 11 15 8 8 7 12 4 10 0 10-4 8 10 7 0 8-3 2-5-14-5 2-5 2 0 5 3 2-3-2-8-6-10-4-2-6 2-1 5-3 2 2-14-9-13-14-10-14-3-10-11-10-3-7 2-3-2-1-8-4-2zM31 -239l-15 6-5 4-10-5-10 9-7-5-8 5-5-2-10 4-15-2-9 14 3 15 24 3 17-3 8 1 10-3 17 0 3-6 2 0 5 3 5 8 5 0 5-3 3 1 2 5 8 3 0 8 5 6 10 3 5-1 1-3-2-12 8-10 8-5-16-30-4-3-8 1-12-4-8 2-5-3zM91 -121l-2 2 3 3 12 4 22 15 5 0 4-4 1-8-15-10-17-4zM206 30l-6 9 2 5 4 2 3-2 1-8-1-6z"/>
<path fill="#e1f5f8" d="M-276 -276l552 0 0 552-552 0zM-154 88l-2 6-1 12 8 33 9 15 11 12 23 16 12 4 13 0 15 6 7 0 16-8 1-8-14-27-13-8-17-22-20-7-18-15-17-8zM-96 -124l-27 13 0 5 5 7-2 13 6 1 8 8 7 0 8 6 22 1 11-14 3-7-6-18-3-3-7 2-8-10-7 1-6-5zM9 -251l-8 5-15-2-10 7-20 0-12 5-25 24-1 13 3 8 20 8 8-6 22 0 10-3 13 1 7 6 18-2 7 4 10-1 8 2 12 12 10 4 12-3 1-17 5-5 7-1 5-4 4-20-11-6-3-9-15-11-5 0-5 3-10-8-17 4-20-8zM171 35l-1 4 4 2 0-5zM201 26l-5 8-6 5-1 5 5 5 15 4 2-2 2-5 2-20-4-2zM-9 113l-15 5-7-2-5 3 5 7 1 10 9 2 3 3-1 3-7-1-3 1 0 5 3 1 7 3 13-3 7-3 4-6 0-7-3-8 2-12-5-3zM84 -126l-1 7 3 5 15 5 19 10 6 7 10 5 5 0 5-4-4-18-4-5-34-14-10 3zM-91 -109l5-1 12 4-1 7 3 5-27 10-7-5-4-12 11-6z"/>
<path fill="#ffffc0" d="M-276 -276l63 0 2 3 5 2 1-5 66 0 3 3 5 0 5 5 3-8 8 0 1 6 3 0 5-6 159 0 8 5 7-5 18 0 8 3 5-3 120 0 1 5 4 2 7-4 3-3 42 0 0 68-5 2-2 2 0 3 7 5 0 38-4 2-3 5 2 5 5 4 0 107-2 1 2 2 0 280-4 6 4 4 0 18-224 0-8-4-8 4-117 0 3-5-3-4-3 4 1 5-93 0-1-2-7-3-5 5-39 0-3-2-3 2-16 0 1-2-5-3-2 1-1 4-19 0 0-59 5 1 6-4-1-3-10-5 0-57 5 3 2-3-7-5 0-92 5-1 2-2-5-8 8-10-3-2-7 2 0-150 7-7-5-8 3-5-2-5-3-1 0-40 11 1 0-2-11-6 0-59 5-2 0-3-5-1zM-251 -140l-3 4 0 3 9-3 0-3zM-246 -243l-3 4 3 4 5-6zM-229 -111l-2 2-1 8 1 3 2 1 3-2 2-7-2-5zM-221 221l-4 5 1 3 5 0 5-8-5-2zM-216 103l-3 1 0 3 5 1 5-2zM-211 -107l-4 11 1 3 4-1 4-10-3-4zM-201 -155l-4 4-1 5 6-5 1-3zM-194 -66l0 3 6-1-3-3zM-186 175l-2 1 2 3 5-3zM-176 -259l-1 10 3 2 8 0 3-4-2-8zM-154 -264l-4 3 4 3 2-3zM-151 -239l-5 5-5 1 10 4 4-7-2-3zM-124 -258l0 7-3 5 3 7 3-1 1-4-3-7 1-3zM-91 -129l-35 14-2 4 3 15-4 7 5 8 10 4 10 10 20 1 10 6 5-1 8-5 2-8 7-5 3-10 4-7-7-5-3-10-4-5-10-1-10-11zM-6 -266l-4 2 0 5 9 4 0 2-13-1-10 7-17 2-12-1-1-5-12 1 2 14-2 2-18 13-5 12 5 19 10 11-5 18 1 5 9 2 20-10 27-5 5-2 6-8 5-2 10 2 15-2 10 4 12 0 15 12 10 5 15-4 2-2 0-18 18-9 3-6 3-15-6-20-12-9-8 0-12-6-10 0-5-5-23 2-17-5-13 2-3-9zM109 -181l-1 5 6 2 2-2 0-4zM119 -271l-5 2 0 3 12 9 3-1 2-8-2-7zM149 -229l-13 5-1 3 4 3 5-5 5 0 2-6zM166 18l-6 6 4 10-2 7 3 8-7 5-1 5 9 12-2 5-5 3 0 7 5 8 1 10 6 7 13-2 10 4 1-4-6-5-1-3 8-10 11-5 1-5-5-12 0-8 8-2 8-15 6-5-4-2-2-3 3-5-8-10-10 2-10-4-5 3zM171 -252l-2 4 7 14 5 2-2-9 2-8-5-3zM191 -12l0 7 5 0 0-4zM199 -269l-3 5 3 4 6-6-1-5zM219 -110l-2 4 2 2 2-2 0-3zM226 -259l0 5 16 0-1-3zM251 -219l3 6 5 2 1-5-1-4zM264 111l-4 3 1 4 3 0 1-4zM-266 231l-2 3 0 2 4 5 3-5-3-5zM-269 129l-3 2 1 6 5-1 6-5-4-3zM-271 -79l0 2 5 1 5 7 2-1 2-4-1-2zM-249 -39l-2 3 5 2 0-4zM-231 153l-2 3 2 3 6 0 3-3-7-5zM-206 -82l-2 1 0 2 4 5 3-6zM-176 113l-3 3 3 9zM-174 147l-2 2 2 3 6-3zM-151 83l-8 3-3 25 17 45 36 31 8 0 5 4 12 0 13 5 2 3-6 7 4 3 5 0 5-5 16 2 3-7 0-8 6-10 1-5-8-10-10-22-15-8-7-20-16-3-5-5-10-2-8-9-10-5-10-3-7-5zM-116 30l-2 4 2 3 2-3 0-3zM-84 -34l-7 2-5 5-6 3 3 12 10 0 1-12 4-3 8-2zM-66 43l-2 3 7 4-1-6zM-31 -101l0 7 5 0 4-5-4-4zM-9 -35l-1 4 1 2 6 0 3-2-4-4zM1 -137l-4 3 0 3 7 1 4-6zM9 -91l-2 2 4 4 3-4 0-2zM16 127l2 4 5 0-1-2zM21 87l-2 3 0 3 9-2-2-3zM26 -14l-3 3 1 3 3-1zM34 -34l-2 3 2 3 7 1 3-2zM49 -79l-5 3 0 2 2 4 3 1 3-7zM64 -140l-2 1 0 5 2 3 5 2 3-10zM79 -144l-3 3 5 2 1-5zM94 -141l-2 2 1 8-12-3-5 5 3 8-2 7 3 8-1 2 2 1 1-3 7-2 10 3 17 8 5 10 6 1 9 5 5-1 10-6-2-18-8-10-25-13-19-5 0-7zM151 -211l-4 2-1 8 5 5 4-3 0-10 0-2zM181 162l-2 2 1 2 4 2 2-2 0-2zM206 211l3 7 1-7-1-2zM174 -152l1 8 5 0-2-7zM219 -20l-3 6 3 4 3-1-1-7zM229 103l-9 6-1 2 2 8-4 7 12 8 8-8-9-5-4-5 2-6 8-4 1-2zM234 -186l-4 5 4 3 3-3-1-4zM239 -169l-3 3 0 7 13 2 2-1-7-6-1-5zM256 1l0 3 3 1 2-1 0-3zM-264 48l3 15 9 1-4 7 1 3 6 2 7-2-4-19zM-249 -22l-1 3 5 8 1 10 4-10zM-201 126l-3 5 5 2 2-4-1-3zM-176 190l-4 4 1 2 8-2 2-3zM-151 165l-3 2 0 6 4-4zM-141 211l-5 3 0 2 5 2 6-4zM-126 235l-2 4 4 0 1-3zM-66 266l0 5 3 0 3-2-1-3zM-46 233l-1 3 3 3 6-3 0-2-3-2zM-81 24l-7 12 2 7 4-4 5-10-2-5zM1 56l0 5 3 0 2-5-2-2zM26 34l-2 2 0 5 5 5 3-7zM59 201l-2 3 2 3 2 3 3 0 1-9zM66 -27l0 6 3 1 1-4-1-3zM76 -84l-5 5 3 6 4-8 0-3zM86 -57l1 3 7 4 1-1-4-7zM109 11l-3 3 3 6 7 1 4-2-6-8zM124 55l0 5 2 1 3-2 0-3zM149 73l-4 6 9 2 4-2-4-7zM171 198l-2 1-2 5 4 2 4-2 0-3zM181 243l-2 2-1 4 1 3 2 2 5-5zM229 141l-1 5 3 1 2-3-2-3zM231 36l-2 3 4 5 3 15 4-5-4-10 1-5-2-3zM241 -87l-4 3 2 5 2 0 2-5zM249 -94l-3 5 8 2 1-2-1-2zM-249 193l-2 6 5 1 7 5 8-1 2-3-5-4-10-4zM-199 247l-1 2 0 2 4 1 1-3zM-139 247l-2 2 5 7 5 2 2-2 0-9zM1 106l-27 4-13 0-1 1-5 10 9 8 0 22 2 4 20 5 15-8 8-7 2-6-3-15 1-10-3-8zM31 213l-1 6 4 1 1-6zM119 91l-2 3 1 2 3 1 5-3 1-3-3-2zM149 263l0 4 5 2 7-2 1-3-1-2-7 3zM231 185l-2 3-1 8 3 3 2 0 2-10zM-244 232l-2 2 1 2 4 3 1-5zM-29 243l-2 6 2 5 0 7 3 2 2 0-1-19-1-3zM-11 173l-3 3 3 3 3-3zM-97 -101l11 1 1 4-11 5-4-5zM182 51l2-1 1 4-1 3-3-1z"/>
<path fill="#fee292" d="M-159 -276l10 0-7 5-3-1zM34 -276l12 0-2 7 7 5-1 3-14 0 3-8-4-2zM-35 -266l4-2 2 1 0 5-2 2-3-1zM77 -266l7 0-3 3-3-1zM-95 -264l4-1 5 3 3 11-2 2-6 2-3-1zM-255 -259l3 0 0 3-2 5-2 1-2-4zM268 -256l8-2 0 7-7 1-3-4zM-139 -246l3 2 0 4-3 1zM154 -244l5 0 6 3 4 10-1 2-4 2-3-3-8-9zM131 -239l3 0 3 5-4 0-3-2zM-145 -226l4-2 4 9-2 9-8-9zM215 -219l6-1 1 4-3 2zM-250 -216l5 0 4 9 5 1 2 2 5 18-5 6-7 1-1-2 4-18-5-7-7-5zM-146 -206l7-2 3 4-5 4-5-3zM-111 -204l17 3 4 2 3 10 5 10-2 20 5 12 3 1 10-2 7-6 15-2 40-16 13 1 10-3 20 3 7 12-5 6-25 10-20 2-27 10-5 5-5-1-13 5-13 1-7-9-12-9-9 8-35 15 0 17-11 8-2 5 12 20 5 16 5 6-2 13 4 7-7 13-2 10 5 10-6 17-7 3-8 8-7 4 3 8 12 10-2 17-16 2-13-7-1-2 6-8-8-5 0-5-9-15 2-10-6-30 1-5-2-4-6-3 0-5-4-5 3-2 5 2 2-13-1-15 3-10-1-10-7-7 0-3 4-4 7-1 12-7 3-9 3-1 4 5-3 5 1 2 8 3 4-3 2-7-3-10-3-4-7-1 1-8-2-2 8-9 1-9 9-22 3-18 12-12zM167 -189l5 0 1 5-4 1-3-3zM143 -186l1-2 4 4 6 14 0 4-11-13zM215 -184l4-1 0 1 0 5-3 4-4-1zM-207 -181l6 0 0 5-5 2-3-5zM-270 -176l4-1 4 1 0 2-7 2zM96 -171l12 2 11 8 7-1 8 6 12-1 10 11 8-7 1 12 6 6 8 1 8-2 1 7 5 10 8 1 5 9 2 10 10 10-3 13 6 7-3 10 11 10-23 15-10-7-12-2-6-3-2-18-14-15 5-5 2-13-8-2-5-7-15-13-10-4-12-11-8-1-5-4-2-9-10-6-1-15zM184 -114l-4 3 6 2 2-2zM-276 -166l2-2 3 2-1 12-1 3-3 0zM-236 -166l2 0 0 5-4 0-1-3zM178 -166l4 2-1 3-2 2-3-2zM192 -159l5 0-1 7-5 0-3-2 0-2zM225 -149l4-1 2 1 0 6-6-3zM245 -149l11 7 1 3-6 7-7 2-4-1 5-8zM-180 -144l4-1 3 1-3 4-5-1zM221 -129l7 3-2 2-5 1-2-3zM-37 -124l1-2 2 0 13 7-3 3-5-2-5 0zM270 -121l4 0 1 2-4 7-3-4zM-8 -116l4-2 3 4-5 7-5-2zM-272 -111l7 0-3 2-6 0zM-244 -109l3-2 2 2-2 4zM-4 -86l3 0 6 5-1 7-5-1zM-242 -81l3-2 2 2-2 7-3-2zM154 -81l5-2 2 4-11 13 1 7-7 3 4-8-4-7 5-8zM85 -79l6-2 3 5-3 3-5 0-2-3zM-226 -76l5 1 2 1-1 3-4 2-4-2zM36 -74l3 2 2 6-2 1-5-4zM9 -69l5 0 1 3-6 1zM-94 -61l3-1 3 3-3 3-4-3zM-25 -61l6 0 0 5-5-1-1-2zM238 -61l6-2 2 2 1 5-3 3-5 0zM23 -41l3 2-1 8-4 3-2-2 0-4zM-234 -39l7 0-4 5-4-2zM168 -36l6 0 1 5-1 2-5 0-3-2zM71 -34l3-2 5 4 0 6-3-1zM233 -31l3-2 3 1 5 8 0 10-3 2zM-4 -24l6 3-3 4-6-2-1-2zM81 -11l5-1 2 3-7 4-2-1zM272 -11l4-1 0 13-4-5zM-232 -9l6 0 3 5-3 2-4-2zM57 -9l9-1 3 1 1 5-4 4-5 2-3-3zM-212 -1l3 0 4 7-4 7-2 0-4-4zM142 -1l4-1 2 3-4 2-3-2zM-88 1l5 0 7 8-5 1-8-1-2-3zM160 9l4-3 6 3-1 2-5 2-4-2zM246 11l3-2 3 7zM-49 24l3-2 5 4 2 8-9-3zM-238 29l7 0 2 2-9 8 1 7-4 3-7-5zM-105 29l1-2 3 0 4 4 2 5-1 6-6-3zM-9 29l8-2 6 7 1 4-5 0-7-3-3-4zM55 36l1-2 4 2-1 6zM272 44l4-1 0 8-5 0-4-2 1-3zM-125 46l4-1 10 1 10 6 8 9 17 11 7-3 8 4 2-5 5 0 0 3-5 3-1 2 19 12 3 8-6 5-12 4-10 2-10-2-10 3-3-1-5-7-7-3-5-10-13 2-7-5-1-10 2-13-3-7zM23 56l3 0 3 3 0 5-3 3-5-1-1-2zM-29 64l6 2-2 5-4 0-2-2zM-276 71l0-1 2 0 2 4-4 3zM250 74l6 2 5 8-7 5-5-8zM47 91l5 0-1 5-5 0zM153 96l4 0 1 10 5 8 0 10 3 10-9 2-4 10-9 10-13 3-4 10-6 1-7 6-23 6-7 7-5 1-10-2-10 6-20-3-10-4-13 3-24-24 2-6 12-6 8-7 2-1 8 3 2-1 5-10 8 7 5 0 4-4 3-7 15 2 8-6 25-9 9-7 13-5 5-5 10 1 5-4 8-1zM199 96l3 0-1 6-3-1zM-269 101l5 0 5 8-7 1-5-1-2-3zM69 101l2 0 1 3-5 12-13 0 0-3zM-233 109l4 0 5 2 2 5-2 4-2 1-8-7zM24 109l2-2 3 1 4 11-2 1-10-3-1-3zM246 114l3-2 3 2-3 3-3-1zM202 116l4-2 5 5-1 2-7 8-2 6-2-1-2-3 4-5-1-7zM-209 141l5-1 2 4-2 3-5 0zM260 154l9 1 4 4-2 2-13 0-1-5zM165 164l9 8 0 6-10-1-3-2 0-4zM-174 166l3-2 5 6 3 1-1 13-5 0-3-3 3-7zM-266 171l2-2 5 1 3 6-3 1zM190 174l5 0 1 2-1 3-4 1-2-1zM-240 186l1-2 3 1 4 4-4 2zM160 189l4-1 1 3-4 5-2 1-2-3zM-216 196l5 1-3 5-4-1zM132 196l7-1 7 9-5 3-10 0-1-3zM-272 199l3-2 5 2-5 1zM-26 206l5 0 3 3-3 7-5-4zM164 214l2-2 4 2 2 5-1 2-5 0zM-60 219l5 2-1 5-8 0-1-2zM-184 221l3-2 8 5-1 6-2 2-5-2zM-100 226l14 8 4 7-2 2-5 1-7-9-8-3 0-3zM1 226l3 2 0 6 4 5-2 3-4-3zM-249 246l0-2 3 2 0 6-3-1zM-181 246l8 0 4 3 0 2-10 5-4 0-2-5zM126 246l4 3-1 3-6-3zM258 256l3-1 1 4-3 5-3 0zM-111 261l7 5-1 5-4 3-7-2-2 4-5 0 0-7zM23 264l6 1 0 4-15 7-2-7 4-4zM-17 269l3-2 3 9-7 0zM230 269l2 0 1 7-7 0zM256 274l5-1 3 3-9 0z"/>
<path fill="#fdb062" d="M-111 -199l10 5 4 8 10 5-2 22 3 10-13 17-20 9-10 2-2 2-3 5 0 10-2 3-3-2-5-10 3-13-5-10 0-8 20-42zM15 -169l6-1 15 5 4 6-31 14-15 0-30 10-13 2-12 8-5-1-4-5-1-6 15-12 5-1 5 5 12-12 13-2 15-7 15 0zM110 -154l16 1 13 5 28 24-3 10-3 1-12-4-11-9-9-12-15-2-3-4zM-170 -89l19 3 15 17 7 30 0 10 3 8-4 7-2 13 2 12-1 6-15 11-13 7-7 7-8-18-1-18 2-7-5-13-3-30 3-20-3-17zM206 -89l3-1 2 1 0 3-2 1zM180 -81l4-1 5 4 7-5 8 2 2 5-1 10 11 15 0 5-5 3-7 1-8-6-12-3-2-13-6-10 0-2zM-122 54l6-2 5 1 32 23 10 0 5 10 10 1 10 7-2 3-10 2-29 0-4-4-8-4-6-10-8-1-8-6zM149 111l9 10-2 8-8 12-11 10-6 3-8 10-11 7-18 5-13 8-15 1-10 3-25-6-12 3-19-16-1-5 2-2 13-6 12 0 8-6 10 0 45-14 7-8 33-16 10 3z"/>
<path fill="#f67b46" d="M-113 -179l17 3 3 10-3 10 2 7-7 13-20 10-8-5-7-2-4-11 11-27 8-7zM17 -164l3 0-1 7-4-2zM-11 -159l15-1 6 6 0 3-6 3-8-5-10 4 0-5zM-33 -151l4 0 3 2-3 6-7-1zM138 -141l8 5 0 5-7-4-3-4zM-63 -136l4-1 2 3-4 4-3-1zM-157 -81l3-2 2 2 3 6 8 6 3 5 0 20 4 8 2 15-6 12-1 20-10 0-13-5-2-7-7-10-4-18-2-17 6-25 2-4 10-4zM-111 59l14 7 6 7 17 11 0 5-5 2-5-3-10-1-5-11-10-4zM131 124l10-2 5 7-1 5-24 22-17 12-13 3-7 5-5-2-8 4-10 1-7-2-3-9-7 2-8 8-10-1-8-6 16-14 7 1 15-7 8 4 2 0 6-9 5-2 4 0 5 3 13-12 15-9 5 0 0 8 10 2 2-2-2-8z"/>
<path fill="#da3c2a" d="M-122 -144l3-1 3 4-2 5-3 2-4-5zM-165 -66l4-3 7 2 3 3 8 23 5 7-1 7-5 6-15-3-10-6-2-4-2-12 4-5-1-8zM97 149l7 0 4 7-7 6-7 1-6-4 2-5zM74 159l5-2 3 4-6 4-2-1z"/>
</g>
<use href="#shelf" fill="#fff"/>
<use href="#land" fill="#fff" stroke="#fff" stroke-width="5"/>
<line x1="0" y1="80" x2="0" y2="268" stroke="#fff" stroke-width="2"/>
<use href="#land" fill="#d6d6d6"/>
<!--grid-->
<use href="#land" fill="none" stroke="#000" stroke-width="2.2" stroke-linejoin="round"/>
<use href="#isl" fill="#d6d6d6" stroke="#000" stroke-width="2" stroke-linejoin="round"/>
<g fill="none" stroke="#808080"><circle r="69" stroke-width="1.2" stroke-opacity="0.55" stroke-dasharray="4 2.5 1 2.5"/><circle r="139" stroke-width="1.2" stroke-opacity="0.55" stroke-dasharray="4 2.5 1 2.5"/><circle r="211" stroke-width="1.2" stroke-opacity="0.55" stroke-dasharray="4 2.5 1 2.5"/><line x1="0" y1="0" x2="0" y2="-270" stroke-width="1.8" stroke-opacity="0.26"/><line x1="0" y1="0" x2="190.9" y2="-190.9" stroke-width="1.8" stroke-opacity="0.26"/><line x1="0" y1="0" x2="270" y2="0" stroke-width="1.8" stroke-opacity="0.26"/><line x1="0" y1="0" x2="190.9" y2="190.9" stroke-width="1.8" stroke-opacity="0.26"/><line x1="0" y1="0" x2="0" y2="270" stroke-width="1.8" stroke-opacity="0.26"/><line x1="0" y1="0" x2="-190.9" y2="190.9" stroke-width="1.8" stroke-opacity="0.26"/><line x1="0" y1="0" x2="-270" y2="0" stroke-width="1.8" stroke-opacity="0.26"/><line x1="0" y1="0" x2="-190.9" y2="-190.9" stroke-width="1.8" stroke-opacity="0.26"/></g>
<g fill="#8f8f8f"><text x="-18.8" y="-222.0" font-size="28" textLength="39.6" lengthAdjust="spacingAndGlyphs">0°E</text><text x="-196.1" y="-155.3" font-size="28" textLength="65.1" lengthAdjust="spacingAndGlyphs">45°W</text><text x="137.7" y="-155.3" font-size="28" textLength="52.0" lengthAdjust="spacingAndGlyphs">45°E</text><text x="-263.4" y="10.5" font-size="28" textLength="63.6" lengthAdjust="spacingAndGlyphs">90°W</text><text x="205.3" y="10.3" font-size="28" textLength="54.4" lengthAdjust="spacingAndGlyphs">90°E</text><text x="29.3" y="51.2" font-size="28" textLength="54.4" lengthAdjust="spacingAndGlyphs">80°S</text><text x="87.8" y="92.1" font-size="28" textLength="51.2" lengthAdjust="spacingAndGlyphs">70°S</text><text x="144.9" y="134.1" font-size="28" textLength="54.0" lengthAdjust="spacingAndGlyphs">60°S</text><text x="-203.1" y="173.6" font-size="28" textLength="78.4" lengthAdjust="spacingAndGlyphs">135°W</text><text x="130.2" y="173.9" font-size="28" textLength="68.0" lengthAdjust="spacingAndGlyphs">135°E</text></g>
<path d="M-249.4,-99.3 -227.8,-106.1 -226,-104 -231,-92 -235,-88 -236,-83 -240,-83 -241,-88 -244,-88 -245,-82 -249,-82 -252,-84 -256,-77 -258,-80 -254,-92 -251,-98Z" fill="#9a9a9a" stroke="#000" stroke-width="1.7" stroke-linejoin="round"/>
<ellipse cx="0" cy="1.3" rx="270.4" ry="271.3" fill="none" stroke="#000" stroke-width="4.2"/>
</g>
<g transform="translate(1493,2018.2)">
<g clip-path="url(#dom2)">
<rect x="-276" y="-276" width="552" height="552" fill="#3a4ba1"/>
<path fill="#4f84be" d="M-276 -276l552 0 0 552-552 0z"/>
<path fill="#80b6da" d="M-276 -276l552 0 0 552-552 0zM-121 108l-10 3-3 3-1 5 6 10 28 5 7-3 1-2-2-8-6-3-8 1-5-9zM-1 113l-4 3 0 3 4 2 10-1 2 8 3 1 1-3-1-8-10-6z"/>
<path fill="#b2dfee" d="M-276 -276l552 0 0 552-552 0zM-134 -132l-12 4 0 19 2 5 9 0 2 13 9 2-3-7 8-8 1-7-5-8-3-11-3-2zM-59 -179l-11 5 0 3 11 2 13-2-3-8zM-21 88l-4 3-1 5-8-6-3 1-9 15-1 10 2 5 4 3 10 2 5 5 12 1 15 5 15-3 4-5-5-18-9-6-10 0-7-14zM31 -171l-5 2-1 5 1 5 5 2 8-4 4 7 8 4 5 0 4-4-1-6-13-8zM-124 101l-10 3-7 7 0 5 8 15 12 6 10 0 7 5 8 1 7 9 8 0 6-3 3-8-3-7-1-13-2-2-14-5-4-4-8-1-12-8zM-29 109l4 0 4 2-3 3-6-3z"/>
<path fill="#e1f5f8" d="M-276 -276l552 0 0 552-552 0zM-131 -144l-20 10 0 15-2 10 3 8 1 7 5 10 23 4 15-14 1-12-6-13-8-2-2-12-8-10zM-59 -184l-7 4-12 1-4 5 6 5 7 3 20 1 8-3 1-3-4-11-5-2zM29 -179l-12 8 5 15 4 3 30 7 5-3 6-7 2-5-3-5-12-2-8-7-5 0zM171 -59l-4 5 0 13 7 5 3 7 4 2 2-9-5-10 0-10-2-3zM-139 96l-2 1-4 9-1 8 8 20 10 5 3 7 4 1 7-2 20 13 13-1 14-6 1-5-3-10 1-7-6-13-15-6-7-7-13-5zM-41 83l-6 3-6 30 7 9 10 4 7 5 30 7 11-2 9-5 2-5-4-20-7-8-23-15-13-3zM69 -131l2 8 8 1 2 6 15 0 5-3 0-2-10-2-10-7zM181 -1l-8 2 4 10-11 10 2 10-2 10 1 8-7 10 5 12-6 8 5 8 3-1 7-14 10-42 0-9-2-10 4-10-2-2z"/>
<path fill="#ffffc0" d="M-276 -276l63 0 2 3 5 2 1-5 66 0 3 3 5 0 5 5 3-8 8 0 1 6 3 0 5-6 159 0 8 5 7-5 18 0 8 3 5-3 120 0 1 5 4 2 7-4 3-3 42 0 0 68-5 2-2 2 0 3 7 5 0 38-4 2-3 5 2 5 5 4 0 107-2 1 2 2 0 280-4 6 4 4 0 18-224 0-8-4-8 4-117 0 3-5-3-4-3 4 1 5-93 0-1-2-7-3-5 5-39 0-3-2-3 2-16 0 1-2-5-3-2 1-1 4-19 0 0-59 5 1 6-4-1-3-10-5 0-57 5 3 2-3-7-5 0-92 5-1 2-2-5-8 8-10-3-2-7 2 0-150 7-7-5-8 3-5-2-5-3-1 0-40 11 1 0-2-11-6 0-59 5-2 0-3-5-1zM-251 -140l-3 4 0 3 9-3 0-3zM-246 -243l-3 4 3 4 5-6zM-229 -111l-2 2-1 8 1 3 2 1 3-2 2-7-2-5zM-221 221l-4 5 1 3 5 0 5-8-5-2zM-216 103l-3 1 0 3 5 1 5-2zM-211 -107l-4 11 1 3 4-1 4-10-3-4zM-201 -155l-4 4-1 5 6-5 1-3zM-194 -66l-1 2 4 2 8-2-6-3zM-176 -259l-1 10 3 2 8 0 3-4-2-8zM-154 -264l-4 3 4 3 2-3zM-151 -239l-5 5-5 1 10 4 4-7-2-3zM-141 -169l-3 3 0 7-10 5-1 3 1 5-9 10 6 7 1 10-1 10 2 8-4 10 0 2 8 4 5 8 15 7 12-5 5-5 8-2 7-12 0-15-7-11-8-6 0-8-6-5-3-10-8-1-8 2-4-1 0-7 5-8zM-124 -258l0 7-3 5 3 7 3-1 1-4-3-7 1-3zM-104 -209l-13 3 8 1 9 11 0 5-6 8-2 10 2 4 3 1 7-4 25 8 17 1 13-1 4-4 1-3-3-12-5-6-15-1-12 3-10-7-13-1-3-3 2-10-4-4zM-66 -250l1 9 9 12 2-1 2-6-3-8 1-6zM-46 -241l-1 2 2 5 6 1 3-6-3-2zM-31 -101l0 7 5 0 4-5-4-4zM-6 -266l-4 5 6 2 2-2zM1 -138l-2 3 0 4 5 1 5-6-3-2zM4 -222l-3 1 2 2 8 9 0-8zM49 -194l-8 8-15 0-7 5-13-5-1 15 9 10 2 12 15 9 10-4 17 3 2 2 0 10 5 13 4 3 10 4 1 3-1 5 3-5 7-4 15-2 10 6 7-2 6-11-2-7-4-5-21-3-4-8-5 3 0 5-3 0-4-5 0-5 3-5-1-1-15 8-6-2 2-5 8-7 3-8-1-5-3-6-5-2-5-7-13 0-1-5 4-5zM66 -231l-2 2 1 3 6 0 0-5-2-2zM89 -241l0 3 7 10 3 2 2-2 2-3-2-3zM109 -181l0 5 5 2 2-1 0-5zM119 -271l-5 2 0 3 12 9 3-1 2-8-2-7zM149 -229l-13 5-1 3 4 3 5-5 5 0 2-6zM171 -252l-2 4 7 14 5 2-2-9 2-8-5-3zM184 -114l-4 3 6 1 1-1zM199 -269l-3 5 3 4 6-6-1-5zM206 211l3 7 1-7-1-2zM219 -110l-3 4 2 2-5 5 3 2 5-9 0-3zM226 -259l0 5 16 0-1-3zM251 -219l3 6 5 2 1-5-1-4zM264 111l-4 3 1 4 3 0 1-4zM-266 231l-2 3 0 2 4 5 3-5-3-5zM-269 129l-3 2 1 6 5-1 6-5-4-3zM-271 -79l0 2 5 1 5 7 2-1 2-4-1-2zM-249 -39l-2 3 5 2 0-4zM-231 153l-2 3 2 3 6 0 3-3-7-5zM-206 -82l-2 1 0 2 4 5 3-6zM-184 6l-6 8 4 3 7-6-2-6zM-176 -8l-2 2 1 7 8 5 3-2 0-7zM-151 165l-3 2 0 6 4-4zM-141 91l-4 3-5 12 2 15 4 8 0 10 18 12 20 5 10 7 15-1 7-3 5 1 10-6 2-8-6-7 1-10-4-13-5-5-15-4-18-16-12 3zM-126 -4l-3 5 5 8-3 10 3 10-2 7 7 16 3-2 5-14-3-15 4-10-1-3-10-4zM-66 43l-2 3 7 4-1-6zM-46 75l-4 4-4 7 0 8-3 7 0 8-3 10 9 9 12 4 8 6 30 6 20-4 5-3 4-8-5-10-4-20 2-4 7-4-1-2-6-2-6 7-6 0-15-11-18-5zM-6 -216l-10 10 1 5 3 2 3 0 6-5 0-10zM1 56l0 5 3 0 2-5-2-2zM9 -91l-2 2 4 4 3-4 0-2zM26 -14l-3 3 1 3 3-1zM34 -34l-2 3 2 3 7 1 3-2zM49 -79l-5 3 0 2 2 4 3 1 3-7zM66 -27l0 6 3 1 1-4-1-3zM76 -84l-5 5 3 6 4-8 0-3zM86 -57l1 3 7 4 1-1-4-7zM109 11l-3 3 3 6 7 1 4-2-6-8zM124 55l0 5 2 1 3-2 0-3zM99 -222l-1 6 3 3 3-6-3-4zM139 -117l-4 3 1 3 11 2-5-7zM151 -211l-4 2-1 8 5 5 4-3 0-10 0-2zM174 -152l0 10 5 0 1-2-1-5zM199 69l-5 6-1 4 8 2 0 4 3 1 2-2-1-3-3-2-1-7zM211 -67l-2 1 0 2 5 3 5 7 2-2 2-3-2-2zM234 -186l-4 5 4 3 3-3-1-4zM239 -169l-3 3 0 7 13 2 2-1-7-6-1-5zM256 1l0 3 3 1 2-1 0-3zM-264 48l3 15 9 1-4 7 1 3 6 2 7-2-4-19zM-249 -22l-1 3 5 8 1 10 4-10zM-201 126l-3 5 5 2 2-4-1-3zM-186 175l-2 1 2 3 5-3zM-141 211l-5 3 0 2 5 2 6-4zM-126 235l-2 4 4 0 1-3zM-59 196l-5 4-10 4-1 2 6 4 8-7 15 4 2-2 2-6-2-3-7 3zM-84 -34l-7 2-5 5-6 3 3 12 10 0 1-12 4-3 8-2zM-29 243l-2 6 2 5 0 7 3 2 2 0-1-19-1-3zM4 181l-4 3 6 2 0-5zM-9 -35l-1 4 1 2 6 0 3-2-4-4zM26 34l-2 2 0 5 5 5 3-7zM59 201l-2 3 2 3 2 3 3 0 1-9zM119 91l-2 3 1 2 3 1 5-3 1-3-3-2zM131 154l-2 7 3 3 4-1 2-4zM174 -69l-5 3-6 10-2 15-2 4-5-2-3 3 3 2 5-2 4 2 1 3 0 10 2 2 10-2 5 2 4 8-2 5-4 2-10-3-7 3 6 13-1 5-7 7 3 13-8 20 1 12-10 8-2 5 12 10 13 7 4-2 1-10 8-20 3-13 1-2 6 0 1-3-4-20 4-25 4-7-6-18 0-3 6-4-1-8-10-11-1-11-6-6zM211 23l0 4 6-1-3-4zM219 -20l-3 6 3 4 3-1-1-7zM229 103l-9 6-1 2 2 8-4 7 12 8 8-8-9-5-4-5 2-6 8-4 1-2zM231 36l-1 3 3 5 3 15 4-5-4-10 1-5-2-3zM241 -87l-4 3 2 5 2 0 2-5zM249 -94l-3 5 8 2 1-2-1-2zM-249 193l-2 6 5 1 7 5 8-1 2-3-5-4-10-4zM-199 247l-1 2 0 2 4 1 1-3zM-176 113l-3 3 3 9zM-174 147l-2 2 2 3 6-3zM-139 247l-2 2 5 7 5 2 2-2 0-9zM-66 266l0 5 3 0 3-2-1-3zM-46 233l-1 3 3 3 6-3 0-2-3-2zM-81 24l-7 12 2 7 4-4 5-10-2-5zM29 184l-2 7 1 3 3 0 2 0-2-8zM124 130l-2 4 7 2 1-2-1-4zM149 263l0 4 5 2 7-2 1-3-1-2-7 3zM171 122l-1 2 1 2 4 0zM181 162l-2 2 1 2 4 2 2-2 0-2zM191 107l-1 4 4 2 1-2 0-2zM229 141l-1 5 3 1 2-3-2-3zM-244 232l-2 2 1 2 4 3 1-5zM-176 190l-4 4 1 2 8-2 2-3zM31 213l-1 6 4 1 1-6zM171 198l-2 1-2 5 4 2 4-2 0-3zM181 243l-2 2-1 4 1 3 2 2 5-5zM231 185l-2 3-1 8 3 3 2 0 2-10z"/>
<path fill="#fee292" d="M-159 -276l10 0-7 5-3-1zM34 -276l12 0-2 7 7 5 0 3-15 1-1-1 4-8-4-2zM-35 -266l4-2 2 1 0 5-2 2-3-1zM77 -266l7 0-3 3-3-1zM-95 -264l4-1 5 3 3 11-2 2-6 2-3-1zM-255 -259l3 0 0 3-2 5-2 1-2-4zM268 -256l8-2 0 7-7 1-3-4zM-25 -251l4 0-3 5-3-3zM-5 -251l4-1 2 3-2 2zM29 -251l7 0 5 5-3 2-6 0zM-139 -246l3 2 0 4-3 1zM154 -244l5 0 6 3 4 10-1 2-4 2-3-3-8-9zM8 -241l6 0 2 2-5 4zM131 -239l3 0 3 5-4 0-3-2zM-145 -226l4-2 4 9-2 9-8-9zM215 -219l6-1 1 4-3 2zM-250 -216l5 0 4 9 5 1 2 2 5 18-5 6-7 1-1-2 4-18-5-7-7-5zM54 -211l12-1 3 1 1 5-9 4-7 0-5-4zM-146 -206l7-2 3 4-5 4-5-3zM-24 -194l5-2 15 3 3 17-3 5-10 2-10-5-2-2-2-13zM167 -189l5 0 1 5-4 1-3-3zM83 -186l3-2 1 2 0 5-3 3zM143 -186l1-2 4 4 6 14 0 4-11-13zM215 -184l4-1 0 1 0 5-3 4-4-1zM-207 -181l6 0 0 5-5 2-3-5zM-270 -176l4-1 4 1 0 2-7 2zM-125 -171l4-1 1 3-4 3-2-3zM-276 -166l2-2 3 2-1 12-1 3-3 0zM-236 -166l2 0 0 5-4 0-1-3zM178 -166l4 2-1 3-2 2-3-2zM-10 -164l4-2 1 2-5 15 3 10-3 13-1 2-5-2-3 1-2 10-13 0-10-4-15 2-12 7-5-7-13 1-7-8-10-1-3-4 0-20-4-7 2-4 20 3 22 1 10-3 15 4 13-6 6 2 4 7zM-46 -149l0 5 4-2-2-4zM95 -159l11-1 10 4 3 7-3 10-6 0-14-11-2-4zM192 -159l5 0-1 7-5 0-3-2 0-2zM225 -149l4-1 2 1 0 6-6-3zM245 -149l11 7 1 3-6 7-7 2-4-1 5-8zM-180 -144l4-1 3 1-3 4-5-1zM221 -129l7 3-2 2-5 1-2-3zM270 -121l4 0 1 2-4 7-3-4zM-7 -119l5 3 0 5-2 3-5 1-2-4zM-272 -111l7 0-3 2-6 0zM-244 -109l3-2 2 2-2 4zM135 -104l21 5 9 13 3 10-12 30-12-4-4-4-4-17 0-13-5-10 1-5zM113 -99l6-1 2 1-1 3-4 1-3-1zM205 -91l1-2 5 1 5 3 1 3-3 2-5 1zM-186 -86l2-1 4 3-1 5-7-2zM-4 -86l3 0 6 5-1 7-5-1zM-242 -81l3-2 2 2-2 7-3-2zM85 -79l6-2 3 5-3 3-5 0-2-3zM-226 -76l5 1 2 1-1 3-4 2-4-2zM36 -74l3 2 2 6-2 1-5-4zM9 -69l5 0 1 3-6 1zM-155 -66l6 0 5-3 5 2 10 18 5 3 4 5-1 7 4 8-1 10 2 12-3 0-3-7-4-2-3 1-5 11 4 12-1 25 5 15-1 10 11 9 5-1 2-5 0-8 5-5 0-3 3 11 6 10-1 5-20 17-18-2-14-5-3-8 2-10-3-5-3-12 3-8-1-5-3-5-8 0-3-2 0-3 6-1 3-4-2-30 9-4 3-6-2-5-15-15 1-4 8-1 3-2zM-94 -64l5 1 3 2-1 2-4 3-3-1-1-4zM-25 -61l6 0 0 5-5-1-1-2zM238 -61l6-2 2 2 1 5-3 3-5 0zM23 -41l3 2-1 8-4 3-2-2 0-4zM-234 -39l7 0-4 5-4-2zM71 -34l3-2 5 4 0 6-3-1zM233 -31l3-2 3 1 5 8 0 10-3 2zM-4 -24l6 3-3 4-6-2-1-2zM170 -14l6-2 4 5-1 2-3 1zM81 -11l5-1 2 3-7 4-2-1zM272 -11l4-1 0 13-4-5zM-232 -9l6 0 3 5-3 2-4-2zM57 -9l9-1 3 1 1 5-4 4-5 2-3-3zM-212 -1l3 0 4 7-4 7-2 0-4-4zM142 -1l4-1 2 3-4 2-3-2zM-88 1l5 0 7 8-5 1-8-1-2-3zM246 11l3-2 3 7zM-49 24l3-2 5 4 2 8-9-3zM-107 26l3-1 6 4 3 7-1 7-8-2zM-238 29l7 0 2 2-9 8 1 7-4 3-7-5zM-9 29l8-2 6 7 1 4-5 0-7-3-3-4zM55 36l1-2 4 2-1 6zM272 44l4-1 0 8-5 0-4-2 1-3zM23 56l3 0 3 3 0 5-3 3-5-1-1-2zM-29 64l6 2 0 3-2 2-4 0-2-2zM-276 71l0-1 2 0 2 4-4 3zM-71 71l5-1 2 4-3 10 0 10-4 4-15 4-4-8-6-5-1-5 11-6 10 1zM250 74l6 2 5 8-7 5-5-8zM47 91l5 0-1 5-5 0zM155 96l2 3-1 3-2 1-2-4zM197 96l4-2 2 2-2 7-4-2zM-269 101l5 0 5 8-7 1-5-1-2-3zM69 101l2 0 1 3-5 12-13 0 0-3zM-233 109l4 0 5 2 2 5-2 4-2 1-8-7zM28 111l4 5-1 3-5-4zM246 114l3-2 3 2-3 3-3-1zM202 116l4-2 5 5-1 2-7 8-2 6-2-1-2-3 4-5-1-7zM101 129l5 2 0 3-3 7 2 10-4 9-5 3-10-2-15 11-10 5-5-2-5-7-7 1-10 6-3-1-11-13-4-1-5 3 2 6-2 2-22 1-13 6-5 0-10-5-17 3-7-2 2-5 2 0 5 3 3-3 0-15 7-15 13 8 12-1 15 3 28-4 7-8 13 4 2-6 5-2 8 1 7 3 8-3 15 2zM-209 141l5-1 2 4-2 3-5 0zM260 154l9 1 4 4-2 2-13 0-1-5zM-117 161l6 0 2 3-1 5-4 3-5-3 0-5zM165 164l9 8 0 6-10-1-3-2 0-4zM-174 166l3-2 5 6 3 1-1 13-5 0-3-3 3-7zM-266 171l2-2 5 1 3 6-3 1zM190 174l5 0 1 2-1 3-4 1-2-1zM-78 179l4-2 0 7-5 1-1-1zM-240 186l1-2 3 1 4 4-4 2zM54 189l5-2 1 4-4 1zM160 189l4-1 1 3-4 5-2 1-2-3zM-216 196l5 1-3 5-4-1zM132 196l7-1 7 9-5 3-10 0-1-3zM-272 199l3-2 5 2-5 1zM-26 206l5 0 3 3-3 7-5-4zM164 214l2-2 4 2 2 5-1 2-5 0zM-60 219l5 2-1 5-8 0-1-2zM-184 221l3-2 8 5-1 6-2 2-5-2zM-100 226l14 8 4 7-2 2-5 1-7-9-8-3 0-3zM1 226l3 2 0 6 4 5-2 3-4-3zM-249 246l0-2 3 2 0 6-3-1zM-181 246l8 0 4 3 0 2-10 5-4 0-2-5zM126 246l4 3-1 3-6-3zM258 256l3-1 1 4-3 5-3 0zM-111 261l7 5-1 5-4 3-7-2-2 4-5 0 0-7zM23 264l6 1 0 4-15 7-2-7 4-4zM-17 269l3-2 3 9-7 0zM230 269l2 0 1 7-7 0zM256 274l5-1 3 3-9 0z"/>
<path fill="#fdb062" d="M-19 -189l10 2 0 7-2 1-8-2-2-5zM-88 -151l7 0 10 5 2 6 10 2 3 4-2 5-8 5-8-8-5 1-7 6-5-5-10-1-3-10 1-8zM139 -96l2-2 10 2 9 10 2 10-2 10-4 8-5 4-5-1-2-4-3-12 0-20zM-151 -34l2-2 8 2 2 1 0 4-5 1zM-150 -6l6-2 5 5 5 17-4 10 0 5 7 25 0 12 11 5 3 13-2 3-15-2-6-4-2-5-1-10-6-12 2-10-1-18-5-10zM-82 86l8 0 2 5-2 3-7 0-3-3zM70 144l6-2 6 2 0 7-6 10-5 0-5-5-2 0-5 7-18-2-5 5-2 0-3-3-1-4 4-13 7 3 20-2 5 4 1-5zM-30 154l8 0 11 7 2 3-1 2-16 4-17-4-1-5 3-5z"/>
<path fill="#f67b46" d="M147 -86l7-1 3 6-1 9-5 4-2-1-3-5z"/>
</g>
<use href="#shelf" fill="#fff"/>
<path fill="#fff" d="M-158,-106 -150,-104 -140,-92 -128,-80 -112,-70 -100,-62 -118,-63 -140,-66 -150,-78 -155,-92Z"/>
<use href="#land" fill="#fff" stroke="#fff" stroke-width="5"/>
<line x1="0" y1="80" x2="0" y2="268" stroke="#fff" stroke-width="2"/>
<use href="#land" fill="#d6d6d6"/>
<!--grid-->
<use href="#land" fill="none" stroke="#000" stroke-width="2.2" stroke-linejoin="round"/>
<use href="#isl" fill="#d6d6d6" stroke="#000" stroke-width="2" stroke-linejoin="round"/>
<g fill="none" stroke="#808080"><circle r="69" stroke-width="1.2" stroke-opacity="0.55" stroke-dasharray="4 2.5 1 2.5"/><circle r="139" stroke-width="1.2" stroke-opacity="0.55" stroke-dasharray="4 2.5 1 2.5"/><circle r="211" stroke-width="1.2" stroke-opacity="0.55" stroke-dasharray="4 2.5 1 2.5"/><line x1="0" y1="0" x2="0" y2="-270" stroke-width="1.8" stroke-opacity="0.26"/><line x1="0" y1="0" x2="190.9" y2="-190.9" stroke-width="1.8" stroke-opacity="0.26"/><line x1="0" y1="0" x2="270" y2="0" stroke-width="1.8" stroke-opacity="0.26"/><line x1="0" y1="0" x2="190.9" y2="190.9" stroke-width="1.8" stroke-opacity="0.26"/><line x1="0" y1="0" x2="0" y2="270" stroke-width="1.8" stroke-opacity="0.26"/><line x1="0" y1="0" x2="-190.9" y2="190.9" stroke-width="1.8" stroke-opacity="0.26"/><line x1="0" y1="0" x2="-270" y2="0" stroke-width="1.8" stroke-opacity="0.26"/><line x1="0" y1="0" x2="-190.9" y2="-190.9" stroke-width="1.8" stroke-opacity="0.26"/></g>
<g fill="#8f8f8f"><text x="-18.8" y="-222.0" font-size="28" textLength="39.6" lengthAdjust="spacingAndGlyphs">0°E</text><text x="-196.1" y="-155.3" font-size="28" textLength="65.1" lengthAdjust="spacingAndGlyphs">45°W</text><text x="137.7" y="-155.3" font-size="28" textLength="52.0" lengthAdjust="spacingAndGlyphs">45°E</text><text x="-263.4" y="10.5" font-size="28" textLength="63.6" lengthAdjust="spacingAndGlyphs">90°W</text><text x="205.3" y="10.3" font-size="28" textLength="54.4" lengthAdjust="spacingAndGlyphs">90°E</text><text x="29.3" y="51.2" font-size="28" textLength="54.4" lengthAdjust="spacingAndGlyphs">80°S</text><text x="87.8" y="92.1" font-size="28" textLength="51.2" lengthAdjust="spacingAndGlyphs">70°S</text><text x="144.9" y="134.1" font-size="28" textLength="54.0" lengthAdjust="spacingAndGlyphs">60°S</text><text x="-203.1" y="173.6" font-size="28" textLength="78.4" lengthAdjust="spacingAndGlyphs">135°W</text><text x="130.2" y="173.9" font-size="28" textLength="68.0" lengthAdjust="spacingAndGlyphs">135°E</text></g>
<path d="M-249.4,-99.3 -227.8,-106.1 -226,-104 -231,-92 -235,-88 -236,-83 -240,-83 -241,-88 -244,-88 -245,-82 -249,-82 -252,-84 -256,-77 -258,-80 -254,-92 -251,-98Z" fill="#9a9a9a" stroke="#000" stroke-width="1.7" stroke-linejoin="round"/>
<ellipse cx="0" cy="1.3" rx="270.4" ry="271.3" fill="none" stroke="#000" stroke-width="4.2"/>
</g>
<g transform="translate(2047.7,2018.2)">
<g clip-path="url(#dom3)">
<rect x="-276" y="-276" width="552" height="552" fill="#3a4ba1"/>
<path fill="#4f84be" d="M-276 -276l552 0 0 552-552 0zM-144 26l-6 13 1 9 6 8 1 8 8 12 5 1 5-8 4 2-1 8 6 7-1 10 12 6 10 9 4-2 1-6 4-2 1 5-5 10 5 4 8 1 18-12 4-8-3-5 1-7-3-5-15-1-5-9-5 2-2-1-3-9-2 0-5 4-8-1-4-5-10-8 2-5 0-16-8-2-12-7z"/>
<path fill="#80b6da" d="M-276 -276l552 0 0 552-552 0zM-146 18l-4 6-4 15 6 27 17 22 3 8 9 10 3 2 10 0 11 13 19 5 27-4 8 1 6-2-2-7 3-13-2-7 2-5-3-8-9-7-23 4-6-9-16-15-10-5-6-8-5-12-9-10-13 0-10-2z"/>
<path fill="#b2dfee" d="M-276 -276l552 0 0 552-552 0zM-154 -24l-1 3 0 5 6 7 3 8 5 2 4 8-12 2-5 10-3 23 6 25 27 42 8 5 7 0 10 10 10 3 25 2 28-2 7 5 15-2 4-13-4-10 1-13-3-6-25-24-8-1-7 5-2-1 2-8-3-3-20-5-10-13-5 3-5-2-19-27-17-3 4-7-4-10 0-8-4-7-7-4zM-104 -105l-2 9 2 4 15 12 8 1 4-2 0-5-4-11-10-7zM11 114l-2 5 2 12 5 3 6 0 3-3-1-2-8-13-2-2zM46 -156l-7 5 0 2 7 7 8 1 10 9 7 0 9-7-1-3-13-4-7-9-8-3zM111 -114l-3 3 1 5 12 5 4 10 5 2 9 15 5 2 5-1 1-6-4-10-5-4-9-1-1-10-10-9-5-2zM-89 -75l-3 6 13 9 10-1 5-5-7-7z"/>
<path fill="#e1f5f8" d="M-276 -276l63 0 2 3 5 2 1-5 66 0 3 3 5 0 5 5 3-8 8 0 1 6 3 0 5-6 159 0 8 5 7-5 18 0 8 3 5-3 120 0 1 5 4 2 7-4 3-3 42 0 0 68-5 2-2 2 0 3 7 5 0 38-4 2-3 5 2 5 5 4 0 107-2 1 2 2 0 280-4 6 4 4 0 18-224 0-8-4-8 4-117 0 3-5-3-4-3 4 1 5-93 0-1-2-7-3-5 5-39 0-3-2-3 2-16 0 1-2-5-3-2 1-1 4-19 0 0-59 5 1 6-4-1-3-10-5 0-57 5 3 2-3-7-5 0-92 5-1 2-2-5-8 8-10-3-2-7 2 0-150 7-7-5-8 3-5-2-5-3-1 0-40 11 1 0-2-11-6 0-59 5-2 0-3-5-1zM-251 -140l-3 4 0 3 9-3 0-3zM-246 -243l-3 4 3 4 5-6zM-229 -111l-2 2-1 8 1 3 2 1 3-2 2-7-2-5zM-221 221l-4 5 1 3 5 0 5-8-5-2zM-216 103l-3 1 0 3 5 1 5-2zM-211 -107l-4 11 1 3 4-1 4-10-3-4zM-201 -155l-4 4-1 5 6-5 1-3zM-194 -66l-1 2 4 2 8-2-6-3zM-176 -259l-1 10 3 2 8 0 3-4-2-8zM-154 -264l-4 3 4 3 2-3zM-151 -239l-5 5-5 1 10 4 4-7-2-3zM-134 -75l0 4 3 1 2-4zM-124 -258l0 7-3 5 3 7 3-1 1-4-3-7 1-3zM-104 -209l-13 3 8 1 8 9 2-1 4-9-4-4zM-66 -250l1 9 9 12 2-1 2-6-3-8 1-6zM-46 -241l-1 2 2 5 6 1 3-6-3-2zM-31 -101l-2 5 2 3 8-3 1-3-2-2-5-2zM-6 -266l-4 5 6 2 2-2zM4 -222l-3 1 2 2 8 9 0-8zM26 -182l3 8-8 14-2 2-8-4-3 3 6 18 27 10 10-3 5 5 13 4 15 0 5-8 8-3 3-8-1-2-8 3-2 0 0-6-3-2-7 2-5-1-8-16-5 3-7-1-8-7-10 1-5-11-2-2zM49 -194l-2 3 2 2 5-5zM59 -182l-4 3 2 3 4 0 3-5zM66 -231l-2 2 1 3 6 0 0-5-2-2zM89 -241l0 3 7 10 3 2 2-2 2-3-2-3zM109 -181l0 5 5 2 2-1 0-5zM119 -271l-5 2 0 3 12 9 3-1 2-8-2-7zM149 -229l-13 5-1 3 4 3 5-5 5 0 2-6zM166 21l-3 3 6 3 1-3zM171 -252l-2 4 7 14 5 2-2-9 2-8-5-3zM184 -114l-4 3 6 1 1-1zM189 39l-2 5 4 3 1-6zM199 -269l-3 5 3 4 6-6-1-5zM206 211l3 7 1-7-1-2zM219 -110l-3 4 2 2-5 5 3 2 5-9 0-3zM226 -259l0 5 16 0-1-3zM251 -219l3 6 5 2 1-5-1-4zM264 111l-4 3 1 4 3 0 1-4zM-266 231l-2 3 0 2 4 5 3-5-3-5zM-269 129l-3 2 1 6 5-1 6-5-4-3zM-271 -79l0 2 5 1 5 7 2-1 2-4-1-2zM-249 -39l-2 3 5 2 0-4zM-231 153l-2 3 2 3 6 0 3-3-7-5zM-206 -82l-2 1 0 2 4 5 3-6zM-184 6l-6 8 4 3 7-6-2-6zM-176 -8l-2 2 1 7 9 5 3-5-1-4zM-151 -29l-10 3 0 7 7 13-2 12-4 10 2 10-3 13 2 20-2 2-6 0 6 0 2 3 17 30 7 7 4 18 10 0 10 5 10 8 12 3 45-1 13 3 17 2 8-3 2-2 0-10 8-4 1 6-3 8 1 5 18 4 8-6 10-1 7-7 0-4-2-2-13 1-7-2-8-14-7-3-8 5-5-1-1-10-6-10-12-13-8-5-5-9-13-3-15-17-5 1-5 5-5-1-1-6 3-12-2-5-2 0-5 7-13 1-10-21-13-7-2-15-10-15zM-104 -111l-11 5-3 15-6 5 3 7 7 0 10 17 13 1 7 5 3 5 25-11 4-7 6-4 7 1 3-2 0-4-4-6 2-7-2-10-4-4-7 1-13-5-10 3-7-4zM-6 -216l-10 10 1 5 4 3 8-6 0-10zM4 -139l-6 3-1 5 7 1 8-9-1-1zM21 87l-2 3 0 3 9-2-2-3zM26 -14l-3 3 1 3 3-1zM34 -34l-2 3 2 3 7 1 3-2zM49 -79l-5 3 0 2 2 4 3 1 3-7zM66 -27l0 6 3 1 1-4-1-3zM76 -84l-5 5 3 6 4-8 0-3zM86 -57l1 3 7 4 1-1-4-7zM99 -222l-1 6 3 3 3-6-3-4zM151 -211l-4 2-1 8 5 5 4-3 0-10 0-2zM169 33l-14 11-1 10 4 15-9 3-6 7 3 15 3 2 10-1 1 9 4 2 3-2 6-13 0-7 4-8 4-32-7-12zM174 -152l0 10 5 0 1-2-1-5zM191 107l-1 4 4 2 1-2 0-2zM199 69l-5 6-1 4 8 2 0 4 3 1 2-2-1-3-3-2-1-7zM211 -67l-2 1 0 2 5 3 5 7 2-2 2-3-2-2zM234 -186l-4 5 4 3 3-3-1-4zM239 -169l-3 3 0 7 13 2 2-1-7-6-1-5zM256 1l0 3 3 1 2-1 0-3zM-264 48l3 15 9 1-4 7 1 3 6 2 7-2-4-19zM-249 -22l-1 3 5 8 1 10 4-10zM-201 126l-3 5 5 2 2-4-1-3zM-186 175l-2 1 2 3 5-3zM-151 165l-3 2 0 6 4-4zM-141 211l-5 3 0 2 5 2 6-4zM-126 235l-2 4 4 0 1-3zM-96 155l0 4 2 1 4-1 1-3-2-2zM-59 196l-5 4-10 4-1 2 6 4 8-7 15 4 2-2 2-6-2-3-7 3zM-29 243l-2 6 2 5 0 7 3 2 2 0-1-19-1-3zM-11 175l-2 1 2 3 6-3zM1 178l-2 6 7 2 1-7zM14 161l-2 3 2 2 6 0 1-5-2-1zM29 184l-2 7 1 3 3 0 2 0-2-8zM-84 -34l-7 2-5 5-6 3 3 12 10 0 1-12 4-3 8-2zM-9 -35l-1 4 1 2 6 0 3-2-4-4zM1 56l0 5 3 0 2-5-2-2zM9 -91l-2 2 4 4 3-4 0-2zM26 34l-2 2 0 5 5 5 3-7zM59 201l-2 3 2 3 2 3 3 0 1-9zM101 -121l-6 2 0 3 9 15 13 5 1 5-2 7 8 1 2 1 13 16 7 0 6-3 3-7-2-13-15-12 1-4 10 2 3-1 1-2-12-11-10 2-10-6-10 2zM149 263l0 4 5 2 7-2 1-3-1-2-7 3zM171 122l-1 2 1 2 4 0zM181 162l-2 2 1 2 4 2 2-2 0-2zM211 23l0 4 6-1-3-4zM219 -20l-3 6 3 4 3-1-1-7zM229 103l-9 6-1 2 2 8-4 7 12 8 8-8-9-5-4-5 2-6 8-4 1-2zM231 36l-1 3 3 5 3 15 4-5-4-10 1-5-2-3zM241 -87l-4 3 2 5 2 0 2-5zM249 -94l-3 5 8 2 1-2-1-2zM-249 193l-2 6 5 1 7 5 8-1 2-3-5-4-10-4zM-199 247l-1 2 0 2 4 1 1-3zM-176 113l-3 3 3 9zM-174 147l-2 2 2 3 6-3zM-139 247l-2 2 5 7 5 2 2-2 0-9zM-66 266l0 5 3 0 3-2-1-3zM-46 233l-1 3 3 3 6-3 0-2-3-2zM31 213l-1 6 4 1 1-6zM109 11l-3 3 3 6 7 1 4-2-6-8zM124 55l0 5 2 1 3-2 0-3zM171 198l-2 1-2 5 4 2 4-2 0-3zM181 243l-2 2-1 4 1 3 2 2 5-5zM229 141l-1 5 3 1 2-3-2-3zM-244 232l-2 2 1 2 4 3 1-5zM-176 190l-4 4 1 2 8-2 2-3zM119 91l-2 3 1 2 3 1 5-3 1-3-3-2zM131 154l-2 7 3 3 4-1 2-4zM231 185l-2 3-1 8 3 3 2 0 2-10zM124 130l-2 4 7 2 1-2-1-4z"/>
<path fill="#ffffc0" d="M-159 -276l10 0-7 5-3-1zM34 -276l12 0-2 7 7 5 0 3-15 1-1-1 4-8-4-2zM-35 -266l4-2 2 1 0 5-2 2-3-1zM77 -266l7 0-3 3-3-1zM-95 -264l4-1 5 3 3 11-2 2-6 2-3-1zM-255 -259l3 0 0 3-2 5-2 1-2-4zM268 -256l8-2 0 7-7 1-3-4zM-25 -251l4 0-3 5-3-3zM-5 -251l4-1 2 3-2 2zM29 -251l7 0 5 5-3 2-6 0zM-139 -246l3 2 0 4-3 1zM154 -244l5 0 6 3 4 10-1 2-4 2-3-3-8-9zM8 -241l6 0 2 2-5 4zM131 -239l3 0 3 5-4 0-3-2zM-145 -226l4-2 4 9-2 9-8-9zM215 -219l6-1 1 4-3 2zM-250 -216l5 0 4 9 5 1 2 2 5 18-5 6-7 1-1-2 4-18-5-7-7-5zM54 -211l12-1 3 1 1 5-9 4-7 0-5-4zM-146 -206l7-2 3 4-5 4-5-3zM-67 -199l8 3 18-2 12 3 8-2 8 6 1 2-4 8 5 10 8 7-9 15-1 13-9 7 1 13-28 4-10-2-10 1-10-4-32 3-11 5 0 10-2 5-10 8-5 1-10 0-7-9-10-5 1-30 7-15 12-7 14-18 11-9 15-7 22-4 8-7zM167 -189l5 0 1 5-4 1-3-3zM83 -186l3-2 1 2-3 9zM143 -186l1-2 4 4 6 14 0 4-11-13zM215 -184l4-1 0 1 0 5-3 4-4-1zM-207 -181l6 0 0 5-5 2-3-5zM-270 -176l4-1 4 1 0 2-7 2zM-276 -166l2-2 3 2-1 12-1 3-3 0zM-236 -166l2 0 0 5-4 0-1-3zM178 -166l4 2-1 3-2 2-3-2zM192 -159l5 0-1 7-5 0-3-2 0-2zM225 -149l4-1 2 1 0 6-6-3zM245 -149l11 7 1 3-6 7-7 2-4-1 5-8zM-180 -144l4-1 3 1-3 4-5-1zM221 -129l7 3-2 2-5 1-2-3zM270 -121l4 0 1 2-4 7-3-4zM-8 -116l4-2 3 4-5 7-5-2zM-272 -111l7 0-3 2-6 0zM-244 -109l3-2 2 2-2 4zM205 -91l1-2 5 1 5 3 1 3-3 2-5 1zM-186 -86l2-1 4 3-1 5-7-2zM-4 -86l3 0 6 5-1 7-5-1zM-242 -81l3-2 2 2-2 7-3-2zM85 -79l6-2 3 5-3 3-5 0-2-3zM164 -79l20 5 2 10 5 8 2 22 8 20-6 8 3 12-4 8 0 12-3 1-12-2-10-10-9-4 6-10 0-5-4-7 0-10-4-8 2-10-4-7 5-8-3-7zM-226 -76l5 1 2 1-1 3-4 2-4-2zM36 -74l3 2 2 6-2 1-5-4zM9 -69l5 0 1 3-6 1zM-25 -61l6 0 0 5-5-1-1-2zM238 -61l6-2 2 2 1 5-3 3-5 0zM-121 -54l5 0-1 8 4 5-8 10-10-3-10 2-13-4 10-6 8 2 2-4-1-5zM-164 -41l3-1 1 3-4 2zM23 -41l3 2-1 8-4 3-2-2 0-4zM-234 -39l7 0-4 5-4-2zM71 -34l3-2 5 4 0 6-3-1zM233 -31l3-2 3 1 5 8 0 10-3 2zM-4 -24l6 3-3 4-6-2-1-2zM81 -11l5-1 2 3-7 4-2-1zM272 -11l4-1 0 13-4-5zM-232 -9l6 0 3 5-3 2-4-2zM57 -9l9-1 3 1 1 5-4 4-5 2-3-3zM-212 -1l3 0 4 7-4 7-2 0-4-4zM142 -1l4-1 2 3-4 2-3-2zM-88 1l5 0 7 8-5 1-8-1-2-3zM246 11l3-2 3 7zM-49 24l3-2 5 4 2 8-9-3zM-238 29l7 0 2 2-9 8 1 7-4 3-7-5zM-9 29l8-2 6 7 1 4-5 0-7-3-3-4zM55 36l1-2 4 2-1 6zM272 44l4-1 0 8-5 0-4-2 1-3zM23 56l3 0 3 3 0 5-3 3-5-1-1-2zM-276 71l0-1 2 0 2 4-4 3zM250 74l6 2 5 8-7 5-5-8zM47 91l5 0-1 5-5 0zM197 96l4-2 2 2-2 7-4-2zM-269 101l5 0 5 8-7 1-5-1-2-3zM69 101l2 0 1 3-5 12-12 0-1-3zM-233 109l4 0 5 2 2 5-2 4-2 1-8-7zM26 109l0-2 3 2 1 5 1 2-2 2-5-3zM246 114l3-2 3 2-3 3-3-1zM202 116l4-2 5 5-1 2-7 8-2 6-2-1-2-3 4-5-1-7zM53 134l6-1 7 2 8-3 17 5 8-2 6 16 0 8-6 6-13 2-8 7-2 5 8-5 2 1-4 11-12-7-14-1-5-10-7 1-8 5-4-3-3-25 1-2 4-1 7 4 3 0zM-112 136l3 1 2 4-4 4-4-4zM-75 139l9-2 12 3 13-3 10 4 25 3 9 7-4 5-1 10-4 3-10 1-13 5-7-5-13 3-5-6 0 4 2 3-7 2-4-2 0-5-2-5-4-3-7 0-11-15 3-6zM-209 141l5-1 2 4-2 3-5 0zM260 154l9 1 4 4-2 2-13 0-1-5zM-117 161l6-2 3 2-2 8-4 3-5-3 0-5zM165 164l9 8 0 6-10-1-3-2 0-4zM-174 166l3-2 5 6 3 1-1 13-5 0-3-3 3-7zM-266 171l2-2 5 1 3 6-3 1zM190 174l5 0 1 2-1 3-4 1-2-1zM-78 179l4-2 0 7-5 1-1-1zM-240 186l1-2 3 1 4 4-4 2zM54 189l5-2 1 4-4 1zM160 189l4-1 1 3-4 5-2 1-2-3zM-216 196l5 1-3 5-4-1zM132 196l7-1 7 9-5 3-10 0-1-3zM-272 199l3-2 5 2-5 1zM-26 206l5 0 3 3-3 7-5-4zM164 214l2-2 4 2 2 5-1 2-5 0zM-60 219l5 2-1 5-8 0-1-2zM-184 221l3-2 8 5-1 6-2 2-5-2zM-100 226l14 8 4 7-2 2-5 1-7-9-8-3 0-3zM1 226l3 2 0 6 4 5-2 3-4-3zM-249 246l0-2 3 2 0 6-3-1zM-181 246l8 0 4 3 0 2-10 5-4 0-2-5zM126 246l4 3-1 3-6-3zM258 256l3-1 1 4-3 5-3 0zM-111 261l7 5-1 5-4 3-7-2-2 4-5 0 0-7zM23 264l6 1 0 4-15 7-2-7 4-4zM-17 269l3-2 3 9-7 0zM230 269l2 0 1 7-7 0zM256 274l5-1 3 3-9 0z"/>
<path fill="#fee292" d="M-72 -191l3-1 8 2 15-3 12 3 5 4 7 15 5 5 0 5-6 5-4 15-8 10 1 9-7-1-28 5-4-3 0-8-3-1-3 6-4 3-6 1-7-3-8 4-7 0-15 5-2 18-13 7-5-1-14-11-1-25 2-5 10-13 13-10 11-15 11-5 8 0 4-5 7-2 6-1 8 2zM-44 -150l-3 4 1 2 4-2zM-114 -152l-5 3 8 9 2-3 1-6zM-86 -162l-3 3 8 0 0-2-3-2zM165 -64l9 0 7 4 6 6 4 30-3 18 1 20-3 5-10-2-4-6 1-17-3-15-6-10-1-15 2-8zM-44 141l15 6 8-1 7 2 3 4-8 10-20 1-3-2-4-10-1-7zM74 141l7 0 3 3 0 15-8 7-15 5-10-12 1-8 7-9 7 3z"/>
<path fill="#fdb062" d="M-64 -136l5-1 2 3-4 7-3 0-1-4zM-155 -129l4-2 7 6 8 0 4 4 1 20-8 8-7-1-6-7 1-8-6-10zM172 -51l7-2 3 4 3 18-4 8-7-2-6-6z"/>
<path fill="#f67b46" d="M-146 -116l7-2 2 2 2 10-4 6-5-9z"/>
</g>
<use href="#shelf" fill="#fff"/>
<path fill="#fff" d="M-158,-106 -150,-104 -140,-92 -128,-80 -112,-70 -100,-62 -118,-63 -140,-66 -150,-78 -155,-92Z"/>
<path fill="#fff" d="M-14,-146 4,-146 8,-131 -14,-131Z"/>
<use href="#land" fill="#fff" stroke="#fff" stroke-width="5"/>
<line x1="0" y1="80" x2="0" y2="268" stroke="#fff" stroke-width="2"/>
<use href="#land" fill="#d6d6d6"/>
<!--grid-->
<use href="#land" fill="none" stroke="#000" stroke-width="2.2" stroke-linejoin="round"/>
<use href="#isl" fill="#d6d6d6" stroke="#000" stroke-width="2" stroke-linejoin="round"/>
<g fill="none" stroke="#808080"><circle r="69" stroke-width="1.2" stroke-opacity="0.55" stroke-dasharray="4 2.5 1 2.5"/><circle r="139" stroke-width="1.2" stroke-opacity="0.55" stroke-dasharray="4 2.5 1 2.5"/><circle r="211" stroke-width="1.2" stroke-opacity="0.55" stroke-dasharray="4 2.5 1 2.5"/><line x1="0" y1="0" x2="0" y2="-270" stroke-width="1.8" stroke-opacity="0.26"/><line x1="0" y1="0" x2="190.9" y2="-190.9" stroke-width="1.8" stroke-opacity="0.26"/><line x1="0" y1="0" x2="270" y2="0" stroke-width="1.8" stroke-opacity="0.26"/><line x1="0" y1="0" x2="190.9" y2="190.9" stroke-width="1.8" stroke-opacity="0.26"/><line x1="0" y1="0" x2="0" y2="270" stroke-width="1.8" stroke-opacity="0.26"/><line x1="0" y1="0" x2="-190.9" y2="190.9" stroke-width="1.8" stroke-opacity="0.26"/><line x1="0" y1="0" x2="-270" y2="0" stroke-width="1.8" stroke-opacity="0.26"/><line x1="0" y1="0" x2="-190.9" y2="-190.9" stroke-width="1.8" stroke-opacity="0.26"/></g>
<g fill="#8f8f8f"><text x="-18.8" y="-222.0" font-size="28" textLength="39.6" lengthAdjust="spacingAndGlyphs">0°E</text><text x="-196.1" y="-155.3" font-size="28" textLength="65.1" lengthAdjust="spacingAndGlyphs">45°W</text><text x="137.7" y="-155.3" font-size="28" textLength="52.0" lengthAdjust="spacingAndGlyphs">45°E</text><text x="-263.4" y="10.5" font-size="28" textLength="63.6" lengthAdjust="spacingAndGlyphs">90°W</text><text x="205.3" y="10.3" font-size="28" textLength="54.4" lengthAdjust="spacingAndGlyphs">90°E</text><text x="29.3" y="51.2" font-size="28" textLength="54.4" lengthAdjust="spacingAndGlyphs">80°S</text><text x="87.8" y="92.1" font-size="28" textLength="51.2" lengthAdjust="spacingAndGlyphs">70°S</text><text x="144.9" y="134.1" font-size="28" textLength="54.0" lengthAdjust="spacingAndGlyphs">60°S</text><text x="-203.1" y="173.6" font-size="28" textLength="78.4" lengthAdjust="spacingAndGlyphs">135°W</text><text x="130.2" y="173.9" font-size="28" textLength="68.0" lengthAdjust="spacingAndGlyphs">135°E</text></g>
<path d="M-249.4,-99.3 -227.8,-106.1 -226,-104 -231,-92 -235,-88 -236,-83 -240,-83 -241,-88 -244,-88 -245,-82 -249,-82 -252,-84 -256,-77 -258,-80 -254,-92 -251,-98Z" fill="#9a9a9a" stroke="#000" stroke-width="1.7" stroke-linejoin="round"/>
<ellipse cx="0" cy="1.3" rx="270.4" ry="271.3" fill="none" stroke="#000" stroke-width="4.2"/>
</g>
<g fill="#000"><text x="299.3" y="56.8" font-size="56" textLength="177.5" lengthAdjust="spacingAndGlyphs">Winter</text><text x="792.1" y="56.8" font-size="56" textLength="167.6" lengthAdjust="spacingAndGlyphs">Spring</text><text x="1287.0" y="56.8" font-size="56" textLength="222.3" lengthAdjust="spacingAndGlyphs">Summer</text><text x="1788.2" y="56.8" font-size="56" textLength="211.4" lengthAdjust="spacingAndGlyphs">Autumn</text><text transform="rotate(-90)" x="-499.6" y="54.7" font-size="60" textLength="293.4" lengthAdjust="spacingAndGlyphs" xml:space="preserve" style="white-space:pre">P1  mode 1</text><text transform="rotate(-90)" x="-1054.8" y="54.7" font-size="60" textLength="293.4" lengthAdjust="spacingAndGlyphs" xml:space="preserve" style="white-space:pre">P1  mode 2</text><text transform="rotate(-90)" x="-1610.8" y="54.7" font-size="60" textLength="293.4" lengthAdjust="spacingAndGlyphs" xml:space="preserve" style="white-space:pre">P2  mode 1</text><text transform="rotate(-90)" x="-2167.6" y="54.7" font-size="60" textLength="293.4" lengthAdjust="spacingAndGlyphs" xml:space="preserve" style="white-space:pre">P2  mode 2</text><text x="95.3" y="156.5" font-size="51" textLength="93.3" lengthAdjust="spacingAndGlyphs">16%</text><text x="653.1" y="152.8" font-size="51" textLength="94.0" lengthAdjust="spacingAndGlyphs">14%</text><text x="1204.6" y="154.3" font-size="51" textLength="94.0" lengthAdjust="spacingAndGlyphs">15%</text><text x="1760.3" y="156.5" font-size="51" textLength="93.3" lengthAdjust="spacingAndGlyphs">15%</text><text x="91.4" y="711.0" font-size="51" textLength="93.6" lengthAdjust="spacingAndGlyphs">10%</text><text x="649.3" y="708.8" font-size="51" textLength="93.9" lengthAdjust="spacingAndGlyphs">10%</text><text x="1201.0" y="709.1" font-size="51" textLength="94.0" lengthAdjust="spacingAndGlyphs">10%</text><text x="1784.6" y="711.3" font-size="51" textLength="66.8" lengthAdjust="spacingAndGlyphs">9%</text><text x="90.5" y="1265.4" font-size="51" textLength="94.5" lengthAdjust="spacingAndGlyphs">21%</text><text x="648.9" y="1263.4" font-size="51" textLength="94.3" lengthAdjust="spacingAndGlyphs">17%</text><text x="1201.0" y="1265.4" font-size="51" textLength="94.0" lengthAdjust="spacingAndGlyphs">18%</text><text x="1755.5" y="1265.4" font-size="51" textLength="94.5" lengthAdjust="spacingAndGlyphs">20%</text><text x="91.2" y="1821.7" font-size="51" textLength="93.8" lengthAdjust="spacingAndGlyphs">11%</text><text x="649.3" y="1819.4" font-size="51" textLength="93.9" lengthAdjust="spacingAndGlyphs">14%</text><text x="1233.6" y="1819.9" font-size="51" textLength="68.3" lengthAdjust="spacingAndGlyphs">9%</text><text x="1756.4" y="1821.7" font-size="51" textLength="93.6" lengthAdjust="spacingAndGlyphs">12%</text></g>
<polygon points="440.3,2394 592.2,2369.8 592.2,2418.2" fill="#3a4ba1"/><rect x="591.7" y="2369.8" width="156.2" height="48.4" fill="#4f84be"/><rect x="747.4" y="2369.8" width="156.2" height="48.4" fill="#80b6da"/><rect x="903.1" y="2369.8" width="156.2" height="48.4" fill="#b2dfee"/><rect x="1058.8" y="2369.8" width="156.2" height="48.4" fill="#e1f5f8"/><rect x="1214.5" y="2369.8" width="156.2" height="48.4" fill="#ffffc0"/><rect x="1370.2" y="2369.8" width="156.2" height="48.4" fill="#fee292"/><rect x="1525.9" y="2369.8" width="156.2" height="48.4" fill="#fdb062"/><rect x="1681.6" y="2369.8" width="156.2" height="48.4" fill="#f67b46"/><polygon points="1836.8,2369.8 1991,2394 1836.8,2418.2" fill="#da3c2a"/><line x1="591.7" y1="2369.8" x2="1837.3" y2="2369.8" stroke="#333" stroke-width="1.5"/><g font-size="42" fill="#000" text-anchor="middle"><text x="590.7" y="2355.8">-4</text><text x="746.4" y="2355.8">-3</text><text x="902.1" y="2355.8">-2</text><text x="1057.8" y="2355.8">-1</text><text x="1214.5" y="2355.8">0</text><text x="1370.2" y="2355.8">1</text><text x="1525.9" y="2355.8">2</text><text x="1681.6" y="2355.8">3</text><text x="1837.3" y="2355.8">4</text></g><text x="1038.4" y="2484.9" font-size="60" textLength="369.3" lengthAdjust="spacingAndGlyphs">dimensionless</text>
</svg></body></html>
